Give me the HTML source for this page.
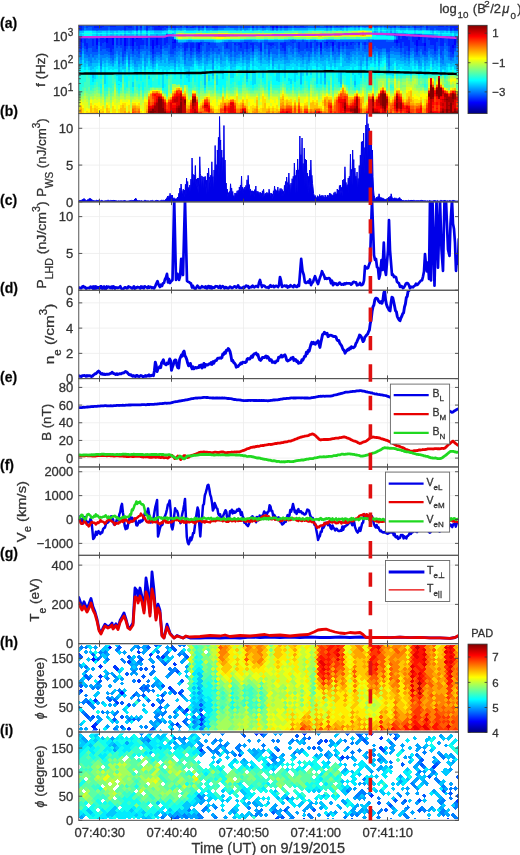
<!DOCTYPE html>
<html><head><meta charset="utf-8"><style>
html,body{margin:0;padding:0;background:#fff;overflow:hidden}
svg{display:block;will-change:transform}
</style></head><body>
<svg width="520" height="855" viewBox="0 0 520 855">
<rect width="520" height="855" fill="#fff"/><g stroke="#ececec" stroke-width="0.8"><line x1="99.5" y1="113.55" x2="99.5" y2="201.89999999999998"/><line x1="171.5" y1="113.55" x2="171.5" y2="201.89999999999998"/><line x1="243.5" y1="113.55" x2="243.5" y2="201.89999999999998"/><line x1="315.5" y1="113.55" x2="315.5" y2="201.89999999999998"/><line x1="387.5" y1="113.55" x2="387.5" y2="201.89999999999998"/><line x1="78.75" y1="201.90" x2="458.5" y2="201.90"/><line x1="78.75" y1="165.09" x2="458.5" y2="165.09"/><line x1="78.75" y1="128.28" x2="458.5" y2="128.28"/></g><g stroke="#ececec" stroke-width="0.8"><line x1="99.5" y1="201.89999999999998" x2="99.5" y2="290.25"/><line x1="171.5" y1="201.89999999999998" x2="171.5" y2="290.25"/><line x1="243.5" y1="201.89999999999998" x2="243.5" y2="290.25"/><line x1="315.5" y1="201.89999999999998" x2="315.5" y2="290.25"/><line x1="387.5" y1="201.89999999999998" x2="387.5" y2="290.25"/><line x1="78.75" y1="290.25" x2="458.5" y2="290.25"/><line x1="78.75" y1="253.44" x2="458.5" y2="253.44"/><line x1="78.75" y1="216.62" x2="458.5" y2="216.62"/></g><g stroke="#ececec" stroke-width="0.8"><line x1="99.5" y1="290.24999999999994" x2="99.5" y2="378.5999999999999"/><line x1="171.5" y1="290.24999999999994" x2="171.5" y2="378.5999999999999"/><line x1="243.5" y1="290.24999999999994" x2="243.5" y2="378.5999999999999"/><line x1="315.5" y1="290.24999999999994" x2="315.5" y2="378.5999999999999"/><line x1="387.5" y1="290.24999999999994" x2="387.5" y2="378.5999999999999"/><line x1="78.75" y1="378.60" x2="458.5" y2="378.60"/><line x1="78.75" y1="353.36" x2="458.5" y2="353.36"/><line x1="78.75" y1="328.12" x2="458.5" y2="328.12"/><line x1="78.75" y1="302.87" x2="458.5" y2="302.87"/></g><g stroke="#ececec" stroke-width="0.8"><line x1="99.5" y1="378.59999999999997" x2="99.5" y2="466.94999999999993"/><line x1="171.5" y1="378.59999999999997" x2="171.5" y2="466.94999999999993"/><line x1="243.5" y1="378.59999999999997" x2="243.5" y2="466.94999999999993"/><line x1="315.5" y1="378.59999999999997" x2="315.5" y2="466.94999999999993"/><line x1="387.5" y1="378.59999999999997" x2="387.5" y2="466.94999999999993"/><line x1="78.75" y1="458.10" x2="458.5" y2="458.10"/><line x1="78.75" y1="440.43" x2="458.5" y2="440.43"/><line x1="78.75" y1="422.76" x2="458.5" y2="422.76"/><line x1="78.75" y1="405.09" x2="458.5" y2="405.09"/><line x1="78.75" y1="387.42" x2="458.5" y2="387.42"/></g><g stroke="#ececec" stroke-width="0.8"><line x1="99.5" y1="466.95" x2="99.5" y2="555.3"/><line x1="171.5" y1="466.95" x2="171.5" y2="555.3"/><line x1="243.5" y1="466.95" x2="243.5" y2="555.3"/><line x1="315.5" y1="466.95" x2="315.5" y2="555.3"/><line x1="387.5" y1="466.95" x2="387.5" y2="555.3"/><line x1="78.75" y1="543.38" x2="458.5" y2="543.38"/><line x1="78.75" y1="519.50" x2="458.5" y2="519.50"/><line x1="78.75" y1="495.62" x2="458.5" y2="495.62"/><line x1="78.75" y1="471.74" x2="458.5" y2="471.74"/></g><g stroke="#ececec" stroke-width="0.8"><line x1="99.5" y1="555.3" x2="99.5" y2="643.65"/><line x1="171.5" y1="555.3" x2="171.5" y2="643.65"/><line x1="243.5" y1="555.3" x2="243.5" y2="643.65"/><line x1="315.5" y1="555.3" x2="315.5" y2="643.65"/><line x1="387.5" y1="555.3" x2="387.5" y2="643.65"/><line x1="78.75" y1="643.65" x2="458.5" y2="643.65"/><line x1="78.75" y1="604.39" x2="458.5" y2="604.39"/><line x1="78.75" y1="565.13" x2="458.5" y2="565.13"/></g><defs><clipPath id="cpa"><rect x="78.75" y="25.2" width="379.75" height="88.35"/></clipPath><clipPath id="cpb"><rect x="78.75" y="113.55" width="379.75" height="88.35"/></clipPath><clipPath id="cpc"><rect x="78.75" y="201.89999999999998" width="379.75" height="88.35"/></clipPath><clipPath id="cpd"><rect x="78.75" y="290.24999999999994" width="379.75" height="88.35"/></clipPath><clipPath id="cpe"><rect x="78.75" y="378.59999999999997" width="379.75" height="88.35"/></clipPath><clipPath id="cpf"><rect x="78.75" y="466.95" width="379.75" height="88.35"/></clipPath><clipPath id="cpg"><rect x="78.75" y="555.3" width="379.75" height="88.35"/></clipPath><clipPath id="cph"><rect x="78.75" y="643.65" width="379.75" height="88.35"/></clipPath><clipPath id="cpi"><rect x="78.75" y="732.0" width="379.75" height="88.35"/></clipPath><clipPath id="cqh"><rect x="78.75" y="645.10" width="379.75" height="85.45"/></clipPath><clipPath id="cqi"><rect x="78.75" y="733.45" width="379.75" height="85.45"/></clipPath></defs><g clip-path="url(#cpa)" shape-rendering="crispEdges"><g fill="none" stroke-width="2"><path stroke="#0000ff" d="M79 25v1.5M81 38.5v3M97 37v7.5M107 37v6M113 37v7.5M125 37v9M133 37v9M137 37v1.5M153 40v9M157 37v7.5M159 25v1.5M173 41.5v1.5M175 40v3M199 43v6M273 25v3M277 25v3M321 43v4.5M327 41.5v1.5M333 41.5v4.5M397 40v3M417 40v6M419 37v3M425 43v3M453 44.5v3M455 37v7.5"/><path stroke="#0020ff" d="M79 26.5v3M79 37v10.5M81 25v4.5M81 37v1.5M81 41.5v7.5M85 38.5v7.5M87 43v6M93 38.5v7.5M95 25v3M97 25v3M97 35.5v1.5M97 44.5v4.5M99 25v3M101 25v3M101 37v9M103 25v1.5M103 37v6M105 38.5v3M107 35.5v1.5M107 43v4.5M109 37v10.5M111 25v1.5M111 35.5v16.5M113 25v1.5M113 35.5v1.5M113 44.5v4.5M115 25v1.5M117 35.5v9M121 35.5v9M125 25v4.5M125 35.5v1.5M125 46v4.5M127 25v1.5M127 37v9M129 25v3M131 25v3M131 35.5v10.5M133 35.5v1.5M133 46v4.5M135 38.5v3M137 25v4.5M137 35.5v1.5M137 38.5v7.5M139 37v12M141 25v3M141 35.5v9M143 40v4.5M147 25v4.5M147 35.5v10.5M151 37v9M153 25v1.5M153 37v3M153 49v4.5M155 25v4.5M155 35.5v10.5M157 25v4.5M157 35.5v1.5M157 44.5v3M159 26.5v3M159 37v7.5M161 25v4.5M161 35.5v13.5M163 25v3M165 25v1.5M165 37v7.5M167 25v3M167 35.5v7.5M171 25v1.5M173 25v3M173 38.5v3M173 43v6M175 25v3M175 43v4.5M181 25v1.5M185 43v7.5M187 25v3M187 43v4.5M191 26.5v1.5M191 43v7.5M193 25v3M193 43v4.5M195 25v1.5M197 43v7.5M199 25v3M199 49v3M201 41.5v3M203 25v3M207 25v3M209 43v1.5M213 25v3M215 25v3M217 25v3M227 43v4.5M235 43v1.5M239 43v1.5M241 43v4.5M245 41.5v1.5M247 41.5v7.5M251 43v1.5M253 25v3M253 43v7.5M261 43v7.5M263 25v3M269 43v1.5M271 25v1.5M271 43v3M273 43v1.5M275 25v1.5M281 25v3M281 43v1.5M283 43v4.5M285 25v3M285 41.5v9M287 25v3M293 41.5v1.5M295 25v1.5M299 41.5v7.5M301 25v1.5M303 25v1.5M307 41.5v6M311 41.5v6M315 25v1.5M317 41.5v4.5M321 41.5v1.5M321 47.5v3M325 41.5v1.5M327 25v1.5M327 43v3M331 25v1.5M331 41.5v1.5M333 46v4.5M337 25v1.5M339 41.5v7.5M341 25v1.5M343 25v1.5M343 41.5v4.5M347 25v1.5M347 41.5v4.5M351 41.5v3M353 41.5v1.5M359 25v1.5M359 41.5v3M365 41.5v3M371 41.5v1.5M395 25v1.5M395 40v3M397 34v1.5M397 43v3M399 35.5v7.5M401 25v1.5M401 38.5v9M403 34v7.5M405 35.5v10.5M407 37v9M409 40v10.5M413 35.5v6M415 25v3M415 35.5v9M417 35.5v4.5M417 46v6M419 35.5v1.5M419 40v6M421 25v1.5M421 35.5v10.5M423 43v3M425 37v6M425 46v4.5M427 25v3M429 37v3M431 37v7.5M433 35.5v9M435 38.5v12M437 37v4.5M439 25v1.5M441 25v1.5M441 37v9M443 25v1.5M443 37v9M447 25v1.5M449 37v9M451 25v4.5M451 37v15M453 25v3M453 38.5v6M453 47.5v6M455 25v4.5M455 44.5v3M457 25v4.5M459 25v1.5"/><path stroke="#0060ff" d="M79 29.5v1.5M79 50.5v3M81 29.5v1.5M81 53.5v3M83 35.5v1.5M83 43v4.5M85 25v3M85 35.5v1.5M85 49v4.5M87 28v1.5M87 52v3M89 26.5v3M89 37v1.5M89 47.5v9M91 26.5v3M91 35.5v1.5M91 47.5v6M93 35.5v1.5M93 52v4.5M95 35.5v1.5M95 52v3M97 29.5v1.5M97 52v3M99 41.5v4.5M101 50.5v4.5M103 49v6M105 49v4.5M107 50.5v3M109 26.5v3M109 52v3M111 55v3M113 55v4.5M115 35.5v18M117 47.5v3M119 35.5v1.5M119 46v9M121 47.5v4.5M123 35.5v1.5M123 56.5v4.5M125 29.5v1.5M125 53.5v3M127 49v3M129 46v13.5M131 49v4.5M133 53.5v3M135 25v4.5M135 49v6M137 29.5v1.5M137 50.5v6M139 25v4.5M139 53.5v4.5M141 49v3M143 35.5v1.5M143 49v1.5M145 25v4.5M145 35.5v1.5M145 44.5v6M147 29.5v1.5M147 49v6M149 28v1.5M149 35.5v15M151 26.5v3M151 52v3M153 58v3M155 53.5v3M157 52v3M159 52v3M161 53.5v3M163 46v3M165 47.5v3M167 28v1.5M167 47.5v3M169 25v3M169 34v3M169 44.5v9M171 34v3M171 53.5v3M173 53.5v3M175 28v1.5M175 50.5v4.5M177 40v1.5M177 46v6M179 47.5v3M181 43v1.5M181 46v3M183 25v3M183 47.5v4.5M185 26.5v1.5M185 41.5v1.5M185 55v4.5M187 50.5v3M189 47.5v6M191 55v3M193 52v3M195 41.5v1.5M195 47.5v4.5M197 26.5v1.5M197 53.5v3M199 28v1.5M199 53.5v4.5M201 52v4.5M203 46v4.5M205 25v1.5M205 43v10.5M207 52v4.5M209 50.5v4.5M211 41.5v1.5M211 47.5v4.5M213 41.5v1.5M213 50.5v3M215 28v1.5M215 47.5v4.5M217 28v1.5M217 43v3M217 47.5v6M219 43v6M219 50.5v3M221 43v9M223 41.5v4.5M225 49v4.5M227 25v3M227 49v3M229 26.5v1.5M229 49v4.5M231 52v4.5M233 43v7.5M235 52v4.5M237 46v9M239 25v3M239 50.5v3M241 50.5v1.5M243 25v3M243 53.5v3M245 40v1.5M245 49v3M247 40v1.5M247 52v3M249 40v1.5M249 49v4.5M251 25v3M251 40v1.5M251 47.5v4.5M253 52v3M255 25v3M255 44.5v4.5M257 46v3M259 25v3M259 41.5v1.5M259 47.5v3M261 52v3M263 41.5v1.5M265 40v1.5M265 49v4.5M267 26.5v1.5M267 40v1.5M267 44.5v4.5M269 25v3M269 53.5v3M271 49v3M273 47.5v6M275 46v7.5M277 28v1.5M277 49v6M279 41.5v7.5M281 50.5v3M283 50.5v3M285 40v1.5M285 53.5v3M287 40v1.5M287 46v7.5M289 40v1.5M289 44.5v3M291 46v6M293 25v3M293 49v4.5M295 43v4.5M297 40v1.5M297 47.5v4.5M299 40v1.5M299 52v1.5M301 40v1.5M301 50.5v4.5M303 50.5v6M305 40v1.5M305 49v4.5M307 26.5v1.5M307 40v1.5M307 50.5v1.5M309 25v3M309 50.5v6M311 25v3M311 40v1.5M311 52v1.5M313 25v3M313 40v1.5M313 43v4.5M315 50.5v3M317 26.5v1.5M317 40v1.5M317 49v3M319 26.5v1.5M319 44.5v3M321 25v3M321 53.5v1.5M323 25v3M323 40v9M325 26.5v1.5M325 40v1.5M325 47.5v3M327 49v3M329 26.5v1.5M329 47.5v4.5M331 46v1.5M333 25v1.5M333 52v3M335 26.5v1.5M335 44.5v9M337 26.5v1.5M337 40v1.5M337 47.5v4.5M339 26.5v1.5M339 40v1.5M339 52v3M341 26.5v1.5M341 40v1.5M341 46v3M343 26.5v1.5M343 40v1.5M343 49v3M345 40v1.5M345 44.5v4.5M347 26.5v1.5M347 40v1.5M347 49v6M349 40v1.5M349 49v6M351 40v1.5M351 49v3M353 25v1.5M353 40v1.5M353 49v1.5M355 40v1.5M355 44.5v6M357 25v1.5M357 40v1.5M357 43v4.5M359 40v1.5M359 47.5v3M361 25v1.5M361 40v3M363 40v1.5M363 44.5v6M365 40v1.5M365 49v3M367 40v1.5M367 44.5v7.5M369 47.5v4.5M371 40v1.5M371 46v4.5M373 25v1.5M373 32.5v1.5M373 49v3M375 26.5v1.5M375 32.5v1.5M375 46v4.5M377 32.5v1.5M377 47.5v3M379 25v1.5M379 32.5v1.5M379 49v6M381 32.5v1.5M381 49v3M383 25v1.5M383 32.5v1.5M383 47.5v1.5M385 32.5v1.5M385 47.5v1.5M387 26.5v1.5M387 32.5v1.5M387 40v1.5M387 52v1.5M389 26.5v1.5M389 32.5v1.5M389 40v1.5M389 52v6M391 32.5v1.5M391 40v1.5M391 47.5v3M393 26.5v1.5M393 32.5v1.5M393 40v1.5M393 46v4.5M395 47.5v4.5M397 25v1.5M397 35.5v3M397 49v3M399 25v3M399 47.5v4.5M401 52v3M403 47.5v6M405 53.5v3M407 25v3M407 50.5v4.5M409 34v1.5M409 55v3M411 25v3M411 47.5v4.5M413 26.5v1.5M413 47.5v3M415 28v1.5M415 52v4.5M417 55v1.5M419 50.5v6M421 28v1.5M421 34v1.5M421 49v3M423 26.5v1.5M423 35.5v1.5M423 53.5v1.5M425 25v3M425 55v1.5M427 35.5v1.5M427 52v4.5M429 28v1.5M429 47.5v3M431 49v4.5M433 49v6M435 28v1.5M435 53.5v3M437 50.5v4.5M439 35.5v1.5M439 46v3M441 55v3M443 50.5v9M445 35.5v1.5M445 43v6M447 29.5v1.5M447 35.5v1.5M447 46v4.5M449 28v1.5M449 52v4.5M451 35.5v1.5M451 56.5v3M453 29.5v1.5M453 56.5v1.5M455 50.5v1.5M457 43v4.5M459 29.5v1.5M459 52v4.5M461 28v3M461 38.5v6M461 56.5v3"/><path stroke="#00bfff" d="M79 31v1.5M79 58v3M81 31v1.5M81 34v1.5M81 62.5v3M83 31v1.5M83 53.5v6M85 62.5v4.5M87 61v3M89 65.5v1.5M91 65.5v4.5M93 62.5v6M93 73v4.5M95 62.5v4.5M97 31v1.5M97 34v1.5M97 62.5v3M99 31v1.5M99 59.5v3M101 31v1.5M101 34v1.5M101 68.5v3M103 61v3M105 62.5v4.5M107 31v1.5M107 34v1.5M107 59.5v3M109 62.5v3M111 31v1.5M111 34v1.5M111 64v1.5M113 31v1.5M113 34v1.5M113 65.5v1.5M115 61v3M117 31v1.5M117 34v1.5M117 56.5v4.5M119 67v4.5M121 34v1.5M121 62.5v4.5M123 65.5v3M125 31v1.5M125 64v4.5M127 34v1.5M127 56.5v3M129 31v1.5M129 34v1.5M129 67v3M131 31v1.5M131 34v1.5M131 59.5v4.5M133 34v1.5M133 62.5v3M135 67v3M137 31v1.5M137 67v3M139 29.5v1.5M139 64v3M141 31v1.5M141 34v1.5M141 64v4.5M143 29.5v1.5M143 58v3M145 29.5v1.5M145 67v3M147 31v1.5M147 62.5v3M149 58v3M151 34v1.5M151 62.5v3M153 34v1.5M153 67v1.5M155 31v1.5M155 34v1.5M155 64v3M157 31v1.5M157 59.5v3M159 31v1.5M159 34v1.5M159 61v4.5M161 31v1.5M161 34v1.5M161 62.5v3M163 34v1.5M163 59.5v6M165 34v1.5M165 62.5v4.5M167 32.5v1.5M167 58v7.5M169 64v3M171 62.5v3M173 29.5v1.5M173 32.5v3M173 62.5v3M175 29.5v1.5M175 67v3M177 61v3M179 40v1.5M179 62.5v4.5M181 29.5v1.5M181 40v1.5M181 56.5v7.5M183 40v1.5M183 59.5v4.5M185 40v1.5M185 65.5v3M187 29.5v1.5M187 65.5v3M189 29.5v1.5M189 65.5v6M189 73v3M191 29.5v1.5M191 65.5v1.5M193 29.5v1.5M193 64v3M195 58v3M197 61v3M199 64v1.5M201 62.5v3M203 29.5v1.5M203 58v4.5M205 28v1.5M205 64v21M207 29.5v1.5M207 64v1.5M209 29.5v1.5M209 61v3M211 59.5v4.5M213 29.5v1.5M213 68.5v7.5M215 29.5v1.5M215 40v1.5M215 58v3M217 29.5v1.5M217 61v3M219 58v4.5M221 64v3M223 40v1.5M223 61v6M225 61v4.5M227 56.5v3M229 61v1.5M231 64v4.5M233 61v6M235 64v3M237 29.5v1.5M237 61v3M239 61v1.5M241 29.5v1.5M241 58v4.5M243 62.5v3M245 29.5v1.5M245 59.5v3M247 64v15M249 62.5v4.5M251 28v1.5M251 58v3M253 29.5v1.5M253 61v4.5M255 55v3M257 56.5v4.5M259 59.5v3M261 62.5v3M263 29.5v1.5M263 58v6M265 59.5v4.5M267 61v3M269 62.5v3M271 29.5v1.5M271 56.5v3M273 65.5v3M275 61v3M277 61v3M279 59.5v9M279 71.5v1.5M281 29.5v1.5M281 61v3M283 59.5v4.5M285 29.5v1.5M285 64v6M285 71.5v1.5M287 29.5v1.5M287 62.5v3M289 38.5v1.5M289 62.5v3M291 38.5v1.5M291 59.5v4.5M293 28v1.5M293 59.5v3M295 38.5v1.5M295 58v6M297 61v4.5M299 59.5v3M301 61v6M301 71.5v12M303 38.5v1.5M303 64v3M305 59.5v4.5M307 64v6M307 71.5v3M309 28v1.5M309 62.5v3M311 28v1.5M311 59.5v3M313 28v1.5M313 56.5v4.5M315 59.5v3M317 28v1.5M317 61v6M319 28v1.5M319 56.5v6M321 28v1.5M321 61v3M323 28v1.5M323 61v4.5M325 28v1.5M325 59.5v12M325 77.5v6M327 29.5v1.5M327 38.5v1.5M327 58v3M329 28v1.5M329 38.5v1.5M329 61v3M331 38.5v1.5M331 55v12M333 38.5v1.5M333 59.5v3M335 28v1.5M335 62.5v4.5M337 28v1.5M337 59.5v3M339 28v1.5M339 59.5v3M341 38.5v1.5M341 53.5v3M341 71.5v12M343 28v1.5M343 38.5v1.5M343 58v9M345 38.5v1.5M345 61v4.5M347 28v1.5M347 38.5v1.5M347 62.5v3M349 38.5v1.5M349 62.5v3M351 38.5v1.5M351 61v3M353 38.5v1.5M353 56.5v6M355 28v1.5M355 38.5v1.5M355 59.5v4.5M355 80.5v4.5M357 38.5v1.5M357 56.5v4.5M359 28v1.5M359 38.5v1.5M359 59.5v6M361 26.5v1.5M361 38.5v1.5M361 65.5v4.5M361 71.5v1.5M363 38.5v1.5M363 61v3M365 38.5v1.5M365 56.5v4.5M367 65.5v3M369 58v3M371 28v1.5M371 59.5v3M373 26.5v1.5M373 55v3M375 28v1.5M375 38.5v1.5M375 61v3M377 28v1.5M377 31v1.5M377 38.5v1.5M377 53.5v3M379 38.5v1.5M379 62.5v3M381 28v1.5M381 31v1.5M381 38.5v1.5M381 58v3M383 38.5v1.5M383 55v3M385 28v1.5M385 38.5v1.5M385 55v1.5M387 28v1.5M387 31v1.5M387 34v1.5M387 38.5v1.5M387 62.5v4.5M389 28v1.5M389 34v1.5M389 68.5v4.5M391 29.5v1.5M391 34v1.5M391 58v7.5M393 28v1.5M393 58v6M393 71.5v1.5M395 29.5v3M395 37v1.5M395 58v3M397 28v1.5M397 59.5v6M399 28v1.5M399 59.5v4.5M401 61v3M403 61v3M405 62.5v3M407 28v1.5M407 32.5v1.5M407 61v4.5M409 64v3M411 58v4.5M413 58v3M415 29.5v1.5M415 32.5v1.5M415 62.5v3M417 61v3M419 29.5v1.5M419 65.5v3M421 29.5v1.5M421 65.5v3M423 59.5v3M425 65.5v4.5M427 29.5v1.5M427 62.5v3M429 29.5v1.5M429 61v4.5M431 58v3M433 31v1.5M433 64v3M435 34v1.5M435 61v3M437 34v1.5M437 62.5v3M439 56.5v6M441 31v1.5M441 34v1.5M441 67v4.5M441 73v1.5M443 31v1.5M443 65.5v3M445 65.5v4.5M447 31v1.5M447 62.5v4.5M449 62.5v1.5M451 64v3M453 31v1.5M453 62.5v3M455 32.5v3M455 62.5v6M457 32.5v1.5M457 67v3M459 31v1.5M459 35.5v1.5M459 62.5v3M461 65.5v1.5"/><path stroke="#00dfff" d="M79 32.5v3M79 61v6M81 32.5v1.5M81 65.5v3M83 34v1.5M83 59.5v7.5M85 67v3M87 64v3M89 67v3M91 70v4.5M93 31v1.5M93 34v1.5M93 68.5v4.5M93 77.5v4.5M95 31v1.5M95 34v1.5M95 67v12M97 32.5v1.5M97 65.5v3M99 34v1.5M99 62.5v3M101 71.5v3M103 31v1.5M103 34v1.5M103 64v3M105 31v1.5M105 34v1.5M105 67v16.5M107 32.5v1.5M107 62.5v4.5M109 31v1.5M109 34v1.5M109 65.5v4.5M111 65.5v3M113 32.5v1.5M113 67v3M115 31v1.5M115 34v1.5M115 64v4.5M117 61v7.5M117 74.5v1.5M119 31v1.5M119 34v1.5M119 71.5v9M119 83.5v1.5M121 31v1.5M121 67v15M123 31v1.5M123 34v1.5M123 68.5v1.5M125 32.5v1.5M125 68.5v6M127 31v1.5M127 59.5v3M129 70v1.5M131 32.5v1.5M131 64v3M133 31v1.5M133 65.5v3M133 82v4.5M135 34v1.5M135 70v1.5M137 32.5v1.5M137 70v4.5M139 34v1.5M139 67v3M141 32.5v1.5M141 68.5v3M143 34v1.5M143 61v4.5M145 34v1.5M145 70v4.5M147 32.5v1.5M147 65.5v1.5M149 61v7.5M149 76v3M151 31v1.5M151 65.5v3M153 31v1.5M153 68.5v3M155 32.5v1.5M155 67v3M157 32.5v1.5M157 62.5v1.5M159 32.5v1.5M159 65.5v4.5M161 32.5v1.5M161 65.5v3M163 31v1.5M163 65.5v6M163 74.5v13.5M165 31v1.5M165 67v3M167 31v1.5M167 65.5v10.5M169 67v3M171 29.5v1.5M171 65.5v3M173 65.5v3M175 31v3M175 37v1.5M175 70v4.5M177 29.5v1.5M177 38.5v1.5M177 64v3M179 29.5v1.5M179 67v3M181 64v15M183 29.5v1.5M183 64v3M185 68.5v3M185 73v1.5M187 68.5v9M189 71.5v1.5M189 76v6M191 67v3M193 67v3M195 29.5v1.5M195 61v3M197 29.5v1.5M197 64v1.5M199 65.5v3M201 29.5v1.5M201 65.5v3M203 62.5v3M205 85v3M207 65.5v3M209 64v4.5M209 74.5v6M211 29.5v1.5M211 64v4.5M213 76v3M215 61v4.5M217 40v1.5M217 64v4.5M217 74.5v10.5M219 29.5v1.5M219 40v1.5M219 62.5v3M221 29.5v1.5M221 40v1.5M221 67v6M223 29.5v1.5M223 67v12M225 29.5v1.5M225 65.5v3M227 29.5v1.5M227 59.5v7.5M229 29.5v1.5M229 62.5v3M231 29.5v1.5M231 68.5v9M233 29.5v1.5M233 67v10.5M235 29.5v1.5M235 67v3M237 64v1.5M239 29.5v1.5M239 62.5v3M241 62.5v4.5M243 65.5v4.5M243 71.5v1.5M245 38.5v1.5M245 62.5v3M247 29.5v1.5M247 38.5v1.5M247 79v3M249 29.5v1.5M249 38.5v1.5M249 67v3M251 38.5v1.5M251 61v3M253 38.5v1.5M253 65.5v19.5M255 29.5v1.5M255 38.5v1.5M255 58v7.5M255 71.5v12M257 29.5v1.5M257 61v6M259 62.5v6M261 29.5v1.5M261 65.5v4.5M263 64v13.5M265 29.5v1.5M265 38.5v1.5M265 64v6M267 38.5v1.5M267 64v3M269 29.5v1.5M269 65.5v3M271 59.5v4.5M273 68.5v3M275 29.5v1.5M275 38.5v1.5M275 64v3M277 38.5v1.5M277 64v4.5M277 73v7.5M279 29.5v1.5M279 68.5v3M279 73v9M281 64v4.5M283 29.5v1.5M283 64v6M285 38.5v1.5M285 70v1.5M285 73v4.5M287 38.5v1.5M287 65.5v3M289 29.5v1.5M289 65.5v3M289 77.5v3M291 29.5v1.5M291 64v4.5M291 79v4.5M293 62.5v4.5M295 29.5v1.5M295 64v18M297 29.5v1.5M297 38.5v1.5M297 65.5v9M299 29.5v1.5M299 38.5v1.5M299 62.5v4.5M301 29.5v1.5M301 38.5v1.5M301 67v4.5M301 83.5v1.5M303 29.5v1.5M303 67v9M305 29.5v1.5M305 38.5v1.5M305 64v4.5M307 29.5v1.5M307 70v1.5M307 74.5v1.5M309 65.5v3M311 38.5v1.5M311 62.5v7.5M311 71.5v3M313 38.5v1.5M313 61v4.5M315 29.5v1.5M315 38.5v1.5M315 62.5v3M317 67v16.5M319 62.5v4.5M321 64v4.5M321 71.5v12M323 65.5v4.5M325 29.5v1.5M325 38.5v1.5M325 83.5v1.5M327 61v4.5M329 29.5v1.5M329 64v3M331 29.5v1.5M331 67v3M333 28v1.5M333 62.5v3M335 38.5v1.5M335 67v1.5M337 29.5v1.5M337 38.5v1.5M337 62.5v4.5M339 38.5v1.5M339 62.5v19.5M341 56.5v6M341 65.5v6M341 83.5v3M343 29.5v1.5M343 67v6M345 28v1.5M345 65.5v4.5M347 29.5v1.5M347 65.5v3M349 28v1.5M349 65.5v3M351 28v1.5M351 64v3M353 28v1.5M353 62.5v7.5M353 71.5v3M355 64v3M355 74.5v6M355 85v1.5M357 28v1.5M357 61v4.5M359 65.5v9M361 70v1.5M361 73v4.5M363 28v1.5M363 64v3M365 28v1.5M365 61v4.5M367 28v1.5M367 68.5v4.5M369 28v1.5M369 61v4.5M371 62.5v1.5M373 31v1.5M373 58v4.5M375 29.5v1.5M375 64v3M377 29.5v1.5M377 34v1.5M377 56.5v4.5M379 34v1.5M379 65.5v4.5M381 29.5v1.5M381 34v1.5M381 61v3M383 28v1.5M383 31v1.5M383 34v1.5M383 58v3M385 31v1.5M385 34v1.5M385 56.5v3M387 29.5v1.5M387 67v7.5M389 29.5v3M389 38.5v1.5M389 73v1.5M391 38.5v1.5M391 65.5v9M393 29.5v3M393 38.5v1.5M393 64v7.5M393 73v3M395 61v1.5M397 31v1.5M397 65.5v4.5M397 71.5v1.5M399 64v4.5M401 29.5v1.5M401 64v3M403 29.5v3M403 64v4.5M405 29.5v1.5M405 65.5v4.5M407 65.5v4.5M409 29.5v1.5M409 32.5v1.5M409 67v3M411 29.5v1.5M411 32.5v1.5M411 62.5v12M413 29.5v1.5M413 32.5v1.5M413 61v4.5M415 31v1.5M415 65.5v3M417 29.5v1.5M417 32.5v1.5M417 64v1.5M419 32.5v1.5M419 68.5v6M421 32.5v1.5M421 68.5v3M423 29.5v1.5M423 62.5v4.5M425 29.5v1.5M425 70v4.5M427 65.5v3M429 65.5v3M431 31v1.5M431 61v3M433 32.5v1.5M433 67v3M435 64v4.5M437 31v1.5M437 65.5v4.5M439 31v1.5M439 34v1.5M439 62.5v4.5M441 32.5v1.5M441 71.5v1.5M441 74.5v1.5M443 34v1.5M443 68.5v1.5M445 31v1.5M445 34v1.5M445 70v4.5M447 34v1.5M447 67v4.5M449 31v1.5M449 34v1.5M449 64v3M451 32.5v3M451 67v3M453 65.5v1.5M455 68.5v1.5M457 34v1.5M457 70v1.5M459 65.5v4.5M461 31v1.5M461 67v3"/><path stroke="#0040ff" d="M79 35.5v1.5M79 47.5v3M81 35.5v1.5M81 49v4.5M83 25v4.5M83 37v6M85 37v1.5M85 46v3M87 25v3M87 37v6M87 49v3M89 25v1.5M89 38.5v9M91 25v1.5M91 37v10.5M93 25v4.5M93 37v1.5M93 46v6M95 28v1.5M95 37v15M97 28v1.5M97 49v3M99 28v1.5M99 35.5v6M101 28v1.5M101 35.5v1.5M101 46v4.5M103 26.5v3M103 35.5v1.5M103 43v6M105 25v4.5M105 35.5v3M105 41.5v7.5M107 25v4.5M107 47.5v3M109 25v1.5M109 35.5v1.5M109 47.5v4.5M111 26.5v3M111 52v3M113 26.5v3M113 49v6M115 26.5v3M117 25v4.5M117 44.5v3M119 25v4.5M119 37v9M121 25v4.5M121 44.5v3M123 25v4.5M123 37v19.5M125 50.5v3M127 26.5v3M127 35.5v1.5M127 46v3M129 28v1.5M129 35.5v10.5M131 28v1.5M131 46v3M133 25v4.5M133 50.5v3M135 35.5v3M135 41.5v7.5M137 46v4.5M139 35.5v1.5M139 49v4.5M141 28v1.5M141 44.5v4.5M143 37v3M143 44.5v4.5M145 37v7.5M147 46v3M149 25v3M151 25v1.5M151 35.5v1.5M151 46v6M153 26.5v3M153 35.5v1.5M153 53.5v4.5M155 46v7.5M157 47.5v4.5M159 35.5v1.5M159 44.5v7.5M161 49v4.5M163 28v1.5M163 35.5v10.5M165 26.5v3M165 35.5v1.5M165 44.5v3M167 34v1.5M167 43v4.5M169 37v7.5M171 26.5v1.5M171 37v16.5M173 37v1.5M173 49v4.5M175 38.5v1.5M175 47.5v3M177 25v3M177 41.5v4.5M179 25v3M179 43v4.5M181 26.5v1.5M181 44.5v1.5M183 43v4.5M185 25v1.5M185 50.5v4.5M187 41.5v1.5M187 47.5v3M189 25v3M189 41.5v6M191 25v1.5M191 41.5v1.5M191 50.5v4.5M193 41.5v1.5M193 47.5v4.5M195 26.5v1.5M195 43v4.5M197 25v1.5M197 41.5v1.5M197 50.5v3M199 41.5v1.5M199 52v1.5M201 25v3M201 44.5v7.5M203 41.5v4.5M205 41.5v1.5M207 41.5v10.5M209 25v3M209 41.5v1.5M209 44.5v6M211 25v3M211 43v4.5M213 43v7.5M215 43v4.5M217 46v1.5M219 25v3M219 49v1.5M221 25v3M223 25v3M225 25v3M225 41.5v7.5M227 41.5v1.5M227 47.5v1.5M229 25v1.5M229 41.5v7.5M231 25v3M231 41.5v10.5M233 25v3M233 41.5v1.5M235 25v3M235 41.5v1.5M235 44.5v7.5M237 25v3M237 41.5v4.5M239 41.5v1.5M239 44.5v6M241 25v3M241 41.5v1.5M241 47.5v3M243 41.5v12M245 25v3M245 43v6M247 25v3M247 49v3M249 25v3M249 41.5v7.5M251 41.5v1.5M251 44.5v3M253 41.5v1.5M253 50.5v1.5M255 41.5v3M257 25v3M257 41.5v4.5M259 43v4.5M261 25v3M261 41.5v1.5M261 50.5v1.5M265 25v3M265 41.5v7.5M267 25v1.5M267 41.5v3M269 41.5v1.5M269 44.5v9M271 26.5v1.5M271 41.5v1.5M271 46v3M273 28v1.5M273 41.5v1.5M273 44.5v3M275 26.5v1.5M275 41.5v4.5M277 41.5v7.5M279 25v3M281 41.5v1.5M281 44.5v6M283 25v3M283 41.5v1.5M283 47.5v3M285 50.5v3M287 41.5v4.5M289 25v3M289 41.5v3M291 25v3M291 40v6M293 40v1.5M293 43v6M295 26.5v1.5M295 40v3M297 25v3M297 41.5v6M299 25v3M299 49v3M301 26.5v1.5M301 41.5v9M303 26.5v1.5M303 40v10.5M305 25v3M305 41.5v7.5M307 25v1.5M307 47.5v3M309 41.5v9M311 47.5v4.5M313 41.5v1.5M315 26.5v1.5M315 40v10.5M317 25v1.5M317 46v3M319 25v1.5M319 41.5v3M321 50.5v3M325 25v1.5M325 43v4.5M327 26.5v1.5M327 40v1.5M327 46v3M329 25v1.5M329 40v7.5M331 26.5v1.5M331 40v1.5M331 43v3M333 40v1.5M333 50.5v1.5M335 25v1.5M335 40v4.5M337 41.5v6M339 25v1.5M339 49v3M341 41.5v4.5M343 46v3M345 25v1.5M345 41.5v3M347 46v3M349 25v1.5M349 41.5v7.5M351 25v1.5M351 44.5v4.5M353 43v6M355 25v1.5M355 41.5v3M357 41.5v1.5M359 44.5v3M363 25v1.5M363 41.5v3M365 25v1.5M365 44.5v4.5M367 25v1.5M367 41.5v3M369 25v1.5M369 40v7.5M371 25v1.5M371 43v3M373 40v9M375 25v1.5M375 40v6M377 25v1.5M377 40v7.5M379 40v9M381 25v1.5M381 40v9M383 40v7.5M385 25v1.5M385 40v7.5M387 25v1.5M387 41.5v10.5M389 25v1.5M389 41.5v10.5M391 25v3M391 41.5v6M393 25v1.5M393 41.5v4.5M395 26.5v1.5M395 32.5v3M395 43v4.5M397 38.5v1.5M397 46v3M399 34v1.5M399 43v4.5M401 26.5v1.5M401 34v4.5M401 47.5v4.5M403 25v3M403 41.5v6M405 25v3M405 34v1.5M405 46v7.5M407 34v3M407 46v4.5M409 25v3M409 35.5v4.5M409 50.5v4.5M411 34v13.5M413 25v1.5M413 34v1.5M413 41.5v6M415 34v1.5M415 44.5v7.5M417 25v3M417 34v1.5M417 52v3M419 25v3M419 34v1.5M419 46v4.5M421 26.5v1.5M421 46v3M423 25v1.5M423 37v6M423 46v7.5M425 35.5v1.5M425 50.5v4.5M427 28v1.5M427 37v15M429 25v3M429 35.5v1.5M429 40v7.5M431 25v4.5M431 35.5v1.5M431 44.5v4.5M433 25v4.5M433 44.5v4.5M435 25v3M435 35.5v3M435 50.5v3M437 25v4.5M437 35.5v1.5M437 41.5v9M439 26.5v3M439 37v9M441 26.5v3M441 35.5v1.5M441 46v9M443 26.5v3M443 35.5v1.5M443 46v4.5M445 25v4.5M445 37v6M447 26.5v3M447 37v9M449 25v3M449 46v6M451 29.5v1.5M451 52v4.5M453 28v1.5M453 37v1.5M453 53.5v3M455 29.5v1.5M455 47.5v3M457 29.5v1.5M457 37v6M459 26.5v3M459 37v15M461 25v3M461 44.5v12"/><path stroke="#0080ff" d="M79 53.5v1.5M81 56.5v3M83 29.5v1.5M83 47.5v3M85 28v1.5M85 53.5v4.5M87 35.5v1.5M87 55v3M89 35.5v1.5M89 56.5v4.5M91 53.5v9M93 29.5v1.5M93 56.5v1.5M95 29.5v1.5M95 55v4.5M97 55v3M99 29.5v1.5M99 46v7.5M101 29.5v1.5M101 55v10.5M103 29.5v1.5M103 55v3M105 29.5v1.5M105 53.5v4.5M107 29.5v1.5M107 53.5v3M109 55v3M111 29.5v1.5M111 58v3M113 29.5v1.5M113 59.5v3M115 29.5v1.5M115 53.5v4.5M117 29.5v1.5M117 50.5v3M119 55v9M121 29.5v1.5M121 52v4.5M123 61v3M125 56.5v3M127 29.5v1.5M127 52v3M129 29.5v1.5M129 59.5v4.5M131 29.5v1.5M131 53.5v3M133 56.5v3M135 55v9M137 56.5v4.5M139 58v3M141 29.5v1.5M141 52v6M143 25v4.5M143 50.5v3M145 50.5v10.5M147 55v3M149 50.5v4.5M151 55v4.5M153 61v3M155 29.5v1.5M155 56.5v4.5M157 29.5v1.5M157 55v1.5M159 29.5v1.5M159 55v3M161 29.5v1.5M161 56.5v3M163 29.5v1.5M163 49v4.5M165 50.5v4.5M167 50.5v4.5M169 53.5v7.5M171 28v1.5M171 56.5v3M173 28v1.5M173 56.5v3M175 55v7.5M177 52v4.5M179 28v1.5M179 41.5v1.5M179 50.5v4.5M181 28v1.5M181 41.5v1.5M181 49v3M183 41.5v1.5M183 52v4.5M185 59.5v4.5M187 28v1.5M187 53.5v4.5M189 28v1.5M189 40v1.5M189 53.5v7.5M191 28v1.5M191 40v1.5M191 58v3M193 28v1.5M193 55v3M195 28v1.5M195 52v3M197 56.5v3M199 58v3M201 28v1.5M201 40v1.5M201 56.5v3M203 28v1.5M203 40v1.5M203 50.5v4.5M205 26.5v1.5M205 53.5v4.5M207 28v1.5M207 56.5v4.5M209 28v1.5M209 55v3M211 28v1.5M211 52v3M213 28v1.5M213 53.5v9M215 41.5v1.5M215 52v1.5M217 53.5v4.5M219 28v1.5M219 53.5v1.5M221 28v1.5M221 41.5v1.5M221 52v7.5M223 28v1.5M223 46v6M225 53.5v3M227 52v3M229 40v1.5M229 53.5v4.5M231 40v1.5M231 56.5v4.5M233 50.5v6M235 28v1.5M235 56.5v4.5M237 28v1.5M237 55v3M239 53.5v4.5M241 28v1.5M241 40v1.5M241 52v3M243 40v1.5M243 56.5v3M245 28v1.5M245 52v4.5M247 28v1.5M247 55v4.5M249 53.5v6M251 52v3M253 28v1.5M253 40v1.5M253 55v3M255 40v1.5M255 49v3M257 28v1.5M257 40v1.5M257 49v3M259 50.5v4.5M261 40v1.5M261 55v4.5M263 28v1.5M263 40v1.5M263 43v9M265 28v1.5M265 53.5v3M267 49v6M269 40v1.5M269 56.5v3M271 28v1.5M271 40v1.5M271 52v1.5M273 40v1.5M273 53.5v7.5M275 28v1.5M275 40v1.5M275 53.5v4.5M277 40v1.5M277 55v3M279 40v1.5M279 49v4.5M281 28v1.5M281 40v1.5M281 53.5v4.5M283 40v1.5M283 53.5v3M285 28v1.5M285 56.5v3M287 28v1.5M287 53.5v6M289 47.5v7.5M291 52v3M293 53.5v3M295 47.5v4.5M297 52v4.5M299 53.5v3M301 55v3M303 56.5v3M305 53.5v3M307 52v4.5M309 40v1.5M309 56.5v4.5M311 53.5v3M313 47.5v4.5M315 53.5v3M317 52v3M319 40v1.5M319 47.5v4.5M321 40v1.5M321 55v3M323 49v7.5M325 50.5v4.5M327 52v3M329 52v4.5M331 47.5v4.5M333 26.5v1.5M333 55v1.5M335 53.5v6M337 52v4.5M339 55v1.5M341 49v3M343 52v3M345 26.5v1.5M345 49v4.5M347 55v3M349 26.5v1.5M349 55v4.5M351 52v4.5M353 50.5v3M355 26.5v1.5M355 50.5v4.5M357 47.5v4.5M359 26.5v1.5M359 50.5v4.5M361 43v12M363 50.5v6M365 26.5v1.5M365 52v1.5M367 52v9M369 52v3M371 26.5v1.5M371 50.5v4.5M373 52v1.5M375 50.5v6M377 26.5v1.5M377 50.5v1.5M379 55v3M381 26.5v1.5M381 52v3M383 49v3M385 26.5v1.5M385 49v3M387 53.5v4.5M389 58v7.5M391 50.5v3M393 50.5v3M395 38.5v1.5M395 52v3M397 26.5v1.5M397 32.5v1.5M397 52v3M399 52v3M401 55v3M403 53.5v3M405 56.5v3M407 55v3M409 58v3M411 52v3M413 50.5v3M415 56.5v3M417 28v1.5M417 56.5v3M419 28v1.5M419 56.5v6M421 52v6M423 28v1.5M423 55v1.5M425 28v1.5M425 56.5v4.5M427 56.5v3M429 50.5v4.5M431 53.5v3M433 29.5v1.5M433 55v3M435 56.5v3M437 55v4.5M439 29.5v1.5M439 49v4.5M441 29.5v1.5M441 58v4.5M443 29.5v1.5M443 59.5v4.5M445 29.5v1.5M445 49v6M447 50.5v6M449 29.5v1.5M449 35.5v1.5M449 56.5v3M451 59.5v1.5M453 35.5v1.5M453 58v3M455 35.5v1.5M455 52v4.5M457 47.5v12M459 56.5v3M461 37v1.5M461 59.5v3"/><path stroke="#009fff" d="M79 55v3M81 59.5v3M83 50.5v3M85 29.5v1.5M85 58v4.5M87 29.5v1.5M87 58v3M89 29.5v1.5M89 61v4.5M91 29.5v1.5M91 62.5v3M93 58v4.5M95 59.5v3M97 58v4.5M99 53.5v6M101 65.5v3M103 58v3M105 58v4.5M107 56.5v3M109 29.5v1.5M109 58v4.5M111 61v3M113 62.5v3M115 58v3M117 53.5v3M119 29.5v1.5M119 64v3M121 56.5v6M123 29.5v1.5M123 64v1.5M125 34v1.5M125 59.5v4.5M127 55v1.5M129 64v3M131 56.5v3M133 29.5v1.5M133 59.5v3M135 29.5v1.5M135 64v3M137 34v1.5M137 61v6M139 61v3M141 58v6M143 53.5v4.5M145 61v6M147 34v1.5M147 58v4.5M149 29.5v1.5M149 55v3M151 29.5v1.5M151 59.5v3M153 29.5v1.5M153 64v3M155 61v3M157 34v1.5M157 56.5v3M159 58v3M161 59.5v3M163 53.5v6M165 29.5v1.5M165 55v7.5M167 29.5v1.5M167 55v3M169 28v1.5M169 61v3M171 59.5v3M173 35.5v1.5M173 59.5v3M175 62.5v4.5M177 28v1.5M177 56.5v4.5M179 55v7.5M181 52v4.5M183 28v1.5M183 56.5v3M185 28v1.5M185 64v1.5M187 40v1.5M187 58v7.5M189 61v4.5M191 61v4.5M193 40v1.5M193 58v6M195 40v1.5M195 55v3M197 28v1.5M197 40v1.5M197 59.5v1.5M199 29.5v1.5M199 40v1.5M199 61v3M201 59.5v3M203 55v3M205 40v1.5M205 58v6M207 40v1.5M207 61v3M209 40v1.5M209 58v3M211 40v1.5M211 55v4.5M213 40v1.5M213 62.5v6M215 53.5v4.5M217 41.5v1.5M217 58v3M219 41.5v1.5M219 55v3M221 59.5v4.5M223 52v9M225 28v1.5M225 40v1.5M225 56.5v4.5M227 28v1.5M227 40v1.5M227 55v1.5M229 28v1.5M229 58v3M231 28v1.5M231 61v3M233 28v1.5M233 40v1.5M233 56.5v4.5M235 40v1.5M235 61v3M237 40v1.5M237 58v3M239 28v1.5M239 40v1.5M239 58v3M241 55v3M243 28v1.5M243 59.5v3M245 56.5v3M247 59.5v4.5M249 28v1.5M249 59.5v3M251 55v3M253 58v3M255 28v1.5M255 52v3M257 52v4.5M259 28v1.5M259 40v1.5M259 55v4.5M261 28v1.5M261 59.5v3M263 52v6M265 56.5v3M267 28v1.5M267 55v6M269 28v1.5M269 59.5v3M271 53.5v3M273 29.5v1.5M273 61v4.5M275 58v3M277 29.5v1.5M277 58v3M279 28v1.5M279 53.5v6M281 58v3M283 28v1.5M283 56.5v3M285 59.5v4.5M287 59.5v3M289 28v1.5M289 55v7.5M291 28v1.5M291 55v4.5M293 38.5v1.5M293 56.5v3M295 28v1.5M295 52v6M297 28v1.5M297 56.5v4.5M299 28v1.5M299 56.5v3M301 28v1.5M301 58v3M303 28v1.5M303 59.5v4.5M305 28v1.5M305 56.5v3M307 28v1.5M307 56.5v7.5M309 61v1.5M311 56.5v3M313 52v4.5M315 28v1.5M315 56.5v3M317 55v6M319 52v4.5M321 58v3M323 56.5v4.5M325 55v4.5M325 71.5v6M327 28v1.5M327 55v3M329 56.5v4.5M331 28v1.5M331 52v3M333 56.5v3M335 59.5v3M337 56.5v3M339 56.5v3M341 28v1.5M341 52v1.5M343 55v3M345 53.5v7.5M347 58v4.5M349 59.5v3M351 26.5v1.5M351 56.5v4.5M353 26.5v1.5M353 53.5v3M355 55v4.5M357 26.5v1.5M357 52v4.5M359 55v4.5M361 55v10.5M363 26.5v1.5M363 56.5v4.5M365 53.5v3M367 26.5v1.5M367 38.5v1.5M367 61v4.5M369 26.5v1.5M369 38.5v1.5M369 55v3M371 38.5v1.5M371 55v4.5M373 38.5v1.5M373 53.5v1.5M375 31v1.5M375 56.5v4.5M377 52v1.5M379 26.5v1.5M379 58v4.5M381 55v3M383 26.5v1.5M383 52v3M385 52v3M387 58v4.5M389 65.5v3M391 28v1.5M391 31v1.5M391 53.5v4.5M393 34v1.5M393 53.5v4.5M395 28v1.5M395 35.5v1.5M395 55v3M397 55v4.5M399 32.5v1.5M399 55v4.5M401 28v1.5M401 32.5v1.5M401 58v3M403 28v1.5M403 32.5v1.5M403 56.5v4.5M405 28v1.5M405 32.5v1.5M405 59.5v3M407 58v3M409 28v1.5M409 61v3M411 28v1.5M411 55v3M413 28v1.5M413 53.5v4.5M415 59.5v3M417 59.5v1.5M419 62.5v3M421 58v7.5M423 34v1.5M423 56.5v3M425 34v1.5M425 61v4.5M427 34v1.5M427 59.5v3M429 34v1.5M429 55v6M431 29.5v1.5M431 34v1.5M431 56.5v1.5M433 34v1.5M433 58v6M435 29.5v1.5M435 59.5v1.5M437 29.5v1.5M437 59.5v3M439 53.5v3M441 62.5v4.5M443 64v1.5M445 55v10.5M447 56.5v6M449 59.5v3M451 31v1.5M451 61v3M453 61v1.5M455 31v1.5M455 56.5v6M457 31v1.5M457 35.5v1.5M457 59.5v7.5M459 59.5v3M461 62.5v3"/><path stroke="#00ffff" d="M79 67v9M81 68.5v3M83 32.5v1.5M83 67v4.5M85 31v1.5M85 34v1.5M85 70v3M87 31v1.5M87 34v1.5M87 67v3M89 31v1.5M89 34v1.5M89 70v3M91 31v1.5M91 34v1.5M91 74.5v10.5M93 32.5v1.5M93 82v3M95 32.5v1.5M95 79v3M97 68.5v10.5M99 32.5v1.5M99 65.5v4.5M101 32.5v1.5M101 74.5v4.5M101 83.5v4.5M103 32.5v1.5M103 67v4.5M105 32.5v1.5M105 83.5v4.5M107 67v19.5M109 32.5v1.5M109 70v3M111 32.5v1.5M111 68.5v6M113 70v1.5M115 68.5v6M117 32.5v1.5M117 68.5v6M117 76v9M119 32.5v1.5M119 80.5v3M119 85v4.5M121 32.5v1.5M121 82v4.5M123 70v3M125 74.5v7.5M127 32.5v1.5M127 62.5v4.5M127 76v10.5M129 32.5v1.5M129 71.5v4.5M131 67v4.5M133 32.5v1.5M133 68.5v4.5M133 74.5v7.5M133 86.5v4.5M135 31v1.5M135 71.5v4.5M137 74.5v6M139 31v1.5M139 70v3M139 83.5v4.5M141 71.5v9M143 31v1.5M143 65.5v4.5M143 82v7.5M145 31v1.5M145 74.5v4.5M147 67v3M149 31v1.5M149 34v1.5M149 68.5v7.5M149 79v6M151 32.5v1.5M151 68.5v4.5M151 77.5v9M153 32.5v1.5M153 71.5v3M155 70v4.5M157 64v4.5M159 70v15M161 68.5v4.5M163 32.5v1.5M163 71.5v3M163 88v1.5M165 32.5v1.5M165 70v4.5M165 83.5v3M167 76v3M169 29.5v1.5M169 32.5v1.5M169 70v3M171 32.5v1.5M171 68.5v1.5M173 31v1.5M173 68.5v6M175 74.5v4.5M177 67v6M179 70v4.5M181 79v6M183 67v6M185 29.5v1.5M185 71.5v1.5M185 74.5v10.5M187 31v1.5M187 77.5v7.5M189 31v1.5M189 38.5v1.5M189 82v4.5M191 31v1.5M191 38.5v1.5M191 70v12M193 31v1.5M193 70v4.5M195 31v1.5M195 64v18M197 65.5v3M199 68.5v4.5M199 74.5v12M201 68.5v4.5M203 65.5v10.5M205 29.5v1.5M205 88v1.5M207 31v1.5M207 68.5v1.5M209 68.5v6M209 80.5v4.5M211 68.5v7.5M211 82v3M213 79v6M215 65.5v3M217 68.5v6M217 85v4.5M219 65.5v6M219 79v7.5M221 73v16.5M223 79v6M225 68.5v19.5M227 67v9M229 65.5v3M231 77.5v6M233 77.5v4.5M235 70v6M237 65.5v3M239 65.5v3M239 80.5v4.5M241 38.5v1.5M241 67v4.5M241 74.5v10.5M243 29.5v1.5M243 38.5v1.5M243 70v1.5M243 73v4.5M245 65.5v4.5M247 82v3M249 70v9M251 29.5v1.5M251 64v4.5M251 80.5v4.5M253 85v3M255 65.5v6M255 83.5v1.5M257 38.5v1.5M257 67v3M259 29.5v1.5M259 38.5v1.5M259 68.5v9M261 38.5v1.5M261 70v3M263 38.5v1.5M263 77.5v4.5M265 70v13.5M267 29.5v1.5M267 67v3M269 38.5v1.5M269 68.5v4.5M269 80.5v9M271 38.5v1.5M271 64v12M273 38.5v1.5M273 71.5v13.5M275 67v4.5M275 76v9M277 68.5v4.5M277 80.5v4.5M279 38.5v1.5M279 82v3M281 38.5v1.5M281 68.5v13.5M283 38.5v1.5M283 70v6M285 77.5v3M287 68.5v3M287 83.5v1.5M289 68.5v9M289 80.5v4.5M291 68.5v10.5M291 83.5v4.5M293 29.5v1.5M293 67v13.5M295 82v4.5M297 74.5v6M299 67v4.5M299 76v3M301 85v3M303 76v7.5M305 68.5v4.5M307 38.5v1.5M307 76v4.5M309 29.5v1.5M309 38.5v1.5M309 68.5v3M309 76v12M311 29.5v1.5M311 70v1.5M311 74.5v3M313 29.5v1.5M313 65.5v3M315 65.5v3M317 29.5v1.5M317 38.5v1.5M317 83.5v3M319 29.5v1.5M319 67v4.5M319 77.5v6M321 29.5v1.5M321 38.5v1.5M321 68.5v3M321 83.5v1.5M323 29.5v1.5M323 38.5v1.5M323 70v10.5M325 85v1.5M327 65.5v3M329 67v3M329 80.5v4.5M331 70v3M333 65.5v21M335 29.5v1.5M335 68.5v4.5M337 67v10.5M339 29.5v1.5M339 82v1.5M341 29.5v1.5M341 62.5v3M343 73v1.5M345 70v6M347 68.5v16.5M349 68.5v16.5M351 67v4.5M353 70v1.5M353 74.5v6M355 67v7.5M355 86.5v1.5M357 65.5v19.5M359 74.5v9M361 28v1.5M361 77.5v3M363 67v3M365 65.5v12M367 73v3M369 65.5v10.5M369 77.5v6M371 64v3M373 28v1.5M373 34v1.5M373 37v1.5M373 62.5v4.5M375 34v1.5M375 37v1.5M375 67v7.5M377 35.5v3M377 61v6M379 28v1.5M379 31v1.5M379 35.5v3M379 70v4.5M381 35.5v3M381 64v3M383 35.5v3M383 61v6M385 29.5v1.5M385 35.5v3M385 59.5v3M387 35.5v3M387 74.5v1.5M389 35.5v3M391 35.5v3M391 74.5v1.5M393 35.5v3M393 76v1.5M395 62.5v3M397 29.5v1.5M397 70v1.5M397 73v3M399 29.5v3M399 68.5v4.5M401 31v1.5M401 67v7.5M403 68.5v6M405 31v1.5M405 70v4.5M407 29.5v3M407 70v4.5M409 31v1.5M409 70v4.5M411 31v1.5M411 74.5v1.5M413 31v1.5M413 65.5v4.5M415 68.5v3M417 31v1.5M417 65.5v4.5M419 31v1.5M419 74.5v1.5M421 31v1.5M421 71.5v3M423 32.5v1.5M423 67v7.5M425 31v3M425 74.5v1.5M427 31v3M427 68.5v6M429 31v3M429 68.5v3M431 32.5v1.5M431 64v3M433 70v4.5M435 31v1.5M435 68.5v4.5M437 32.5v1.5M437 70v4.5M439 67v4.5M443 32.5v1.5M443 70v3M445 32.5v1.5M445 74.5v1.5M447 32.5v1.5M447 71.5v3M449 32.5v1.5M449 67v4.5M451 70v1.5M453 32.5v3M453 67v3M455 70v3M457 71.5v1.5M459 32.5v3M459 70v1.5M461 35.5v1.5M461 70v1.5"/><path stroke="#20ffdf" d="M79 76v13.5M81 71.5v18M83 71.5v15M85 32.5v1.5M85 73v9M87 32.5v1.5M87 70v3M89 32.5v1.5M89 73v4.5M91 32.5v1.5M91 85v4.5M93 85v3M95 82v3M97 79v3M99 70v3M99 76v10.5M101 79v4.5M101 88v4.5M103 71.5v3M105 88v3M107 86.5v4.5M109 73v13.5M111 74.5v13.5M113 71.5v3M113 83.5v1.5M115 32.5v1.5M115 74.5v4.5M117 85v3M119 89.5v3M121 86.5v1.5M123 32.5v1.5M123 73v1.5M125 82v7.5M127 67v9M127 86.5v1.5M129 76v4.5M131 71.5v18M133 73v1.5M133 91v1.5M135 32.5v1.5M135 76v3M137 80.5v6M139 32.5v1.5M139 73v10.5M139 88v3M141 80.5v6M143 32.5v1.5M143 70v3M143 74.5v7.5M143 89.5v3M145 32.5v1.5M145 79v7.5M147 70v3M149 32.5v1.5M149 85v3M151 73v4.5M153 74.5v3M153 80.5v6M155 74.5v12M157 68.5v4.5M157 79v7.5M159 85v1.5M161 73v13.5M163 89.5v1.5M165 74.5v9M165 86.5v4.5M167 79v15M169 31v1.5M169 73v3M171 31v1.5M171 70v4.5M173 74.5v9M175 79v4.5M177 31v1.5M177 73v10.5M179 74.5v9M183 73v12M185 31v1.5M185 38.5v1.5M187 38.5v1.5M189 86.5v1.5M191 82v6M193 38.5v1.5M193 74.5v3M195 38.5v1.5M195 82v3M197 31v1.5M197 38.5v1.5M197 68.5v4.5M197 74.5v12M199 31v1.5M199 38.5v1.5M199 73v1.5M199 86.5v3M201 38.5v1.5M201 73v7.5M203 31v1.5M203 38.5v1.5M203 76v9M205 31v1.5M205 38.5v1.5M205 89.5v1.5M207 38.5v1.5M207 70v3M209 31v1.5M209 38.5v1.5M209 85v1.5M211 38.5v1.5M211 76v6M211 85v1.5M213 38.5v1.5M213 85v3M215 68.5v3M217 89.5v1.5M219 71.5v7.5M219 86.5v3M221 89.5v3M223 85v1.5M225 88v3M227 38.5v1.5M227 76v4.5M229 38.5v1.5M229 68.5v3M231 31v1.5M231 38.5v1.5M231 83.5v4.5M233 31v1.5M233 38.5v1.5M233 82v4.5M235 31v1.5M235 38.5v1.5M235 76v6M237 31v1.5M237 38.5v1.5M237 68.5v3M237 76v9M239 31v1.5M239 38.5v1.5M239 68.5v12M239 85v3M241 71.5v3M241 85v3M243 31v1.5M243 77.5v4.5M245 31v1.5M245 70v6M247 31v1.5M247 85v1.5M249 31v1.5M249 79v7.5M251 31v1.5M251 68.5v12M251 85v3M253 31v1.5M253 88v1.5M255 85v3M257 70v16.5M259 77.5v6M261 31v1.5M261 73v6M263 82v3M265 31v1.5M265 83.5v4.5M267 31v1.5M267 70v3M269 31v1.5M269 73v7.5M269 89.5v1.5M271 31v1.5M271 76v4.5M273 31v1.5M273 85v3M275 31v1.5M275 71.5v4.5M275 85v3M277 31v1.5M277 85v3M279 31v1.5M279 85v3M281 31v1.5M281 82v3M283 31v1.5M283 76v6M285 80.5v3M287 71.5v12M287 85v4.5M289 85v3M291 88v1.5M293 80.5v3M295 86.5v3M297 80.5v7.5M299 71.5v4.5M299 79v7.5M301 88v1.5M303 31v1.5M303 83.5v4.5M305 73v7.5M307 80.5v4.5M309 71.5v4.5M309 88v1.5M311 77.5v3M313 68.5v9M315 68.5v9M315 80.5v4.5M317 86.5v1.5M319 38.5v1.5M319 71.5v6M319 83.5v4.5M321 85v3M323 80.5v4.5M325 86.5v1.5M327 68.5v13.5M329 70v10.5M329 85v4.5M331 73v3M333 29.5v1.5M333 86.5v3M335 73v10.5M337 77.5v7.5M339 83.5v3M343 74.5v4.5M345 29.5v1.5M345 76v7.5M349 29.5v1.5M349 85v3M351 29.5v1.5M351 71.5v6M353 29.5v1.5M353 80.5v4.5M355 29.5v1.5M355 88v1.5M357 29.5v1.5M357 85v3M359 83.5v6M361 80.5v3M363 70v6M365 77.5v4.5M367 76v3M369 37v1.5M369 76v1.5M369 83.5v4.5M371 29.5v1.5M371 67v7.5M371 77.5v6M373 29.5v1.5M373 35.5v1.5M373 67v7.5M375 35.5v1.5M375 74.5v4.5M377 67v7.5M379 29.5v1.5M379 74.5v1.5M381 67v7.5M383 29.5v1.5M383 67v7.5M385 62.5v3M387 76v1.5M389 74.5v1.5M391 76v1.5M391 85v3M393 86.5v1.5M395 65.5v3M397 76v1.5M399 73v3M401 74.5v3M403 74.5v1.5M405 74.5v1.5M411 76v1.5M413 70v4.5M415 71.5v3M417 70v4.5M419 76v1.5M421 74.5v1.5M423 31v1.5M423 74.5v3M425 76v1.5M425 83.5v3M427 74.5v3M429 71.5v3M431 67v9M433 74.5v1.5M435 32.5v1.5M435 73v3M437 74.5v1.5M439 32.5v1.5M439 71.5v3M443 73v1.5M445 76v1.5M447 74.5v1.5M449 71.5v1.5M451 71.5v1.5M453 70v1.5M457 73v1.5M459 71.5v1.5M461 32.5v1.5M461 71.5v1.5"/><path stroke="#40ffbf" d="M79 89.5v6M81 89.5v3M83 86.5v4.5M85 82v6M87 73v18M89 77.5v9M91 89.5v1.5M93 88v3M95 85v3M97 82v4.5M99 73v3M99 86.5v3M101 92.5v1.5M103 74.5v4.5M105 91v4.5M107 91v3M109 86.5v1.5M111 88v4.5M113 74.5v9M113 85v6M115 79v3M117 88v3M119 92.5v1.5M121 88v3M123 74.5v3M125 89.5v3M127 88v3M129 80.5v7.5M131 89.5v3M133 92.5v1.5M135 79v7.5M137 86.5v3M139 91v3M141 86.5v3M143 73v1.5M143 92.5v3M145 86.5v4.5M147 73v16.5M149 88v1.5M151 86.5v1.5M153 77.5v3M155 86.5v1.5M157 73v6M157 86.5v1.5M159 86.5v1.5M161 86.5v1.5M165 91v1.5M167 94v1.5M169 76v3M171 74.5v15M175 34v3M177 83.5v1.5M179 31v1.5M179 38.5v1.5M181 31v1.5M181 38.5v1.5M181 85v1.5M183 31v1.5M183 38.5v1.5M183 85v3M189 88v3M191 88v3M193 77.5v10.5M195 85v1.5M197 73v1.5M197 86.5v3M199 89.5v3M201 31v1.5M201 80.5v7.5M203 85v3M205 91v1.5M207 73v1.5M207 82v4.5M209 86.5v3M211 31v1.5M211 86.5v3M213 31v1.5M213 88v1.5M215 31v1.5M215 38.5v1.5M217 31v1.5M217 91v1.5M219 89.5v3M221 92.5v1.5M223 38.5v1.5M223 86.5v1.5M225 38.5v1.5M225 91v1.5M227 80.5v6M229 31v1.5M229 71.5v18M231 88v3M233 86.5v3M235 82v4.5M237 71.5v4.5M237 85v1.5M239 88v3M241 31v1.5M241 88v3M243 82v3M245 76v7.5M247 86.5v1.5M249 86.5v3M251 88v3M253 89.5v1.5M255 31v1.5M255 88v1.5M257 31v1.5M257 86.5v3M259 31v1.5M259 83.5v4.5M261 79v6M263 31v1.5M263 85v1.5M265 88v1.5M267 73v13.5M269 91v3M271 80.5v3M273 88v1.5M275 88v1.5M277 88v1.5M279 88v3M281 85v1.5M283 82v1.5M285 31v1.5M285 83.5v3M287 31v1.5M287 89.5v1.5M289 31v1.5M289 88v3M291 31v1.5M291 89.5v1.5M293 31v1.5M293 83.5v3M295 89.5v1.5M297 88v3M299 31v1.5M299 86.5v3M301 31v1.5M301 89.5v1.5M303 88v1.5M305 31v1.5M305 80.5v7.5M307 31v1.5M307 85v3M309 89.5v1.5M311 80.5v3M313 77.5v7.5M315 77.5v3M315 85v3M317 88v1.5M319 88v3M321 88v1.5M323 85v1.5M325 88v1.5M327 82v3M329 89.5v1.5M331 76v1.5M333 89.5v1.5M335 83.5v3M337 85v3M339 86.5v1.5M341 86.5v1.5M343 79v3M345 37v1.5M345 83.5v1.5M347 85v1.5M349 88v1.5M351 77.5v9M353 85v4.5M355 89.5v1.5M357 37v1.5M357 88v1.5M359 29.5v1.5M359 37v1.5M359 89.5v1.5M361 83.5v3M363 76v7.5M365 82v3M367 29.5v1.5M367 37v1.5M367 79v10.5M369 29.5v1.5M369 88v1.5M371 37v1.5M371 74.5v3M371 83.5v6M373 74.5v4.5M375 79v9M377 74.5v3M379 76v1.5M381 74.5v1.5M383 74.5v1.5M385 65.5v9M387 77.5v10.5M389 76v1.5M391 77.5v1.5M391 83.5v1.5M391 88v1.5M393 77.5v1.5M393 83.5v3M393 88v1.5M395 68.5v3M397 77.5v1.5M399 76v1.5M401 77.5v1.5M403 76v1.5M405 76v1.5M407 74.5v1.5M409 74.5v1.5M411 77.5v1.5M417 74.5v1.5M419 77.5v1.5M421 76v1.5M423 77.5v1.5M423 83.5v1.5M425 77.5v6M425 86.5v1.5M427 77.5v1.5M427 83.5v4.5M429 74.5v1.5M431 76v1.5M435 76v3M439 74.5v1.5M443 74.5v1.5M445 77.5v1.5M449 73v1.5M451 73v1.5M453 71.5v1.5M455 73v1.5M457 74.5v1.5M459 73v1.5M461 34v1.5M461 73v1.5"/><path stroke="#60ff9f" d="M79 95.5v1.5M81 92.5v3M83 91v3M85 88v3M87 91v1.5M89 86.5v7.5M91 91v3M93 91v1.5M95 88v3M97 86.5v3M99 89.5v3M101 94v1.5M103 79v6M105 95.5v3M107 94v1.5M109 88v3M111 92.5v3M113 91v1.5M115 82v1.5M117 91v1.5M119 94v1.5M121 91v1.5M123 77.5v6M125 92.5v1.5M127 91v1.5M129 88v3M131 92.5v3M133 94v1.5M135 86.5v6M137 89.5v3M139 94v1.5M141 89.5v1.5M143 95.5v1.5M145 91v1.5M147 89.5v3M149 89.5v1.5M153 86.5v1.5M163 91v1.5M165 92.5v1.5M167 95.5v1.5M169 79v6M171 89.5v3M179 83.5v1.5M183 88v3M187 85v1.5M189 91v1.5M191 91v3M193 88v1.5M195 86.5v3M197 89.5v1.5M199 92.5v1.5M201 88v3M203 88v3M207 74.5v7.5M207 86.5v3M211 89.5v1.5M213 89.5v3M215 71.5v9M215 83.5v1.5M217 38.5v1.5M217 92.5v1.5M219 31v1.5M219 38.5v1.5M219 92.5v1.5M221 31v1.5M221 38.5v1.5M221 94v1.5M223 31v1.5M223 88v3M225 31v1.5M225 92.5v1.5M227 31v1.5M227 86.5v3M229 89.5v1.5M231 91v1.5M233 89.5v3M235 86.5v3M237 86.5v1.5M239 91v1.5M241 91v1.5M243 85v3M245 83.5v4.5M247 88v1.5M249 89.5v1.5M251 91v1.5M253 91v1.5M255 89.5v1.5M257 89.5v1.5M259 88v3M261 85v3M263 86.5v1.5M265 89.5v1.5M267 86.5v3M269 94v1.5M271 83.5v3M273 89.5v3M275 89.5v1.5M277 89.5v1.5M279 91v1.5M281 86.5v3M283 83.5v3M285 86.5v1.5M287 91v1.5M289 37v1.5M289 91v1.5M291 37v1.5M291 91v1.5M293 37v1.5M293 86.5v3M295 31v1.5M295 91v1.5M297 31v1.5M297 91v3M299 89.5v1.5M301 91v1.5M303 89.5v3M305 88v1.5M307 88v3M309 31v1.5M309 91v1.5M311 31v1.5M311 83.5v1.5M313 85v3M315 88v3M317 89.5v1.5M319 91v1.5M321 89.5v1.5M323 31v1.5M323 86.5v3M325 89.5v1.5M327 31v1.5M327 85v3M329 37v1.5M329 91v1.5M331 31v1.5M331 37v1.5M331 77.5v7.5M333 37v1.5M333 91v3M335 86.5v3M337 88v1.5M339 88v1.5M341 37v1.5M343 37v1.5M343 82v1.5M347 37v1.5M347 86.5v1.5M349 37v1.5M349 89.5v1.5M351 37v1.5M351 86.5v3M353 37v1.5M353 89.5v1.5M355 37v1.5M361 29.5v1.5M361 37v1.5M361 86.5v3M363 37v1.5M363 83.5v3M365 29.5v1.5M365 37v1.5M365 85v3M367 89.5v3M369 89.5v1.5M371 89.5v1.5M373 79v4.5M375 88v3M377 77.5v12M379 77.5v1.5M381 76v1.5M383 76v1.5M385 74.5v3M387 88v1.5M391 79v1.5M391 82v1.5M391 89.5v1.5M393 79v1.5M393 82v1.5M393 89.5v1.5M395 71.5v4.5M397 79v1.5M399 77.5v1.5M401 79v3M403 77.5v1.5M405 77.5v1.5M407 76v1.5M409 76v1.5M411 79v1.5M413 74.5v1.5M415 74.5v1.5M417 76v1.5M419 79v6M421 77.5v3M421 83.5v3M423 79v4.5M423 85v1.5M425 88v1.5M427 79v4.5M427 88v1.5M429 76v1.5M433 76v1.5M435 79v1.5M441 76v1.5M445 79v3M445 83.5v3M447 76v3M447 80.5v7.5M449 74.5v1.5M449 85v1.5M451 74.5v1.5M453 73v1.5M455 74.5v1.5M457 85v3M459 74.5v1.5"/><path stroke="#80ff80" d="M79 97v3M81 95.5v1.5M83 94v1.5M85 91v1.5M87 92.5v3M89 94v6M91 94v1.5M93 92.5v3M95 91v3M97 89.5v3M99 92.5v1.5M101 95.5v1.5M103 85v9M105 98.5v3M107 95.5v1.5M109 91v3M111 95.5v4.5M113 92.5v3M115 83.5v3M117 92.5v3M119 95.5v1.5M121 92.5v1.5M123 83.5v9M125 94v3M127 92.5v1.5M129 91v3M131 95.5v1.5M133 95.5v1.5M135 92.5v3M137 92.5v1.5M139 95.5v1.5M141 91v3M143 97v1.5M145 92.5v1.5M147 92.5v3M151 88v1.5M155 88v1.5M159 88v1.5M161 88v1.5M169 85v4.5M177 32.5v1.5M177 37v1.5M187 86.5v3M189 92.5v3M191 94v1.5M195 89.5v1.5M197 91v1.5M199 94v3M201 91v1.5M203 91v3M205 92.5v1.5M207 89.5v3M209 89.5v1.5M211 91v3M213 92.5v1.5M215 80.5v3M215 85v6M217 94v1.5M219 94v1.5M221 95.5v1.5M223 91v1.5M225 94v1.5M227 89.5v1.5M229 91v1.5M231 92.5v1.5M233 92.5v1.5M235 89.5v1.5M237 88v1.5M239 92.5v1.5M241 92.5v1.5M243 88v3M245 88v3M247 37v1.5M247 89.5v1.5M249 37v1.5M249 91v1.5M251 37v1.5M251 92.5v1.5M253 37v1.5M253 92.5v1.5M255 37v1.5M255 91v3M257 91v1.5M259 91v4.5M261 88v3M263 88v1.5M265 37v1.5M265 91v1.5M267 37v1.5M267 89.5v3M269 95.5v1.5M271 86.5v3M273 92.5v1.5M275 37v1.5M275 91v3M277 37v1.5M277 91v3M279 92.5v1.5M281 89.5v1.5M283 86.5v1.5M285 37v1.5M285 88v3M287 37v1.5M287 92.5v1.5M289 92.5v1.5M291 92.5v1.5M293 89.5v1.5M295 37v1.5M295 92.5v1.5M297 37v1.5M297 94v1.5M299 37v1.5M299 91v1.5M301 37v1.5M301 92.5v1.5M303 37v1.5M303 92.5v1.5M305 37v1.5M305 89.5v3M307 91v1.5M309 92.5v3M311 85v3M313 31v1.5M313 37v1.5M313 88v3M315 31v1.5M315 37v1.5M315 91v3M317 31v1.5M317 91v1.5M319 31v1.5M319 92.5v3M321 31v1.5M321 91v1.5M323 89.5v1.5M325 31v1.5M325 37v1.5M325 91v1.5M327 37v1.5M327 88v1.5M329 31v1.5M329 92.5v1.5M331 85v4.5M333 31v1.5M333 94v1.5M335 31v1.5M335 37v1.5M335 89.5v1.5M337 37v1.5M337 89.5v1.5M339 37v1.5M339 89.5v1.5M343 31v1.5M345 31v1.5M345 85v1.5M347 31v1.5M347 88v1.5M349 91v1.5M351 89.5v3M353 91v3M355 91v1.5M359 91v1.5M361 89.5v1.5M363 29.5v1.5M363 86.5v1.5M365 88v3M367 92.5v3M373 83.5v3M375 91v1.5M377 89.5v1.5M379 79v1.5M381 77.5v1.5M383 77.5v1.5M385 77.5v1.5M387 89.5v1.5M389 77.5v1.5M391 80.5v1.5M391 91v1.5M393 80.5v1.5M393 91v1.5M395 76v1.5M397 80.5v3M399 79v1.5M401 82v6M403 79v3M403 85v1.5M405 79v3M405 85v1.5M409 77.5v3M411 80.5v1.5M413 76v1.5M415 76v1.5M417 77.5v1.5M417 85v3M419 85v3M421 80.5v3M421 86.5v3M423 86.5v1.5M425 89.5v1.5M427 89.5v1.5M435 80.5v4.5M437 76v1.5M441 77.5v1.5M443 76v1.5M445 82v1.5M447 79v1.5M449 76v1.5M449 82v3M449 86.5v3M453 74.5v1.5M457 76v1.5M457 83.5v1.5M457 88v1.5M459 85v3M461 74.5v1.5"/><path stroke="#9fff60" d="M79 100v1.5M81 97v1.5M83 95.5v3M85 92.5v3M87 95.5v3M89 100v4.5M91 95.5v1.5M93 95.5v3M95 94v1.5M97 92.5v4.5M99 94v3M101 97v1.5M103 94v3M105 101.5v3M107 97v1.5M109 94v3M111 100v3M113 95.5v1.5M115 86.5v3M117 95.5v3M119 97v3M121 94v1.5M123 92.5v3M125 97v1.5M127 94v1.5M129 94v1.5M131 97v4.5M133 97v1.5M135 95.5v1.5M137 94v3M139 97v1.5M141 94v3M143 98.5v1.5M145 94v1.5M147 95.5v1.5M149 91v1.5M153 88v1.5M157 88v1.5M163 92.5v1.5M165 94v1.5M167 97v1.5M169 89.5v3M171 92.5v1.5M173 83.5v3M175 83.5v3M177 85v1.5M179 85v1.5M181 86.5v1.5M183 91v1.5M185 32.5v1.5M185 85v1.5M187 32.5v1.5M187 89.5v3M189 32.5v1.5M189 37v1.5M189 95.5v3M191 32.5v1.5M191 37v1.5M191 95.5v1.5M193 32.5v1.5M195 32.5v1.5M197 92.5v3M199 97v4.5M201 92.5v3M203 94v1.5M205 94v1.5M207 92.5v1.5M209 91v1.5M211 94v1.5M213 94v1.5M215 91v1.5M217 95.5v3M219 95.5v1.5M225 95.5v1.5M227 91v1.5M229 92.5v1.5M231 94v1.5M233 94v1.5M235 91v3M237 89.5v1.5M239 94v1.5M241 37v1.5M241 94v1.5M243 37v1.5M243 91v1.5M245 37v1.5M245 91v3M247 91v1.5M249 92.5v1.5M251 94v1.5M253 94v1.5M255 94v1.5M257 37v1.5M257 92.5v1.5M259 37v1.5M259 95.5v4.5M261 37v1.5M261 91v3M263 37v1.5M263 89.5v1.5M265 92.5v1.5M267 92.5v1.5M269 37v1.5M269 97v1.5M271 37v1.5M271 89.5v3M273 37v1.5M273 94v1.5M275 32.5v1.5M275 94v1.5M277 32.5v1.5M277 94v1.5M279 32.5v1.5M279 37v1.5M279 94v6M281 37v1.5M281 91v1.5M283 37v1.5M283 88v1.5M285 91v1.5M289 94v1.5M291 94v1.5M293 91v3M295 94v1.5M297 95.5v1.5M299 92.5v1.5M301 94v1.5M303 94v1.5M305 92.5v3M307 37v1.5M307 92.5v1.5M309 37v1.5M309 95.5v1.5M311 37v1.5M311 88v3M313 91v4.5M315 94v1.5M317 37v1.5M317 92.5v1.5M319 95.5v3M321 92.5v3M323 37v1.5M323 91v1.5M325 92.5v1.5M327 89.5v3M331 89.5v3M333 95.5v1.5M335 91v1.5M337 31v1.5M337 91v3M339 31v1.5M341 31v1.5M341 88v1.5M343 83.5v1.5M347 89.5v1.5M349 31v1.5M349 92.5v1.5M351 31v1.5M351 92.5v1.5M357 89.5v1.5M361 91v1.5M363 88v1.5M365 91v3M367 95.5v3M369 91v1.5M371 91v1.5M373 86.5v1.5M375 92.5v3M377 91v1.5M379 80.5v7.5M381 79v1.5M381 82v4.5M383 79v1.5M385 79v7.5M389 79v1.5M389 82v7.5M391 92.5v1.5M393 92.5v1.5M395 77.5v1.5M397 83.5v4.5M401 88v1.5M403 82v3M403 86.5v4.5M405 82v3M405 86.5v3M407 77.5v3M409 80.5v3M411 82v3M413 77.5v3M415 77.5v1.5M415 83.5v4.5M417 79v6M417 88v1.5M419 88v3M421 89.5v1.5M423 88v1.5M437 77.5v1.5M443 77.5v7.5M445 86.5v1.5M449 77.5v1.5M449 80.5v1.5M451 85v1.5M453 83.5v3M455 76v1.5M457 82v1.5M459 76v1.5M459 83.5v1.5M459 88v3"/><path stroke="#bfff40" d="M79 101.5v3M81 98.5v1.5M83 98.5v3M85 95.5v4.5M87 98.5v3M89 104.5v3M91 97v1.5M93 98.5v1.5M95 95.5v3M97 97v3M99 97v1.5M101 98.5v4.5M103 97v3M105 104.5v3M107 98.5v3M109 97v4.5M111 103v4.5M113 97v3M115 89.5v9M117 98.5v4.5M119 100v1.5M121 95.5v3M123 95.5v3M125 98.5v1.5M127 95.5v3M129 95.5v3M131 101.5v6M133 98.5v1.5M135 97v3M137 97v1.5M139 98.5v1.5M141 97v7.5M143 100v3M145 95.5v1.5M147 97v1.5M151 89.5v1.5M161 89.5v1.5M169 92.5v3M173 86.5v3M175 86.5v1.5M177 34v1.5M179 32.5v1.5M183 32.5v1.5M183 37v1.5M185 37v1.5M185 86.5v1.5M187 37v1.5M187 92.5v1.5M189 98.5v1.5M193 37v1.5M193 89.5v1.5M195 37v1.5M197 32.5v1.5M197 37v1.5M199 37v1.5M199 101.5v1.5M201 37v1.5M201 95.5v3M203 32.5v1.5M203 37v1.5M203 95.5v3M205 32.5v1.5M205 37v1.5M207 32.5v1.5M207 37v1.5M207 94v1.5M209 32.5v1.5M209 37v1.5M209 92.5v1.5M211 37v1.5M211 95.5v1.5M213 95.5v1.5M215 92.5v3M217 98.5v3M219 97v1.5M221 97v1.5M223 92.5v1.5M225 97v1.5M227 92.5v1.5M229 94v3M231 32.5v1.5M231 37v1.5M233 32.5v1.5M233 37v1.5M235 32.5v1.5M235 37v1.5M235 94v1.5M237 32.5v1.5M237 37v1.5M237 91v1.5M239 32.5v1.5M239 37v1.5M239 95.5v3M241 32.5v1.5M241 95.5v3M243 32.5v1.5M243 92.5v3M245 32.5v1.5M245 94v3M247 32.5v1.5M247 92.5v1.5M249 32.5v1.5M249 94v1.5M251 32.5v1.5M251 95.5v1.5M253 32.5v1.5M253 95.5v1.5M255 32.5v1.5M255 95.5v1.5M257 32.5v1.5M257 94v1.5M259 100v4.5M261 32.5v1.5M261 94v1.5M263 32.5v1.5M263 91v1.5M265 32.5v1.5M265 94v1.5M267 32.5v1.5M267 94v3M269 32.5v1.5M269 98.5v1.5M271 32.5v1.5M271 92.5v3M273 32.5v1.5M273 95.5v1.5M275 95.5v1.5M277 95.5v1.5M279 100v6M281 32.5v1.5M281 92.5v1.5M283 32.5v1.5M283 89.5v1.5M285 32.5v1.5M285 92.5v1.5M287 32.5v1.5M287 94v1.5M289 32.5v1.5M289 95.5v1.5M291 32.5v1.5M291 35.5v1.5M291 95.5v1.5M293 94v3M295 95.5v1.5M297 97v4.5M299 94v1.5M301 32.5v1.5M301 95.5v1.5M303 32.5v1.5M303 95.5v1.5M305 32.5v1.5M305 95.5v1.5M307 94v1.5M309 97v7.5M311 91v3M313 95.5v1.5M315 95.5v1.5M317 94v1.5M319 37v1.5M319 98.5v3M321 37v1.5M321 95.5v3M323 92.5v1.5M325 94v1.5M329 94v1.5M331 92.5v3M333 97v1.5M335 92.5v1.5M343 35.5v1.5M345 35.5v1.5M345 86.5v1.5M347 35.5v1.5M349 35.5v1.5M349 94v1.5M351 94v1.5M353 31v1.5M353 94v1.5M355 31v1.5M357 31v1.5M357 35.5v1.5M359 92.5v1.5M361 92.5v1.5M363 89.5v1.5M365 94v7.5M367 35.5v1.5M367 98.5v1.5M369 31v1.5M369 35.5v1.5M371 31v1.5M371 35.5v1.5M373 88v1.5M377 92.5v1.5M379 88v1.5M381 80.5v1.5M383 80.5v4.5M385 86.5v1.5M387 91v1.5M389 80.5v1.5M389 89.5v1.5M391 94v1.5M393 94v1.5M395 88v1.5M399 80.5v7.5M401 89.5v1.5M403 91v3M405 89.5v3M407 80.5v6M409 83.5v3M411 85v1.5M413 80.5v9M415 79v4.5M415 88v3M417 89.5v1.5M419 91v1.5M423 89.5v1.5M425 91v1.5M427 91v1.5M429 77.5v1.5M433 77.5v1.5M435 85v1.5M437 79v1.5M441 79v3M447 88v1.5M449 79v1.5M449 89.5v1.5M451 76v1.5M451 83.5v1.5M451 86.5v1.5M453 76v1.5M453 82v1.5M453 86.5v1.5M455 83.5v3M457 77.5v4.5M457 89.5v1.5M459 77.5v1.5M459 80.5v3M459 91v1.5M461 76v1.5M461 83.5v6"/><path stroke="#dfff20" d="M79 104.5v3M81 100v1.5M83 101.5v3M85 100v10.5M87 101.5v6M89 107.5v1.5M91 98.5v1.5M93 100v4.5M95 98.5v4.5M97 100v3M99 98.5v3M101 103v3M103 100v4.5M105 107.5v1.5M107 101.5v1.5M109 101.5v3M111 107.5v4.5M113 100v1.5M115 98.5v6M117 103v7.5M119 101.5v3M121 98.5v1.5M123 98.5v3M125 100v1.5M127 98.5v3M127 106v4.5M129 98.5v1.5M131 107.5v4.5M133 100v1.5M135 100v1.5M137 98.5v3M139 100v1.5M141 104.5v4.5M143 103v7.5M145 97v1.5M147 98.5v1.5M149 92.5v1.5M159 89.5v1.5M163 94v1.5M165 95.5v1.5M167 98.5v1.5M169 95.5v1.5M171 94v1.5M175 88v1.5M177 35.5v1.5M177 86.5v1.5M179 37v1.5M181 32.5v1.5M181 37v1.5M185 88v1.5M187 94v3M191 97v1.5M197 95.5v1.5M199 32.5v1.5M199 103v1.5M201 32.5v1.5M201 98.5v3M205 95.5v1.5M209 94v1.5M211 32.5v1.5M211 97v6M213 32.5v1.5M213 37v1.5M213 97v3M215 32.5v1.5M215 37v1.5M215 95.5v3M217 32.5v1.5M217 101.5v4.5M219 98.5v1.5M221 98.5v1.5M223 94v1.5M225 37v1.5M227 37v1.5M227 94v1.5M229 32.5v1.5M229 37v1.5M229 97v1.5M231 95.5v1.5M233 95.5v1.5M235 95.5v3M237 92.5v1.5M239 98.5v3M241 98.5v1.5M243 95.5v1.5M245 97v3M247 94v1.5M249 35.5v1.5M249 95.5v3M249 101.5v4.5M251 35.5v1.5M251 97v1.5M253 35.5v1.5M253 97v1.5M255 35.5v1.5M255 97v6M259 32.5v1.5M259 104.5v3M261 95.5v3M261 101.5v3M263 92.5v1.5M265 35.5v1.5M265 95.5v1.5M267 97v6M269 100v3M271 95.5v3M271 103v3M273 97v3M275 35.5v1.5M275 97v6M277 35.5v1.5M277 97v1.5M279 35.5v1.5M279 106v1.5M281 94v1.5M283 91v1.5M285 94v3M287 35.5v1.5M287 95.5v1.5M289 35.5v1.5M289 97v1.5M291 97v1.5M293 32.5v1.5M293 35.5v1.5M293 97v4.5M295 32.5v1.5M295 35.5v1.5M295 97v1.5M297 101.5v1.5M299 32.5v1.5M301 35.5v1.5M301 97v6M303 35.5v1.5M303 97v6M305 35.5v1.5M305 97v1.5M307 32.5v1.5M307 95.5v1.5M309 32.5v1.5M309 104.5v3M311 32.5v1.5M311 94v3M313 97v1.5M315 32.5v1.5M315 97v3M317 95.5v1.5M319 101.5v3M321 98.5v3M323 32.5v1.5M323 94v1.5M325 32.5v1.5M325 35.5v1.5M327 32.5v1.5M327 35.5v1.5M327 92.5v1.5M329 32.5v1.5M329 35.5v1.5M331 32.5v1.5M331 35.5v1.5M333 32.5v1.5M333 35.5v1.5M333 98.5v3M335 35.5v1.5M335 94v1.5M337 94v1.5M339 35.5v1.5M339 91v1.5M341 35.5v1.5M343 32.5v1.5M343 85v1.5M345 32.5v1.5M345 88v1.5M347 32.5v1.5M347 91v1.5M351 35.5v1.5M353 35.5v1.5M355 35.5v1.5M355 92.5v1.5M357 91v1.5M359 31v1.5M359 35.5v1.5M361 35.5v1.5M361 94v1.5M363 91v1.5M365 35.5v1.5M365 101.5v3M367 31v1.5M367 100v1.5M371 92.5v1.5M373 89.5v1.5M375 95.5v1.5M377 94v1.5M379 89.5v1.5M381 86.5v1.5M383 85v1.5M389 91v1.5M391 95.5v3M395 79v9M395 89.5v1.5M397 88v1.5M403 94v3M405 92.5v6M407 86.5v3M409 86.5v3M411 86.5v1.5M413 89.5v6M415 91v3M417 91v4.5M419 92.5v4.5M421 91v3M423 91v1.5M423 98.5v4.5M425 92.5v1.5M427 92.5v1.5M429 79v1.5M429 82v4.5M437 80.5v1.5M441 82v1.5M443 85v1.5M451 77.5v1.5M451 82v1.5M453 77.5v1.5M453 80.5v1.5M455 77.5v1.5M455 80.5v3M455 86.5v1.5M459 79v1.5M459 92.5v1.5M461 82v1.5M461 89.5v1.5"/><path stroke="#ffff00" d="M79 107.5v1.5M81 101.5v3M83 104.5v3M85 110.5v4.5M87 107.5v3M89 109v3M91 100v3M93 104.5v3M95 103v1.5M97 103v3M99 101.5v6M99 109v6M101 106v3M103 104.5v1.5M105 109v6M107 103v1.5M109 104.5v3M111 112v3M113 101.5v4.5M115 104.5v4.5M117 110.5v4.5M119 104.5v4.5M121 100v4.5M123 101.5v1.5M125 101.5v1.5M127 101.5v4.5M127 110.5v1.5M129 100v4.5M131 112v3M133 101.5v1.5M135 101.5v1.5M137 101.5v3M139 101.5v1.5M141 109v1.5M143 110.5v4.5M145 98.5v3M147 100v1.5M151 91v1.5M153 89.5v1.5M155 89.5v1.5M157 89.5v1.5M161 91v1.5M171 95.5v1.5M173 89.5v1.5M179 86.5v1.5M183 92.5v1.5M185 89.5v1.5M187 34v3M187 97v1.5M189 34v3M189 100v1.5M191 34v3M193 34v3M193 91v1.5M195 91v1.5M199 104.5v1.5M201 101.5v1.5M203 98.5v1.5M207 95.5v1.5M209 95.5v1.5M211 103v1.5M213 100v6M215 98.5v10.5M217 37v1.5M217 106v3M219 32.5v1.5M219 37v1.5M219 100v4.5M221 32.5v1.5M221 37v1.5M221 100v1.5M223 32.5v1.5M223 37v1.5M225 32.5v1.5M225 98.5v1.5M227 32.5v1.5M227 95.5v3M229 98.5v1.5M231 97v1.5M233 97v1.5M235 98.5v1.5M237 94v1.5M239 35.5v1.5M239 101.5v1.5M241 35.5v1.5M241 100v1.5M243 35.5v1.5M243 97v1.5M245 35.5v1.5M245 100v3M247 34v3M247 95.5v3M249 34v1.5M249 98.5v3M249 106v3M251 34v1.5M251 98.5v7.5M253 34v1.5M253 98.5v6M255 34v1.5M255 103v3M257 35.5v1.5M257 95.5v1.5M259 35.5v1.5M259 107.5v1.5M261 35.5v1.5M261 98.5v3M261 104.5v3M263 35.5v1.5M263 94v1.5M265 34v1.5M265 97v1.5M267 35.5v1.5M267 103v4.5M269 35.5v1.5M269 103v3M271 35.5v1.5M271 98.5v4.5M271 106v1.5M273 35.5v1.5M273 100v6M275 34v1.5M275 103v4.5M277 34v1.5M277 98.5v6M279 34v1.5M279 107.5v1.5M281 35.5v1.5M281 95.5v1.5M283 35.5v1.5M283 92.5v1.5M285 35.5v1.5M285 97v3M287 97v1.5M289 34v1.5M289 98.5v1.5M291 34v1.5M293 101.5v3M295 98.5v1.5M297 32.5v1.5M297 35.5v1.5M297 103v1.5M299 35.5v1.5M299 95.5v1.5M301 103v3M303 103v3M305 98.5v4.5M307 35.5v1.5M307 97v4.5M309 35.5v1.5M309 107.5v1.5M311 35.5v1.5M311 97v4.5M313 32.5v1.5M313 35.5v1.5M313 98.5v1.5M315 35.5v1.5M315 100v1.5M317 32.5v1.5M317 35.5v1.5M317 97v3M319 32.5v1.5M319 104.5v1.5M321 32.5v1.5M321 101.5v4.5M323 35.5v1.5M323 95.5v4.5M323 106v3M325 95.5v1.5M327 94v1.5M329 95.5v1.5M331 95.5v1.5M333 101.5v1.5M335 32.5v1.5M335 95.5v1.5M337 32.5v1.5M337 35.5v1.5M339 32.5v1.5M341 32.5v1.5M341 89.5v1.5M343 34v1.5M345 34v1.5M347 34v1.5M349 32.5v3M349 95.5v1.5M351 32.5v1.5M351 95.5v1.5M353 95.5v1.5M359 94v1.5M361 31v1.5M361 95.5v1.5M363 35.5v1.5M363 92.5v3M365 31v1.5M365 104.5v1.5M367 34v1.5M367 101.5v1.5M369 32.5v3M369 92.5v1.5M371 34v1.5M373 91v1.5M379 91v1.5M385 88v1.5M389 92.5v3M391 98.5v1.5M393 95.5v1.5M395 91v1.5M399 88v1.5M401 91v1.5M407 89.5v3M409 89.5v1.5M411 88v1.5M413 95.5v1.5M415 94v4.5M417 95.5v3M419 97v3M421 94v3M423 92.5v6M423 103v1.5M425 94v4.5M427 94v1.5M429 80.5v1.5M429 86.5v1.5M433 79v1.5M437 82v1.5M445 88v1.5M451 79v3M451 88v1.5M453 79v1.5M455 79v1.5M457 91v1.5M461 77.5v4.5M461 91v3"/><path stroke="#ffdf00" d="M79 109v1.5M81 104.5v1.5M83 107.5v7.5M87 110.5v4.5M89 112v1.5M91 103v3M93 107.5v4.5M95 104.5v3M97 106v3M99 107.5v1.5M101 109v3M103 106v4.5M107 104.5v3M109 107.5v3M113 106v9M115 109v6M119 109v6M121 104.5v3M123 103v1.5M125 103v4.5M127 112v1.5M129 104.5v6M133 103v1.5M135 103v1.5M137 104.5v1.5M139 103v3M141 110.5v3M145 101.5v13.5M147 101.5v3M149 94v1.5M165 97v1.5M167 100v1.5M169 97v1.5M173 91v1.5M175 89.5v1.5M179 34v3M181 34v3M181 88v1.5M183 34v3M185 34v3M185 91v1.5M187 98.5v6M189 101.5v3M191 98.5v1.5M195 34v3M197 34v3M199 35.5v1.5M199 106v1.5M201 35.5v1.5M201 103v1.5M203 34v3M203 100v1.5M205 34v3M205 97v1.5M207 34v3M209 34v3M209 97v1.5M211 35.5v1.5M211 104.5v1.5M213 35.5v1.5M213 106v1.5M215 109v4.5M217 109v3M219 104.5v4.5M221 101.5v1.5M223 95.5v1.5M225 100v1.5M227 98.5v3M231 35.5v1.5M233 35.5v1.5M235 34v3M237 34v3M237 95.5v7.5M239 34v1.5M239 103v1.5M241 34v1.5M241 101.5v1.5M243 34v1.5M243 98.5v1.5M245 34v1.5M245 103v1.5M247 98.5v7.5M249 109v3M251 106v7.5M253 104.5v3M255 106v1.5M257 34v1.5M257 97v3M259 34v1.5M259 109v1.5M261 34v1.5M261 107.5v4.5M263 34v1.5M263 95.5v12M265 98.5v4.5M267 34v1.5M267 107.5v1.5M269 34v1.5M269 106v1.5M271 34v1.5M271 107.5v3M273 34v1.5M273 106v1.5M275 107.5v3M277 104.5v4.5M279 109v1.5M281 34v1.5M281 97v1.5M283 34v1.5M283 94v1.5M285 34v1.5M285 100v4.5M287 34v1.5M287 98.5v1.5M289 100v1.5M291 98.5v3M293 34v1.5M293 104.5v1.5M295 34v1.5M295 100v1.5M297 104.5v1.5M299 97v1.5M301 34v1.5M303 34v1.5M303 106v3M305 34v1.5M305 103v1.5M307 101.5v3M311 101.5v1.5M313 100v1.5M315 101.5v3M317 100v3M319 35.5v1.5M319 106v1.5M321 35.5v1.5M321 106v1.5M323 100v1.5M323 103v3M323 109v1.5M327 34v1.5M327 95.5v1.5M329 34v1.5M329 97v1.5M331 34v1.5M331 97v1.5M333 34v1.5M333 103v1.5M335 97v1.5M337 95.5v1.5M339 92.5v1.5M341 34v1.5M343 86.5v1.5M345 89.5v1.5M347 92.5v1.5M351 34v1.5M353 32.5v3M355 32.5v3M355 94v1.5M357 32.5v3M359 34v1.5M363 31v1.5M363 95.5v1.5M363 103v4.5M365 106v1.5M367 32.5v1.5M367 103v1.5M371 32.5v1.5M371 94v1.5M375 97v1.5M381 88v1.5M387 92.5v1.5M389 95.5v1.5M391 100v1.5M393 97v1.5M395 92.5v1.5M403 97v1.5M405 98.5v3M407 92.5v6M409 91v4.5M411 89.5v1.5M413 97v3M415 98.5v4.5M417 98.5v4.5M419 100v3M421 97v3M423 104.5v1.5M425 98.5v6M427 95.5v3M433 80.5v1.5M435 86.5v1.5M441 83.5v1.5M447 89.5v1.5M449 91v1.5M453 88v1.5M459 94v1.5M461 94v1.5"/><path stroke="#ffbf00" d="M79 110.5v4.5M81 106v3M89 113.5v1.5M91 106v9M93 112v3M95 107.5v6M97 109v3M101 112v3M103 110.5v4.5M107 107.5v6M109 110.5v3M121 107.5v7.5M123 104.5v10.5M125 107.5v3M127 113.5v1.5M129 110.5v1.5M133 104.5v1.5M135 104.5v1.5M137 106v1.5M139 106v1.5M141 113.5v1.5M147 104.5v4.5M151 92.5v1.5M159 91v1.5M177 88v1.5M185 92.5v1.5M187 104.5v3M189 104.5v1.5M197 97v1.5M199 34v1.5M199 107.5v1.5M201 34v1.5M201 104.5v1.5M203 101.5v1.5M209 98.5v1.5M211 34v1.5M211 106v1.5M213 34v1.5M213 107.5v1.5M215 34v3M215 113.5v1.5M217 34v3M217 112v3M219 109v4.5M221 103v1.5M223 97v6M225 101.5v1.5M227 35.5v1.5M227 101.5v1.5M229 34v3M229 100v1.5M231 34v1.5M231 98.5v1.5M233 34v1.5M235 100v1.5M237 103v4.5M239 104.5v3M241 103v1.5M243 100v3M245 104.5v1.5M247 106v3M249 112v3M251 113.5v1.5M253 107.5v3M255 107.5v1.5M257 100v6M259 110.5v4.5M261 112v3M263 107.5v6M265 103v12M267 109v1.5M269 107.5v1.5M271 110.5v3M273 107.5v3M275 110.5v3M277 109v3M281 98.5v4.5M283 95.5v3M283 100v1.5M285 104.5v1.5M287 100v3M289 101.5v3M291 101.5v3M293 106v1.5M295 101.5v1.5M297 34v1.5M297 106v3M299 34v1.5M299 98.5v3M301 106v1.5M303 109v1.5M305 104.5v1.5M307 34v1.5M307 104.5v1.5M309 34v1.5M309 109v1.5M311 34v1.5M311 103v6M313 34v1.5M313 101.5v7.5M315 34v1.5M315 104.5v3M317 103v4.5M321 107.5v1.5M323 34v1.5M323 101.5v1.5M325 34v1.5M325 97v1.5M327 97v4.5M327 107.5v1.5M329 98.5v1.5M331 98.5v1.5M333 104.5v1.5M335 34v1.5M335 98.5v1.5M337 34v1.5M339 34v1.5M341 91v1.5M345 91v1.5M349 97v3M351 97v1.5M353 97v1.5M357 92.5v1.5M359 32.5v1.5M359 95.5v1.5M361 34v1.5M361 97v1.5M363 97v6M363 107.5v1.5M365 34v1.5M365 107.5v1.5M367 104.5v1.5M369 94v1.5M373 92.5v1.5M377 95.5v1.5M383 86.5v1.5M389 97v1.5M391 101.5v1.5M393 98.5v1.5M395 94v1.5M397 89.5v1.5M399 89.5v1.5M401 92.5v1.5M403 98.5v1.5M407 98.5v1.5M409 95.5v1.5M411 91v7.5M411 101.5v1.5M413 100v3M415 103v1.5M421 100v1.5M423 106v1.5M425 104.5v3M427 98.5v1.5M429 88v1.5M433 82v1.5M437 83.5v1.5M443 86.5v1.5M455 88v1.5M457 92.5v1.5M459 95.5v1.5M461 95.5v1.5"/><path stroke="#ff9f00" d="M81 109v6M95 113.5v1.5M97 112v3M107 113.5v1.5M109 113.5v1.5M125 110.5v3M129 112v1.5M133 106v1.5M135 106v1.5M137 107.5v3M137 113.5v1.5M139 107.5v1.5M147 109v1.5M149 95.5v1.5M153 91v1.5M155 91v1.5M161 92.5v1.5M163 95.5v1.5M167 101.5v1.5M169 98.5v1.5M171 97v1.5M173 92.5v1.5M175 91v1.5M179 88v1.5M183 94v1.5M185 94v1.5M187 107.5v1.5M189 106v3M193 92.5v1.5M195 92.5v1.5M199 109v1.5M201 106v1.5M203 103v1.5M207 97v1.5M209 100v1.5M211 107.5v1.5M213 109v1.5M219 34v3M219 113.5v1.5M221 34v3M221 104.5v3M223 34v3M223 103v3M225 34v3M227 34v1.5M227 103v1.5M229 101.5v1.5M233 98.5v1.5M235 101.5v1.5M237 107.5v1.5M239 107.5v1.5M241 104.5v3M247 109v1.5M253 110.5v4.5M255 109v3M257 106v3M263 113.5v1.5M267 110.5v1.5M269 109v1.5M271 113.5v1.5M273 110.5v1.5M275 113.5v1.5M277 112v3M279 110.5v1.5M281 103v3M283 98.5v1.5M283 101.5v3M285 106v1.5M287 103v1.5M291 104.5v1.5M293 107.5v3M295 103v1.5M297 109v4.5M299 101.5v1.5M301 107.5v1.5M303 110.5v4.5M305 106v1.5M307 106v1.5M309 110.5v1.5M313 109v1.5M315 107.5v1.5M317 34v1.5M317 107.5v1.5M319 34v1.5M319 107.5v1.5M321 34v1.5M321 109v1.5M323 110.5v1.5M325 98.5v1.5M325 106v4.5M327 101.5v6M327 109v3M331 100v1.5M333 106v3M335 100v1.5M337 97v1.5M339 94v1.5M343 88v1.5M349 100v3M351 98.5v1.5M361 32.5v1.5M361 98.5v4.5M363 34v1.5M363 109v6M365 32.5v1.5M365 109v1.5M367 106v1.5M371 95.5v1.5M375 98.5v1.5M379 92.5v1.5M385 89.5v1.5M389 98.5v3M389 106v1.5M393 100v1.5M399 91v1.5M403 100v1.5M405 101.5v1.5M407 100v1.5M409 97v1.5M411 98.5v3M411 103v1.5M413 103v1.5M415 104.5v1.5M417 103v3M419 103v1.5M421 101.5v1.5M423 107.5v4.5M425 107.5v1.5M427 100v3M433 83.5v1.5M451 89.5v1.5M459 97v1.5"/><path stroke="#ff8000" d="M125 113.5v1.5M129 113.5v1.5M133 107.5v1.5M135 107.5v3M137 110.5v3M139 109v1.5M147 110.5v4.5M149 97v1.5M151 94v7.5M157 91v1.5M165 98.5v1.5M173 94v1.5M181 89.5v1.5M187 109v1.5M191 100v1.5M197 98.5v1.5M199 110.5v1.5M201 107.5v3M203 109v1.5M205 98.5v1.5M207 113.5v1.5M213 110.5v1.5M223 106v1.5M227 104.5v1.5M237 109v3M239 109v3M241 107.5v1.5M243 103v1.5M245 106v1.5M247 110.5v1.5M255 112v1.5M257 109v6M267 112v1.5M269 110.5v3M273 112v3M279 112v1.5M281 106v1.5M283 104.5v3M285 107.5v1.5M287 104.5v1.5M289 104.5v1.5M293 110.5v4.5M295 104.5v1.5M297 113.5v1.5M299 103v1.5M301 109v1.5M305 107.5v1.5M307 107.5v1.5M309 112v3M311 109v1.5M313 110.5v1.5M315 109v1.5M323 112v1.5M325 100v6M325 110.5v1.5M327 112v1.5M329 100v1.5M331 101.5v1.5M333 109v1.5M335 101.5v3M337 98.5v1.5M343 89.5v3M345 92.5v1.5M347 94v1.5M349 103v1.5M351 100v3M353 98.5v1.5M355 95.5v1.5M357 94v1.5M361 103v4.5M363 32.5v1.5M365 110.5v1.5M367 107.5v1.5M369 95.5v1.5M373 94v1.5M377 97v1.5M381 89.5v1.5M383 88v1.5M387 94v1.5M389 101.5v4.5M389 107.5v4.5M391 103v1.5M393 101.5v1.5M393 110.5v3M395 95.5v1.5M397 91v1.5M399 92.5v1.5M401 94v1.5M405 103v1.5M407 101.5v1.5M409 98.5v3M411 104.5v1.5M413 104.5v1.5M415 106v3M419 104.5v1.5M421 103v1.5M423 112v3M425 109v6M435 88v1.5M441 85v1.5M445 89.5v1.5M453 89.5v1.5M455 89.5v1.5M457 94v1.5M459 98.5v1.5M459 103v3M461 97v1.5"/><path stroke="#ff6000" d="M133 109v3M135 110.5v4.5M139 110.5v4.5M149 98.5v1.5M151 101.5v3M153 98.5v3M159 92.5v1.5M167 103v1.5M169 100v1.5M171 98.5v1.5M175 92.5v1.5M177 89.5v1.5M185 95.5v1.5M187 110.5v4.5M189 109v3M191 101.5v1.5M201 110.5v1.5M203 104.5v1.5M203 107.5v1.5M203 110.5v3M205 112v1.5M207 98.5v1.5M207 112v1.5M209 101.5v1.5M211 109v6M213 112v1.5M221 107.5v1.5M223 107.5v1.5M223 110.5v1.5M225 103v1.5M229 103v1.5M231 100v1.5M233 100v1.5M235 103v1.5M237 112v1.5M239 112v1.5M243 104.5v3M247 112v3M255 113.5v1.5M267 113.5v1.5M269 113.5v1.5M281 107.5v1.5M283 107.5v1.5M287 106v1.5M289 106v1.5M291 106v1.5M295 106v1.5M299 104.5v1.5M301 110.5v4.5M311 110.5v1.5M313 112v3M315 110.5v1.5M317 109v1.5M319 109v1.5M325 112v1.5M329 101.5v1.5M333 110.5v3M335 104.5v6M339 95.5v1.5M341 92.5v1.5M343 92.5v3M345 94v1.5M353 100v1.5M359 97v1.5M361 107.5v1.5M365 112v3M367 109v1.5M371 97v1.5M375 100v1.5M389 112v1.5M391 104.5v4.5M393 103v1.5M393 106v1.5M393 109v1.5M393 113.5v1.5M395 97v1.5M399 112v3M401 95.5v1.5M403 101.5v1.5M407 103v1.5M409 101.5v3M411 106v3M413 106v3M415 109v6M417 106v1.5M419 106v1.5M427 103v1.5M429 89.5v1.5M437 85v1.5M447 91v1.5M449 92.5v1.5M451 91v1.5M459 100v3M459 106v1.5M461 98.5v7.5"/><path stroke="#ff4000" d="M133 112v3M149 100v1.5M151 104.5v1.5M153 92.5v1.5M153 95.5v3M153 101.5v3M155 92.5v1.5M161 94v1.5M163 97v1.5M165 100v1.5M167 104.5v4.5M173 95.5v1.5M179 89.5v3M183 95.5v1.5M189 112v1.5M191 103v1.5M193 94v1.5M195 94v1.5M197 100v1.5M199 112v3M203 106v1.5M203 113.5v1.5M205 100v1.5M205 110.5v1.5M205 113.5v1.5M207 100v1.5M209 103v1.5M209 113.5v1.5M213 113.5v1.5M221 109v4.5M223 109v1.5M223 112v3M225 104.5v1.5M227 106v1.5M227 110.5v4.5M229 104.5v1.5M235 104.5v1.5M237 113.5v1.5M241 109v3M279 113.5v1.5M281 109v1.5M285 109v1.5M287 107.5v1.5M289 107.5v1.5M291 107.5v1.5M295 107.5v6M299 106v3M299 113.5v1.5M305 109v1.5M305 113.5v1.5M307 109v1.5M311 112v3M321 110.5v1.5M323 113.5v1.5M327 113.5v1.5M329 103v1.5M329 107.5v6M331 103v1.5M335 110.5v1.5M337 100v15M341 94v3M343 95.5v3M347 95.5v7.5M349 104.5v1.5M349 113.5v1.5M351 103v1.5M353 101.5v1.5M355 97v1.5M361 109v4.5M369 97v1.5M369 101.5v1.5M371 100v1.5M379 94v1.5M385 91v1.5M387 110.5v1.5M389 113.5v1.5M391 109v3M393 104.5v1.5M393 107.5v1.5M395 98.5v1.5M395 110.5v4.5M399 94v1.5M399 110.5v1.5M403 110.5v4.5M405 104.5v1.5M405 113.5v1.5M409 104.5v1.5M411 109v3M413 109v4.5M417 107.5v1.5M419 107.5v1.5M421 104.5v1.5M427 104.5v3M433 85v1.5M435 97v4.5M435 104.5v6M439 104.5v6M443 88v1.5M457 95.5v1.5M457 101.5v6M459 107.5v1.5M461 106v1.5"/><path stroke="#ff2000" d="M149 101.5v4.5M153 94v1.5M155 95.5v6M157 92.5v3M159 94v1.5M167 109v1.5M169 101.5v9M171 100v1.5M173 103v1.5M175 94v1.5M175 103v1.5M177 91v1.5M179 92.5v1.5M181 91v1.5M185 97v1.5M189 113.5v1.5M191 104.5v4.5M201 112v1.5M205 101.5v1.5M205 107.5v3M207 101.5v1.5M207 110.5v1.5M209 104.5v1.5M209 112v1.5M221 113.5v1.5M227 107.5v3M229 106v1.5M235 106v3M239 113.5v1.5M243 107.5v1.5M245 107.5v1.5M281 110.5v1.5M283 109v1.5M285 110.5v1.5M287 109v1.5M289 109v1.5M291 109v3M291 113.5v1.5M295 113.5v1.5M299 109v4.5M305 110.5v3M307 110.5v1.5M315 112v3M317 110.5v1.5M321 112v1.5M325 113.5v1.5M329 104.5v3M329 113.5v1.5M331 104.5v1.5M331 107.5v3M333 113.5v1.5M335 112v3M339 97v1.5M339 103v12M341 97v1.5M343 110.5v1.5M345 95.5v3M347 103v1.5M347 112v3M349 106v1.5M349 112v1.5M351 104.5v1.5M351 113.5v1.5M353 103v1.5M355 98.5v1.5M357 95.5v1.5M359 98.5v9M361 113.5v1.5M367 110.5v1.5M369 98.5v3M369 103v4.5M371 98.5v1.5M371 101.5v1.5M373 95.5v1.5M375 101.5v6M377 98.5v1.5M381 91v1.5M381 109v3M383 89.5v1.5M387 95.5v1.5M387 107.5v3M387 112v1.5M391 112v1.5M395 100v1.5M395 109v1.5M397 92.5v1.5M397 112v3M399 95.5v1.5M399 109v1.5M401 97v1.5M403 103v1.5M403 109v1.5M405 106v1.5M405 109v4.5M407 104.5v1.5M411 112v3M413 113.5v1.5M417 109v6M419 109v3M419 113.5v1.5M421 106v1.5M427 107.5v7.5M433 104.5v1.5M433 107.5v3M435 89.5v1.5M435 95.5v1.5M435 101.5v3M437 98.5v3M437 104.5v3M437 109v1.5M439 98.5v6M439 110.5v1.5M445 91v1.5M449 94v1.5M455 91v1.5M457 100v1.5"/><path stroke="#df0000" d="M149 106v3M151 107.5v1.5M153 106v1.5M155 103v1.5M157 98.5v3M159 95.5v1.5M163 98.5v1.5M165 103v6M167 112v1.5M169 112v3M171 103v7.5M173 98.5v4.5M173 107.5v3M175 97v1.5M175 101.5v1.5M175 107.5v6M177 95.5v1.5M177 101.5v4.5M179 95.5v9M181 92.5v1.5M183 97v1.5M191 113.5v1.5M193 95.5v1.5M193 109v6M195 95.5v1.5M195 106v3M197 110.5v1.5M205 106v1.5M207 106v1.5M209 107.5v4.5M225 107.5v3M231 103v1.5M231 106v7.5M233 103v12M235 112v3M241 113.5v1.5M243 109v1.5M283 113.5v1.5M287 110.5v1.5M317 113.5v1.5M321 113.5v1.5M331 113.5v1.5M341 101.5v1.5M343 101.5v6M345 98.5v3M347 107.5v3M349 107.5v3M351 106v1.5M353 106v1.5M353 113.5v1.5M355 103v3M359 109v6M367 113.5v1.5M369 109v1.5M371 106v1.5M375 109v1.5M377 100v6M377 109v1.5M379 103v3M379 110.5v1.5M381 106v1.5M381 113.5v1.5M383 109v3M387 97v1.5M387 104.5v1.5M395 104.5v1.5M397 94v1.5M399 98.5v3M399 107.5v1.5M401 100v1.5M401 109v1.5M407 106v3M407 110.5v1.5M409 107.5v3M429 91v1.5M429 97v3M429 103v9M431 79v4.5M433 98.5v3M435 92.5v1.5M435 112v1.5M437 86.5v1.5M437 95.5v1.5M437 112v1.5M439 76v1.5M439 113.5v1.5M441 95.5v1.5M441 98.5v1.5M441 101.5v4.5M441 107.5v3M443 94v1.5M443 100v3M443 106v1.5M445 101.5v7.5M449 95.5v1.5M451 92.5v1.5M453 104.5v6M455 92.5v1.5M455 100v7.5M457 109v1.5M459 110.5v1.5M461 109v1.5"/><path stroke="#bf0000" d="M149 109v1.5M149 113.5v1.5M151 109v1.5M153 107.5v1.5M155 104.5v1.5M157 101.5v1.5M161 97v1.5M163 100v1.5M165 109v1.5M167 113.5v1.5M173 110.5v1.5M175 98.5v3M177 97v4.5M177 106v1.5M177 113.5v1.5M179 104.5v1.5M181 94v3M183 98.5v16.5M185 98.5v1.5M185 104.5v10.5M193 97v1.5M193 106v3M195 103v3M195 109v3M197 112v1.5M205 104.5v1.5M207 104.5v1.5M243 110.5v1.5M245 110.5v1.5M285 113.5v1.5M287 112v1.5M319 112v1.5M345 101.5v1.5M345 110.5v4.5M351 107.5v1.5M351 110.5v1.5M353 107.5v1.5M353 110.5v3M355 106v1.5M357 97v1.5M369 110.5v1.5M373 97v1.5M373 106v1.5M375 110.5v1.5M377 110.5v1.5M379 97v6M381 92.5v1.5M381 104.5v1.5M383 91v1.5M383 107.5v1.5M383 112v3M385 92.5v1.5M385 110.5v4.5M387 103v1.5M397 109v1.5M399 101.5v6M401 101.5v1.5M409 110.5v1.5M429 112v3M431 83.5v1.5M431 98.5v12M433 86.5v1.5M433 112v1.5M441 110.5v1.5M443 91v3M443 98.5v1.5M443 103v3M443 107.5v1.5M445 92.5v1.5M445 97v1.5M445 100v1.5M445 109v4.5M449 101.5v3M449 106v3M449 110.5v1.5M451 94v3M453 101.5v3M453 110.5v1.5M455 98.5v1.5M455 107.5v1.5M459 112v3"/><path stroke="#9f0000" d="M149 110.5v3M155 106v4.5M155 112v3M157 103v12M159 97v1.5M163 101.5v6M165 110.5v1.5M171 110.5v4.5M173 112v3M177 107.5v6M179 106v1.5M181 97v1.5M181 100v1.5M185 103v1.5M193 103v3M195 97v1.5M195 101.5v1.5M195 112v3M197 113.5v1.5M243 112v1.5M287 113.5v1.5M319 113.5v1.5M345 103v3M345 109v1.5M351 109v1.5M353 109v1.5M355 107.5v1.5M357 98.5v7.5M369 112v1.5M371 107.5v1.5M373 101.5v4.5M373 107.5v1.5M379 112v1.5M381 94v10.5M383 92.5v1.5M383 106v1.5M385 109v1.5M387 98.5v4.5M397 95.5v3M397 100v3M397 107.5v1.5M401 103v6M409 112v3M429 92.5v1.5M429 95.5v1.5M431 110.5v3M433 97v1.5M433 113.5v1.5M435 113.5v1.5M437 88v1.5M437 94v1.5M437 113.5v1.5M439 77.5v1.5M439 97v1.5M441 112v3M443 109v1.5M445 94v3M445 98.5v1.5M445 113.5v1.5M447 94v4.5M447 100v9M449 97v4.5M449 104.5v1.5M449 109v1.5M449 112v3M451 97v6M453 92.5v1.5M453 98.5v3M455 94v4.5M455 109v1.5M457 110.5v1.5M461 110.5v4.5"/><path stroke="#ff0000" d="M151 106v1.5M153 104.5v1.5M155 94v1.5M155 101.5v1.5M157 95.5v3M161 95.5v1.5M165 101.5v1.5M167 110.5v1.5M169 110.5v1.5M171 101.5v1.5M173 97v1.5M173 104.5v3M175 95.5v1.5M175 104.5v3M175 113.5v1.5M177 92.5v3M179 94v1.5M191 109v4.5M197 101.5v9M201 113.5v1.5M205 103v1.5M207 103v1.5M207 107.5v3M209 106v1.5M225 106v1.5M225 110.5v4.5M229 107.5v7.5M231 101.5v1.5M231 104.5v1.5M231 113.5v1.5M233 101.5v1.5M235 109v3M241 112v1.5M245 109v1.5M281 112v3M283 110.5v3M285 112v1.5M289 110.5v4.5M291 112v1.5M307 112v3M317 112v1.5M319 110.5v1.5M331 106v1.5M331 110.5v3M339 98.5v4.5M341 98.5v3M341 103v12M343 98.5v3M343 107.5v3M343 112v3M347 104.5v3M347 110.5v1.5M349 110.5v1.5M351 112v1.5M353 104.5v1.5M355 100v3M359 107.5v1.5M367 112v1.5M369 107.5v1.5M371 103v3M375 107.5v1.5M377 106v3M379 95.5v1.5M379 106v4.5M381 107.5v1.5M381 112v1.5M387 106v1.5M387 113.5v1.5M391 113.5v1.5M395 101.5v3M395 106v3M397 110.5v1.5M399 97v1.5M401 98.5v1.5M401 110.5v4.5M403 104.5v4.5M405 107.5v1.5M407 109v1.5M407 112v3M409 106v1.5M419 112v1.5M421 107.5v7.5M429 100v3M431 77.5v1.5M433 101.5v3M433 106v1.5M433 110.5v1.5M435 91v1.5M435 94v1.5M435 110.5v1.5M437 97v1.5M437 101.5v3M437 107.5v1.5M437 110.5v1.5M439 112v1.5M441 86.5v1.5M441 97v1.5M441 100v1.5M441 106v1.5M443 89.5v1.5M443 95.5v3M447 92.5v1.5M453 91v1.5M457 97v3M457 107.5v1.5M459 109v1.5M461 107.5v1.5"/><path stroke="#800000" d="M151 110.5v4.5M153 109v6M155 110.5v1.5M159 98.5v16.5M161 98.5v16.5M163 107.5v7.5M165 112v3M179 107.5v7.5M181 98.5v1.5M181 101.5v13.5M185 100v3M193 98.5v4.5M195 98.5v3M243 113.5v1.5M245 112v3M345 106v3M355 109v6M357 106v9M369 113.5v1.5M371 109v6M373 98.5v3M373 109v6M375 112v3M377 112v3M379 113.5v1.5M383 94v12M385 94v15M397 98.5v1.5M397 103v4.5M429 94v1.5M431 85v13.5M431 113.5v1.5M433 88v9M437 89.5v4.5M439 79v18M441 88v7.5M443 110.5v4.5M447 98.5v1.5M447 109v6M451 103v12M453 94v4.5M453 112v3M455 110.5v4.5M457 112v3"/></g></g><g clip-path="url(#cpa)"><path d="M78.8 37.19L80.8 37.18L82.8 37.16L84.8 37.15L86.8 37.13L88.8 37.12L90.8 37.10L92.8 37.09L94.8 37.07L96.8 37.06L98.8 37.04L100.8 37.02L102.8 37.01L104.8 36.99L106.8 36.98L108.8 36.96L110.8 36.95L112.8 36.93L114.8 36.92L116.8 36.90L118.8 36.89L120.8 36.87L122.8 36.86L124.8 36.84L126.8 36.82L128.8 36.81L130.8 36.80L132.8 36.80L134.8 36.79L136.8 36.79L138.8 36.79L140.8 36.78L142.8 36.78L144.8 36.78L146.8 36.78L148.8 36.77L150.8 36.77L152.8 36.77L154.8 36.76L156.8 36.76L158.8 36.76L160.8 36.76L162.8 36.75L164.8 36.75L166.8 35.84L168.8 35.45L170.8 35.45L172.8 35.45L174.8 35.44L176.8 35.44L178.8 35.44L180.8 35.44L182.8 35.44L184.8 35.43L186.8 35.43L188.8 35.43L190.8 35.43L192.8 35.43L194.8 35.42L196.8 35.42L198.8 35.42L200.8 35.42L202.8 35.42L204.8 35.41L206.8 35.41L208.8 35.41L210.8 35.41L212.8 35.41L214.8 35.41L216.8 35.40L218.8 35.40L220.8 35.40L222.8 35.39L224.8 35.38L226.8 35.38L228.8 35.37L230.8 35.36L232.8 35.36L234.8 35.35L236.8 35.34L238.8 35.34L240.8 35.33L242.8 35.32L244.8 35.31L246.8 35.31L248.8 35.30L250.8 35.29L252.8 35.29L254.8 35.28L256.8 35.27L258.8 35.27L260.8 35.26L262.8 35.25L264.8 35.25L266.8 35.24L268.8 35.23L270.8 35.23L272.8 35.22L274.8 35.21L276.8 35.20L278.8 35.19L280.8 35.17L282.8 35.15L284.8 35.12L286.8 35.10L288.8 35.08L290.8 35.05L292.8 35.03L294.8 35.01L296.8 34.98L298.8 34.96L300.8 34.94L302.8 34.91L304.8 34.89L306.8 34.87L308.8 34.85L310.8 34.82L312.8 34.80L314.8 34.78L316.8 34.75L318.8 34.73L320.8 34.71L322.8 34.68L324.8 34.66L326.8 34.64L328.8 34.61L330.8 34.58L332.8 34.52L334.8 34.46L336.8 34.41L338.8 34.35L340.8 34.29L342.8 34.24L344.8 34.18L346.8 34.12L348.8 34.06L350.8 34.01L352.8 33.95L354.8 33.89L356.8 33.84L358.8 33.78L360.8 33.72L362.8 33.66L364.8 33.61L366.8 33.63L368.8 33.68L370.8 33.72L372.8 33.76L374.8 33.80L376.8 33.84L378.8 33.88L380.8 33.91L382.8 33.95L384.8 33.99L386.8 34.09L388.8 34.19L390.8 34.30L392.8 34.40L394.8 34.50L396.8 34.60L398.8 34.71L400.8 34.81L402.8 34.91L404.8 35.02L406.8 35.12L408.8 35.22L410.8 35.32L412.8 35.43L414.8 35.53L416.8 35.63L418.8 35.74L420.8 35.84L422.8 35.96L424.8 36.07L426.8 36.19L428.8 36.30L430.8 36.41L432.8 36.53L434.8 36.64L436.8 36.76L438.8 36.87L440.8 36.99L442.8 37.10L444.8 37.21L446.8 37.33L448.8 37.44L450.8 37.56L452.8 37.67L454.8 37.79L456.8 37.90" fill="none" stroke="#d030e0" stroke-width="2.2"/><path d="M78.8 73.60L80.8 73.59L82.8 73.58L84.8 73.57L86.8 73.56L88.8 73.55L90.8 73.54L92.8 73.53L94.8 73.52L96.8 73.51L98.8 73.50L100.8 73.49L102.8 73.48L104.8 73.47L106.8 73.46L108.8 73.45L110.8 73.44L112.8 73.43L114.8 73.42L116.8 73.41L118.8 73.40L120.8 73.39L122.8 73.38L124.8 73.37L126.8 73.36L128.8 73.35L130.8 73.34L132.8 73.33L134.8 73.32L136.8 73.31L138.8 73.30L140.8 73.29L142.8 73.28L144.8 73.27L146.8 73.26L148.8 73.25L150.8 73.24L152.8 73.23L154.8 73.22L156.8 73.21L158.8 73.20L160.8 73.19L162.8 73.18L164.8 73.17L166.8 73.16L168.8 73.15L170.8 73.14L172.8 73.13L174.8 73.12L176.8 73.11L178.8 73.10L180.8 73.09L182.8 73.08L184.8 73.08L186.8 73.07L188.8 73.06L190.8 73.05L192.8 73.04L194.8 73.03L196.8 73.02L198.8 73.01L200.8 72.95L202.8 72.82L204.8 72.68L206.8 72.55L208.8 72.42L210.8 72.28L212.8 72.15L214.8 72.02L216.8 71.99L218.8 71.97L220.8 71.95L222.8 71.94L224.8 71.92L226.8 71.91L228.8 71.89L230.8 71.88L232.8 71.86L234.8 71.84L236.8 71.83L238.8 71.81L240.8 71.80L242.8 71.78L244.8 71.76L246.8 71.75L248.8 71.73L250.8 71.72L252.8 71.70L254.8 71.68L256.8 71.67L258.8 71.65L260.8 71.64L262.8 71.62L264.8 71.61L266.8 71.59L268.8 71.57L270.8 71.56L272.8 71.54L274.8 71.53L276.8 71.51L278.8 71.50L280.8 71.49L282.8 71.48L284.8 71.47L286.8 71.47L288.8 71.46L290.8 71.45L292.8 71.44L294.8 71.44L296.8 71.43L298.8 71.42L300.8 71.41L302.8 71.40L304.8 71.40L306.8 71.39L308.8 71.38L310.8 71.37L312.8 71.37L314.8 71.36L316.8 71.35L318.8 71.34L320.8 71.34L322.8 71.33L324.8 71.32L326.8 71.31L328.8 71.30L330.8 71.31L332.8 71.32L334.8 71.34L336.8 71.35L338.8 71.37L340.8 71.38L342.8 71.40L344.8 71.41L346.8 71.43L348.8 71.44L350.8 71.46L352.8 71.47L354.8 71.49L356.8 71.50L358.8 71.52L360.8 71.53L362.8 71.55L364.8 71.56L366.8 71.58L368.8 71.59L370.8 71.62L372.8 71.67L374.8 71.71L376.8 71.76L378.8 71.81L380.8 71.86L382.8 71.91L384.8 71.95L386.8 72.00L388.8 72.05L390.8 72.10L392.8 72.15L394.8 72.19L396.8 72.24L398.8 72.29L400.8 72.34L402.8 72.39L404.8 72.43L406.8 72.48L408.8 72.53L410.8 72.58L412.8 72.63L414.8 72.67L416.8 72.72L418.8 72.77L420.8 72.82L422.8 72.89L424.8 72.95L426.8 73.01L428.8 73.07L430.8 73.14L432.8 73.20L434.8 73.26L436.8 73.32L438.8 73.38L440.8 73.45L442.8 73.51L444.8 73.57L446.8 73.63L448.8 73.70L450.8 73.76L452.8 73.82L454.8 73.88L456.8 73.95" fill="none" stroke="#000" stroke-width="2.4"/></g><g clip-path="url(#cqh)" shape-rendering="crispEdges"><g fill="none" stroke-width="1"><path stroke="#00c8ff" d="M78.5 648v4M78.5 657v5M78.5 701v4M79.5 648v4M79.5 658v3M79.5 701v3M79.5 724v1M80.5 649v2M80.5 659v1M80.5 702v1M80.5 723v3M81.5 678v1M81.5 683v1M81.5 722v4M82.5 673v2M82.5 677v3M82.5 682v3M82.5 723v2M83.5 672v14M84.5 672v3M84.5 677v3M84.5 682v3M85.5 673v1M85.5 678v1M85.5 683v1M86.5 645v1M86.5 659v1M86.5 669v1M87.5 645v2M87.5 658v3M87.5 668v3M88.5 645v2M88.5 657v5M88.5 667v4M89.5 645v1M89.5 651v2M89.5 658v3M89.5 668v2M90.5 650v4M90.5 659v1M91.5 651v3M92.5 652v1M93.5 695v1M94.5 694v3M95.5 693v5M96.5 692v5M97.5 691v5M98.5 691v4M99.5 692v2M101.5 649v2M101.5 654v2M101.5 702v2M102.5 648v4M102.5 653v4M102.5 701v4M103.5 647v5M103.5 653v5M103.5 661v2M103.5 671v1M103.5 676v1M103.5 701v3M104.5 646v5M104.5 654v5M104.5 660v4M104.5 670v3M104.5 675v3M104.5 702v1M105.5 645v5M105.5 655v4M105.5 660v4M105.5 669v9M106.5 646v5M106.5 656v2M106.5 661v2M106.5 670v3M106.5 675v2M106.5 716v2M107.5 647v5M107.5 671v1M107.5 715v4M108.5 648v3M108.5 716v3M109.5 649v1M109.5 717v1M110.5 712v1M110.5 721v1M111.5 711v3M111.5 720v3M112.5 710v5M112.5 720v4M113.5 690v2M113.5 711v3M113.5 721v2M114.5 689v4M114.5 712v1M115.5 645v1M115.5 689v3M115.5 721v2M116.5 645v2M116.5 690v1M116.5 720v4M117.5 645v2M117.5 652v1M117.5 671v1M117.5 695v1M117.5 720v4M118.5 645v1M118.5 651v3M118.5 670v3M118.5 694v3M118.5 721v2M119.5 650v5M119.5 669v5M119.5 693v5M120.5 651v3M120.5 670v3M120.5 694v3M121.5 652v1M121.5 671v1M121.5 695v1M121.5 730v1M122.5 690v1M122.5 695v1M122.5 709v1M122.5 730v1M123.5 689v3M123.5 694v3M123.5 708v3M124.5 688v10M124.5 708v4M125.5 689v3M125.5 694v3M125.5 709v2M125.5 721v2M126.5 690v1M126.5 695v1M126.5 720v4M127.5 720v4M128.5 721v2M130.5 716v2M131.5 715v4M132.5 656v2M132.5 661v2M132.5 666v2M132.5 716v3M133.5 655v4M133.5 660v4M133.5 665v4M133.5 717v1M134.5 655v4M134.5 660v4M134.5 665v4M134.5 717v1M135.5 656v2M135.5 661v2M135.5 666v2M135.5 716v3M136.5 715v4M137.5 716v2M139.5 716v2M140.5 715v4M141.5 715v4M142.5 704v2M142.5 709v2M142.5 716v2M143.5 703v4M143.5 708v4M144.5 704v3M144.5 708v3M145.5 705v1M145.5 709v1M154.5 649v2M155.5 648v4M156.5 648v3M156.5 709v2M156.5 723v2M157.5 649v1M157.5 708v4M157.5 722v4M158.5 683v1M158.5 688v1M158.5 708v4M158.5 722v4M159.5 682v3M159.5 687v3M159.5 709v2M159.5 723v2M159.5 730v1M160.5 681v10M160.5 719v1M160.5 729v2M161.5 682v3M161.5 687v3M161.5 718v3M161.5 730v1M162.5 683v1M162.5 688v1M162.5 717v5M163.5 707v1M163.5 718v3M164.5 706v3M164.5 719v1M165.5 705v5M166.5 656v2M166.5 706v3M167.5 655v4M167.5 707v1M168.5 656v4M168.5 692v2M168.5 721v2M169.5 657v4M169.5 691v4M169.5 720v4M170.5 657v4M170.5 691v4M170.5 720v4M171.5 656v4M171.5 692v2M171.5 721v2M172.5 655v4M173.5 656v2M175.5 700v1M175.5 709v2M175.5 714v1M176.5 699v3M176.5 708v4M176.5 713v3M177.5 683v1M177.5 698v4M177.5 708v4M177.5 713v4M178.5 682v3M178.5 699v2M178.5 709v2M178.5 714v2M178.5 730v1M179.5 681v5M179.5 729v2M180.5 682v3M180.5 730v1M181.5 683v1M184.5 671v1M185.5 670v3M185.5 675v2M185.5 699v2M186.5 669v9M186.5 698v4M187.5 670v3M187.5 675v3M187.5 699v3M187.5 726v1M188.5 671v1M188.5 676v1M188.5 700v1M188.5 725v3M189.5 725v4M190.5 726v2M192.5 687v2M192.5 692v2M192.5 697v2M192.5 702v2M192.5 707v1M193.5 686v4M193.5 691v4M193.5 696v4M193.5 701v4M193.5 706v3M194.5 686v4M194.5 691v4M194.5 696v4M194.5 701v8M195.5 687v2M195.5 692v2M195.5 697v2M195.5 702v6M196.5 683v1M196.5 703v5M197.5 673v2M197.5 678v2M197.5 682v3M197.5 697v2M197.5 702v7M197.5 711v2M197.5 721v2M198.5 672v4M198.5 677v9M198.5 696v4M198.5 701v13M198.5 720v4M199.5 672v15M199.5 690v1M199.5 695v5M199.5 701v3M199.5 706v3M199.5 711v3M199.5 720v4M200.5 673v15M200.5 689v3M200.5 694v5M200.5 702v1M200.5 707v1M200.5 712v1M200.5 721v2M201.5 674v4M201.5 679v4M201.5 684v4M201.5 689v9M201.5 702v1M201.5 707v1M202.5 675v2M202.5 680v2M202.5 685v2M202.5 690v2M202.5 694v3M202.5 701v3M202.5 706v3M202.5 730v1M203.5 695v1M203.5 700v10M203.5 729v2M204.5 701v3M204.5 706v3M204.5 730v1M205.5 702v1M205.5 707v1"/><path stroke="#0037ff" d="M78.5 653v4M79.5 653v3M79.5 690v1M80.5 654v1M80.5 689v3M81.5 689v4M82.5 690v2M93.5 700v1M93.5 724v1M94.5 699v3M94.5 723v3M94.5 728v2M95.5 698v5M95.5 722v9M96.5 699v3M96.5 723v3M96.5 728v3M97.5 700v1M97.5 724v1M97.5 729v1M98.5 666v1M98.5 676v1M99.5 665v3M99.5 675v3M100.5 664v5M100.5 674v5M101.5 665v3M101.5 675v3M102.5 666v1M102.5 676v1M113.5 666v2M114.5 665v4M115.5 665v5M115.5 702v1M116.5 666v5M116.5 701v3M117.5 667v4M117.5 701v4M118.5 668v2M118.5 702v2M127.5 661v2M127.5 728v2M128.5 660v4M128.5 727v4M129.5 660v4M129.5 727v4M130.5 661v2M130.5 728v2M137.5 651v2M137.5 680v2M138.5 650v4M138.5 679v4M139.5 651v3M139.5 679v4M140.5 652v1M140.5 680v2M149.5 654v2M149.5 730v1M150.5 653v4M150.5 729v2M151.5 653v3M151.5 704v2M151.5 730v1M152.5 654v1M152.5 703v4M153.5 703v4M154.5 704v2M161.5 656v2M162.5 655v4M163.5 655v4M164.5 656v2M168.5 687v2M169.5 686v4M170.5 686v4M171.5 687v2M173.5 663v2M174.5 662v4M175.5 663v3M175.5 724v1M176.5 664v1M176.5 723v3M177.5 722v4M178.5 692v2M178.5 723v2M179.5 691v4M180.5 692v3M181.5 693v1M185.5 709v2M186.5 708v4M187.5 708v4M188.5 709v2M199.5 714v1M199.5 719v1M199.5 724v1M200.5 713v3M200.5 718v3M200.5 723v3M201.5 713v13M202.5 714v2M202.5 718v3M202.5 723v2M203.5 719v1"/><path stroke="#0080ff" d="M78.5 662v4M78.5 691v4M78.5 705v5M79.5 647v1M79.5 663v3M79.5 691v4M79.5 706v3M80.5 646v3M80.5 664v1M80.5 692v2M80.5 707v1M81.5 645v5M81.5 702v1M81.5 712v1M82.5 646v3M82.5 701v3M82.5 711v3M83.5 647v1M83.5 700v5M83.5 710v5M84.5 647v1M84.5 666v2M84.5 671v1M84.5 695v1M84.5 699v5M84.5 711v3M85.5 646v3M85.5 665v4M85.5 670v3M85.5 694v3M85.5 698v5M85.5 712v1M86.5 646v3M86.5 665v4M86.5 670v3M86.5 694v3M86.5 698v4M87.5 647v1M87.5 666v2M87.5 671v1M87.5 695v1M87.5 699v2M88.5 719v1M89.5 704v2M89.5 718v3M90.5 703v4M90.5 717v5M91.5 688v1M91.5 703v5M91.5 718v3M92.5 687v3M92.5 704v5M92.5 719v1M93.5 686v4M93.5 705v5M94.5 687v2M94.5 706v3M95.5 707v1M96.5 683v1M96.5 687v2M97.5 682v3M97.5 686v4M98.5 652v1M98.5 657v1M98.5 682v3M98.5 686v4M99.5 651v3M99.5 656v3M99.5 683v1M99.5 687v2M100.5 650v9M101.5 651v3M101.5 656v2M101.5 711v2M102.5 652v1M102.5 710v4M103.5 652v1M103.5 711v3M104.5 651v3M104.5 712v1M105.5 650v4M105.5 659v1M105.5 678v1M106.5 651v2M106.5 658v3M106.5 677v3M106.5 697v2M107.5 657v5M107.5 676v5M107.5 696v4M108.5 658v3M108.5 677v3M108.5 696v3M109.5 659v1M109.5 678v1M109.5 697v1M113.5 675v2M113.5 714v2M113.5 728v2M114.5 674v4M114.5 713v4M114.5 727v4M115.5 649v2M115.5 675v3M115.5 712v4M115.5 727v4M116.5 648v4M116.5 676v1M116.5 711v4M116.5 728v2M117.5 648v4M117.5 690v1M117.5 710v4M118.5 649v2M118.5 689v3M118.5 711v2M119.5 688v5M120.5 659v1M120.5 689v3M121.5 658v3M121.5 690v1M122.5 658v4M123.5 659v4M124.5 660v4M125.5 661v2M127.5 719v1M128.5 718v3M129.5 717v5M130.5 718v3M131.5 719v1M132.5 671v1M132.5 680v2M133.5 670v3M133.5 679v4M134.5 670v3M134.5 679v4M134.5 693v1M135.5 671v1M135.5 680v2M135.5 692v3M136.5 647v1M136.5 691v4M136.5 719v1M137.5 646v3M137.5 656v2M137.5 661v2M137.5 692v2M137.5 699v2M137.5 718v3M138.5 645v5M138.5 655v4M138.5 660v4M138.5 698v4M138.5 717v5M139.5 646v3M139.5 655v4M139.5 660v4M139.5 699v3M139.5 718v3M140.5 647v1M140.5 656v2M140.5 661v2M140.5 700v1M140.5 719v1M141.5 690v1M142.5 685v2M142.5 689v3M143.5 684v9M144.5 684v3M144.5 689v3M144.5 726v2M145.5 685v1M145.5 690v1M145.5 725v4M146.5 681v1M146.5 685v1M146.5 690v1M146.5 700v1M146.5 725v4M147.5 680v3M147.5 684v3M147.5 689v3M147.5 699v3M147.5 726v2M148.5 679v4M148.5 684v9M148.5 698v5M149.5 673v2M149.5 680v2M149.5 685v2M149.5 689v3M149.5 699v3M150.5 672v4M150.5 690v1M150.5 700v1M151.5 671v5M151.5 685v2M151.5 690v1M152.5 670v5M152.5 684v4M152.5 689v3M153.5 669v5M153.5 684v4M153.5 689v4M154.5 670v3M154.5 685v2M154.5 690v2M154.5 716v2M155.5 671v1M155.5 715v4M156.5 651v2M156.5 714v6M157.5 650v4M157.5 713v8M158.5 650v4M158.5 702v1M158.5 713v4M158.5 718v4M159.5 651v2M159.5 701v3M159.5 714v2M159.5 719v4M160.5 700v5M160.5 720v4M161.5 661v2M161.5 701v3M161.5 714v2M161.5 721v2M162.5 660v4M162.5 702v1M162.5 713v4M163.5 654v1M163.5 660v4M163.5 712v4M164.5 653v3M164.5 661v2M164.5 711v4M165.5 652v5M165.5 710v4M166.5 651v5M166.5 711v2M167.5 650v5M168.5 651v3M168.5 668v2M168.5 673v2M169.5 652v1M169.5 667v4M169.5 672v4M170.5 667v9M170.5 724v1M171.5 668v7M171.5 723v3M172.5 669v5M172.5 722v5M173.5 668v5M173.5 711v2M173.5 723v3M174.5 667v5M174.5 710v4M174.5 724v1M175.5 667v4M175.5 711v3M176.5 668v2M176.5 712v1M177.5 654v1M177.5 726v1M178.5 645v1M178.5 653v3M178.5 725v3M179.5 645v2M179.5 652v5M179.5 724v5M180.5 645v2M180.5 653v3M180.5 695v1M180.5 725v3M181.5 645v1M181.5 654v1M181.5 694v3M181.5 726v1M182.5 645v1M182.5 654v1M182.5 694v3M183.5 645v2M183.5 653v3M183.5 695v1M184.5 645v2M184.5 652v5M184.5 719v1M185.5 645v1M185.5 653v3M185.5 718v3M185.5 723v2M186.5 654v1M186.5 717v9M187.5 718v3M187.5 723v3M188.5 719v1M188.5 724v1M192.5 716v2M192.5 721v2M193.5 715v4M193.5 720v4M194.5 715v4M194.5 720v4M195.5 716v2M195.5 721v2M199.5 728v2M200.5 727v4M201.5 727v4M202.5 716v2M202.5 728v2M203.5 715v4M204.5 716v3M205.5 717v1"/><path stroke="#005bff" d="M78.5 671v1M79.5 656v2M79.5 685v2M80.5 655v4M80.5 684v4M81.5 655v4M81.5 684v4M82.5 656v2M82.5 685v2M84.5 675v2M84.5 714v2M85.5 674v4M85.5 713v4M86.5 674v5M86.5 702v1M86.5 713v5M87.5 675v5M87.5 701v3M87.5 714v5M88.5 676v5M88.5 700v5M88.5 715v4M89.5 677v3M89.5 701v3M89.5 716v2M90.5 678v1M90.5 702v1M91.5 654v1M91.5 716v2M92.5 653v3M92.5 715v4M92.5 730v1M93.5 653v4M93.5 715v4M93.5 729v2M94.5 654v2M94.5 716v2M94.5 730v1M96.5 659v1M97.5 658v3M98.5 658v3M98.5 681v1M99.5 659v1M99.5 680v3M100.5 679v4M101.5 680v2M108.5 699v2M109.5 698v4M110.5 698v4M111.5 699v2M112.5 719v1M113.5 699v2M113.5 718v3M114.5 698v4M114.5 717v5M115.5 699v3M115.5 718v3M116.5 700v1M116.5 719v1M117.5 647v1M118.5 646v3M119.5 645v5M120.5 646v3M120.5 702v2M120.5 716v2M120.5 726v2M121.5 647v1M121.5 701v4M121.5 715v4M121.5 725v4M122.5 701v4M122.5 715v4M122.5 725v4M123.5 702v2M123.5 716v2M123.5 726v2M125.5 673v2M126.5 672v4M127.5 656v2M127.5 672v4M127.5 704v2M128.5 655v4M128.5 673v2M128.5 703v4M129.5 655v4M129.5 703v4M130.5 656v2M130.5 704v2M132.5 695v1M132.5 719v1M133.5 694v3M133.5 718v3M134.5 694v3M134.5 718v3M135.5 695v1M135.5 719v1M139.5 659v1M139.5 668v2M139.5 688v1M140.5 658v3M140.5 667v4M140.5 687v3M141.5 657v5M141.5 667v4M141.5 676v1M141.5 686v4M141.5 695v1M142.5 658v3M142.5 668v2M142.5 675v3M142.5 687v2M142.5 694v3M143.5 659v1M143.5 674v5M143.5 693v5M144.5 668v2M144.5 675v3M144.5 687v2M144.5 694v3M145.5 667v4M145.5 676v1M145.5 686v4M145.5 695v1M146.5 647v1M146.5 667v4M146.5 686v4M147.5 646v3M147.5 668v2M147.5 687v2M148.5 645v5M149.5 646v3M150.5 647v1M151.5 666v1M151.5 728v2M152.5 665v3M152.5 727v4M153.5 665v4M153.5 727v4M154.5 645v1M154.5 666v2M154.5 728v2M155.5 645v2M156.5 645v2M156.5 656v2M157.5 645v1M157.5 655v4M158.5 655v4M158.5 707v1M159.5 656v2M159.5 706v3M160.5 695v1M160.5 705v5M161.5 685v2M161.5 694v3M161.5 699v2M161.5 706v3M162.5 684v4M162.5 693v9M162.5 707v1M163.5 664v1M163.5 684v4M163.5 694v3M163.5 699v3M164.5 663v3M164.5 685v2M164.5 695v1M164.5 700v1M165.5 662v4M166.5 663v2M170.5 647v1M170.5 690v1M171.5 646v3M171.5 689v3M172.5 645v5M172.5 688v5M173.5 646v5M173.5 689v5M174.5 647v5M174.5 690v5M175.5 648v4M175.5 671v1M175.5 691v4M176.5 649v2M176.5 670v3M176.5 692v2M177.5 669v5M177.5 707v1M178.5 670v3M178.5 706v3M179.5 671v1M179.5 705v5M180.5 680v2M180.5 690v2M180.5 706v3M181.5 679v4M181.5 689v4M181.5 707v1M182.5 679v4M182.5 689v4M182.5 712v1M182.5 721v1M183.5 680v2M183.5 690v2M183.5 711v3M183.5 720v3M184.5 710v5M184.5 720v4M185.5 656v2M185.5 711v3M185.5 721v2M186.5 655v4M186.5 712v1M187.5 655v4M188.5 656v2M199.5 704v2M199.5 709v2M200.5 703v4M200.5 708v4M201.5 703v4M201.5 708v4M202.5 704v2M202.5 709v2"/><path stroke="#00a4ff" d="M78.5 676v1M78.5 681v5M78.5 714v1M79.5 666v1M79.5 680v5M79.5 728v2M80.5 665v3M80.5 679v5M80.5 727v4M81.5 665v4M81.5 679v4M81.5 727v4M82.5 666v2M82.5 680v2M82.5 728v2M84.5 651v2M84.5 685v2M84.5 728v2M85.5 650v4M85.5 684v4M85.5 727v4M86.5 650v4M86.5 684v4M86.5 727v4M87.5 651v2M87.5 685v2M87.5 728v2M89.5 675v2M89.5 685v2M90.5 674v4M90.5 684v4M91.5 668v2M91.5 675v3M91.5 684v4M92.5 667v4M92.5 676v1M92.5 685v2M93.5 647v1M93.5 667v4M94.5 646v3M94.5 668v2M94.5 685v2M95.5 645v5M95.5 684v4M96.5 646v3M96.5 684v3M96.5 702v2M96.5 716v2M96.5 721v2M97.5 647v1M97.5 685v1M97.5 701v4M97.5 715v4M97.5 720v4M98.5 685v1M98.5 701v4M98.5 715v9M99.5 684v3M99.5 702v2M99.5 716v7M100.5 684v4M100.5 717v5M101.5 685v2M101.5 718v3M102.5 719v1M105.5 654v1M105.5 712v1M105.5 726v1M106.5 653v3M106.5 673v2M106.5 692v2M106.5 711v3M106.5 725v3M107.5 652v5M107.5 672v4M107.5 691v4M107.5 710v5M107.5 724v5M108.5 653v3M108.5 672v3M108.5 685v2M108.5 692v3M108.5 704v2M108.5 711v3M108.5 725v3M109.5 654v1M109.5 673v1M109.5 684v4M109.5 693v1M109.5 703v4M109.5 712v1M109.5 726v1M110.5 673v1M110.5 684v4M110.5 693v1M110.5 697v1M110.5 703v4M111.5 672v3M111.5 685v2M111.5 692v3M111.5 696v3M111.5 704v2M112.5 672v4M112.5 691v4M112.5 696v4M113.5 673v2M113.5 680v2M113.5 692v2M113.5 697v2M113.5 704v2M114.5 679v4M114.5 703v4M115.5 678v5M115.5 697v2M115.5 703v4M115.5 726v1M116.5 677v5M116.5 696v4M116.5 704v2M116.5 725v3M116.5 730v1M117.5 677v4M117.5 696v4M117.5 725v6M118.5 678v2M118.5 697v2M118.5 726v2M118.5 730v1M120.5 678v2M120.5 683v1M121.5 677v4M121.5 682v3M122.5 652v1M122.5 677v4M122.5 682v3M122.5 729v1M123.5 651v3M123.5 678v2M123.5 683v1M123.5 728v3M124.5 650v5M124.5 727v4M125.5 651v3M125.5 716v2M125.5 728v2M126.5 652v1M126.5 715v4M127.5 715v4M128.5 716v2M129.5 659v1M129.5 664v1M130.5 649v2M130.5 658v3M130.5 663v3M130.5 668v2M130.5 673v2M130.5 697v2M131.5 648v4M131.5 657v14M131.5 672v4M131.5 696v4M132.5 647v4M132.5 658v3M132.5 663v3M132.5 668v3M132.5 672v3M132.5 696v3M132.5 704v2M133.5 646v4M133.5 659v1M133.5 664v1M133.5 669v1M133.5 673v1M133.5 697v1M133.5 703v4M134.5 645v4M134.5 664v1M134.5 669v1M134.5 673v1M134.5 703v4M135.5 645v3M135.5 663v3M135.5 668v3M135.5 672v3M135.5 704v2M136.5 645v2M136.5 662v9M136.5 672v4M136.5 695v1M137.5 645v1M137.5 663v3M137.5 668v2M137.5 673v2M137.5 694v3M138.5 664v1M138.5 693v5M139.5 664v1M139.5 694v3M139.5 726v1M140.5 663v3M140.5 695v1M140.5 725v3M141.5 647v1M141.5 652v1M141.5 662v4M141.5 725v4M142.5 646v3M142.5 651v3M142.5 663v2M142.5 726v2M143.5 645v10M144.5 645v9M145.5 645v8M146.5 645v2M146.5 648v4M147.5 645v1M147.5 649v2M148.5 659v1M149.5 658v3M149.5 721v2M150.5 657v5M150.5 720v4M151.5 658v5M151.5 720v5M152.5 659v5M152.5 721v5M153.5 660v4M153.5 683v1M153.5 712v1M153.5 722v5M154.5 661v2M154.5 682v3M154.5 711v3M154.5 721v7M155.5 681v5M155.5 710v5M155.5 720v9M156.5 680v7M156.5 699v2M156.5 711v3M156.5 720v3M156.5 725v3M157.5 679v9M157.5 698v4M157.5 712v1M157.5 721v1M157.5 726v1M158.5 645v1M158.5 659v1M158.5 679v4M158.5 684v4M158.5 698v4M158.5 712v1M159.5 645v2M159.5 658v3M159.5 680v2M159.5 685v2M159.5 699v2M159.5 711v3M160.5 645v2M160.5 657v5M160.5 710v5M161.5 645v1M161.5 658v3M161.5 711v3M162.5 659v1M162.5 712v1M163.5 692v2M163.5 721v2M164.5 691v4M164.5 720v4M165.5 647v1M165.5 676v1M165.5 691v4M165.5 720v4M166.5 646v3M166.5 661v2M166.5 675v3M166.5 692v2M166.5 704v2M166.5 721v2M167.5 645v5M167.5 660v4M167.5 674v5M167.5 703v4M168.5 646v3M168.5 660v3M168.5 675v3M168.5 704v3M168.5 716v2M169.5 647v1M169.5 661v1M169.5 676v1M169.5 705v1M169.5 715v4M170.5 715v4M170.5 729v1M171.5 716v2M171.5 728v3M172.5 727v4M173.5 716v2M173.5 728v2M174.5 715v4M175.5 715v4M176.5 716v2M180.5 651v2M180.5 661v2M180.5 709v2M181.5 650v4M181.5 660v4M181.5 708v4M182.5 650v4M182.5 659v5M182.5 697v1M182.5 708v4M183.5 651v2M183.5 658v5M183.5 696v3M183.5 709v2M184.5 657v5M184.5 696v4M185.5 658v3M185.5 666v2M185.5 697v2M186.5 659v1M186.5 665v4M187.5 665v3M188.5 666v1M192.5 711v2M192.5 726v2M193.5 710v4M193.5 725v4M193.5 730v1M194.5 709v5M194.5 719v1M194.5 724v5M194.5 730v1M195.5 708v5M195.5 718v3M195.5 723v5M196.5 708v4M196.5 717v10M197.5 687v2M197.5 692v2M197.5 709v2M197.5 718v3M197.5 723v3M198.5 686v4M198.5 691v4M198.5 719v1M198.5 724v1M199.5 687v3M199.5 691v4M199.5 700v1M200.5 688v1M200.5 692v2M200.5 699v3M201.5 698v4M201.5 726v1M202.5 699v2M202.5 721v2M202.5 725v3M203.5 720v9M204.5 720v3M204.5 725v3M205.5 721v1M205.5 726v1"/><path stroke="#00edff" d="M79.5 709v2M80.5 708v4M81.5 664v1M81.5 708v4M82.5 663v3M82.5 709v2M82.5 721v2M83.5 662v5M83.5 720v4M84.5 663v3M84.5 720v3M85.5 664v1M85.5 721v1M88.5 647v1M89.5 646v3M89.5 699v2M90.5 645v5M90.5 698v4M91.5 646v3M91.5 699v4M92.5 647v1M92.5 700v4M93.5 701v4M94.5 656v2M94.5 661v2M94.5 680v2M94.5 702v2M95.5 655v4M95.5 660v4M95.5 679v4M96.5 656v3M96.5 660v3M96.5 680v3M97.5 657v1M97.5 661v1M97.5 681v1M103.5 704v2M103.5 728v2M104.5 703v4M104.5 727v4M105.5 703v4M105.5 727v4M106.5 645v1M106.5 704v2M106.5 728v2M107.5 645v2M108.5 645v2M109.5 645v1M120.5 668v2M121.5 667v4M122.5 667v4M123.5 668v2M124.5 707v1M125.5 706v3M125.5 711v2M126.5 705v9M127.5 706v3M127.5 711v3M128.5 707v1M128.5 712v1M130.5 721v2M131.5 720v4M132.5 720v3M133.5 721v1M144.5 697v2M144.5 711v2M145.5 696v4M145.5 710v4M146.5 696v4M146.5 710v4M147.5 697v2M147.5 711v2M151.5 652v1M152.5 651v3M153.5 650v4M153.5 678v1M154.5 651v2M154.5 677v3M154.5 730v1M155.5 676v5M155.5 729v2M156.5 677v3M156.5 695v1M156.5 730v1M157.5 678v1M157.5 694v3M158.5 694v3M159.5 695v1M168.5 649v2M168.5 726v2M169.5 648v4M169.5 725v4M170.5 648v4M170.5 725v4M171.5 649v2M171.5 726v2M178.5 673v2M179.5 672v4M180.5 672v3M181.5 673v1M182.5 649v1M183.5 648v3M184.5 648v4M185.5 649v2M185.5 714v2M186.5 713v4M187.5 713v3M188.5 714v1M189.5 700v1M189.5 719v1M190.5 699v3M190.5 704v2M190.5 709v2M190.5 718v3M191.5 698v9M191.5 708v4M191.5 717v5M192.5 673v2M192.5 683v1M192.5 699v3M192.5 704v3M192.5 708v3M192.5 718v3M193.5 672v4M193.5 682v3M193.5 700v1M193.5 705v1M193.5 709v1M193.5 719v1M194.5 671v5M194.5 682v3M194.5 695v1M194.5 700v1M194.5 729v1M195.5 670v5M195.5 683v1M195.5 694v3M195.5 699v3M195.5 728v3M196.5 669v5M196.5 693v10M196.5 727v4M197.5 668v5M197.5 694v3M197.5 699v3M197.5 716v2M197.5 726v4M198.5 667v5M198.5 695v1M198.5 700v1M198.5 715v4M198.5 725v4M199.5 667v5M199.5 715v4M199.5 725v3M200.5 668v5M200.5 716v2M200.5 726v1M201.5 669v5M202.5 670v3M202.5 697v2M203.5 671v1M203.5 696v4M204.5 696v3M204.5 704v2M204.5 709v2M204.5 719v1M205.5 697v1M205.5 703v4M205.5 708v4M205.5 718v3M206.5 697v1M206.5 702v11M206.5 717v5M206.5 726v1M207.5 696v3M207.5 701v13M207.5 716v7M207.5 725v3M208.5 696v23M208.5 720v9M209.5 697v17M209.5 716v2M209.5 721v2M209.5 725v3M210.5 698v15M210.5 726v1M211.5 699v3M211.5 703v4M211.5 708v4M212.5 700v1M212.5 704v2M212.5 709v2"/><path stroke="#0012ff" d="M91.5 659v1M91.5 726v1M92.5 658v3M92.5 725v3M93.5 657v5M93.5 725v4M94.5 658v3M94.5 726v2M95.5 659v1M108.5 647v1M109.5 646v3M110.5 646v3M111.5 647v1M120.5 692v2M121.5 691v4M122.5 691v4M123.5 692v2"/><path stroke="#12ffed" d="M93.5 652v1M94.5 651v3M95.5 650v5M96.5 651v3M96.5 711v2M97.5 652v1M97.5 710v4M98.5 710v4M99.5 711v2M108.5 719v1M109.5 718v3M110.5 718v3M111.5 719v1M117.5 676v1M118.5 675v3M119.5 674v5M120.5 675v3M121.5 676v1M156.5 647v1M157.5 646v3M158.5 646v3M159.5 647v1M163.5 659v1M164.5 658v3M165.5 657v5M166.5 658v3M167.5 659v1M188.5 730v1M189.5 690v1M189.5 695v1M189.5 714v1M189.5 724v1M189.5 729v2M190.5 689v3M190.5 694v3M190.5 713v3M190.5 723v3M190.5 728v3M191.5 688v10M191.5 712v5M191.5 722v9M192.5 678v2M192.5 689v3M192.5 694v3M192.5 713v3M192.5 723v3M192.5 728v3M193.5 677v4M193.5 690v1M193.5 695v1M193.5 714v1M193.5 724v1M193.5 729v1M194.5 657v1M194.5 661v1M194.5 666v1M194.5 676v6M194.5 685v1M194.5 690v1M195.5 656v3M195.5 660v3M195.5 665v3M195.5 675v8M195.5 684v3M195.5 689v3M196.5 655v4M196.5 660v9M196.5 674v9M196.5 684v9M197.5 656v2M197.5 661v7M197.5 675v3M197.5 680v2M197.5 685v2M197.5 689v3M198.5 662v5M198.5 676v1M198.5 690v1M199.5 661v6M200.5 660v8M201.5 660v4M201.5 665v4M201.5 688v1M202.5 661v2M202.5 666v2M202.5 687v3M202.5 692v2M203.5 686v9M204.5 687v9M204.5 699v2M204.5 714v2M204.5 723v2M205.5 688v9M205.5 698v4M205.5 713v4M205.5 722v4M206.5 683v1M206.5 688v9M206.5 698v4M206.5 713v4M206.5 722v4M207.5 682v3M207.5 687v9M207.5 699v2M207.5 714v2M207.5 723v2M207.5 730v1M208.5 681v15M208.5 729v2M209.5 682v15M209.5 714v2M209.5 730v1M210.5 683v15M210.5 713v4M211.5 684v4M211.5 689v3M211.5 694v3M211.5 713v3M212.5 685v2M212.5 690v1M212.5 695v1M212.5 714v1M213.5 690v1M214.5 680v2M214.5 689v3M214.5 704v2M214.5 709v2M215.5 679v4M215.5 688v5M215.5 703v4M215.5 708v4M216.5 680v3M216.5 689v3M216.5 704v3M216.5 708v3M217.5 681v1M217.5 690v1M217.5 705v1M217.5 709v1M230.5 693v1M230.5 697v1M230.5 702v1M230.5 707v1M231.5 692v3M231.5 696v3M231.5 701v3M231.5 706v3M232.5 691v4M232.5 696v14M233.5 692v2M233.5 697v2M233.5 701v3M233.5 706v3M234.5 702v1M234.5 707v1"/><path stroke="#37ffc8" d="M134.5 702v1M135.5 701v3M136.5 700v5M137.5 701v3M138.5 702v1M187.5 664v1M187.5 678v1M187.5 688v1M187.5 707v1M188.5 663v3M188.5 677v3M188.5 687v3M188.5 706v3M189.5 662v4M189.5 677v4M189.5 686v4M189.5 705v5M190.5 663v2M190.5 678v2M190.5 685v4M190.5 706v3M191.5 684v4M191.5 707v1M192.5 668v2M192.5 684v3M193.5 667v4M193.5 685v1M194.5 647v1M194.5 652v1M194.5 667v4M195.5 646v3M195.5 651v3M195.5 668v2M196.5 645v10M196.5 659v1M197.5 646v3M197.5 651v5M197.5 658v3M197.5 730v1M198.5 647v1M198.5 652v10M198.5 729v2M199.5 653v8M199.5 730v1M200.5 654v6M201.5 655v4M201.5 683v1M202.5 656v2M202.5 682v3M203.5 681v5M204.5 680v7M205.5 679v9M206.5 678v5M206.5 684v4M207.5 677v5M207.5 685v2M208.5 676v5M208.5 719v1M209.5 675v7M209.5 718v3M210.5 674v9M210.5 717v5M211.5 675v3M211.5 679v4M211.5 692v2M211.5 697v2M211.5 712v1M211.5 716v5M212.5 676v1M212.5 680v2M212.5 691v4M212.5 696v4M212.5 711v3M212.5 715v5M213.5 691v10M213.5 710v10M214.5 685v2M214.5 692v10M214.5 711v10M215.5 684v4M215.5 693v10M215.5 712v10M216.5 684v3M216.5 694v3M216.5 699v3M216.5 713v3M216.5 718v3M217.5 685v1M217.5 695v1M217.5 700v1M217.5 714v1M217.5 719v1M220.5 707v1M221.5 692v2M221.5 697v2M221.5 706v3M222.5 691v4M222.5 696v4M222.5 705v5M223.5 691v4M223.5 696v4M223.5 706v3M224.5 692v2M224.5 697v2M224.5 707v1M230.5 688v1M231.5 687v3M232.5 686v5M233.5 687v3M234.5 688v1M235.5 697v2M235.5 707v1M236.5 696v4M236.5 706v3M237.5 696v4M237.5 705v5M238.5 697v2M238.5 706v3M239.5 707v1M242.5 690v1M242.5 695v1M242.5 700v1M242.5 705v1M243.5 689v3M243.5 694v3M243.5 699v3M243.5 704v3M244.5 688v19M245.5 689v3M245.5 694v3M245.5 699v3M245.5 704v2M246.5 690v1M246.5 695v1M246.5 700v1M247.5 690v1M247.5 695v1M247.5 700v1M247.5 704v2M248.5 689v3M248.5 694v3M248.5 699v3M248.5 703v4M249.5 688v20M250.5 687v22M251.5 686v24M252.5 687v3M252.5 692v3M252.5 696v3M252.5 701v3M252.5 706v3M253.5 688v1M253.5 693v1M253.5 697v1M253.5 702v1M253.5 707v1M254.5 702v1M254.5 707v1M255.5 701v3M255.5 706v3M256.5 700v10M257.5 701v3M257.5 706v3M258.5 702v1M258.5 707v1M259.5 688v1M259.5 692v2M259.5 697v2M259.5 707v1M260.5 687v3M260.5 691v4M260.5 696v4M260.5 706v3M261.5 686v4M261.5 691v4M261.5 696v4M261.5 705v5M262.5 687v2M262.5 692v2M262.5 697v2M262.5 706v3M263.5 707v1"/><path stroke="#a4ff5b" d="M187.5 645v1M188.5 645v2M189.5 645v2M189.5 676v1M190.5 645v1M190.5 675v3M191.5 674v5M192.5 675v3M193.5 676v1M201.5 654v1M202.5 649v2M202.5 653v3M203.5 648v9M204.5 647v4M204.5 653v3M205.5 646v4M205.5 654v1M206.5 646v3M207.5 647v1M208.5 647v1M209.5 646v3M209.5 651v2M209.5 656v2M210.5 645v9M210.5 655v4M211.5 646v3M211.5 651v3M211.5 655v4M211.5 664v1M211.5 673v2M212.5 647v1M212.5 652v1M212.5 656v2M212.5 663v3M212.5 672v4M213.5 647v1M213.5 662v4M213.5 672v4M214.5 646v3M214.5 656v2M214.5 663v2M214.5 673v2M215.5 645v5M215.5 655v4M216.5 646v3M216.5 656v3M216.5 687v2M216.5 692v2M216.5 697v2M216.5 707v1M216.5 711v2M216.5 716v2M216.5 721v2M216.5 726v2M217.5 647v1M217.5 657v1M217.5 686v4M217.5 691v4M217.5 696v4M217.5 706v3M217.5 710v4M217.5 715v4M217.5 720v4M217.5 725v4M218.5 676v1M218.5 686v4M218.5 691v4M218.5 696v4M218.5 706v3M218.5 710v4M218.5 715v4M218.5 720v10M219.5 675v3M219.5 687v2M219.5 692v2M219.5 697v2M219.5 707v1M219.5 711v2M219.5 716v2M219.5 721v10M220.5 674v5M220.5 722v9M221.5 675v3M221.5 721v9M222.5 676v1M222.5 720v9M223.5 685v2M223.5 719v11M224.5 684v4M224.5 718v13M225.5 683v6M225.5 707v1M225.5 712v1M225.5 717v14M226.5 682v8M226.5 706v3M226.5 711v3M226.5 716v15M227.5 681v10M227.5 705v26M228.5 682v3M228.5 687v5M228.5 699v2M228.5 706v3M228.5 711v3M228.5 716v3M228.5 720v8M228.5 730v1M229.5 683v1M229.5 688v5M229.5 698v4M229.5 707v1M229.5 712v1M229.5 717v1M229.5 721v6M230.5 673v1M230.5 689v4M230.5 698v4M230.5 722v4M231.5 672v3M231.5 690v2M231.5 699v2M231.5 723v2M232.5 672v4M232.5 719v1M233.5 673v2M233.5 709v2M233.5 714v2M233.5 718v3M233.5 723v2M233.5 728v2M234.5 708v4M234.5 713v13M234.5 727v4M235.5 708v4M235.5 713v3M235.5 718v13M236.5 709v2M236.5 714v1M236.5 719v11M237.5 714v1M237.5 719v5M237.5 725v4M238.5 685v2M238.5 713v3M238.5 718v5M238.5 726v2M239.5 684v4M239.5 712v10M240.5 684v5M240.5 692v2M240.5 697v2M240.5 713v3M240.5 718v5M240.5 726v2M241.5 685v5M241.5 691v4M241.5 696v4M241.5 714v1M241.5 719v5M241.5 725v4M241.5 730v1M242.5 681v1M242.5 686v4M242.5 691v4M242.5 696v4M242.5 714v1M242.5 720v4M242.5 725v4M242.5 730v1M243.5 680v3M243.5 687v2M243.5 692v2M243.5 697v2M243.5 713v3M243.5 721v2M243.5 726v2M244.5 679v5M244.5 712v5M245.5 678v7M245.5 702v2M245.5 713v3M245.5 730v1M246.5 677v9M246.5 701v4M246.5 714v1M246.5 729v2M247.5 676v4M247.5 682v3M247.5 701v3M247.5 719v1M247.5 724v1M247.5 728v3M248.5 675v4M248.5 683v1M248.5 702v1M248.5 718v3M248.5 723v3M248.5 727v4M249.5 674v4M249.5 717v9M249.5 727v4M250.5 675v2M250.5 718v3M250.5 723v2M250.5 728v3M251.5 719v1M251.5 729v2M252.5 680v2M252.5 714v2M252.5 719v1M252.5 723v2M252.5 730v1M253.5 679v4M253.5 713v4M253.5 718v3M253.5 722v4M254.5 679v5M254.5 713v4M254.5 718v3M254.5 722v5M255.5 680v5M255.5 714v2M255.5 719v1M255.5 723v5M255.5 730v1M256.5 681v5M256.5 695v1M256.5 724v7M257.5 682v3M257.5 690v2M257.5 694v3M257.5 704v2M257.5 725v3M257.5 730v1M258.5 683v1M258.5 689v9M258.5 703v4M258.5 726v1M259.5 678v1M259.5 689v3M259.5 694v3M259.5 703v4M259.5 716v2M259.5 721v2M260.5 677v3M260.5 690v1M260.5 695v1M260.5 704v2M260.5 715v4M260.5 720v4M261.5 677v4M261.5 715v4M261.5 720v5M262.5 678v2M262.5 685v2M262.5 716v2M262.5 721v5M262.5 728v2M263.5 684v4M263.5 722v9M264.5 678v2M264.5 683v6M264.5 702v2M264.5 723v3M264.5 728v3M265.5 677v4M265.5 682v8M265.5 701v4M265.5 724v1M265.5 729v2M266.5 677v4M266.5 682v3M266.5 686v4M266.5 701v4M266.5 730v1M267.5 678v2M267.5 683v1M267.5 687v2M267.5 702v2M269.5 654v2M270.5 653v4M271.5 653v3M271.5 680v2M271.5 685v2M271.5 690v1M271.5 695v1M271.5 700v1M271.5 704v2M272.5 654v1M272.5 679v4M272.5 684v4M272.5 689v3M272.5 694v3M272.5 699v3M272.5 703v4M273.5 679v4M273.5 684v4M273.5 689v13M273.5 703v4M273.5 712v1M274.5 680v2M274.5 685v2M274.5 690v7M274.5 699v2M274.5 704v2M274.5 711v3M275.5 691v5M275.5 710v5M276.5 692v3M276.5 711v3M277.5 693v1M277.5 712v1M278.5 688v1M278.5 693v1M278.5 697v1M279.5 687v3M279.5 692v3M279.5 696v3M279.5 730v1M280.5 686v14M280.5 729v2M281.5 685v5M281.5 692v7M281.5 730v1M282.5 684v5M282.5 693v5M283.5 684v4M283.5 692v7M283.5 712v1M284.5 685v2M284.5 691v9M284.5 711v3M285.5 691v4M285.5 696v4M285.5 710v4M286.5 661v2M286.5 692v2M286.5 697v2M286.5 711v2M287.5 660v4M288.5 660v3M288.5 692v2M288.5 702v2M289.5 661v1M289.5 691v4M289.5 701v4M290.5 676v1M290.5 681v1M290.5 691v4M290.5 701v4M291.5 675v3M291.5 680v3M291.5 692v2M291.5 702v2M292.5 674v10M292.5 707v1M293.5 675v3M293.5 680v5M293.5 687v2M293.5 697v2M293.5 702v2M293.5 706v3M294.5 676v1M294.5 681v9M294.5 696v4M294.5 701v9M295.5 682v3M295.5 687v3M295.5 696v4M295.5 701v3M295.5 706v3M296.5 683v1M296.5 688v1M296.5 697v2M296.5 702v1M296.5 707v1M300.5 685v2M301.5 684v4M302.5 659v1M302.5 664v1M302.5 669v1M302.5 684v4M303.5 658v3M303.5 663v3M303.5 668v3M303.5 685v2M304.5 657v14M305.5 658v3M305.5 663v3M305.5 668v2M306.5 659v1M306.5 664v1M307.5 668v2M308.5 667v4M309.5 652v1M309.5 666v6M310.5 651v3M310.5 656v2M310.5 661v2M310.5 665v8M310.5 709v2M311.5 650v9M311.5 660v14M311.5 708v4M312.5 651v3M312.5 656v12M312.5 670v3M312.5 697v2M312.5 702v2M312.5 707v4M313.5 652v1M313.5 657v10M313.5 671v1M313.5 696v4M313.5 701v4M313.5 706v4M314.5 658v3M314.5 662v4M314.5 696v4M314.5 701v4M314.5 706v3M315.5 659v1M315.5 663v2M315.5 697v2M315.5 702v2M315.5 707v1M324.5 699v2M324.5 704v2M325.5 698v4M325.5 703v4M326.5 698v4M326.5 703v4M327.5 699v2M327.5 704v2M364.5 707v1M365.5 702v2M365.5 706v3M366.5 701v9M367.5 701v3M367.5 706v3M368.5 702v1M368.5 707v1M372.5 704v2M373.5 703v4M374.5 703v4M375.5 704v2"/><path stroke="#5bffa4" d="M187.5 649v2M187.5 668v2M187.5 683v1M188.5 648v4M188.5 667v4M188.5 682v3M189.5 648v4M189.5 667v4M189.5 681v5M190.5 649v2M190.5 668v2M190.5 682v3M191.5 683v1M192.5 645v1M192.5 659v1M192.5 663v2M193.5 645v2M193.5 658v3M193.5 662v4M194.5 645v2M194.5 658v3M194.5 662v4M195.5 645v1M195.5 659v1M195.5 663v2M197.5 645v1M197.5 649v2M198.5 645v2M198.5 648v4M199.5 645v8M200.5 645v9M201.5 645v9M201.5 678v1M202.5 646v3M202.5 651v2M202.5 673v2M202.5 677v3M203.5 647v1M203.5 672v9M204.5 672v8M204.5 728v2M205.5 673v6M205.5 727v4M206.5 645v1M206.5 649v1M206.5 654v1M206.5 664v1M206.5 669v1M206.5 673v5M206.5 727v4M207.5 645v2M207.5 648v3M207.5 653v3M207.5 663v3M207.5 668v3M207.5 672v5M207.5 728v2M208.5 645v2M208.5 648v9M208.5 662v14M209.5 645v1M209.5 649v2M209.5 653v3M209.5 663v12M209.5 723v2M210.5 654v1M210.5 664v10M210.5 722v4M211.5 665v3M211.5 670v3M211.5 688v1M211.5 702v1M211.5 707v1M211.5 721v5M212.5 666v1M212.5 671v1M212.5 687v3M212.5 701v3M212.5 706v3M212.5 720v5M213.5 671v1M213.5 676v1M213.5 686v4M213.5 701v9M213.5 720v5M214.5 670v3M214.5 675v3M214.5 687v2M214.5 702v2M214.5 706v3M214.5 721v5M214.5 728v2M215.5 669v10M215.5 707v1M215.5 722v9M216.5 670v3M216.5 675v3M216.5 723v3M216.5 728v3M217.5 671v1M217.5 676v1M217.5 724v1M217.5 729v1M218.5 690v1M218.5 695v1M218.5 700v1M218.5 705v1M218.5 709v1M219.5 689v3M219.5 694v3M219.5 699v3M219.5 704v3M219.5 708v3M220.5 688v19M220.5 708v4M221.5 687v5M221.5 694v3M221.5 699v7M221.5 709v4M222.5 686v5M222.5 695v1M222.5 700v5M222.5 710v4M223.5 687v3M223.5 695v1M223.5 700v6M223.5 711v3M224.5 688v1M224.5 694v3M224.5 699v8M224.5 712v1M225.5 693v9M225.5 703v4M226.5 694v3M226.5 699v2M226.5 704v2M227.5 695v1M228.5 704v2M228.5 709v2M229.5 703v4M229.5 708v4M230.5 683v1M230.5 703v4M230.5 708v5M230.5 717v1M231.5 682v3M231.5 704v2M231.5 709v5M231.5 716v3M232.5 681v5M232.5 695v1M232.5 710v9M233.5 682v5M233.5 690v2M233.5 694v3M233.5 711v3M233.5 716v2M234.5 683v5M234.5 689v9M234.5 712v1M235.5 684v13M235.5 702v1M235.5 712v1M236.5 685v11M236.5 701v3M236.5 711v3M237.5 686v4M237.5 691v4M237.5 701v4M237.5 710v4M238.5 687v2M238.5 692v2M238.5 702v2M238.5 711v2M240.5 702v2M241.5 701v4M242.5 685v1M242.5 701v4M243.5 684v3M243.5 702v2M244.5 684v4M245.5 685v4M245.5 692v2M246.5 686v4M246.5 691v4M247.5 685v5M247.5 691v4M247.5 709v2M248.5 684v5M248.5 692v2M248.5 708v4M249.5 684v4M249.5 708v5M250.5 685v2M250.5 709v5M251.5 710v5M252.5 690v2M252.5 695v1M252.5 704v2M252.5 711v3M253.5 689v4M253.5 694v3M253.5 703v4M253.5 712v1M254.5 689v9M254.5 703v4M254.5 712v1M254.5 717v1M255.5 690v9M255.5 704v2M255.5 711v3M255.5 716v3M256.5 691v4M256.5 696v4M256.5 710v9M257.5 692v2M257.5 697v2M257.5 711v3M257.5 716v2M258.5 712v1M259.5 683v1M259.5 702v1M259.5 712v1M260.5 682v3M260.5 701v3M260.5 711v3M261.5 681v5M261.5 695v1M261.5 700v5M261.5 710v4M262.5 682v3M262.5 694v3M262.5 699v7M262.5 711v2M263.5 683v1M263.5 693v14M264.5 694v3M264.5 699v3M264.5 704v3M265.5 695v1M265.5 700v1M265.5 705v1M312.5 683v1M312.5 687v2M312.5 692v2M313.5 682v3M313.5 686v4M313.5 691v4M314.5 682v3M314.5 686v4M314.5 691v4M315.5 683v1M315.5 687v2M315.5 692v2"/><path stroke="#edff12" d="M187.5 659v1M188.5 658v3M189.5 657v5M190.5 658v3M191.5 659v1M216.5 673v2M216.5 678v2M217.5 672v4M217.5 677v4M218.5 666v1M218.5 671v5M218.5 677v4M219.5 665v3M219.5 670v5M219.5 678v2M220.5 664v10M221.5 665v3M221.5 670v3M222.5 666v1M222.5 671v1M223.5 676v1M224.5 675v3M225.5 674v5M226.5 675v5M227.5 676v5M228.5 677v3M228.5 685v2M229.5 678v1M229.5 684v4M230.5 664v1M230.5 669v1M230.5 684v4M231.5 663v3M231.5 668v3M231.5 685v2M232.5 662v9M233.5 651v2M233.5 661v5M233.5 668v2M234.5 650v4M234.5 660v5M235.5 651v3M235.5 660v4M235.5 673v2M236.5 652v1M236.5 661v2M236.5 672v4M237.5 672v5M238.5 656v2M238.5 661v2M238.5 673v5M239.5 655v4M239.5 660v4M239.5 674v5M240.5 649v2M240.5 654v11M240.5 675v5M240.5 683v1M241.5 648v4M241.5 653v13M241.5 676v5M241.5 682v3M242.5 648v4M242.5 653v4M242.5 658v3M242.5 662v5M242.5 677v4M242.5 682v3M243.5 649v2M243.5 654v2M243.5 659v1M243.5 663v5M243.5 678v2M243.5 683v1M244.5 664v5M245.5 665v3M245.5 673v2M246.5 666v1M246.5 672v4M247.5 666v1M247.5 672v4M248.5 665v3M248.5 673v2M249.5 665v4M250.5 666v2M252.5 675v2M253.5 674v4M254.5 673v6M255.5 672v8M256.5 672v9M257.5 673v7M257.5 714v2M258.5 674v5M258.5 713v4M259.5 675v3M259.5 713v3M260.5 676v1M260.5 714v1M262.5 680v2M263.5 679v4M264.5 663v2M264.5 668v2M264.5 680v3M265.5 662v4M265.5 667v4M265.5 681v1M266.5 647v1M266.5 652v1M266.5 657v1M266.5 661v5M266.5 667v5M266.5 695v1M266.5 709v1M266.5 714v1M266.5 719v1M266.5 724v1M267.5 646v3M267.5 651v3M267.5 656v3M267.5 660v5M267.5 668v5M267.5 694v3M267.5 708v3M267.5 713v3M267.5 718v3M267.5 723v3M268.5 645v14M268.5 660v4M268.5 669v5M268.5 693v5M268.5 708v19M269.5 646v3M269.5 651v3M269.5 656v2M269.5 661v2M269.5 668v7M269.5 692v5M269.5 709v2M269.5 713v3M269.5 718v3M269.5 723v3M270.5 647v1M270.5 652v1M270.5 667v9M270.5 691v5M270.5 714v1M270.5 719v1M270.5 724v1M271.5 667v4M271.5 672v4M271.5 691v4M271.5 714v1M271.5 719v1M271.5 724v1M272.5 668v2M272.5 673v2M272.5 692v2M272.5 713v3M272.5 718v3M272.5 723v3M273.5 683v1M273.5 713v14M274.5 668v2M274.5 673v2M274.5 682v3M274.5 714v2M274.5 718v3M274.5 723v5M274.5 730v1M275.5 667v4M275.5 672v4M275.5 681v5M275.5 719v1M275.5 724v7M276.5 668v3M276.5 672v3M276.5 682v5M276.5 709v2M276.5 714v2M276.5 725v3M276.5 730v1M277.5 669v1M277.5 673v1M277.5 683v5M277.5 708v4M277.5 713v4M277.5 726v1M278.5 669v1M278.5 684v4M278.5 708v10M278.5 726v1M279.5 668v3M279.5 685v2M279.5 709v10M279.5 725v3M280.5 667v4M280.5 710v10M280.5 724v5M281.5 661v2M281.5 668v2M281.5 699v2M281.5 709v5M281.5 716v5M281.5 725v5M282.5 660v4M282.5 698v4M282.5 708v5M282.5 717v5M282.5 726v5M283.5 660v5M283.5 668v2M283.5 673v2M283.5 699v3M283.5 708v4M283.5 718v3M283.5 726v5M284.5 661v5M284.5 667v4M284.5 672v4M284.5 700v1M284.5 709v2M284.5 719v1M284.5 725v5M285.5 662v4M285.5 667v10M285.5 690v1M285.5 700v1M285.5 724v5M286.5 663v2M286.5 668v10M286.5 685v2M286.5 689v3M286.5 699v3M286.5 704v2M286.5 723v5M287.5 669v10M287.5 684v9M287.5 698v9M287.5 722v5M288.5 668v5M288.5 675v5M288.5 684v3M288.5 689v3M288.5 699v3M288.5 704v3M288.5 721v7M289.5 667v5M289.5 676v5M289.5 685v1M289.5 690v1M289.5 700v1M289.5 705v1M289.5 720v9M290.5 657v1M290.5 661v1M290.5 667v4M290.5 677v4M290.5 695v1M290.5 700v1M290.5 705v1M290.5 720v4M290.5 725v4M291.5 656v3M291.5 660v3M291.5 668v2M291.5 678v2M291.5 694v3M291.5 699v3M291.5 704v3M291.5 721v2M291.5 726v2M292.5 655v4M292.5 660v4M292.5 693v14M293.5 656v2M293.5 661v2M293.5 673v2M293.5 694v3M293.5 699v3M293.5 704v2M294.5 672v4M294.5 695v1M294.5 700v1M295.5 672v5M295.5 680v2M295.5 685v2M295.5 695v1M295.5 700v1M295.5 704v2M295.5 709v2M296.5 673v5M296.5 679v4M296.5 684v4M296.5 694v3M296.5 699v3M296.5 703v4M296.5 708v4M297.5 654v1M297.5 674v14M297.5 693v9M297.5 703v4M297.5 708v5M298.5 649v2M298.5 653v3M298.5 673v14M298.5 694v3M298.5 699v2M298.5 704v2M298.5 709v5M298.5 716v2M299.5 648v9M299.5 672v14M299.5 695v1M299.5 710v9M300.5 648v3M300.5 653v3M300.5 672v3M300.5 677v3M300.5 682v3M300.5 711v8M301.5 649v1M301.5 654v1M301.5 673v1M301.5 678v1M301.5 683v1M301.5 712v6M302.5 645v1M302.5 678v1M302.5 683v1M302.5 688v1M302.5 697v1M302.5 702v1M302.5 707v1M302.5 713v4M303.5 645v2M303.5 677v3M303.5 682v3M303.5 687v3M303.5 696v3M303.5 701v3M303.5 706v3M303.5 714v2M304.5 645v2M304.5 676v15M304.5 695v15M305.5 645v1M305.5 651v2M305.5 656v2M305.5 666v2M305.5 677v3M305.5 682v10M305.5 694v10M305.5 706v5M306.5 650v4M306.5 655v4M306.5 665v4M306.5 678v1M306.5 683v20M306.5 707v5M307.5 649v10M307.5 665v3M307.5 684v4M307.5 689v8M307.5 699v3M307.5 708v4M308.5 648v10M308.5 666v1M308.5 685v2M308.5 690v6M308.5 700v1M308.5 709v2M309.5 648v4M309.5 653v4M309.5 691v4M310.5 649v2M310.5 654v2M310.5 692v2M313.5 730v1M314.5 685v1M314.5 690v1M314.5 695v1M314.5 730v1M315.5 684v3M315.5 689v3M315.5 694v3M316.5 684v14M317.5 685v2M317.5 689v8M317.5 711v2M317.5 716v2M318.5 690v6M318.5 710v4M318.5 715v4M319.5 691v5M319.5 700v1M319.5 704v2M319.5 711v3M319.5 715v4M320.5 692v5M320.5 699v3M320.5 703v4M320.5 712v1M320.5 716v2M321.5 693v9M321.5 703v4M321.5 712v1M322.5 694v3M322.5 699v2M322.5 704v2M322.5 711v3M322.5 721v2M323.5 695v1M323.5 710v5M323.5 720v4M324.5 690v2M324.5 711v3M324.5 719v4M325.5 689v4M325.5 712v1M325.5 718v4M326.5 689v4M326.5 702v1M326.5 707v1M326.5 718v3M327.5 690v2M327.5 701v3M327.5 706v3M327.5 719v1M328.5 700v10M329.5 701v3M329.5 706v3M330.5 702v1M330.5 707v1M331.5 683v1M331.5 712v1M331.5 716v2M332.5 682v3M332.5 711v3M332.5 715v4M333.5 681v5M333.5 710v4M333.5 715v4M334.5 682v3M334.5 711v2M334.5 716v2M335.5 683v1M338.5 714v1M339.5 713v3M340.5 712v5M341.5 713v3M342.5 714v1M343.5 647v1M343.5 652v1M344.5 646v3M344.5 651v3M345.5 645v9M345.5 707v1M346.5 645v8M346.5 706v3M347.5 645v7M347.5 705v5M348.5 645v6M348.5 656v2M348.5 661v2M348.5 666v2M348.5 671v1M348.5 675v2M348.5 685v2M348.5 695v1M348.5 699v2M348.5 704v7M348.5 714v2M349.5 645v5M349.5 655v4M349.5 660v4M349.5 665v4M349.5 670v3M349.5 674v4M349.5 684v4M349.5 694v3M349.5 698v4M349.5 703v9M349.5 713v4M350.5 646v3M350.5 655v4M350.5 660v4M350.5 665v4M350.5 670v3M350.5 674v4M350.5 684v4M350.5 694v3M350.5 698v4M350.5 703v4M350.5 708v4M350.5 713v4M351.5 647v1M351.5 656v2M351.5 661v2M351.5 666v2M351.5 671v1M351.5 675v2M351.5 685v2M351.5 695v1M351.5 699v2M351.5 704v2M351.5 709v2M351.5 714v2M358.5 680v2M358.5 685v2M358.5 704v2M359.5 679v4M359.5 684v4M359.5 703v4M360.5 680v3M360.5 684v3M360.5 702v6M361.5 681v1M361.5 685v1M361.5 701v8M362.5 647v1M362.5 681v1M362.5 685v1M362.5 700v9M363.5 646v3M363.5 680v3M363.5 684v3M363.5 699v9M364.5 645v5M364.5 679v4M364.5 684v4M364.5 698v9M365.5 645v6M365.5 680v2M365.5 685v4M365.5 692v2M365.5 699v3M365.5 704v2M365.5 721v2M365.5 726v2M366.5 645v7M366.5 686v4M366.5 691v4M366.5 700v1M366.5 720v4M366.5 725v4M367.5 645v2M367.5 648v4M367.5 687v3M367.5 691v4M367.5 709v2M367.5 720v4M367.5 725v3M368.5 645v1M368.5 649v2M368.5 688v1M368.5 692v2M368.5 708v4M368.5 721v2M368.5 726v1M369.5 702v1M369.5 708v5M370.5 701v3M370.5 709v5M370.5 716v2M371.5 700v5M371.5 710v9M372.5 695v1M372.5 701v3M372.5 711v3M372.5 716v4M373.5 694v3M373.5 702v1M373.5 712v1M373.5 717v4M374.5 694v3M374.5 712v1M374.5 718v3M375.5 695v1M375.5 711v3M375.5 719v1M376.5 710v5M377.5 699v2M377.5 709v7M378.5 698v4M378.5 708v9M379.5 699v4M379.5 708v4M379.5 713v3M380.5 700v4M380.5 709v2M380.5 714v1M381.5 701v4M382.5 702v2M386.5 666v1M386.5 690v1M386.5 705v1M387.5 665v3M387.5 689v3M387.5 704v3M388.5 664v5M388.5 688v5M388.5 703v4M389.5 665v3M389.5 689v3M389.5 704v2M389.5 711v2M390.5 666v1M390.5 690v1M390.5 710v4M391.5 711v3M392.5 712v1M405.5 647v1M406.5 646v3M406.5 656v2M407.5 645v5M407.5 655v4M408.5 646v3M408.5 656v3M409.5 647v1M409.5 657v1M434.5 647v1M434.5 657v1M435.5 646v3M435.5 656v3M436.5 645v5M436.5 655v4M437.5 645v4M437.5 656v2M438.5 645v3M439.5 645v2M440.5 645v1"/><path stroke="#c8ff37" d="M189.5 647v1M189.5 652v1M189.5 666v1M189.5 671v1M190.5 646v3M190.5 651v3M190.5 656v2M190.5 661v2M190.5 665v3M190.5 670v3M191.5 645v14M191.5 660v14M192.5 646v3M192.5 651v3M192.5 656v3M192.5 660v3M192.5 665v3M192.5 670v3M193.5 647v1M193.5 652v1M193.5 657v1M193.5 661v1M193.5 666v1M193.5 671v1M204.5 661v2M205.5 660v4M206.5 660v4M207.5 661v2M211.5 645v1M211.5 649v2M211.5 654v1M211.5 659v1M211.5 668v2M212.5 645v2M212.5 648v4M212.5 653v3M212.5 658v3M212.5 667v4M213.5 645v2M213.5 648v14M213.5 667v4M214.5 645v1M214.5 649v7M214.5 658v3M214.5 668v2M215.5 650v5M215.5 659v1M216.5 651v3M216.5 683v1M217.5 652v1M217.5 682v3M217.5 730v1M218.5 682v3M218.5 730v1M219.5 683v1M221.5 678v2M221.5 730v1M222.5 677v4M222.5 729v2M223.5 677v5M223.5 730v1M224.5 678v5M225.5 679v4M226.5 680v2M228.5 695v1M229.5 694v3M230.5 694v3M231.5 695v1M232.5 647v1M232.5 671v1M233.5 646v3M233.5 656v2M233.5 666v2M233.5 670v3M233.5 675v2M234.5 645v5M234.5 655v4M234.5 665v13M235.5 646v3M235.5 655v4M235.5 665v3M235.5 670v3M235.5 675v4M236.5 647v1M236.5 656v2M236.5 666v1M236.5 671v1M236.5 676v4M236.5 730v1M237.5 647v1M237.5 652v1M237.5 677v4M237.5 724v1M237.5 729v2M238.5 646v3M238.5 651v3M238.5 678v4M238.5 723v3M238.5 728v3M239.5 645v10M239.5 679v4M239.5 722v9M240.5 645v4M240.5 651v3M240.5 680v3M240.5 723v3M240.5 728v3M241.5 645v3M241.5 652v1M241.5 681v1M241.5 724v1M241.5 729v1M242.5 645v2M242.5 671v1M242.5 676v1M242.5 719v1M242.5 724v1M242.5 729v1M243.5 645v1M243.5 670v3M243.5 675v3M243.5 718v3M243.5 723v3M243.5 728v3M244.5 669v10M244.5 707v1M244.5 717v14M245.5 670v3M245.5 675v3M245.5 706v3M245.5 711v2M245.5 716v14M246.5 671v1M246.5 676v1M246.5 705v9M246.5 715v14M247.5 671v1M247.5 706v3M247.5 711v3M247.5 715v4M247.5 720v4M247.5 725v3M248.5 670v3M248.5 707v1M248.5 712v1M248.5 716v2M248.5 721v2M248.5 726v1M249.5 669v5M249.5 678v1M250.5 670v5M250.5 677v3M251.5 671v10M252.5 672v3M252.5 677v3M252.5 728v2M253.5 673v1M253.5 678v1M253.5 727v4M254.5 727v4M255.5 728v2M257.5 680v2M257.5 685v2M257.5 699v2M257.5 709v2M258.5 679v4M258.5 684v4M258.5 698v4M258.5 708v4M259.5 673v2M259.5 679v4M259.5 684v4M259.5 699v3M259.5 708v4M259.5 726v1M260.5 672v4M260.5 680v2M260.5 685v2M260.5 700v1M260.5 709v2M260.5 725v3M260.5 730v1M261.5 672v4M261.5 725v6M262.5 673v2M262.5 726v2M262.5 730v1M264.5 673v2M265.5 672v4M266.5 666v1M266.5 672v5M266.5 681v1M266.5 685v1M266.5 690v1M266.5 700v1M267.5 665v3M267.5 673v5M267.5 680v3M267.5 684v3M267.5 689v3M267.5 699v3M268.5 659v1M268.5 664v5M268.5 674v19M268.5 698v5M268.5 707v1M269.5 658v3M269.5 663v5M269.5 675v17M269.5 697v7M269.5 706v3M269.5 711v2M269.5 716v2M269.5 721v2M269.5 726v2M269.5 730v1M270.5 657v10M270.5 676v15M270.5 696v18M270.5 715v4M270.5 720v4M270.5 725v6M271.5 647v1M271.5 652v1M271.5 656v11M271.5 671v1M271.5 676v4M271.5 682v3M271.5 687v3M271.5 696v4M271.5 701v3M271.5 706v8M271.5 715v4M271.5 720v4M271.5 725v3M271.5 730v1M272.5 646v3M272.5 651v3M272.5 655v13M272.5 670v3M272.5 675v4M272.5 683v1M272.5 688v1M272.5 697v2M272.5 702v1M272.5 707v6M272.5 716v2M272.5 721v2M272.5 726v1M273.5 645v9M273.5 655v4M273.5 660v4M273.5 665v14M273.5 688v1M273.5 702v1M273.5 707v5M274.5 646v3M274.5 651v2M274.5 656v2M274.5 661v2M274.5 666v2M274.5 670v3M274.5 675v5M274.5 687v3M274.5 697v2M274.5 701v3M274.5 706v5M274.5 716v2M274.5 721v2M275.5 647v1M275.5 671v1M275.5 676v5M275.5 686v5M275.5 696v14M275.5 715v4M275.5 720v4M276.5 677v3M276.5 687v5M276.5 695v14M276.5 716v9M276.5 728v2M277.5 678v1M277.5 688v5M277.5 694v14M277.5 717v9M277.5 727v4M278.5 673v1M278.5 678v1M278.5 683v1M278.5 689v4M278.5 694v3M278.5 698v10M278.5 718v8M278.5 727v4M279.5 672v3M279.5 677v3M279.5 682v3M279.5 690v2M279.5 695v1M279.5 699v10M279.5 719v6M279.5 728v2M280.5 671v15M280.5 700v10M280.5 720v4M281.5 666v2M281.5 670v15M281.5 690v2M281.5 701v8M281.5 714v2M281.5 721v4M282.5 665v19M282.5 689v4M282.5 702v6M282.5 713v4M282.5 722v4M283.5 665v3M283.5 670v3M283.5 675v9M283.5 689v3M283.5 703v4M283.5 713v5M283.5 721v5M284.5 666v1M284.5 671v1M284.5 676v9M284.5 690v1M284.5 704v2M284.5 714v5M284.5 720v5M285.5 647v1M285.5 652v1M285.5 666v1M285.5 677v9M285.5 715v4M285.5 720v4M286.5 646v3M286.5 651v3M286.5 656v2M286.5 665v3M286.5 678v2M286.5 682v3M286.5 716v2M286.5 721v2M287.5 645v14M287.5 664v5M287.5 683v1M288.5 646v3M288.5 651v3M288.5 656v3M288.5 665v3M288.5 683v1M288.5 687v2M288.5 697v2M288.5 707v1M288.5 711v2M288.5 716v2M289.5 647v1M289.5 652v1M289.5 657v1M289.5 666v1M289.5 682v3M289.5 686v4M289.5 696v4M289.5 706v3M289.5 710v4M289.5 715v4M290.5 666v1M290.5 671v1M290.5 682v9M290.5 696v4M290.5 706v3M290.5 710v4M290.5 715v4M291.5 665v3M291.5 670v3M291.5 683v9M291.5 697v2M291.5 707v1M291.5 711v2M291.5 716v2M292.5 664v10M292.5 684v9M293.5 665v3M293.5 670v3M293.5 678v2M293.5 685v2M293.5 689v3M293.5 711v2M293.5 716v2M294.5 666v1M294.5 671v1M294.5 677v4M294.5 690v1M294.5 710v4M294.5 715v4M295.5 677v3M295.5 690v1M295.5 711v3M295.5 715v4M296.5 678v1M296.5 689v3M296.5 712v1M296.5 716v2M297.5 659v1M297.5 664v1M297.5 688v5M297.5 702v1M297.5 707v1M298.5 658v3M298.5 663v3M298.5 668v2M298.5 687v7M298.5 697v2M298.5 701v3M298.5 706v3M299.5 657v14M299.5 686v9M299.5 696v14M300.5 647v1M300.5 651v2M300.5 656v16M300.5 675v2M300.5 680v2M300.5 687v3M300.5 692v3M300.5 696v3M300.5 701v3M300.5 706v5M301.5 646v3M301.5 650v4M301.5 655v18M301.5 674v4M301.5 679v4M301.5 688v1M301.5 693v1M301.5 697v1M301.5 702v1M301.5 707v5M302.5 646v13M302.5 660v4M302.5 665v4M302.5 670v8M302.5 679v4M302.5 693v1M302.5 708v4M303.5 647v11M303.5 661v2M303.5 666v2M303.5 671v6M303.5 680v2M303.5 692v3M303.5 709v2M304.5 648v9M304.5 672v4M304.5 691v4M305.5 649v2M305.5 653v3M305.5 673v2M305.5 692v2M305.5 704v2M306.5 654v1M306.5 703v4M307.5 659v1M307.5 664v1M307.5 673v2M307.5 678v1M307.5 683v1M307.5 688v1M307.5 703v4M308.5 658v3M308.5 663v3M308.5 672v4M308.5 677v3M308.5 682v3M308.5 687v3M308.5 704v2M309.5 647v1M309.5 657v9M309.5 672v4M309.5 677v13M309.5 714v1M310.5 646v3M310.5 658v3M310.5 663v2M310.5 673v2M310.5 678v2M310.5 682v3M310.5 687v2M310.5 713v3M311.5 645v5M311.5 659v1M311.5 683v1M311.5 712v5M312.5 645v6M312.5 654v2M312.5 711v7M312.5 721v2M312.5 726v2M313.5 645v7M313.5 653v4M313.5 710v9M313.5 720v4M313.5 725v4M314.5 645v2M314.5 648v4M314.5 653v4M314.5 710v4M314.5 715v4M314.5 720v4M314.5 725v4M315.5 645v1M315.5 649v2M315.5 654v2M315.5 711v2M315.5 716v2M315.5 721v2M315.5 726v2M316.5 707v1M317.5 697v2M317.5 702v2M317.5 706v3M318.5 696v4M318.5 701v9M319.5 696v4M319.5 701v3M319.5 706v3M320.5 697v2M320.5 702v1M320.5 707v1M321.5 707v1M322.5 706v3M322.5 716v2M323.5 705v5M323.5 715v4M324.5 695v1M324.5 706v5M324.5 714v5M325.5 694v3M325.5 707v5M325.5 713v5M326.5 694v3M326.5 708v4M326.5 713v4M327.5 695v1M327.5 709v2M327.5 714v2M331.5 688v1M331.5 692v2M331.5 697v2M331.5 702v1M331.5 707v1M332.5 687v3M332.5 691v4M332.5 696v4M332.5 701v3M332.5 706v3M333.5 686v4M333.5 691v4M333.5 696v4M333.5 701v9M334.5 687v2M334.5 692v2M334.5 697v2M334.5 702v2M334.5 706v3M335.5 707v1M348.5 651v2M348.5 680v2M348.5 690v2M349.5 650v4M349.5 679v4M349.5 689v4M350.5 650v4M350.5 679v4M350.5 689v4M351.5 651v2M351.5 680v2M351.5 690v2M357.5 690v1M357.5 695v1M357.5 700v1M358.5 689v3M358.5 694v3M358.5 699v3M359.5 688v15M360.5 689v3M360.5 694v3M360.5 699v3M361.5 690v1M361.5 695v1M361.5 700v1M362.5 690v1M362.5 695v1M363.5 689v3M363.5 694v3M364.5 688v10M365.5 689v3M365.5 694v5M365.5 711v2M365.5 716v2M366.5 690v1M366.5 695v5M366.5 710v4M366.5 715v4M367.5 696v4M367.5 711v3M367.5 715v4M368.5 697v2M368.5 712v1M368.5 716v2M369.5 707v1M370.5 706v3M371.5 705v5M372.5 699v2M372.5 706v5M372.5 714v2M373.5 698v4M373.5 707v5M373.5 713v4M374.5 698v5M374.5 707v5M374.5 713v4M375.5 699v5M375.5 706v5M375.5 714v2M376.5 700v10M377.5 701v8M378.5 702v6M379.5 688v1M379.5 692v2M379.5 697v2M379.5 703v4M380.5 687v3M380.5 691v4M380.5 696v4M380.5 704v2M381.5 686v4M381.5 691v4M381.5 696v4M382.5 687v2M382.5 692v2M382.5 697v2"/><path stroke="#80ff80" d="M190.5 680v2M191.5 679v4M192.5 649v2M192.5 654v2M192.5 680v3M193.5 648v4M193.5 653v4M193.5 681v1M194.5 648v4M194.5 653v4M195.5 649v2M195.5 654v2M201.5 659v1M201.5 664v1M202.5 645v1M202.5 658v3M202.5 663v3M202.5 668v2M203.5 645v2M203.5 657v14M204.5 645v2M204.5 656v5M204.5 663v9M205.5 645v1M205.5 655v5M205.5 664v9M206.5 655v5M206.5 665v4M206.5 670v3M207.5 656v5M207.5 666v2M207.5 671v1M208.5 657v5M209.5 658v5M209.5 728v2M210.5 659v5M210.5 727v4M211.5 660v4M211.5 678v1M211.5 683v1M211.5 726v5M212.5 661v2M212.5 677v3M212.5 682v3M212.5 725v6M213.5 666v1M213.5 677v9M213.5 725v6M214.5 661v2M214.5 665v3M214.5 678v2M214.5 682v3M214.5 726v2M214.5 730v1M215.5 660v9M215.5 683v1M216.5 660v3M216.5 665v3M216.5 702v2M217.5 661v1M217.5 666v1M217.5 701v4M218.5 681v1M218.5 685v1M218.5 701v4M218.5 714v1M218.5 719v1M219.5 680v3M219.5 684v3M219.5 702v2M219.5 713v3M219.5 718v3M220.5 679v9M220.5 712v10M221.5 680v7M221.5 713v8M222.5 681v5M222.5 714v6M223.5 682v3M223.5 690v1M223.5 709v2M223.5 714v5M224.5 683v1M224.5 689v3M224.5 708v4M224.5 713v5M225.5 689v4M225.5 702v1M225.5 708v4M225.5 713v4M226.5 690v4M226.5 697v2M226.5 701v3M226.5 709v2M226.5 714v2M227.5 691v4M227.5 696v9M228.5 692v3M228.5 696v3M228.5 701v3M228.5 714v2M228.5 719v1M228.5 728v2M229.5 693v1M229.5 697v1M229.5 702v1M229.5 713v4M229.5 718v3M229.5 727v4M230.5 678v1M230.5 713v4M230.5 718v4M230.5 726v5M231.5 677v3M231.5 714v2M231.5 719v4M231.5 725v6M232.5 676v5M232.5 720v11M233.5 677v5M233.5 699v2M233.5 704v2M233.5 721v2M233.5 725v3M233.5 730v1M234.5 678v5M234.5 698v4M234.5 703v4M234.5 726v1M235.5 679v5M235.5 699v3M235.5 703v4M235.5 716v2M236.5 680v5M236.5 700v1M236.5 704v2M236.5 715v4M237.5 681v5M237.5 690v1M237.5 695v1M237.5 700v1M237.5 715v4M238.5 682v3M238.5 689v3M238.5 694v3M238.5 699v3M238.5 704v2M238.5 709v2M238.5 716v2M239.5 683v1M239.5 688v19M239.5 708v4M240.5 689v3M240.5 694v3M240.5 699v3M240.5 704v9M240.5 716v2M241.5 690v1M241.5 695v1M241.5 700v1M241.5 705v9M241.5 715v4M242.5 706v8M242.5 715v4M243.5 707v6M243.5 716v2M244.5 708v4M245.5 697v2M245.5 709v2M246.5 696v4M247.5 680v2M247.5 696v4M247.5 714v1M248.5 679v4M248.5 697v2M248.5 713v3M249.5 679v5M249.5 713v4M249.5 726v1M250.5 680v5M250.5 714v4M250.5 721v2M250.5 725v3M251.5 681v5M251.5 715v4M251.5 720v9M252.5 682v5M252.5 699v2M252.5 709v2M252.5 716v3M252.5 720v3M252.5 725v3M253.5 683v5M253.5 698v4M253.5 708v4M253.5 717v1M253.5 721v1M253.5 726v1M254.5 684v5M254.5 698v4M254.5 708v4M254.5 721v1M255.5 685v5M255.5 699v2M255.5 709v2M255.5 720v3M256.5 686v5M256.5 720v4M257.5 687v3M257.5 721v2M258.5 688v1M261.5 690v1M261.5 714v1M261.5 719v1M262.5 689v3M262.5 709v2M262.5 713v3M262.5 718v3M263.5 688v5M263.5 708v14M264.5 689v5M264.5 697v2M264.5 707v16M264.5 726v2M265.5 690v5M265.5 696v4M265.5 706v18M265.5 725v4M266.5 691v4M266.5 696v4M266.5 706v3M266.5 710v4M266.5 715v4M266.5 720v4M266.5 725v4M267.5 692v2M267.5 697v2M267.5 707v1M267.5 711v2M267.5 716v2M267.5 721v2M267.5 726v2M269.5 645v1M269.5 649v2M270.5 645v2M270.5 648v4M271.5 645v2M271.5 648v4M272.5 645v1M272.5 649v2M283.5 688v1M283.5 702v1M283.5 707v1M284.5 687v3M284.5 701v3M284.5 706v3M285.5 686v4M285.5 701v9M286.5 687v2M286.5 702v2M286.5 706v3M287.5 707v1M293.5 692v2M294.5 691v4M295.5 691v4M296.5 692v2M300.5 690v2M300.5 695v1M300.5 699v2M300.5 704v2M301.5 689v4M301.5 694v3M301.5 698v4M301.5 703v4M302.5 689v4M302.5 694v3M302.5 698v4M302.5 703v4M303.5 690v2M303.5 695v1M303.5 699v2M303.5 704v2M309.5 676v1M309.5 690v1M309.5 695v1M309.5 700v1M310.5 675v3M310.5 680v2M310.5 685v2M310.5 689v3M310.5 694v3M310.5 699v3M310.5 704v2M311.5 674v9M311.5 684v23M312.5 668v2M312.5 673v10M312.5 684v3M312.5 689v3M312.5 694v3M312.5 699v3M312.5 704v3M313.5 667v4M313.5 672v10M313.5 685v1M313.5 690v1M313.5 695v1M313.5 700v1M313.5 705v1M314.5 667v4M314.5 672v4M314.5 677v4M315.5 668v2M315.5 673v2M315.5 678v2"/><path stroke="#ffed00" d="M216.5 645v1M216.5 649v2M216.5 654v2M216.5 659v1M216.5 663v2M216.5 668v2M217.5 645v2M217.5 648v4M217.5 653v4M217.5 658v3M217.5 662v4M217.5 667v4M218.5 645v2M218.5 648v4M218.5 653v4M218.5 658v3M218.5 662v4M218.5 667v4M219.5 645v1M219.5 649v2M219.5 654v2M219.5 659v1M219.5 663v2M219.5 668v2M221.5 673v2M222.5 672v4M223.5 672v4M224.5 673v2M226.5 673v2M227.5 672v4M228.5 651v2M228.5 656v2M228.5 661v2M228.5 671v6M228.5 680v2M229.5 650v4M229.5 655v4M229.5 660v4M229.5 670v8M229.5 679v4M230.5 645v1M230.5 649v15M230.5 670v3M230.5 674v4M230.5 679v4M231.5 645v2M231.5 648v15M231.5 671v1M231.5 675v2M231.5 680v2M232.5 645v2M232.5 648v14M233.5 645v1M233.5 649v2M233.5 653v3M233.5 658v3M234.5 654v1M234.5 659v1M235.5 645v1M235.5 654v1M236.5 645v2M236.5 653v3M237.5 645v2M237.5 653v4M237.5 666v1M237.5 671v1M238.5 645v1M238.5 654v2M238.5 665v3M238.5 670v3M239.5 664v10M240.5 665v10M241.5 666v10M242.5 652v1M242.5 657v1M242.5 661v1M242.5 667v4M242.5 672v4M243.5 651v3M243.5 656v3M243.5 660v3M243.5 668v2M243.5 673v2M244.5 650v9M244.5 660v4M245.5 651v3M245.5 656v2M245.5 661v2M246.5 652v1M247.5 661v2M248.5 660v4M249.5 660v5M250.5 661v5M250.5 668v2M251.5 662v9M252.5 663v3M252.5 668v4M253.5 664v1M253.5 669v4M254.5 669v4M255.5 668v4M256.5 667v5M256.5 719v1M257.5 668v5M257.5 718v3M257.5 723v2M257.5 728v2M258.5 669v5M258.5 717v9M258.5 727v4M259.5 668v5M259.5 718v3M259.5 723v3M259.5 727v4M260.5 667v5M260.5 719v1M260.5 724v1M260.5 728v2M261.5 666v6M261.5 676v1M262.5 665v8M262.5 675v3M263.5 664v15M264.5 659v1M264.5 665v3M264.5 670v3M264.5 675v3M265.5 658v3M265.5 666v1M265.5 671v1M265.5 676v1M266.5 658v3M266.5 705v1M266.5 729v1M267.5 659v1M267.5 704v3M267.5 728v3M268.5 703v4M268.5 727v4M269.5 704v2M269.5 728v2M271.5 728v2M272.5 727v4M273.5 659v1M273.5 664v1M273.5 727v4M274.5 645v1M274.5 658v3M274.5 663v3M274.5 728v2M275.5 645v2M275.5 657v10M276.5 645v2M276.5 658v3M276.5 663v3M276.5 671v1M276.5 675v2M276.5 680v2M277.5 645v1M277.5 659v1M277.5 664v1M277.5 670v3M277.5 674v4M277.5 679v4M278.5 659v1M278.5 664v1M278.5 670v3M278.5 674v4M278.5 679v4M279.5 658v3M279.5 663v3M279.5 671v1M279.5 675v2M279.5 680v2M280.5 647v1M280.5 657v10M281.5 646v3M281.5 651v2M281.5 656v5M281.5 663v3M282.5 645v9M282.5 655v5M282.5 664v1M283.5 646v3M283.5 651v9M284.5 647v1M284.5 652v9M284.5 730v1M285.5 653v9M285.5 695v1M285.5 714v1M285.5 719v1M285.5 729v2M286.5 654v2M286.5 658v3M286.5 680v2M286.5 694v3M286.5 709v2M286.5 713v3M286.5 718v3M286.5 728v3M287.5 659v1M287.5 679v4M287.5 693v5M287.5 708v14M287.5 727v4M288.5 649v2M288.5 654v2M288.5 659v1M288.5 663v2M288.5 673v2M288.5 680v3M288.5 694v3M288.5 708v3M288.5 713v3M288.5 718v3M288.5 728v3M289.5 648v4M289.5 653v4M289.5 658v3M289.5 662v4M289.5 672v4M289.5 681v1M289.5 695v1M289.5 709v1M289.5 714v1M289.5 719v1M289.5 729v1M290.5 648v9M290.5 658v3M290.5 662v4M290.5 672v4M290.5 709v1M291.5 649v7M291.5 659v1M291.5 663v2M291.5 673v2M291.5 708v3M292.5 650v5M292.5 708v4M293.5 651v3M293.5 663v2M293.5 668v2M293.5 709v2M293.5 721v2M293.5 726v2M294.5 652v1M294.5 662v4M294.5 667v4M294.5 720v4M294.5 725v4M295.5 647v1M295.5 652v1M295.5 656v2M295.5 661v11M295.5 714v1M295.5 719v5M295.5 725v3M296.5 646v3M296.5 651v3M296.5 655v4M296.5 660v13M296.5 713v3M296.5 718v5M296.5 726v1M297.5 645v9M297.5 655v4M297.5 660v4M297.5 665v9M297.5 713v9M298.5 645v4M298.5 651v2M298.5 656v2M298.5 661v2M298.5 666v2M298.5 670v3M298.5 714v2M298.5 718v5M299.5 645v3M299.5 671v1M299.5 719v5M300.5 645v2M300.5 720v3M301.5 645v1M301.5 721v1M302.5 712v1M303.5 711v3M304.5 647v1M304.5 671v1M304.5 710v5M305.5 646v3M305.5 661v2M305.5 670v3M305.5 675v2M305.5 680v2M305.5 711v3M306.5 645v5M306.5 660v4M306.5 669v9M306.5 679v4M306.5 712v1M307.5 645v4M307.5 660v4M307.5 670v3M307.5 675v3M307.5 679v4M307.5 697v2M307.5 702v1M307.5 707v1M308.5 645v3M308.5 661v2M308.5 671v1M308.5 676v1M308.5 680v2M308.5 696v4M308.5 701v3M308.5 706v3M309.5 645v2M309.5 696v4M309.5 701v9M309.5 719v1M310.5 645v1M310.5 697v2M310.5 702v2M310.5 706v3M310.5 718v3M311.5 707v1M311.5 717v5M312.5 718v3M313.5 719v1M314.5 666v1M314.5 676v1M314.5 681v1M314.5 700v1M315.5 665v3M315.5 675v3M315.5 680v3M315.5 699v3M316.5 664v5M316.5 674v9M316.5 698v5M317.5 665v3M317.5 675v3M317.5 680v2M317.5 699v3M318.5 666v1M318.5 676v1M318.5 700v1M319.5 690v1M319.5 709v2M320.5 689v3M320.5 708v4M321.5 689v4M321.5 702v1M321.5 708v4M321.5 726v1M322.5 690v2M322.5 701v3M322.5 709v2M322.5 725v3M323.5 700v5M323.5 724v5M324.5 701v3M324.5 723v5M325.5 702v1M325.5 722v5M326.5 697v1M326.5 722v4M327.5 696v3M327.5 723v2M328.5 696v4M328.5 719v1M329.5 697v4M329.5 704v2M329.5 709v2M329.5 714v2M329.5 718v3M329.5 723v2M330.5 698v4M330.5 703v4M330.5 708v4M330.5 713v13M331.5 678v1M331.5 699v3M331.5 703v4M331.5 708v4M331.5 713v3M331.5 718v8M332.5 677v3M332.5 700v1M332.5 704v2M332.5 709v2M332.5 714v1M332.5 719v6M333.5 677v4M333.5 714v1M333.5 719v5M334.5 678v2M334.5 704v2M334.5 709v2M334.5 713v3M334.5 718v5M335.5 703v4M335.5 708v14M336.5 687v2M336.5 692v2M336.5 702v19M337.5 686v4M337.5 691v4M337.5 701v19M338.5 686v4M338.5 691v5M338.5 700v14M338.5 715v5M339.5 687v2M339.5 692v5M339.5 699v14M339.5 716v5M340.5 693v19M340.5 717v5M341.5 692v21M341.5 718v3M342.5 691v23M342.5 719v1M343.5 691v4M343.5 696v4M343.5 701v3M343.5 706v9M343.5 719v1M343.5 724v1M343.5 728v2M344.5 692v2M344.5 697v2M344.5 702v1M344.5 707v9M344.5 718v3M344.5 723v3M344.5 727v4M345.5 654v1M345.5 659v1M345.5 664v1M345.5 678v1M345.5 683v1M345.5 688v1M345.5 702v1M345.5 708v18M345.5 727v4M346.5 653v3M346.5 658v3M346.5 663v3M346.5 677v3M346.5 682v3M346.5 687v3M346.5 692v2M346.5 697v2M346.5 701v3M346.5 709v16M346.5 728v2M347.5 652v15M347.5 676v19M347.5 696v9M347.5 710v14M348.5 653v3M348.5 658v3M348.5 663v3M348.5 677v3M348.5 682v3M348.5 687v3M348.5 692v3M348.5 696v3M348.5 701v3M348.5 711v3M348.5 716v9M349.5 654v1M349.5 659v1M349.5 664v1M349.5 678v1M349.5 683v1M349.5 688v1M349.5 693v1M349.5 697v1M349.5 702v1M349.5 712v1M349.5 717v9M350.5 659v1M350.5 664v1M350.5 683v1M350.5 688v1M350.5 693v1M350.5 697v1M350.5 702v1M350.5 718v3M350.5 722v4M351.5 658v3M351.5 663v3M351.5 682v3M351.5 687v3M351.5 692v3M351.5 696v3M351.5 701v3M351.5 719v1M351.5 723v2M352.5 657v10M352.5 681v14M352.5 696v9M352.5 719v1M353.5 658v3M353.5 663v3M353.5 682v3M353.5 687v3M353.5 692v2M353.5 697v2M353.5 701v3M353.5 709v2M353.5 714v2M353.5 718v3M354.5 659v1M354.5 664v1M354.5 683v1M354.5 688v1M354.5 702v1M354.5 708v4M354.5 713v9M355.5 678v1M355.5 688v1M355.5 707v5M355.5 713v3M355.5 718v3M356.5 677v3M356.5 687v3M356.5 706v5M356.5 714v1M356.5 719v1M357.5 676v5M357.5 686v4M357.5 705v5M357.5 714v1M358.5 675v5M358.5 687v2M358.5 706v5M358.5 713v3M359.5 674v5M359.5 707v10M360.5 675v3M360.5 683v1M360.5 687v2M360.5 692v2M360.5 697v2M360.5 708v10M360.5 721v2M360.5 726v2M361.5 676v1M361.5 682v3M361.5 686v4M361.5 691v4M361.5 696v4M361.5 709v10M361.5 720v4M361.5 725v4M362.5 682v3M362.5 686v4M362.5 691v4M362.5 696v4M362.5 709v10M362.5 720v4M362.5 725v4M363.5 683v1M363.5 687v2M363.5 692v2M363.5 697v2M363.5 708v10M363.5 721v2M363.5 726v2M364.5 683v1M364.5 708v9M365.5 654v2M365.5 682v3M365.5 709v2M365.5 713v3M366.5 653v4M366.5 681v5M366.5 714v1M367.5 653v3M367.5 682v3M367.5 695v1M367.5 700v1M367.5 704v2M367.5 714v1M368.5 654v1M368.5 683v1M368.5 694v3M368.5 699v3M368.5 703v4M368.5 713v3M369.5 693v9M369.5 703v4M369.5 713v4M370.5 694v7M370.5 704v2M370.5 714v2M370.5 721v2M371.5 695v5M371.5 720v4M372.5 696v3M372.5 720v3M373.5 697v1M373.5 721v1M374.5 697v1M374.5 717v1M375.5 696v3M375.5 716v3M376.5 696v4M376.5 715v5M377.5 697v2M377.5 716v5M378.5 717v5M379.5 683v1M379.5 707v1M379.5 718v3M380.5 682v3M380.5 706v3M380.5 719v1M381.5 681v5M381.5 700v1M381.5 705v5M382.5 682v3M382.5 699v3M382.5 704v5M383.5 683v1M383.5 698v10M384.5 683v1M384.5 687v2M384.5 699v3M384.5 704v3M385.5 682v3M385.5 686v4M385.5 700v1M385.5 705v1M386.5 671v1M386.5 676v1M386.5 681v9M386.5 695v1M386.5 700v1M386.5 709v1M386.5 714v1M387.5 670v3M387.5 675v3M387.5 680v9M387.5 694v3M387.5 699v3M387.5 708v3M387.5 713v3M388.5 669v14M388.5 684v4M388.5 693v10M388.5 707v10M389.5 670v3M389.5 675v3M389.5 680v2M389.5 685v2M389.5 694v3M389.5 699v5M389.5 706v5M389.5 713v5M390.5 671v1M390.5 676v1M390.5 695v1M390.5 700v10M390.5 714v5M391.5 700v9M391.5 715v4M392.5 699v9M392.5 716v2M393.5 698v4M393.5 703v4M394.5 699v2M394.5 704v2M398.5 678v1M398.5 683v1M398.5 688v1M398.5 693v1M399.5 677v3M399.5 682v3M399.5 687v3M399.5 692v3M400.5 676v20M401.5 677v3M401.5 682v15M401.5 699v2M402.5 678v1M402.5 683v19M403.5 684v4M403.5 689v3M403.5 694v3M403.5 699v4M403.5 707v1M404.5 685v2M404.5 690v1M404.5 695v1M404.5 700v4M404.5 706v3M405.5 652v1M405.5 701v9M406.5 651v3M406.5 661v2M406.5 702v2M406.5 706v3M407.5 650v5M407.5 660v4M407.5 707v1M408.5 651v3M408.5 660v3M409.5 652v1M409.5 661v1M434.5 652v1M434.5 661v1M435.5 651v3M435.5 660v3M436.5 650v5M436.5 660v4M437.5 651v3M437.5 661v2M438.5 652v1"/><path stroke="#ff5b00" d="M218.5 647v1M219.5 646v3M220.5 645v5M221.5 646v3M222.5 647v1M244.5 659v1M245.5 645v1M245.5 658v3M246.5 645v2M246.5 657v5M247.5 645v2M247.5 658v3M248.5 645v1M248.5 659v1M302.5 726v1M303.5 725v3M304.5 724v5M305.5 725v3M306.5 726v1M317.5 645v1M317.5 649v2M317.5 654v2M318.5 645v2M318.5 648v4M318.5 653v4M319.5 645v2M319.5 648v4M319.5 653v3M319.5 728v2M320.5 645v1M320.5 649v2M320.5 654v1M320.5 727v4M321.5 727v4M322.5 645v1M322.5 728v2M323.5 645v2M324.5 645v3M324.5 651v2M324.5 671v1M324.5 675v2M325.5 645v4M325.5 650v4M325.5 670v3M325.5 674v4M326.5 646v3M326.5 650v4M326.5 670v3M326.5 674v4M326.5 683v1M326.5 726v1M327.5 647v1M327.5 651v2M327.5 671v1M327.5 675v2M327.5 682v3M327.5 725v3M328.5 671v1M328.5 681v5M328.5 724v5M329.5 666v2M329.5 670v3M329.5 675v2M329.5 682v3M329.5 725v3M330.5 665v13M330.5 683v1M330.5 726v1M331.5 659v1M331.5 665v3M331.5 670v3M331.5 675v3M332.5 658v3M332.5 666v1M332.5 671v1M332.5 676v1M333.5 657v5M333.5 676v1M334.5 658v3M334.5 675v3M334.5 680v2M335.5 659v1M335.5 674v9M336.5 668v2M336.5 675v3M336.5 680v3M337.5 667v4M337.5 676v1M337.5 681v1M338.5 652v1M338.5 657v1M338.5 661v1M338.5 666v5M339.5 651v3M339.5 656v3M339.5 660v3M339.5 665v5M340.5 650v9M340.5 660v9M341.5 649v5M341.5 656v2M341.5 661v2M341.5 665v5M341.5 673v2M341.5 730v1M342.5 648v5M342.5 666v5M342.5 672v4M342.5 729v2M343.5 648v4M343.5 667v4M343.5 672v4M343.5 730v1M344.5 649v2M344.5 668v2M344.5 673v2M351.5 730v1M352.5 671v1M352.5 729v2M353.5 670v3M353.5 675v2M353.5 730v1M354.5 669v9M355.5 670v3M355.5 675v3M356.5 671v1M356.5 676v1M369.5 678v1M370.5 677v3M371.5 676v5M372.5 675v5M373.5 674v5M374.5 674v5M374.5 683v1M375.5 675v5M375.5 682v3M375.5 730v1M376.5 676v10M376.5 729v2M377.5 656v2M377.5 677v3M377.5 682v3M377.5 730v1M378.5 655v4M378.5 678v1M378.5 683v1M379.5 649v2M379.5 654v6M379.5 664v1M379.5 716v2M380.5 648v4M380.5 653v8M380.5 663v3M380.5 715v4M381.5 648v4M381.5 653v14M381.5 671v1M381.5 676v1M381.5 715v4M382.5 649v2M382.5 654v14M382.5 670v3M382.5 675v3M382.5 716v2M382.5 728v2M383.5 655v24M383.5 727v4M384.5 656v3M384.5 660v3M384.5 665v3M384.5 670v3M384.5 675v3M384.5 728v3M385.5 657v1M385.5 661v1M385.5 666v1M385.5 671v1M385.5 676v1M385.5 729v1M386.5 729v1M387.5 728v3M388.5 727v4M389.5 663v2M389.5 668v2M389.5 673v2M389.5 678v2M389.5 728v2M390.5 662v4M390.5 667v4M390.5 672v4M390.5 677v4M391.5 663v3M391.5 667v4M391.5 672v4M391.5 677v3M392.5 664v1M392.5 668v2M392.5 673v2M392.5 678v1M393.5 712v1M394.5 649v2M394.5 711v3M394.5 716v2M394.5 721v2M395.5 648v4M395.5 710v9M395.5 720v4M396.5 648v5M396.5 680v2M396.5 711v3M396.5 716v3M396.5 720v5M397.5 649v5M397.5 679v4M397.5 712v1M397.5 717v1M397.5 721v5M398.5 650v4M398.5 679v4M398.5 722v4M399.5 651v2M399.5 680v2M399.5 723v2M401.5 723v2M401.5 728v2M402.5 722v4M402.5 727v4M403.5 721v5M403.5 727v4M404.5 720v5M404.5 728v2M405.5 719v5M406.5 718v5M407.5 717v5M408.5 673v2M408.5 718v3M409.5 672v4M409.5 719v1M409.5 730v1M410.5 672v4M410.5 705v1M410.5 709v1M410.5 714v1M410.5 730v1M411.5 673v2M411.5 704v3M411.5 708v3M411.5 713v3M412.5 683v1M412.5 703v14M413.5 678v2M413.5 682v3M413.5 687v2M413.5 697v2M413.5 704v7M413.5 713v3M414.5 677v13M414.5 696v4M414.5 705v5M414.5 714v1M415.5 677v3M415.5 682v8M415.5 696v5M415.5 704v5M416.5 678v1M416.5 683v6M416.5 697v5M416.5 703v5M417.5 684v4M417.5 698v4M417.5 703v4M418.5 685v2M418.5 699v2M418.5 704v2M418.5 721v2M419.5 720v4M420.5 709v2M420.5 720v5M421.5 708v4M421.5 721v5M422.5 708v4M422.5 717v1M422.5 722v4M423.5 709v2M423.5 716v3M423.5 723v2M424.5 715v4M425.5 656v2M425.5 661v2M425.5 675v2M425.5 709v2M425.5 716v2M426.5 655v4M426.5 660v4M426.5 674v4M426.5 708v4M427.5 655v4M427.5 660v4M427.5 675v4M427.5 683v1M427.5 708v5M427.5 716v2M428.5 656v2M428.5 661v2M428.5 676v4M428.5 682v3M428.5 709v5M428.5 715v4M429.5 677v9M429.5 695v1M429.5 710v4M429.5 715v4M430.5 678v2M430.5 682v5M430.5 694v3M430.5 711v2M430.5 716v2M430.5 728v2M431.5 683v5M431.5 693v5M431.5 727v4M432.5 645v1M432.5 649v2M432.5 684v3M432.5 694v3M432.5 721v2M432.5 728v3M433.5 645v2M433.5 648v4M433.5 685v1M433.5 695v1M433.5 720v4M433.5 729v1M434.5 645v2M434.5 648v4M434.5 705v1M434.5 720v4M435.5 645v1M435.5 649v2M435.5 704v3M435.5 721v2M436.5 703v4M437.5 704v2M437.5 711v2M438.5 710v4M439.5 711v4M439.5 719v1M439.5 724v1M440.5 712v4M440.5 718v3M440.5 723v3M441.5 707v1M441.5 712v15M442.5 706v3M442.5 711v5M442.5 718v3M442.5 723v5M443.5 705v10M443.5 719v1M443.5 724v5M444.5 671v1M444.5 675v2M444.5 706v3M444.5 711v3M444.5 719v1M444.5 723v5M445.5 670v3M445.5 674v4M445.5 707v1M445.5 712v1M445.5 718v3M445.5 722v5M446.5 670v3M446.5 674v4M446.5 702v1M446.5 712v1M446.5 718v3M446.5 722v4M447.5 671v1M447.5 675v2M447.5 701v3M447.5 711v3M447.5 719v1M447.5 723v2M448.5 695v1M448.5 700v5M448.5 710v5M449.5 694v3M449.5 701v3M449.5 711v3M449.5 728v2M450.5 693v5M450.5 702v1M450.5 712v1M450.5 727v4M451.5 668v2M451.5 694v3M451.5 707v1M451.5 712v1M451.5 716v2M451.5 726v5M452.5 667v4M452.5 695v1M452.5 706v3M452.5 711v3M452.5 715v4M452.5 725v5M453.5 667v4M453.5 705v9M453.5 715v5M453.5 724v5M454.5 661v2M454.5 668v2M454.5 706v3M454.5 711v2M454.5 716v5M454.5 723v5M455.5 660v4M455.5 707v1M455.5 717v10M456.5 660v3M456.5 668v2M456.5 673v2M456.5 678v2M456.5 683v1M456.5 687v2M456.5 692v2M456.5 697v2M456.5 702v2M456.5 707v1M456.5 716v12M457.5 661v1M457.5 667v4M457.5 672v4M457.5 677v4M457.5 682v3M457.5 686v4M457.5 691v4M457.5 696v4M457.5 701v4M457.5 706v3M457.5 715v14M457.5 730v1M458.5 647v1M458.5 652v1M458.5 657v1M458.5 661v1M458.5 667v38M458.5 706v3M458.5 715v4M458.5 720v11"/><path stroke="#ff8000" d="M218.5 652v1M218.5 657v1M219.5 651v3M219.5 656v3M220.5 650v10M221.5 649v12M222.5 648v14M223.5 647v9M223.5 658v3M224.5 646v9M224.5 659v1M225.5 645v9M226.5 646v3M226.5 651v2M227.5 647v1M245.5 649v2M245.5 654v2M246.5 648v4M246.5 653v4M247.5 647v5M247.5 653v3M248.5 646v5M248.5 654v1M249.5 645v5M250.5 646v3M251.5 647v1M256.5 647v1M257.5 646v3M257.5 651v2M257.5 661v2M258.5 645v9M258.5 660v4M259.5 645v10M259.5 659v5M260.5 645v11M260.5 658v5M261.5 645v2M261.5 648v4M261.5 653v9M262.5 645v1M262.5 649v2M262.5 654v2M262.5 658v3M263.5 659v1M290.5 729v1M291.5 728v3M292.5 727v4M293.5 728v2M300.5 723v2M301.5 722v4M302.5 722v4M303.5 723v2M305.5 728v2M306.5 727v4M307.5 726v5M308.5 725v5M309.5 725v4M310.5 726v2M317.5 678v2M317.5 730v1M318.5 677v4M318.5 729v2M319.5 677v5M319.5 724v1M319.5 730v1M320.5 678v5M320.5 723v3M321.5 679v4M321.5 688v1M321.5 722v4M322.5 680v2M322.5 687v3M322.5 723v2M323.5 686v5M324.5 687v3M325.5 688v1M326.5 721v1M327.5 720v3M328.5 720v4M329.5 680v2M329.5 721v2M330.5 679v4M331.5 664v1M331.5 679v4M332.5 663v3M332.5 680v2M333.5 662v4M334.5 663v2M334.5 685v2M334.5 728v2M335.5 684v4M335.5 727v4M336.5 673v2M336.5 684v3M336.5 728v3M337.5 672v4M337.5 685v1M337.5 729v1M338.5 671v5M339.5 670v5M340.5 669v5M340.5 683v1M341.5 670v3M341.5 678v2M341.5 682v3M341.5 726v2M342.5 671v1M342.5 677v9M342.5 725v4M343.5 677v3M343.5 682v3M343.5 725v3M344.5 678v1M344.5 683v1M344.5 726v1M350.5 721v1M351.5 720v3M352.5 720v4M353.5 666v2M353.5 680v2M353.5 685v2M353.5 690v2M353.5 721v2M354.5 665v4M354.5 679v4M354.5 684v4M354.5 689v4M355.5 645v1M355.5 665v3M355.5 679v4M355.5 684v4M355.5 689v3M356.5 645v2M356.5 666v1M356.5 680v2M356.5 685v2M356.5 690v1M357.5 645v3M358.5 645v4M359.5 645v5M360.5 646v5M361.5 647v5M362.5 648v4M362.5 729v1M363.5 649v2M363.5 728v3M364.5 727v4M365.5 728v2M367.5 652v1M367.5 661v2M367.5 666v1M367.5 671v1M367.5 680v2M368.5 651v3M368.5 660v4M368.5 665v3M368.5 670v3M368.5 679v4M369.5 650v4M369.5 660v4M369.5 665v9M369.5 679v5M369.5 688v1M370.5 651v2M370.5 661v2M370.5 666v2M370.5 670v3M370.5 680v5M370.5 687v3M371.5 671v1M371.5 681v10M372.5 680v5M372.5 687v3M373.5 679v5M373.5 688v1M374.5 679v4M374.5 688v1M375.5 680v2M375.5 687v3M376.5 671v1M376.5 686v5M377.5 661v2M377.5 666v2M377.5 670v3M377.5 687v3M378.5 660v4M378.5 665v9M378.5 688v1M379.5 660v4M379.5 665v8M380.5 661v2M380.5 666v6M381.5 647v1M381.5 652v1M381.5 667v4M382.5 646v3M382.5 651v3M382.5 668v2M382.5 680v2M383.5 645v10M383.5 679v4M384.5 646v3M384.5 651v3M384.5 680v3M385.5 647v1M385.5 652v1M385.5 681v1M385.5 730v1M386.5 647v1M386.5 724v1M386.5 730v1M387.5 646v3M387.5 723v3M388.5 645v5M388.5 659v1M388.5 722v5M389.5 646v3M389.5 658v3M389.5 723v3M389.5 730v1M390.5 647v1M390.5 657v5M390.5 724v1M390.5 729v2M391.5 647v1M391.5 656v7M391.5 666v1M391.5 671v1M391.5 676v1M391.5 685v2M391.5 730v1M392.5 646v3M392.5 655v9M392.5 665v3M392.5 670v3M392.5 675v3M392.5 684v4M393.5 645v5M393.5 654v5M393.5 660v19M393.5 683v5M393.5 702v1M393.5 707v1M394.5 645v4M394.5 653v5M394.5 661v12M394.5 675v5M394.5 682v5M394.5 701v3M394.5 706v3M395.5 645v3M395.5 652v5M395.5 662v10M395.5 676v10M395.5 700v10M396.5 645v3M396.5 653v5M396.5 661v11M396.5 675v5M396.5 682v5M396.5 690v2M396.5 701v3M396.5 706v3M396.5 714v2M396.5 719v1M397.5 645v4M397.5 654v5M397.5 660v13M397.5 674v5M397.5 683v5M397.5 689v4M397.5 702v1M397.5 707v1M397.5 713v4M397.5 718v3M398.5 645v4M398.5 654v5M398.5 660v4M398.5 665v4M398.5 670v3M398.5 674v4M398.5 684v4M398.5 689v4M398.5 713v4M398.5 718v4M398.5 726v1M399.5 645v3M399.5 653v5M399.5 661v2M399.5 666v2M399.5 671v1M399.5 675v2M399.5 685v2M399.5 690v2M399.5 714v2M399.5 719v4M399.5 725v3M400.5 645v2M400.5 652v5M400.5 720v9M401.5 645v1M401.5 651v5M401.5 721v2M401.5 725v3M402.5 650v5M402.5 726v1M403.5 645v1M403.5 649v5M403.5 668v2M403.5 673v2M403.5 678v1M403.5 683v1M403.5 688v1M404.5 645v2M404.5 648v5M404.5 667v4M404.5 672v4M404.5 677v3M404.5 682v3M404.5 687v3M405.5 645v2M405.5 648v4M405.5 667v4M405.5 672v4M405.5 677v13M405.5 714v1M406.5 645v1M406.5 649v2M406.5 668v2M406.5 673v2M406.5 678v7M406.5 687v2M406.5 713v3M407.5 679v5M407.5 712v5M408.5 659v1M408.5 663v2M408.5 668v2M408.5 678v6M408.5 687v2M408.5 692v2M408.5 713v3M408.5 726v2M409.5 658v3M409.5 662v4M409.5 667v4M409.5 677v8M409.5 686v4M409.5 691v4M409.5 714v1M409.5 725v4M410.5 658v3M410.5 662v4M410.5 667v4M410.5 677v4M410.5 682v3M410.5 686v4M410.5 691v4M410.5 725v4M411.5 659v1M411.5 663v2M411.5 668v2M411.5 678v2M411.5 683v1M411.5 687v2M411.5 692v2M411.5 726v2M413.5 692v2M413.5 702v2M414.5 691v4M414.5 701v4M415.5 691v4M415.5 701v3M416.5 692v2M416.5 702v1M420.5 699v2M420.5 704v2M420.5 714v2M420.5 719v1M421.5 698v4M421.5 703v4M421.5 713v4M421.5 718v3M422.5 688v1M422.5 697v5M422.5 703v4M422.5 712v5M422.5 718v3M423.5 687v3M423.5 696v5M423.5 704v2M423.5 711v5M423.5 719v1M424.5 647v1M424.5 671v1M424.5 686v5M424.5 696v4M424.5 710v5M425.5 646v3M425.5 651v2M425.5 666v2M425.5 670v3M425.5 680v2M425.5 687v3M425.5 697v2M425.5 704v2M425.5 711v3M426.5 645v9M426.5 665v9M426.5 679v4M426.5 688v1M426.5 703v4M426.5 712v1M427.5 645v10M427.5 659v1M427.5 664v11M427.5 679v4M427.5 688v1M427.5 692v2M427.5 697v2M427.5 702v6M428.5 645v11M428.5 658v3M428.5 663v13M428.5 680v2M428.5 687v3M428.5 691v4M428.5 696v4M428.5 701v8M429.5 645v2M429.5 648v4M429.5 653v13M429.5 667v10M429.5 686v9M429.5 696v14M429.5 714v1M429.5 719v1M429.5 724v1M430.5 645v1M430.5 649v2M430.5 654v2M430.5 658v3M430.5 663v2M430.5 668v10M430.5 680v2M430.5 687v7M430.5 697v7M430.5 706v5M430.5 713v3M430.5 718v3M430.5 723v3M431.5 659v1M431.5 669v14M431.5 688v5M431.5 698v5M431.5 707v20M432.5 654v2M432.5 659v1M432.5 663v2M432.5 670v3M432.5 675v3M432.5 680v3M432.5 689v3M432.5 699v3M432.5 708v13M432.5 723v3M433.5 653v4M433.5 658v3M433.5 662v4M433.5 671v1M433.5 676v1M433.5 681v1M433.5 690v1M433.5 700v1M433.5 709v11M433.5 724v1M434.5 653v4M434.5 658v3M434.5 662v4M434.5 695v1M434.5 700v1M434.5 710v4M434.5 715v4M435.5 654v2M435.5 659v1M435.5 663v2M435.5 694v3M435.5 699v3M435.5 711v2M435.5 716v2M436.5 683v1M436.5 693v10M436.5 707v1M437.5 668v2M437.5 673v2M437.5 678v2M437.5 682v3M437.5 687v2M437.5 694v8M437.5 706v3M438.5 667v4M438.5 672v4M438.5 677v13M438.5 695v6M438.5 705v5M439.5 667v4M439.5 672v4M439.5 677v3M439.5 682v8M439.5 695v6M439.5 704v7M440.5 668v2M440.5 673v2M440.5 678v1M440.5 683v6M440.5 694v8M440.5 703v9M441.5 684v4M441.5 693v14M441.5 708v4M442.5 685v2M442.5 694v12M442.5 709v2M443.5 695v10M444.5 680v2M444.5 696v3M444.5 701v3M444.5 709v2M444.5 714v2M445.5 679v4M445.5 697v1M445.5 702v1M445.5 708v4M445.5 713v4M446.5 679v4M446.5 707v5M446.5 713v4M447.5 680v2M447.5 706v5M447.5 714v2M448.5 705v5M448.5 719v1M449.5 706v5M449.5 718v3M449.5 723v2M450.5 707v5M450.5 717v9M451.5 673v2M451.5 683v1M451.5 697v2M451.5 702v1M451.5 708v4M451.5 718v3M451.5 723v3M452.5 672v4M452.5 682v3M452.5 696v4M452.5 701v3M452.5 709v2M452.5 719v1M452.5 724v1M453.5 652v1M453.5 666v1M453.5 671v6M453.5 681v5M453.5 696v4M453.5 701v4M453.5 714v1M454.5 651v3M454.5 656v2M454.5 665v3M454.5 670v8M454.5 682v3M454.5 697v2M454.5 702v2M454.5 713v3M455.5 650v9M455.5 664v15M455.5 683v1M455.5 712v5M456.5 651v3M456.5 656v4M456.5 663v5M456.5 670v3M456.5 675v3M456.5 711v5M457.5 652v1M457.5 657v4M457.5 662v5M457.5 671v1M457.5 676v1M457.5 710v5M458.5 658v3M458.5 662v4M458.5 705v1M458.5 709v5M458.5 719v1"/><path stroke="#ffc800" d="M218.5 661v1M219.5 660v3M220.5 660v4M221.5 661v2M221.5 668v2M222.5 667v4M223.5 666v6M224.5 665v8M225.5 659v1M225.5 664v10M226.5 658v3M226.5 663v10M227.5 657v15M228.5 647v1M228.5 658v3M228.5 663v8M229.5 646v3M229.5 659v1M229.5 664v6M230.5 646v3M230.5 665v4M231.5 647v1M231.5 666v2M235.5 649v2M235.5 659v1M235.5 664v1M235.5 668v2M236.5 648v4M236.5 658v3M236.5 663v3M236.5 667v4M237.5 648v4M237.5 657v9M237.5 667v4M238.5 649v2M238.5 658v3M238.5 663v2M238.5 668v2M239.5 659v1M242.5 647v1M243.5 646v3M244.5 645v5M245.5 646v3M245.5 668v2M246.5 647v1M246.5 667v4M247.5 656v2M247.5 667v4M248.5 655v4M248.5 668v2M249.5 654v6M250.5 653v8M251.5 652v10M252.5 647v1M252.5 653v3M252.5 658v3M252.5 666v2M253.5 646v3M253.5 654v1M253.5 659v1M253.5 665v4M254.5 646v3M254.5 664v5M255.5 647v1M255.5 663v5M256.5 662v5M257.5 663v5M258.5 664v5M259.5 665v3M260.5 666v1M261.5 652v1M262.5 651v3M262.5 656v2M262.5 661v2M263.5 650v9M263.5 660v4M264.5 645v1M264.5 649v10M264.5 660v3M265.5 645v2M265.5 648v10M265.5 661v1M266.5 645v2M266.5 648v4M266.5 653v4M267.5 645v1M267.5 649v2M267.5 654v2M273.5 654v1M274.5 649v2M274.5 653v3M275.5 648v9M276.5 647v11M276.5 661v2M276.5 666v2M277.5 646v13M277.5 660v4M277.5 665v4M278.5 646v13M278.5 660v4M278.5 665v4M279.5 647v11M279.5 661v2M279.5 666v2M280.5 648v9M281.5 649v2M281.5 653v3M282.5 654v1M283.5 645v1M283.5 649v2M284.5 645v2M284.5 648v4M285.5 645v2M285.5 648v4M286.5 645v1M286.5 649v2M288.5 645v1M289.5 645v2M289.5 730v1M290.5 645v3M290.5 714v1M290.5 719v1M290.5 730v1M291.5 645v4M291.5 713v3M291.5 718v3M292.5 645v5M292.5 659v1M292.5 712v10M293.5 646v3M293.5 658v3M293.5 713v3M293.5 718v3M293.5 730v1M294.5 647v1M294.5 657v5M294.5 714v1M294.5 719v1M294.5 729v2M295.5 658v3M295.5 724v1M295.5 728v3M296.5 659v1M296.5 723v3M296.5 727v4M297.5 722v9M298.5 723v7M299.5 724v5M300.5 719v1M300.5 725v3M301.5 718v3M301.5 726v1M302.5 718v3M303.5 719v1M304.5 719v1M305.5 714v2M305.5 718v3M306.5 713v9M307.5 712v4M307.5 718v3M308.5 711v4M308.5 719v1M309.5 710v4M309.5 724v1M310.5 711v2M310.5 723v3M311.5 722v5M312.5 723v3M313.5 724v1M314.5 647v1M314.5 652v1M314.5 657v1M314.5 661v1M314.5 671v1M314.5 705v1M314.5 709v1M314.5 714v1M315.5 646v3M315.5 651v3M315.5 656v3M315.5 660v3M315.5 670v3M315.5 704v3M315.5 708v3M315.5 713v3M316.5 645v14M316.5 660v4M316.5 669v5M316.5 683v1M316.5 703v4M316.5 708v9M317.5 646v3M317.5 651v3M317.5 656v2M317.5 661v2M317.5 670v3M317.5 682v3M317.5 687v2M317.5 704v2M317.5 709v2M317.5 713v3M317.5 721v2M317.5 726v2M318.5 647v1M318.5 652v1M318.5 671v1M318.5 681v9M318.5 714v1M318.5 720v4M318.5 725v4M319.5 682v3M319.5 687v3M319.5 714v1M319.5 719v5M319.5 725v3M320.5 683v1M320.5 688v1M320.5 713v3M320.5 718v5M320.5 726v1M321.5 713v9M322.5 714v2M322.5 718v3M323.5 719v1M324.5 685v2M325.5 684v4M326.5 684v4M326.5 693v1M326.5 712v1M327.5 685v2M327.5 692v3M327.5 711v3M328.5 691v5M328.5 710v5M329.5 690v7M329.5 711v3M330.5 689v9M330.5 712v1M331.5 689v3M331.5 694v3M331.5 726v1M332.5 690v1M332.5 695v1M332.5 725v3M333.5 695v1M333.5 700v1M333.5 725v4M334.5 694v3M334.5 699v3M334.5 726v2M335.5 693v10M336.5 683v1M336.5 694v8M336.5 721v2M337.5 682v3M337.5 695v6M337.5 720v4M338.5 681v5M338.5 690v1M338.5 696v4M338.5 720v5M339.5 680v7M339.5 689v3M339.5 697v2M339.5 721v5M340.5 679v4M340.5 684v9M340.5 722v5M341.5 680v2M341.5 685v2M341.5 689v3M341.5 716v2M341.5 721v5M342.5 690v1M342.5 715v4M342.5 720v5M343.5 656v2M343.5 661v2M343.5 666v1M343.5 671v1M343.5 676v1M343.5 690v1M343.5 704v2M343.5 715v4M343.5 720v4M344.5 655v4M344.5 660v4M344.5 665v3M344.5 670v3M344.5 675v3M344.5 689v3M344.5 703v4M344.5 716v2M344.5 721v2M345.5 655v4M345.5 660v4M345.5 665v13M345.5 689v4M345.5 703v4M346.5 656v2M346.5 661v2M346.5 666v11M346.5 690v2M346.5 704v2M347.5 667v9M348.5 668v3M348.5 672v3M348.5 728v2M349.5 669v1M349.5 673v1M349.5 727v4M350.5 645v1M350.5 649v1M350.5 654v1M350.5 669v1M350.5 673v1M350.5 678v1M350.5 707v1M350.5 727v4M351.5 645v2M351.5 648v3M351.5 653v3M351.5 668v3M351.5 672v3M351.5 677v3M351.5 706v3M351.5 728v2M352.5 645v12M352.5 667v4M352.5 672v9M352.5 695v1M352.5 705v5M353.5 645v6M353.5 653v3M353.5 668v2M353.5 673v2M353.5 677v3M353.5 694v3M353.5 699v2M353.5 704v5M353.5 723v2M353.5 728v2M354.5 645v5M354.5 654v1M354.5 678v1M354.5 693v9M354.5 703v5M354.5 722v4M354.5 727v4M355.5 646v3M355.5 659v1M355.5 664v1M355.5 668v2M355.5 673v2M355.5 683v1M355.5 692v15M355.5 712v1M355.5 716v2M355.5 721v10M356.5 647v1M356.5 658v3M356.5 663v3M356.5 667v4M356.5 672v4M356.5 682v3M356.5 691v15M356.5 711v3M356.5 715v4M356.5 720v10M357.5 657v19M357.5 681v5M357.5 691v4M357.5 696v4M357.5 701v4M357.5 710v4M357.5 715v4M357.5 720v4M357.5 725v4M358.5 658v17M358.5 682v3M358.5 692v2M358.5 697v2M358.5 702v2M358.5 711v2M358.5 716v2M358.5 721v2M358.5 726v2M359.5 659v15M359.5 683v1M360.5 659v16M360.5 678v2M361.5 658v18M361.5 677v4M361.5 730v1M362.5 652v1M362.5 658v3M362.5 662v4M362.5 667v14M362.5 719v1M362.5 730v1M363.5 651v3M363.5 659v1M363.5 663v2M363.5 668v12M363.5 718v3M364.5 650v5M364.5 659v1M364.5 669v10M364.5 717v5M365.5 651v3M365.5 658v3M365.5 663v2M365.5 668v5M365.5 675v5M365.5 718v3M365.5 730v1M366.5 652v1M366.5 657v9M366.5 667v5M366.5 676v5M366.5 719v1M366.5 729v2M367.5 658v3M367.5 663v3M367.5 667v4M367.5 677v3M367.5 690v1M367.5 719v1M367.5 724v1M367.5 730v1M368.5 659v1M368.5 664v1M368.5 668v2M368.5 678v1M368.5 689v3M368.5 718v3M368.5 723v3M369.5 689v4M369.5 717v10M370.5 690v4M370.5 718v3M370.5 723v5M371.5 691v4M371.5 719v1M371.5 724v5M372.5 690v5M372.5 723v5M373.5 689v5M373.5 722v5M374.5 689v4M374.5 721v5M375.5 690v2M375.5 720v5M376.5 695v1M376.5 720v4M377.5 694v3M377.5 721v4M377.5 728v2M378.5 693v5M378.5 722v4M378.5 727v4M379.5 678v1M379.5 694v3M379.5 723v3M379.5 727v4M380.5 677v3M380.5 695v1M380.5 724v1M380.5 728v2M381.5 677v4M381.5 690v1M381.5 695v1M381.5 714v1M381.5 719v1M382.5 678v2M382.5 689v3M382.5 694v3M382.5 709v2M382.5 713v3M382.5 718v3M383.5 688v10M383.5 708v14M384.5 645v1M384.5 659v1M384.5 663v2M384.5 668v2M384.5 673v2M384.5 678v2M384.5 689v10M384.5 702v2M384.5 707v4M384.5 713v8M385.5 645v2M385.5 658v3M385.5 662v4M385.5 667v4M385.5 672v4M385.5 677v4M385.5 690v10M385.5 701v4M385.5 706v4M385.5 714v6M386.5 645v2M386.5 657v9M386.5 667v4M386.5 672v4M386.5 677v4M386.5 691v4M386.5 696v4M386.5 701v4M386.5 706v3M386.5 715v4M387.5 645v1M387.5 656v9M387.5 668v2M387.5 673v2M387.5 678v2M387.5 692v2M387.5 697v2M387.5 702v2M387.5 707v1M387.5 716v2M388.5 655v4M388.5 660v4M389.5 645v1M389.5 649v2M389.5 656v2M389.5 661v2M389.5 687v2M389.5 692v2M389.5 697v2M389.5 721v2M390.5 645v2M390.5 648v4M390.5 686v4M390.5 691v4M390.5 696v4M390.5 720v4M391.5 645v2M391.5 648v4M391.5 687v3M391.5 691v9M391.5 709v2M391.5 714v1M391.5 720v4M392.5 645v1M392.5 649v2M392.5 688v1M392.5 692v7M392.5 708v4M392.5 713v3M392.5 721v2M393.5 693v5M393.5 708v4M393.5 713v4M394.5 694v3M394.5 709v2M394.5 714v2M395.5 695v1M396.5 704v2M397.5 703v4M398.5 664v1M398.5 669v1M398.5 673v1M398.5 697v1M398.5 702v6M399.5 663v3M399.5 668v3M399.5 672v3M399.5 696v3M399.5 701v8M400.5 662v9M400.5 672v4M400.5 696v14M401.5 661v9M401.5 673v4M401.5 680v2M401.5 697v2M401.5 701v10M402.5 660v9M402.5 674v4M402.5 679v4M402.5 702v10M403.5 660v4M403.5 665v3M403.5 675v3M403.5 679v4M403.5 697v2M403.5 703v4M403.5 708v5M404.5 661v2M404.5 666v1M404.5 676v1M404.5 680v2M404.5 696v4M404.5 704v2M404.5 709v5M405.5 666v1M405.5 690v1M405.5 695v6M405.5 710v4M406.5 665v3M406.5 689v3M406.5 694v8M406.5 704v2M406.5 711v2M407.5 664v5M407.5 688v19M408.5 665v3M408.5 689v3M408.5 694v3M408.5 699v3M408.5 704v3M408.5 711v2M409.5 666v1M409.5 690v1M409.5 695v1M409.5 700v1M409.5 705v1M409.5 710v4M410.5 710v4M411.5 711v2M432.5 678v2M432.5 692v2M432.5 697v2M432.5 702v2M432.5 707v1M433.5 677v4M433.5 691v4M433.5 696v4M433.5 701v4M433.5 706v3M434.5 666v1M434.5 671v1M434.5 677v5M434.5 691v4M434.5 696v4M434.5 701v4M434.5 706v3M435.5 665v3M435.5 670v3M435.5 678v5M435.5 692v2M435.5 697v2M435.5 702v2M435.5 707v1M436.5 664v10M436.5 679v4M437.5 649v2M437.5 654v2M437.5 665v3M437.5 670v3M437.5 680v2M438.5 648v4M438.5 653v4M438.5 666v1M438.5 671v1M439.5 647v11M439.5 676v1M440.5 646v13M440.5 675v3M441.5 645v9M441.5 655v4M441.5 674v4M441.5 683v1M442.5 645v4M442.5 651v2M442.5 656v2M442.5 675v2M442.5 682v3M443.5 645v3M443.5 681v5M444.5 645v2M444.5 682v3M444.5 695v1M445.5 645v1M445.5 683v1M445.5 694v3M446.5 694v3M447.5 695v1M453.5 690v1M453.5 695v1M454.5 689v3M454.5 694v3M454.5 704v2M455.5 688v10M455.5 703v4M456.5 645v1M456.5 649v2M456.5 689v3M456.5 694v3M456.5 704v3M457.5 645v2M457.5 648v4M457.5 690v1M457.5 695v1M457.5 705v1M458.5 645v2M458.5 648v4"/><path stroke="#ffa400" d="M221.5 645v1M221.5 663v2M222.5 645v2M222.5 662v4M223.5 645v2M223.5 656v2M223.5 661v5M224.5 645v1M224.5 655v4M224.5 660v5M225.5 654v5M225.5 660v4M226.5 645v1M226.5 649v2M226.5 653v5M226.5 661v2M227.5 645v2M227.5 648v9M228.5 645v2M228.5 648v3M228.5 653v3M229.5 645v1M229.5 649v1M229.5 654v1M245.5 663v2M246.5 662v4M247.5 652v1M247.5 663v3M248.5 651v3M248.5 664v1M249.5 650v4M250.5 645v1M250.5 649v4M251.5 645v2M251.5 648v4M252.5 645v2M252.5 648v5M252.5 656v2M252.5 661v2M253.5 645v1M253.5 649v5M253.5 655v4M253.5 660v4M254.5 645v1M254.5 649v15M255.5 645v2M255.5 648v15M256.5 645v2M256.5 648v14M257.5 645v1M257.5 649v2M257.5 653v8M258.5 654v6M259.5 655v4M259.5 664v1M260.5 656v2M260.5 663v3M261.5 647v1M261.5 662v4M262.5 646v3M262.5 663v2M263.5 645v5M264.5 646v3M265.5 647v1M278.5 645v1M279.5 645v2M280.5 645v2M281.5 645v1M290.5 724v1M291.5 723v3M292.5 722v5M293.5 645v1M293.5 649v2M293.5 654v2M293.5 723v3M294.5 645v2M294.5 648v4M294.5 653v4M294.5 724v1M295.5 645v2M295.5 648v4M295.5 653v3M296.5 645v1M296.5 649v2M296.5 654v1M298.5 730v1M299.5 729v2M300.5 730v1M302.5 717v1M302.5 721v1M303.5 716v3M303.5 720v3M304.5 715v4M304.5 720v4M305.5 716v2M305.5 721v4M306.5 722v4M307.5 716v2M307.5 721v5M308.5 715v4M308.5 720v5M309.5 715v4M309.5 720v4M310.5 716v2M310.5 721v2M310.5 728v2M311.5 727v4M312.5 728v3M313.5 729v1M314.5 719v1M314.5 724v1M314.5 729v1M315.5 718v3M315.5 723v3M315.5 728v3M316.5 717v14M317.5 718v3M317.5 723v3M317.5 728v2M318.5 719v1M318.5 724v1M319.5 685v2M320.5 684v4M321.5 684v4M322.5 685v2M322.5 692v2M322.5 697v2M322.5 730v1M323.5 691v4M323.5 696v4M323.5 729v2M324.5 680v2M324.5 692v3M324.5 696v3M324.5 728v3M325.5 679v4M325.5 693v1M325.5 697v1M325.5 727v4M326.5 679v4M326.5 688v1M326.5 717v1M326.5 727v4M327.5 680v2M327.5 687v3M327.5 716v3M327.5 728v2M328.5 686v5M328.5 715v4M329.5 685v5M329.5 716v2M329.5 728v2M330.5 684v5M330.5 727v4M331.5 668v2M331.5 673v2M331.5 684v4M331.5 727v4M332.5 667v4M332.5 672v4M332.5 685v2M332.5 728v3M333.5 667v4M333.5 672v4M333.5 690v1M333.5 724v1M333.5 729v2M334.5 668v2M334.5 673v2M334.5 689v3M334.5 723v3M334.5 730v1M335.5 688v5M335.5 722v5M336.5 678v2M336.5 689v3M336.5 723v5M337.5 677v4M337.5 690v1M337.5 724v5M337.5 730v1M338.5 676v5M338.5 725v6M339.5 675v5M339.5 726v5M340.5 674v5M340.5 727v4M341.5 675v3M341.5 687v2M341.5 728v2M342.5 676v1M342.5 686v4M343.5 680v2M343.5 685v5M343.5 695v1M343.5 700v1M344.5 679v4M344.5 684v5M344.5 694v3M344.5 699v3M345.5 679v4M345.5 684v4M345.5 693v9M345.5 726v1M346.5 680v2M346.5 685v2M346.5 694v3M346.5 699v2M346.5 725v3M346.5 730v1M347.5 695v1M347.5 724v7M348.5 725v3M348.5 730v1M349.5 726v1M350.5 712v1M350.5 717v1M350.5 726v1M351.5 711v3M351.5 716v3M351.5 725v3M352.5 710v9M352.5 724v5M353.5 651v2M353.5 656v2M353.5 661v2M353.5 711v3M353.5 716v2M353.5 725v3M354.5 650v4M354.5 655v4M354.5 660v4M354.5 712v1M354.5 726v1M355.5 649v10M355.5 660v4M356.5 648v10M356.5 661v2M356.5 730v1M357.5 648v9M357.5 719v1M357.5 724v1M357.5 729v2M358.5 649v9M358.5 718v3M358.5 723v3M358.5 728v3M359.5 650v9M359.5 717v14M360.5 645v1M360.5 651v8M360.5 718v3M360.5 723v3M360.5 728v3M361.5 645v2M361.5 652v6M361.5 719v1M361.5 724v1M361.5 729v1M362.5 645v2M362.5 653v5M362.5 661v1M362.5 666v1M362.5 724v1M363.5 645v1M363.5 654v5M363.5 660v3M363.5 665v3M363.5 723v3M364.5 655v4M364.5 660v9M364.5 722v5M365.5 656v2M365.5 661v2M365.5 665v3M365.5 673v2M365.5 723v3M366.5 666v1M366.5 672v4M366.5 724v1M367.5 647v1M367.5 656v2M367.5 672v5M367.5 685v2M367.5 728v2M368.5 646v3M368.5 655v4M368.5 673v5M368.5 684v4M368.5 727v4M369.5 645v5M369.5 655v4M369.5 674v4M369.5 684v4M369.5 727v4M370.5 646v3M370.5 656v2M370.5 675v2M370.5 685v2M370.5 728v3M371.5 647v1M371.5 729v2M372.5 685v2M372.5 728v3M373.5 684v4M373.5 727v4M374.5 684v4M374.5 693v1M374.5 726v5M375.5 685v2M375.5 692v3M375.5 725v5M376.5 691v4M376.5 724v5M377.5 675v2M377.5 680v2M377.5 685v2M377.5 690v4M377.5 725v3M378.5 674v4M378.5 679v4M378.5 684v4M378.5 689v4M378.5 726v1M379.5 673v5M379.5 679v4M379.5 684v4M379.5 689v3M379.5 712v1M380.5 672v5M380.5 680v2M380.5 685v2M380.5 690v1M380.5 711v3M381.5 672v4M381.5 710v4M381.5 724v1M382.5 673v2M382.5 685v2M382.5 711v2M382.5 723v3M383.5 684v4M383.5 722v5M384.5 649v2M384.5 654v2M384.5 684v3M384.5 711v2M384.5 721v7M385.5 648v4M385.5 653v4M385.5 685v1M385.5 710v4M385.5 720v9M386.5 648v9M386.5 710v4M386.5 719v5M386.5 725v4M387.5 649v7M387.5 711v2M387.5 718v5M387.5 726v2M388.5 650v5M388.5 683v1M388.5 717v5M389.5 651v5M389.5 682v3M389.5 718v3M389.5 726v2M390.5 652v5M390.5 681v5M390.5 719v1M390.5 725v4M391.5 652v4M391.5 680v5M391.5 690v1M391.5 719v1M391.5 725v3M392.5 651v4M392.5 679v5M392.5 689v3M392.5 718v3M392.5 726v1M393.5 650v4M393.5 659v1M393.5 679v4M393.5 688v5M393.5 717v5M394.5 651v2M394.5 658v3M394.5 673v2M394.5 680v2M394.5 687v7M394.5 697v2M394.5 718v3M395.5 657v5M395.5 672v4M395.5 686v9M395.5 696v4M395.5 719v1M396.5 658v3M396.5 672v3M396.5 687v3M396.5 692v9M396.5 709v2M397.5 659v1M397.5 673v1M397.5 688v1M397.5 693v9M397.5 708v4M398.5 649v1M398.5 659v1M398.5 694v3M398.5 698v4M398.5 708v5M398.5 717v1M399.5 648v3M399.5 658v3M399.5 695v1M399.5 699v2M399.5 709v5M399.5 716v3M400.5 647v5M400.5 657v5M400.5 671v1M400.5 710v10M401.5 646v5M401.5 656v5M401.5 670v3M401.5 711v10M402.5 645v5M402.5 655v5M402.5 669v5M402.5 712v10M403.5 646v3M403.5 654v6M403.5 664v1M403.5 670v3M403.5 692v2M403.5 713v8M404.5 647v1M404.5 653v8M404.5 663v3M404.5 671v1M404.5 691v4M404.5 714v6M405.5 653v13M405.5 671v1M405.5 676v1M405.5 691v4M405.5 715v4M406.5 654v2M406.5 658v3M406.5 663v2M406.5 670v3M406.5 675v3M406.5 685v2M406.5 692v2M406.5 709v2M406.5 716v2M407.5 659v1M407.5 669v10M407.5 684v4M407.5 708v4M408.5 645v1M408.5 649v2M408.5 654v2M408.5 670v3M408.5 675v3M408.5 684v3M408.5 697v2M408.5 702v2M408.5 707v4M408.5 716v2M408.5 721v2M409.5 645v2M409.5 648v4M409.5 653v4M409.5 671v1M409.5 676v1M409.5 685v1M409.5 696v4M409.5 701v4M409.5 706v4M409.5 715v4M409.5 720v4M410.5 645v2M410.5 648v4M410.5 653v4M410.5 696v4M410.5 701v4M410.5 706v3M410.5 715v4M410.5 720v4M411.5 645v1M411.5 649v2M411.5 654v2M411.5 697v2M411.5 702v2M411.5 707v1M411.5 716v2M411.5 721v2M422.5 693v1M422.5 702v1M422.5 707v1M423.5 692v3M423.5 701v3M423.5 706v3M424.5 691v5M424.5 700v10M425.5 685v2M425.5 690v7M425.5 699v5M425.5 706v3M426.5 684v4M426.5 689v14M426.5 707v1M427.5 684v4M427.5 689v3M427.5 694v3M427.5 699v3M428.5 685v2M428.5 690v1M428.5 695v1M428.5 700v1M429.5 647v1M429.5 652v1M429.5 666v1M430.5 646v3M430.5 651v3M430.5 656v2M430.5 661v2M430.5 665v3M430.5 704v2M431.5 645v14M431.5 660v9M431.5 703v4M432.5 646v3M432.5 651v3M432.5 656v3M432.5 660v3M432.5 665v5M432.5 673v2M432.5 683v1M432.5 687v2M432.5 704v3M433.5 647v1M433.5 652v1M433.5 657v1M433.5 661v1M433.5 666v5M433.5 672v4M433.5 682v3M433.5 686v4M433.5 705v1M434.5 667v4M434.5 672v5M434.5 682v9M435.5 668v2M435.5 673v5M435.5 683v9M436.5 659v1M436.5 674v5M436.5 684v9M437.5 658v3M437.5 663v2M437.5 675v3M437.5 685v2M437.5 689v5M437.5 702v2M438.5 657v9M438.5 676v1M438.5 690v5M438.5 701v4M439.5 658v9M439.5 671v1M439.5 680v2M439.5 690v5M439.5 701v3M440.5 659v9M440.5 670v3M440.5 679v4M440.5 689v5M440.5 702v1M441.5 654v1M441.5 659v15M441.5 678v5M441.5 688v5M442.5 649v2M442.5 653v3M442.5 658v17M442.5 677v5M442.5 687v7M443.5 648v33M443.5 686v9M444.5 648v3M444.5 653v3M444.5 658v3M444.5 663v3M444.5 668v3M444.5 672v3M444.5 677v3M444.5 685v10M444.5 699v2M444.5 704v2M445.5 649v1M445.5 654v1M445.5 659v1M445.5 664v1M445.5 669v1M445.5 673v1M445.5 678v1M445.5 684v10M445.5 698v4M445.5 703v4M446.5 684v4M446.5 689v4M446.5 698v4M446.5 703v4M447.5 685v2M447.5 690v2M447.5 699v2M447.5 704v2M449.5 699v2M449.5 704v2M449.5 714v2M450.5 698v4M450.5 703v4M450.5 713v4M451.5 678v1M451.5 688v1M451.5 692v2M451.5 699v3M451.5 703v4M451.5 713v3M452.5 677v3M452.5 687v3M452.5 691v4M452.5 700v1M452.5 704v2M452.5 714v1M453.5 647v1M453.5 677v4M453.5 686v4M453.5 691v4M453.5 700v1M454.5 646v3M454.5 678v4M454.5 685v4M454.5 692v2M454.5 699v3M454.5 709v2M455.5 645v5M455.5 679v4M455.5 684v4M455.5 698v5M455.5 708v4M456.5 646v3M456.5 654v2M456.5 680v3M456.5 684v3M456.5 699v3M456.5 708v3M457.5 647v1M457.5 653v4M457.5 681v1M457.5 685v1M457.5 700v1M457.5 709v1M458.5 653v4M458.5 714v1"/><path stroke="#ff3700" d="M300.5 728v2M301.5 727v4M302.5 727v4M303.5 728v3M304.5 729v2M305.5 730v1M308.5 730v1M309.5 729v2M310.5 730v1M316.5 659v1M317.5 658v3M317.5 663v2M317.5 668v2M317.5 673v2M318.5 657v9M318.5 667v4M318.5 672v4M319.5 647v1M319.5 652v1M319.5 658v3M319.5 663v3M319.5 667v4M319.5 672v5M320.5 646v3M320.5 651v3M320.5 659v1M320.5 664v1M320.5 668v2M320.5 673v5M321.5 645v10M321.5 674v4M321.5 683v1M322.5 646v10M322.5 675v2M322.5 682v3M323.5 647v10M323.5 681v5M324.5 648v3M324.5 653v5M324.5 661v2M324.5 666v2M324.5 682v3M325.5 649v1M325.5 654v5M325.5 660v4M325.5 665v4M325.5 683v1M326.5 645v1M326.5 655v4M326.5 660v4M326.5 665v4M326.5 678v1M327.5 645v2M327.5 656v2M327.5 661v2M327.5 666v2M327.5 677v3M327.5 730v1M328.5 645v2M328.5 676v5M328.5 729v2M329.5 645v1M329.5 651v2M329.5 656v2M329.5 661v2M329.5 677v3M329.5 730v1M330.5 650v4M330.5 655v4M330.5 660v4M330.5 678v1M331.5 649v10M331.5 660v4M332.5 648v10M332.5 661v2M333.5 647v5M333.5 653v4M333.5 666v1M333.5 671v1M334.5 646v5M334.5 654v4M334.5 661v2M334.5 665v3M334.5 670v3M335.5 645v5M335.5 655v4M335.5 660v14M336.5 646v3M336.5 656v3M336.5 660v8M336.5 670v3M337.5 647v1M337.5 657v1M337.5 661v6M337.5 671v1M338.5 647v1M338.5 662v4M339.5 646v3M339.5 663v2M340.5 645v5M340.5 659v1M341.5 645v4M341.5 654v2M341.5 658v3M341.5 663v2M342.5 645v3M342.5 653v13M343.5 645v2M343.5 653v3M343.5 658v3M343.5 663v3M344.5 645v1M344.5 654v1M344.5 659v1M344.5 664v1M369.5 654v1M370.5 653v3M370.5 668v2M370.5 673v2M371.5 652v5M371.5 667v4M371.5 672v4M372.5 651v5M372.5 661v2M372.5 666v9M373.5 650v5M373.5 660v4M373.5 665v9M374.5 649v6M374.5 659v5M374.5 665v4M374.5 670v4M375.5 648v8M375.5 658v5M375.5 666v2M375.5 671v4M376.5 648v14M376.5 672v4M377.5 649v2M377.5 653v3M377.5 658v3M377.5 673v2M378.5 654v1M378.5 659v1M379.5 645v1M379.5 721v2M380.5 645v2M380.5 720v4M381.5 645v2M381.5 720v4M382.5 645v1M382.5 721v2M391.5 724v1M392.5 723v3M393.5 722v5M394.5 723v5M395.5 724v5M396.5 725v5M397.5 726v5M398.5 727v4M399.5 728v3M400.5 729v2M401.5 730v1M405.5 724v1M406.5 723v3M407.5 722v5M408.5 723v3M409.5 724v1M410.5 647v1M410.5 652v1M410.5 657v1M410.5 661v1M410.5 700v1M410.5 719v1M410.5 724v1M411.5 646v3M411.5 651v3M411.5 656v3M411.5 660v3M411.5 699v3M411.5 718v3M411.5 723v3M412.5 645v14M412.5 660v4M412.5 698v5M412.5 717v10M413.5 646v3M413.5 651v3M413.5 656v2M413.5 661v2M413.5 668v2M413.5 699v3M413.5 711v2M413.5 718v3M413.5 723v3M414.5 647v1M414.5 652v1M414.5 667v4M414.5 700v1M414.5 710v4M414.5 719v1M414.5 724v1M415.5 667v5M415.5 676v1M415.5 680v2M415.5 690v1M415.5 695v1M415.5 709v6M415.5 719v1M416.5 668v5M416.5 675v3M416.5 679v4M416.5 689v3M416.5 694v3M416.5 708v8M416.5 718v3M417.5 664v1M417.5 669v9M417.5 679v4M417.5 689v9M417.5 702v1M417.5 707v15M418.5 663v3M418.5 670v3M418.5 675v2M418.5 680v2M418.5 690v2M418.5 694v3M418.5 701v3M418.5 706v15M419.5 662v5M419.5 671v1M419.5 695v1M419.5 700v20M420.5 663v5M420.5 685v2M420.5 690v2M420.5 695v1M420.5 701v3M420.5 706v3M420.5 711v3M420.5 716v3M420.5 728v2M421.5 664v5M421.5 684v4M421.5 689v4M421.5 694v3M421.5 702v1M421.5 707v1M421.5 712v1M421.5 717v1M421.5 727v4M422.5 665v4M422.5 673v1M422.5 678v1M422.5 683v5M422.5 689v4M422.5 694v3M422.5 721v1M422.5 727v4M423.5 666v2M423.5 672v3M423.5 677v3M423.5 682v5M423.5 690v2M423.5 695v1M423.5 720v3M423.5 728v2M424.5 672v14M424.5 720v4M425.5 673v2M425.5 677v3M425.5 682v3M425.5 721v2M426.5 678v1M426.5 683v1M427.5 721v2M427.5 726v1M428.5 720v4M428.5 725v3M429.5 720v4M429.5 725v4M430.5 721v2M430.5 726v2M434.5 709v1M434.5 714v1M434.5 719v1M435.5 708v3M435.5 713v3M435.5 718v3M436.5 708v14M437.5 709v2M437.5 713v10M437.5 726v2M438.5 714v10M438.5 725v4M439.5 715v4M439.5 720v4M439.5 725v5M440.5 716v2M440.5 721v2M440.5 726v5M441.5 727v4M442.5 716v2M442.5 721v2M442.5 728v3M443.5 715v4M443.5 720v4M443.5 729v2M444.5 666v2M444.5 716v3M444.5 720v3M444.5 728v3M445.5 665v4M445.5 717v1M445.5 721v1M445.5 727v4M446.5 645v1M446.5 665v4M446.5 688v1M446.5 693v1M446.5 697v1M446.5 717v1M446.5 721v1M446.5 727v4M447.5 645v2M447.5 666v2M447.5 687v3M447.5 692v3M447.5 696v3M447.5 716v3M447.5 720v3M447.5 728v2M448.5 645v2M448.5 686v9M448.5 696v4M448.5 715v4M448.5 720v4M449.5 645v1M449.5 685v9M449.5 697v2M449.5 716v2M449.5 721v2M450.5 684v9M451.5 664v1M451.5 684v4M451.5 689v3M451.5 721v2M452.5 663v3M452.5 685v2M452.5 690v1M452.5 720v4M452.5 730v1M453.5 662v4M453.5 720v4M453.5 729v2M454.5 663v2M454.5 721v2M454.5 728v3M455.5 727v4M456.5 728v3M457.5 729v1M458.5 666v1"/><path stroke="#ff1200" d="M319.5 656v2M319.5 666v1M319.5 671v1M320.5 655v4M320.5 665v3M320.5 670v3M321.5 655v5M321.5 665v9M321.5 678v1M322.5 656v5M322.5 666v2M322.5 670v5M322.5 677v3M323.5 657v5M323.5 671v10M324.5 658v3M324.5 672v3M324.5 677v3M325.5 659v1M325.5 673v1M325.5 678v1M326.5 649v1M326.5 654v1M326.5 659v1M326.5 664v1M326.5 669v1M326.5 673v1M327.5 648v3M327.5 653v3M327.5 658v3M327.5 663v3M327.5 668v3M327.5 672v3M328.5 647v24M328.5 672v4M329.5 646v5M329.5 653v3M329.5 658v3M329.5 663v3M329.5 668v2M329.5 673v2M330.5 645v5M330.5 654v1M330.5 659v1M330.5 664v1M331.5 645v4M332.5 645v3M333.5 645v2M333.5 652v1M334.5 645v1M334.5 651v3M335.5 650v5M336.5 645v1M336.5 651v3M337.5 645v2M337.5 652v1M338.5 645v2M339.5 645v1M369.5 659v1M369.5 664v1M370.5 645v1M370.5 649v2M370.5 658v3M370.5 663v3M371.5 645v2M371.5 648v4M371.5 657v10M372.5 645v6M372.5 656v5M372.5 663v3M373.5 645v5M373.5 655v5M373.5 664v1M374.5 645v4M374.5 655v4M374.5 664v1M374.5 669v1M375.5 645v3M375.5 656v2M375.5 663v3M375.5 668v3M376.5 645v2M376.5 662v9M377.5 645v1M377.5 651v2M377.5 663v3M377.5 668v2M378.5 650v4M378.5 664v1M379.5 651v3M379.5 726v1M380.5 652v1M380.5 725v3M381.5 725v4M382.5 726v2M391.5 728v2M392.5 727v4M393.5 727v4M394.5 728v3M395.5 729v2M396.5 730v1M403.5 726v1M404.5 725v3M404.5 730v1M405.5 725v6M406.5 726v5M407.5 727v4M408.5 728v3M409.5 729v1M410.5 695v1M410.5 729v1M411.5 694v3M411.5 728v3M412.5 659v1M412.5 693v5M412.5 727v4M413.5 645v1M413.5 649v2M413.5 658v3M413.5 663v2M413.5 673v2M413.5 694v3M413.5 716v2M413.5 721v2M413.5 728v2M414.5 645v2M414.5 648v4M414.5 657v9M414.5 672v4M414.5 695v1M414.5 715v4M414.5 720v4M415.5 645v2M415.5 648v4M415.5 658v9M415.5 672v4M415.5 715v4M415.5 720v5M416.5 645v1M416.5 649v2M416.5 659v9M416.5 673v2M416.5 716v2M416.5 721v5M417.5 654v1M417.5 659v5M417.5 665v4M417.5 722v5M418.5 645v1M418.5 649v2M418.5 653v3M418.5 658v5M418.5 666v4M418.5 697v2M418.5 723v5M418.5 730v1M419.5 645v2M419.5 648v14M419.5 667v4M419.5 696v4M419.5 724v7M420.5 645v18M420.5 668v4M420.5 675v2M420.5 680v2M420.5 696v3M420.5 725v3M420.5 730v1M421.5 645v19M421.5 669v4M421.5 674v4M421.5 679v4M421.5 697v1M421.5 726v1M422.5 645v4M422.5 650v4M422.5 655v4M422.5 660v4M422.5 669v4M422.5 674v4M422.5 679v4M423.5 645v3M423.5 651v2M423.5 656v2M423.5 661v2M423.5 668v4M423.5 675v2M423.5 680v2M423.5 730v1M424.5 645v2M424.5 667v4M424.5 729v2M425.5 645v1M425.5 668v2M425.5 714v2M425.5 723v2M425.5 730v1M426.5 713v4M426.5 722v4M427.5 713v3M427.5 723v3M428.5 714v1M428.5 724v1M428.5 730v1M429.5 729v2M430.5 730v1M432.5 726v2M433.5 725v4M433.5 730v1M434.5 724v7M435.5 723v8M436.5 722v9M437.5 723v3M437.5 728v3M438.5 724v1M438.5 729v2M439.5 730v1M444.5 656v2M445.5 655v4M446.5 649v1M446.5 654v6M446.5 664v1M446.5 669v1M446.5 673v1M446.5 678v1M446.5 683v1M447.5 648v3M447.5 653v8M447.5 663v3M447.5 668v3M447.5 672v3M447.5 677v3M447.5 682v3M448.5 648v23M448.5 672v14M449.5 649v2M449.5 653v3M449.5 658v3M449.5 663v3M449.5 668v2M449.5 673v2M449.5 677v8M450.5 654v1M450.5 659v1M450.5 664v1M450.5 678v6M451.5 645v1M451.5 649v2M451.5 654v1M451.5 659v1M451.5 679v4M452.5 645v2M452.5 648v4M452.5 653v3M452.5 658v3M452.5 680v2M453.5 645v2M453.5 648v4M453.5 653v9M454.5 645v1M454.5 649v2M454.5 654v2M454.5 658v3M455.5 659v1"/><path stroke="#ed0000" d="M319.5 661v2M320.5 660v4M321.5 660v5M322.5 661v5M322.5 668v2M323.5 662v9M324.5 663v3M324.5 668v3M325.5 664v1M325.5 669v1M336.5 649v2M336.5 654v2M336.5 659v1M337.5 648v4M337.5 653v4M337.5 658v3M338.5 648v4M338.5 653v4M338.5 658v3M339.5 649v2M339.5 654v2M339.5 659v1M376.5 647v1M377.5 646v3M378.5 645v5M379.5 646v3M380.5 647v1M380.5 730v1M381.5 729v2M382.5 730v1M410.5 666v1M410.5 671v1M410.5 676v1M410.5 681v1M410.5 685v1M410.5 690v1M411.5 665v3M411.5 670v3M411.5 675v3M411.5 680v3M411.5 684v3M411.5 689v3M412.5 664v19M412.5 684v9M413.5 654v2M413.5 665v3M413.5 670v3M413.5 675v3M413.5 680v2M413.5 685v2M413.5 689v3M413.5 726v2M413.5 730v1M414.5 653v4M414.5 666v1M414.5 671v1M414.5 676v1M414.5 690v1M414.5 725v6M415.5 652v6M415.5 725v6M416.5 651v8M416.5 726v5M417.5 650v4M417.5 655v4M417.5 678v1M417.5 727v4M418.5 651v2M418.5 656v2M418.5 673v2M418.5 677v3M418.5 728v2M419.5 672v9M420.5 672v3M420.5 677v3M421.5 673v1M421.5 678v1M422.5 649v1M422.5 654v1M422.5 659v1M422.5 664v1M422.5 726v1M423.5 648v3M423.5 653v3M423.5 658v3M423.5 663v3M423.5 725v3M424.5 648v19M424.5 719v1M424.5 724v5M425.5 649v2M425.5 653v3M425.5 658v3M425.5 663v3M425.5 718v3M425.5 725v5M426.5 654v1M426.5 659v1M426.5 664v1M426.5 717v5M426.5 726v5M427.5 718v3M427.5 727v4M428.5 719v1M428.5 728v2M444.5 647v1M444.5 651v2M444.5 661v2M445.5 646v3M445.5 650v4M445.5 660v4M446.5 646v3M446.5 650v4M446.5 660v4M446.5 726v1M447.5 647v1M447.5 651v2M447.5 661v2M447.5 725v3M447.5 730v1M448.5 647v1M448.5 671v1M448.5 724v7M449.5 646v3M449.5 651v2M449.5 656v2M449.5 661v2M449.5 666v2M449.5 670v3M449.5 675v2M449.5 725v3M449.5 730v1M450.5 645v9M450.5 655v4M450.5 660v4M450.5 665v13M450.5 726v1M451.5 646v3M451.5 651v3M451.5 655v4M451.5 660v4M451.5 665v3M451.5 670v3M451.5 675v3M452.5 647v1M452.5 652v1M452.5 656v2M452.5 661v2M452.5 666v1M452.5 671v1M452.5 676v1"/><path stroke="#c80000" d="M415.5 647v1M416.5 646v3M417.5 645v5M417.5 683v1M417.5 688v1M418.5 646v3M418.5 682v3M418.5 687v3M418.5 692v2M419.5 647v1M419.5 681v14M420.5 682v3M420.5 687v3M420.5 692v3M421.5 683v1M421.5 688v1M421.5 693v1"/></g></g><g clip-path="url(#cqi)" shape-rendering="crispEdges"><g fill="none" stroke-width="1"><path stroke="#00a4ff" d="M78.5 733v3M79.5 733v2M79.5 817v1M80.5 733v1M80.5 816v3M81.5 738v1M81.5 815v4M82.5 737v3M82.5 816v3M83.5 736v5M83.5 817v1M84.5 737v5M85.5 738v5M86.5 739v4M87.5 740v2M110.5 738v1M111.5 737v3M112.5 736v5M112.5 745v1M113.5 737v3M113.5 744v3M113.5 749v2M114.5 738v1M114.5 743v9M115.5 744v3M115.5 749v3M116.5 745v1M116.5 750v1M125.5 742v2M126.5 741v4M127.5 741v4M128.5 742v2M141.5 740v1M142.5 739v3M143.5 738v5M144.5 737v5M145.5 736v5M145.5 818v1M146.5 736v4M146.5 818v1M147.5 737v2M148.5 733v1M149.5 733v2M150.5 733v3M151.5 733v2M152.5 733v1M163.5 814v2M164.5 813v4M165.5 813v4M166.5 814v2M168.5 814v2M169.5 813v4M170.5 813v4M171.5 814v2M173.5 742v2M173.5 814v2M174.5 741v4M174.5 813v4M175.5 741v4M175.5 812v5M176.5 742v2M176.5 811v5M177.5 738v1M177.5 811v4M178.5 737v3M178.5 812v4M179.5 736v5M179.5 813v4M180.5 737v5M180.5 814v4M181.5 738v5M181.5 815v4M182.5 739v5M182.5 816v3M183.5 740v5M183.5 817v1M184.5 741v4M185.5 742v2M187.5 814v2M188.5 813v4M189.5 813v5M190.5 814v5M191.5 815v4M192.5 814v5M193.5 813v5M194.5 813v5M195.5 814v5M196.5 815v4M197.5 742v2M197.5 747v2M197.5 816v3M198.5 741v4M198.5 746v4M198.5 817v1M199.5 741v4M199.5 746v4M199.5 754v2M199.5 802v2M200.5 742v2M200.5 747v2M200.5 753v4M200.5 801v4M201.5 733v1M201.5 753v4M201.5 800v5M202.5 733v2M202.5 754v2M202.5 795v2M202.5 799v5M203.5 733v3M203.5 794v9M204.5 733v2M204.5 740v2M204.5 794v3M204.5 799v3M205.5 733v1M205.5 739v4M205.5 795v1M205.5 800v1M206.5 733v1M206.5 739v4M207.5 733v2M207.5 740v2M208.5 733v3M209.5 733v2M210.5 733v1M211.5 742v2M211.5 752v1M211.5 805v1M211.5 814v2M212.5 741v4M212.5 751v3M212.5 804v3M212.5 813v4M213.5 741v4M213.5 751v4M213.5 803v5M213.5 813v4M214.5 742v2M214.5 752v2M214.5 804v3M214.5 814v2M215.5 805v1M216.5 747v2M216.5 761v2M217.5 746v4M217.5 760v4M218.5 740v1M218.5 746v4M218.5 760v4M219.5 739v3M219.5 747v2M219.5 761v2M220.5 738v5M221.5 739v3M222.5 740v1M223.5 750v1M223.5 817v1M224.5 749v3M224.5 816v3M225.5 748v5M225.5 815v4M226.5 742v2M226.5 749v5M226.5 816v3M227.5 741v4M227.5 750v5M227.5 817v1M228.5 742v3M228.5 751v3M229.5 743v1M229.5 752v1M230.5 752v1M230.5 810v1M231.5 751v3M231.5 809v3M232.5 750v5M232.5 808v5M233.5 751v3M233.5 809v5M234.5 752v1M234.5 810v5M235.5 811v3M236.5 812v1M242.5 745v1M242.5 759v1M243.5 744v3M243.5 758v3M244.5 743v5M244.5 758v4M245.5 744v3M245.5 759v2M246.5 745v1M247.5 740v1M247.5 802v2M248.5 739v3M248.5 801v4M249.5 739v4M249.5 801v4M250.5 740v2M250.5 802v2M250.5 814v2M251.5 813v4M252.5 749v2M252.5 754v2M252.5 802v2M252.5 814v2M253.5 748v4M253.5 753v4M253.5 801v4M253.5 815v1M254.5 748v9M254.5 801v5M254.5 810v1M255.5 749v7M255.5 802v5M255.5 809v3M256.5 750v5M256.5 803v10M257.5 740v2M257.5 751v3M257.5 804v3M257.5 809v3M258.5 739v4M258.5 752v1M258.5 805v1M259.5 739v3M259.5 814v2M260.5 740v1M260.5 813v4M261.5 750v1M261.5 813v4M262.5 749v3M262.5 814v2M263.5 748v5M264.5 749v3M264.5 814v2M265.5 750v1M265.5 813v4M266.5 764v1M266.5 813v4M267.5 763v3M267.5 814v2M268.5 762v5M269.5 763v3M270.5 764v1M271.5 807v2M272.5 806v4M273.5 733v1M273.5 762v1M273.5 805v5M274.5 733v2M274.5 747v2M274.5 761v3M274.5 804v5M275.5 733v3M275.5 746v4M275.5 760v5M275.5 803v5M276.5 733v2M276.5 746v3M276.5 761v3M276.5 804v3M276.5 812v2M277.5 733v1M277.5 747v1M277.5 762v1M277.5 805v1M277.5 811v4M278.5 733v1M278.5 810v6M279.5 733v2M279.5 809v8M280.5 733v3M280.5 808v9M281.5 733v2M281.5 754v2M281.5 809v3M281.5 814v2M282.5 733v1M282.5 753v4M282.5 810v1M283.5 753v4M284.5 754v2M285.5 812v1M286.5 811v3M287.5 810v5M288.5 742v2M288.5 811v5M289.5 741v4M289.5 812v5M289.5 818v1M290.5 741v4M290.5 813v4M290.5 818v1M291.5 742v2M291.5 814v2M295.5 740v1M295.5 812v1M296.5 739v3M296.5 811v3M297.5 739v4M297.5 752v1M297.5 811v4M298.5 740v2M298.5 751v3M298.5 812v2M299.5 750v5M300.5 749v5M301.5 748v5M302.5 743v1M302.5 748v4M302.5 810v1M303.5 742v3M303.5 749v2M303.5 809v3M304.5 741v4M304.5 808v5M305.5 742v2M305.5 807v5M306.5 806v4M307.5 747v2M307.5 805v5M308.5 746v4M308.5 804v5M309.5 746v4M309.5 803v5M310.5 747v2M310.5 802v7M311.5 801v9M312.5 802v2M312.5 806v3M313.5 803v1M313.5 807v1M314.5 755v1M315.5 754v3M316.5 733v1M316.5 753v4M317.5 733v2M317.5 754v2M317.5 814v2M318.5 733v3M318.5 813v4M319.5 733v2M319.5 750v1M319.5 807v2M319.5 813v4M320.5 733v1M320.5 749v3M320.5 806v4M320.5 814v2M321.5 748v4M321.5 806v4M322.5 749v2M322.5 807v2M326.5 752v1M326.5 757v1M327.5 751v3M327.5 756v3M327.5 818v1M328.5 745v1M328.5 750v10M328.5 818v1M329.5 740v2M329.5 744v3M329.5 751v3M329.5 756v3M329.5 802v2M330.5 739v9M330.5 752v1M330.5 757v1M330.5 801v4M331.5 739v8M331.5 801v4M332.5 740v6M332.5 802v2M332.5 818v1M333.5 741v4M333.5 812v1M333.5 818v1M334.5 742v2M334.5 754v2M334.5 811v3M335.5 753v4M335.5 810v5M336.5 742v2M336.5 754v3M336.5 811v3M337.5 741v4M337.5 755v1M337.5 812v1M338.5 741v4M338.5 759v1M338.5 807v1M339.5 742v2M339.5 758v3M339.5 806v3M340.5 758v4M340.5 806v4M341.5 759v2M341.5 800v2M341.5 807v2M342.5 799v4M343.5 769v1M343.5 799v5M344.5 768v3M344.5 800v5M345.5 767v5M345.5 801v4M346.5 768v3M346.5 802v2M347.5 769v1M348.5 788v2M349.5 787v4M350.5 757v1M350.5 787v4M350.5 810v1M351.5 756v3M351.5 788v2M351.5 809v3M352.5 755v5M352.5 808v5M353.5 756v3M353.5 788v2M353.5 797v2M353.5 807v7M354.5 757v1M354.5 787v4M354.5 796v4M354.5 806v9M355.5 742v2M355.5 787v3M355.5 797v3M355.5 805v5M355.5 811v3M356.5 741v4M356.5 788v1M356.5 798v1M356.5 804v4M356.5 812v1M357.5 740v5M357.5 798v1M357.5 803v4M357.5 812v1M358.5 739v5M358.5 783v2M358.5 797v3M358.5 804v3M358.5 811v3M359.5 738v5M359.5 782v4M359.5 796v5M359.5 810v5M360.5 733v1M360.5 739v3M360.5 782v3M360.5 797v3M360.5 809v5M361.5 733v2M361.5 740v1M361.5 783v1M361.5 798v1M361.5 808v5M362.5 733v2M362.5 783v1M362.5 798v1M362.5 808v4M362.5 817v1M363.5 733v1M363.5 782v3M363.5 797v3M363.5 809v2M363.5 816v3M364.5 757v1M364.5 782v4M364.5 796v5M364.5 815v4M365.5 752v2M365.5 756v3M365.5 783v2M365.5 797v2M365.5 809v2M365.5 816v3M366.5 751v9M366.5 808v4M366.5 817v1M367.5 751v3M367.5 756v3M367.5 788v1M367.5 793v1M367.5 802v2M367.5 809v3M368.5 752v1M368.5 757v1M368.5 787v3M368.5 792v3M368.5 801v4M368.5 810v1M369.5 787v8M369.5 801v4M369.5 810v1M370.5 771v2M370.5 788v2M370.5 792v3M370.5 802v2M370.5 809v3M371.5 770v4M371.5 808v5M372.5 745v1M372.5 749v2M372.5 770v3M372.5 809v3M373.5 744v3M373.5 748v4M373.5 771v1M373.5 810v1M374.5 744v3M374.5 748v4M375.5 745v1M375.5 749v2M376.5 769v1M377.5 768v3M378.5 767v5M379.5 757v1M379.5 766v5M380.5 756v3M380.5 765v5M381.5 755v5M381.5 765v4M382.5 756v5M382.5 766v2M383.5 757v5M384.5 758v3M385.5 759v1M386.5 803v1M387.5 802v3M388.5 801v4M389.5 747v2M389.5 752v2M389.5 766v2M389.5 802v2M390.5 746v4M390.5 751v4M390.5 765v4M391.5 745v9M391.5 765v4M391.5 807v2M391.5 812v1M392.5 744v9M392.5 766v2M392.5 806v4M392.5 811v3M393.5 743v9M393.5 806v4M393.5 811v4M394.5 744v3M394.5 749v2M394.5 807v2M394.5 812v2M395.5 745v1M396.5 735v2M396.5 793v1M397.5 734v4M397.5 792v3M398.5 734v4M398.5 776v1M398.5 781v1M398.5 792v3M399.5 735v2M399.5 775v3M399.5 780v3M399.5 793v1M400.5 745v1M400.5 774v10M401.5 744v3M401.5 775v3M401.5 780v3M402.5 743v5M402.5 776v1M402.5 781v1M403.5 744v3M403.5 757v1M403.5 810v1M404.5 745v1M404.5 756v3M404.5 808v4M405.5 755v4M405.5 788v1M405.5 793v1M405.5 808v4M406.5 756v3M406.5 787v3M406.5 792v3M406.5 809v2M407.5 786v10M408.5 756v2M408.5 787v3M408.5 792v3M409.5 756v3M409.5 788v1M409.5 793v1M410.5 756v3M410.5 812v1M411.5 757v1M411.5 811v3M412.5 781v1M412.5 810v5M413.5 766v2M413.5 780v3M413.5 811v3M414.5 765v4M414.5 779v5M414.5 812v1M415.5 745v1M415.5 750v1M415.5 764v5M415.5 774v1M415.5 778v5M415.5 788v1M415.5 793v1M415.5 802v2M416.5 744v3M416.5 748v4M416.5 763v5M416.5 773v3M416.5 777v5M416.5 787v3M416.5 792v3M416.5 801v4M417.5 743v9M417.5 757v1M417.5 763v4M417.5 772v4M417.5 777v4M417.5 787v8M417.5 801v4M418.5 744v7M418.5 756v3M418.5 764v2M418.5 773v2M418.5 778v2M418.5 788v2M418.5 792v3M418.5 802v2M419.5 745v5M419.5 755v5M420.5 746v3M420.5 756v3M421.5 747v1M421.5 757v1M422.5 747v1M422.5 771v1M422.5 781v1M423.5 746v3M423.5 770v3M423.5 780v3M424.5 746v4M424.5 770v4M424.5 779v5M425.5 747v2M425.5 771v2M425.5 780v5M426.5 781v5M427.5 782v4M427.5 810v1M428.5 783v1M428.5 809v3M429.5 769v1M429.5 774v1M429.5 808v4M430.5 768v3M430.5 773v3M430.5 807v4M431.5 767v10M431.5 806v4M432.5 757v1M432.5 761v2M432.5 768v3M432.5 773v3M432.5 790v2M432.5 806v3M433.5 756v3M433.5 760v4M433.5 769v1M433.5 774v1M433.5 789v4M433.5 807v1M434.5 756v3M434.5 760v4M434.5 789v4M435.5 757v1M435.5 761v2M435.5 790v2M437.5 742v2M437.5 752v2M437.5 800v2M438.5 741v4M438.5 751v4M438.5 799v4M439.5 735v2M439.5 741v4M439.5 751v3M439.5 798v4M439.5 807v2M440.5 734v4M440.5 742v2M440.5 752v1M440.5 797v4M440.5 806v4M441.5 734v4M441.5 796v4M441.5 806v4M442.5 735v2M442.5 797v2M442.5 807v2M444.5 745v1M444.5 788v2M444.5 812v2M445.5 744v3M445.5 787v4M445.5 811v4M446.5 744v3M446.5 787v4M446.5 811v5M447.5 745v1M447.5 788v2M447.5 812v5M448.5 769v1M448.5 813v4M449.5 754v2M449.5 768v3M449.5 783v2M449.5 814v2M450.5 753v4M450.5 767v5M450.5 782v4M451.5 753v5M451.5 762v1M451.5 768v3M451.5 782v4M452.5 754v5M452.5 760v4M452.5 769v1M452.5 783v2M453.5 755v4M453.5 760v4M454.5 756v3M454.5 761v2M458.5 769v1M458.5 788v1"/><path stroke="#00edff" d="M78.5 736v4M78.5 741v4M78.5 746v9M78.5 813v5M79.5 737v3M79.5 741v4M79.5 746v8M79.5 812v5M80.5 738v1M80.5 742v2M80.5 747v6M80.5 811v5M81.5 748v4M81.5 811v4M82.5 747v4M82.5 812v2M83.5 746v4M84.5 745v4M85.5 744v4M86.5 743v4M87.5 742v4M88.5 741v4M89.5 735v2M89.5 740v4M89.5 749v2M90.5 734v4M90.5 739v4M90.5 748v4M91.5 733v5M91.5 739v5M91.5 747v6M91.5 814v2M92.5 733v4M92.5 740v5M92.5 746v8M92.5 813v4M93.5 733v3M93.5 741v4M93.5 746v4M93.5 751v4M93.5 813v4M94.5 733v2M94.5 742v2M94.5 747v2M94.5 752v2M94.5 814v2M95.5 733v1M96.5 737v2M97.5 736v4M98.5 736v4M98.5 755v1M98.5 817v1M99.5 737v2M99.5 754v3M99.5 816v3M100.5 753v5M100.5 815v4M101.5 754v5M101.5 809v2M101.5 814v5M102.5 755v5M102.5 808v4M102.5 813v5M103.5 750v1M103.5 754v5M103.5 809v9M104.5 749v3M104.5 753v5M104.5 810v9M105.5 748v4M105.5 753v4M105.5 811v8M106.5 742v2M106.5 747v4M106.5 754v2M106.5 812v2M106.5 816v3M107.5 741v4M107.5 746v4M107.5 817v1M108.5 740v5M108.5 746v5M108.5 817v1M109.5 739v5M109.5 747v5M109.5 816v3M110.5 739v4M110.5 748v4M110.5 816v3M111.5 740v2M111.5 749v2M111.5 817v2M112.5 818v1M115.5 738v1M115.5 742v2M115.5 814v2M116.5 737v3M116.5 741v4M116.5 813v4M117.5 736v4M117.5 741v5M117.5 812v6M118.5 737v2M118.5 742v5M118.5 811v8M119.5 743v5M119.5 810v9M120.5 733v1M120.5 737v2M120.5 744v3M120.5 811v8M121.5 733v2M121.5 736v4M121.5 745v1M121.5 812v7M122.5 733v2M122.5 736v4M122.5 745v1M122.5 750v1M122.5 812v7M123.5 733v1M123.5 737v2M123.5 744v3M123.5 749v3M123.5 811v8M124.5 743v10M124.5 810v9M125.5 737v2M125.5 744v8M125.5 811v8M126.5 736v4M126.5 745v6M126.5 812v6M127.5 737v3M127.5 745v6M127.5 812v6M128.5 738v1M128.5 744v8M128.5 811v8M129.5 738v1M129.5 743v9M129.5 811v8M130.5 737v3M130.5 742v5M130.5 749v2M130.5 812v7M131.5 736v10M131.5 813v5M132.5 737v3M132.5 742v3M132.5 807v2M132.5 812v5M133.5 738v1M133.5 743v1M133.5 806v4M133.5 811v5M134.5 806v4M134.5 811v4M135.5 807v2M135.5 812v2M136.5 817v1M137.5 812v2M137.5 816v3M138.5 811v8M139.5 810v9M140.5 809v9M141.5 745v1M141.5 808v4M141.5 813v4M142.5 744v3M142.5 809v2M142.5 814v2M143.5 743v5M144.5 744v3M144.5 752v2M145.5 745v1M145.5 751v4M146.5 735v1M146.5 751v4M147.5 734v3M147.5 752v2M148.5 734v4M149.5 735v2M149.5 742v2M149.5 814v2M150.5 741v4M150.5 813v4M151.5 740v6M151.5 813v4M152.5 739v8M152.5 814v2M153.5 738v10M154.5 737v12M155.5 736v14M156.5 737v3M156.5 742v3M156.5 746v3M156.5 817v1M157.5 738v1M157.5 743v1M157.5 747v1M157.5 816v3M158.5 743v1M158.5 810v1M158.5 816v3M159.5 742v3M159.5 809v3M159.5 817v1M160.5 741v5M160.5 808v5M161.5 740v7M161.5 807v5M162.5 739v9M162.5 806v5M163.5 738v4M163.5 744v5M163.5 806v4M164.5 737v4M164.5 745v5M164.5 807v2M165.5 736v4M165.5 745v5M165.5 812v1M166.5 737v2M166.5 744v5M166.5 811v3M167.5 743v5M167.5 810v5M168.5 744v5M168.5 811v3M169.5 745v5M169.5 812v1M170.5 735v1M170.5 740v1M170.5 746v4M170.5 812v1M171.5 734v3M171.5 739v3M171.5 747v2M171.5 811v3M172.5 734v9M172.5 810v5M173.5 735v2M173.5 739v3M173.5 811v3M174.5 740v1M174.5 812v1M178.5 747v2M179.5 746v4M180.5 746v3M181.5 747v1M187.5 738v1M188.5 737v3M189.5 736v5M189.5 812v1M190.5 737v5M190.5 802v2M190.5 811v3M191.5 738v5M191.5 801v4M191.5 810v5M192.5 739v5M192.5 752v2M192.5 800v5M192.5 811v3M193.5 740v5M193.5 751v4M193.5 799v5M193.5 812v1M194.5 735v1M194.5 741v4M194.5 750v5M194.5 793v1M194.5 799v4M195.5 734v3M195.5 742v2M195.5 749v5M195.5 792v3M195.5 800v2M196.5 734v4M196.5 748v5M196.5 791v5M197.5 735v2M197.5 749v5M197.5 792v3M198.5 750v5M198.5 793v1M199.5 751v3M199.5 793v1M200.5 752v1M200.5 792v3M201.5 791v5M202.5 792v3M203.5 793v1M204.5 773v2M205.5 772v4M206.5 772v4M206.5 791v1M206.5 795v1M207.5 773v2M207.5 790v3M207.5 794v3M208.5 789v9M209.5 790v7M210.5 791v5M211.5 762v1M211.5 792v5M212.5 761v3M212.5 793v5M213.5 760v4M213.5 794v5M214.5 761v2M214.5 795v5M215.5 796v5M216.5 797v3M217.5 798v1M218.5 759v1M218.5 769v1M219.5 758v3M219.5 768v3M220.5 758v4M220.5 767v5M220.5 805v1M221.5 759v2M221.5 768v3M221.5 804v3M222.5 769v1M222.5 803v5M223.5 804v3M224.5 805v1M228.5 764v2M228.5 793v1M228.5 797v2M229.5 763v4M229.5 792v3M229.5 796v4M230.5 762v6M230.5 791v4M230.5 796v4M231.5 761v8M231.5 790v4M231.5 797v2M232.5 760v9M232.5 789v4M233.5 761v3M233.5 766v2M233.5 790v2M234.5 762v1M235.5 805v1M236.5 804v3M237.5 783v1M237.5 803v5M237.5 817v1M238.5 783v2M238.5 804v3M238.5 816v3M239.5 782v4M239.5 805v1M239.5 815v4M240.5 782v3M240.5 816v3M241.5 783v1M241.5 817v1M242.5 788v1M243.5 787v3M244.5 786v5M245.5 766v2M245.5 787v5M245.5 795v2M246.5 765v4M246.5 788v5M246.5 794v4M247.5 765v4M247.5 789v9M248.5 766v2M248.5 790v7M249.5 762v1M249.5 791v5M250.5 761v3M250.5 792v5M251.5 760v5M251.5 793v5M252.5 761v5M252.5 794v3M253.5 762v5M253.5 795v1M254.5 763v4M255.5 764v2M257.5 797v2M258.5 796v4M259.5 797v3M260.5 798v1M261.5 788v1M261.5 798v1M262.5 759v2M262.5 787v3M262.5 797v3M263.5 758v4M263.5 786v5M263.5 796v5M264.5 758v5M264.5 766v2M264.5 787v3M264.5 797v3M265.5 759v5M265.5 765v4M265.5 788v1M265.5 798v1M266.5 760v4M266.5 765v4M266.5 783v1M266.5 798v1M267.5 761v2M267.5 766v2M267.5 782v3M267.5 797v3M268.5 782v4M268.5 796v5M269.5 766v2M269.5 783v2M269.5 797v3M270.5 765v4M271.5 765v4M271.5 793v1M272.5 766v2M272.5 792v3M273.5 791v5M274.5 766v2M274.5 792v5M275.5 765v4M275.5 793v5M276.5 766v3M276.5 794v3M277.5 767v1M277.5 795v1M285.5 769v1M286.5 768v3M287.5 767v5M288.5 768v3M288.5 800v2M289.5 769v1M289.5 799v4M290.5 799v5M291.5 800v5M292.5 801v5M293.5 802v5M294.5 803v5M295.5 769v1M295.5 804v3M296.5 768v3M296.5 805v1M297.5 762v1M297.5 767v5M298.5 761v3M298.5 768v3M298.5 795v2M299.5 760v5M299.5 769v1M299.5 794v4M300.5 761v3M300.5 794v5M301.5 762v1M301.5 795v5M302.5 752v1M302.5 767v1M302.5 796v4M303.5 751v3M303.5 766v3M303.5 797v2M304.5 750v5M304.5 765v4M305.5 751v3M305.5 766v2M306.5 752v1M307.5 790v2M307.5 800v1M308.5 789v4M308.5 799v3M309.5 764v1M309.5 789v4M309.5 799v4M310.5 763v3M310.5 790v2M310.5 800v2M311.5 762v5M312.5 763v3M313.5 764v1M314.5 788v1M314.5 798v1M315.5 787v3M315.5 797v3M316.5 786v5M316.5 796v5M317.5 787v3M317.5 797v3M318.5 788v1M319.5 774v1M319.5 778v2M319.5 798v1M320.5 773v3M320.5 777v4M320.5 797v3M321.5 762v1M321.5 772v4M321.5 777v4M321.5 796v4M322.5 761v3M322.5 766v2M322.5 773v2M322.5 778v2M322.5 797v2M323.5 760v9M324.5 761v8M324.5 783v2M324.5 807v2M324.5 812v2M325.5 762v6M325.5 782v4M325.5 806v4M325.5 811v4M326.5 763v4M326.5 782v4M326.5 795v1M326.5 806v4M326.5 811v4M327.5 764v2M327.5 783v2M327.5 794v3M327.5 807v2M327.5 812v2M328.5 794v4M329.5 795v2M331.5 795v2M331.5 814v2M332.5 794v4M332.5 813v4M333.5 745v1M333.5 794v4M333.5 813v4M334.5 744v3M334.5 795v2M334.5 814v2M335.5 743v5M336.5 744v3M336.5 752v2M336.5 757v1M336.5 795v2M337.5 745v1M337.5 751v4M337.5 756v3M337.5 794v4M338.5 751v4M338.5 756v3M338.5 764v1M338.5 794v4M339.5 752v2M339.5 757v1M339.5 763v3M339.5 795v2M340.5 762v5M341.5 763v3M341.5 785v2M342.5 764v1M342.5 784v4M343.5 774v1M343.5 785v3M344.5 773v3M344.5 786v1M345.5 772v4M345.5 781v1M345.5 786v1M345.5 800v1M346.5 771v4M346.5 780v3M346.5 785v3M346.5 799v3M347.5 770v4M347.5 779v10M347.5 798v5M348.5 770v3M348.5 780v3M348.5 785v3M348.5 799v3M348.5 812v2M349.5 771v1M349.5 781v1M349.5 786v1M349.5 800v1M349.5 811v4M350.5 776v1M350.5 781v1M350.5 805v1M350.5 811v3M351.5 775v3M351.5 780v3M351.5 804v3M351.5 812v1M352.5 774v10M352.5 803v5M353.5 775v10M353.5 804v3M354.5 776v10M354.5 805v1M355.5 777v4M355.5 782v4M356.5 778v2M356.5 783v2M357.5 764v1M357.5 769v1M358.5 763v3M358.5 768v3M359.5 762v10M360.5 761v10M361.5 760v10M362.5 760v9M363.5 761v7M364.5 762v5M364.5 781v1M365.5 763v3M365.5 776v2M365.5 780v3M366.5 764v1M366.5 775v9M367.5 775v8M368.5 776v6M369.5 776v5M370.5 775v5M371.5 774v5M372.5 775v3M372.5 788v2M373.5 776v1M373.5 787v4M374.5 787v3M375.5 788v1M379.5 781v1M380.5 780v3M381.5 774v1M381.5 779v4M382.5 773v3M382.5 780v3M383.5 772v5M384.5 771v7M384.5 785v2M385.5 770v9M385.5 784v4M386.5 770v4M386.5 775v3M386.5 784v4M386.5 793v1M387.5 771v2M387.5 776v1M387.5 785v2M387.5 792v3M388.5 791v5M389.5 771v2M389.5 792v3M390.5 770v4M390.5 793v1M391.5 770v4M392.5 771v1M401.5 778v2M401.5 783v2M402.5 777v4M402.5 782v4M403.5 771v2M403.5 777v9M404.5 770v4M404.5 778v7M405.5 740v1M405.5 770v5M405.5 779v5M406.5 739v3M406.5 771v5M406.5 780v3M407.5 738v5M407.5 772v5M407.5 781v1M408.5 739v3M408.5 773v3M409.5 740v1M409.5 774v1M410.5 754v2M410.5 759v1M411.5 753v4M411.5 758v3M412.5 753v4M412.5 758v4M413.5 754v2M413.5 759v2M417.5 786v1M418.5 785v3M419.5 784v5M420.5 785v3M421.5 786v1M424.5 769v1M425.5 768v3M426.5 767v5M427.5 768v3M428.5 769v1M429.5 793v1M430.5 792v3M431.5 791v5M432.5 737v2M432.5 747v2M432.5 792v3M433.5 736v4M433.5 746v4M433.5 793v1M434.5 736v4M434.5 746v4M435.5 737v2M435.5 747v2M437.5 809v2M438.5 808v4M439.5 788v1M439.5 809v3M440.5 787v3M440.5 810v1M441.5 787v4M442.5 788v2M451.5 742v2M452.5 741v4M453.5 740v5M453.5 759v1M454.5 739v5M454.5 759v2M455.5 738v5M455.5 757v5M456.5 739v3M456.5 758v3M457.5 740v1M457.5 759v1M458.5 759v1"/><path stroke="#00c8ff" d="M78.5 740v1M78.5 745v1M79.5 735v2M79.5 740v1M79.5 745v1M80.5 734v4M80.5 739v3M80.5 744v3M81.5 734v4M81.5 739v9M82.5 735v2M82.5 740v7M82.5 814v2M83.5 741v5M83.5 813v4M84.5 742v3M84.5 814v3M85.5 743v1M85.5 815v1M86.5 810v1M87.5 809v3M88.5 745v1M88.5 808v5M89.5 744v3M89.5 809v5M90.5 743v5M90.5 810v5M91.5 744v3M91.5 811v3M92.5 745v1M92.5 812v1M93.5 740v1M94.5 735v2M94.5 739v3M95.5 734v9M96.5 733v4M96.5 739v3M97.5 733v3M97.5 740v1M97.5 818v1M98.5 733v2M98.5 818v1M99.5 733v1M101.5 737v2M102.5 736v4M102.5 818v1M103.5 737v3M103.5 818v1M104.5 738v1M106.5 814v2M107.5 813v4M108.5 745v1M108.5 812v5M109.5 744v3M109.5 811v5M110.5 743v4M110.5 810v6M111.5 742v4M111.5 809v8M112.5 741v4M112.5 808v9M113.5 742v2M113.5 807v9M114.5 806v9M115.5 747v2M115.5 806v4M115.5 811v3M116.5 746v4M116.5 807v2M116.5 812v1M117.5 746v4M118.5 747v2M129.5 810v1M130.5 809v3M131.5 808v5M132.5 809v3M133.5 810v1M134.5 815v1M135.5 814v3M136.5 813v4M137.5 814v2M139.5 738v1M140.5 737v3M141.5 736v4M141.5 812v1M141.5 817v1M142.5 737v2M142.5 811v3M142.5 816v3M143.5 810v9M144.5 742v2M144.5 811v3M144.5 816v3M145.5 741v4M145.5 812v1M145.5 817v1M146.5 741v5M146.5 817v1M147.5 742v5M147.5 816v3M148.5 743v5M148.5 815v4M149.5 744v5M149.5 752v2M149.5 816v3M150.5 745v5M150.5 751v4M150.5 817v2M151.5 746v4M151.5 751v3M151.5 818v1M152.5 747v2M152.5 752v1M154.5 814v2M155.5 813v4M156.5 735v2M156.5 802v2M156.5 812v5M157.5 734v4M157.5 801v4M157.5 811v5M158.5 734v5M158.5 747v1M158.5 801v4M158.5 811v4M159.5 735v5M159.5 746v3M159.5 802v2M159.5 812v2M160.5 736v5M160.5 746v4M161.5 735v5M161.5 747v2M161.5 812v2M162.5 734v5M162.5 811v4M163.5 733v5M163.5 811v3M164.5 733v4M164.5 812v1M165.5 733v3M166.5 733v2M167.5 733v1M168.5 742v2M168.5 809v2M169.5 741v4M169.5 808v4M170.5 741v4M170.5 808v4M171.5 742v2M171.5 809v2M173.5 747v2M174.5 746v4M175.5 745v5M176.5 744v5M177.5 743v5M177.5 810v1M178.5 744v3M178.5 809v3M179.5 745v1M179.5 808v5M180.5 745v1M180.5 809v5M181.5 744v3M181.5 810v5M182.5 744v4M182.5 805v1M182.5 810v5M183.5 745v4M183.5 804v3M183.5 809v5M184.5 745v5M184.5 803v10M185.5 744v5M185.5 802v12M186.5 743v5M186.5 801v14M187.5 742v5M187.5 801v9M187.5 811v3M188.5 741v5M188.5 802v7M188.5 812v1M189.5 741v5M189.5 803v5M190.5 735v2M190.5 742v5M190.5 804v3M191.5 734v4M191.5 743v5M191.5 805v1M192.5 733v4M192.5 744v3M192.5 805v1M192.5 809v2M193.5 733v3M193.5 745v1M193.5 804v3M193.5 808v4M194.5 733v2M194.5 740v1M194.5 798v1M194.5 803v4M194.5 808v5M195.5 733v1M195.5 739v3M195.5 797v3M195.5 802v4M195.5 809v5M196.5 738v5M196.5 796v9M196.5 810v5M197.5 737v5M197.5 797v7M197.5 811v3M198.5 736v5M198.5 798v5M198.5 812v1M199.5 737v3M199.5 799v3M200.5 738v1M200.5 800v1M206.5 800v1M206.5 805v1M206.5 810v1M207.5 799v3M207.5 804v3M207.5 809v3M208.5 798v15M209.5 797v5M209.5 804v3M209.5 809v3M210.5 796v5M210.5 805v1M210.5 810v1M211.5 757v1M211.5 797v3M212.5 756v3M212.5 798v1M213.5 755v5M214.5 756v3M215.5 757v1M218.5 755v1M219.5 754v3M220.5 753v4M221.5 747v2M221.5 754v2M221.5 790v2M221.5 795v2M221.5 800v2M221.5 809v2M222.5 746v4M222.5 789v4M222.5 794v4M222.5 799v4M222.5 808v4M223.5 746v4M223.5 789v4M223.5 794v4M223.5 799v3M223.5 809v3M224.5 747v2M224.5 790v2M224.5 795v2M224.5 800v1M224.5 810v1M225.5 757v1M225.5 800v1M226.5 756v3M226.5 799v3M227.5 755v5M227.5 798v5M228.5 756v3M228.5 799v3M228.5 812v2M229.5 757v1M229.5 800v1M229.5 811v4M230.5 811v4M231.5 812v2M232.5 817v1M233.5 759v2M233.5 807v2M233.5 816v3M234.5 758v4M234.5 806v4M234.5 815v4M235.5 758v4M235.5 800v1M235.5 806v5M235.5 816v3M236.5 759v2M236.5 799v3M236.5 807v5M236.5 817v1M237.5 799v4M237.5 808v4M238.5 800v2M238.5 809v2M240.5 752v2M240.5 761v2M240.5 790v2M240.5 814v2M241.5 751v4M241.5 760v4M241.5 789v4M241.5 813v4M242.5 751v4M242.5 760v5M242.5 789v5M242.5 798v1M242.5 803v1M242.5 813v5M243.5 752v2M243.5 761v5M243.5 790v5M243.5 797v3M243.5 802v3M243.5 814v5M244.5 762v5M244.5 791v15M244.5 815v4M245.5 761v5M245.5 792v3M245.5 797v3M245.5 802v5M245.5 814v5M246.5 760v5M246.5 793v1M246.5 798v1M246.5 803v5M246.5 813v5M247.5 750v1M247.5 761v3M247.5 804v3M247.5 812v5M248.5 749v3M248.5 762v1M248.5 805v1M248.5 811v5M249.5 748v5M249.5 811v4M250.5 749v5M250.5 766v2M250.5 812v2M251.5 750v5M251.5 765v4M252.5 751v3M252.5 766v3M253.5 752v1M253.5 767v1M254.5 757v1M254.5 800v1M255.5 756v3M255.5 799v3M256.5 755v5M256.5 798v5M257.5 749v2M257.5 754v5M257.5 799v5M258.5 748v4M258.5 753v5M258.5 800v5M259.5 749v8M259.5 801v5M260.5 750v6M260.5 802v5M261.5 751v4M261.5 803v4M262.5 752v2M262.5 804v3M263.5 805v1M266.5 803v1M267.5 801v4M268.5 757v1M268.5 801v4M269.5 752v2M269.5 756v3M269.5 802v2M269.5 809v2M270.5 751v9M270.5 808v4M271.5 751v3M271.5 756v3M271.5 764v1M271.5 769v1M271.5 809v3M272.5 752v1M272.5 757v1M272.5 763v3M272.5 768v3M272.5 810v1M273.5 763v9M274.5 764v2M274.5 768v3M274.5 790v2M275.5 769v1M275.5 789v4M276.5 764v2M276.5 790v2M276.5 797v2M277.5 763v4M277.5 791v1M277.5 796v4M278.5 757v1M278.5 762v5M278.5 796v4M279.5 756v3M279.5 761v5M279.5 797v2M280.5 755v10M281.5 756v8M281.5 797v2M281.5 802v2M282.5 757v6M282.5 796v4M282.5 801v4M283.5 758v4M283.5 795v5M283.5 801v4M284.5 759v2M284.5 794v5M284.5 802v2M285.5 794v4M286.5 795v2M288.5 747v2M289.5 746v4M290.5 746v4M290.5 755v1M290.5 798v1M291.5 747v2M291.5 754v3M291.5 797v3M292.5 753v5M292.5 796v5M293.5 754v5M293.5 797v3M294.5 755v5M294.5 798v1M295.5 750v1M295.5 756v3M296.5 749v3M296.5 757v1M297.5 748v4M297.5 805v1M298.5 742v2M298.5 749v2M298.5 804v3M299.5 741v4M299.5 803v5M300.5 740v5M300.5 802v5M301.5 739v5M301.5 801v5M302.5 739v4M302.5 801v4M302.5 815v1M303.5 740v2M303.5 802v2M303.5 813v4M304.5 813v4M305.5 814v2M312.5 790v2M313.5 789v4M314.5 789v4M314.5 803v1M315.5 790v2M315.5 801v4M316.5 757v1M316.5 801v4M317.5 756v3M317.5 790v2M317.5 802v2M318.5 755v5M318.5 789v4M319.5 754v5M319.5 789v4M319.5 802v2M320.5 753v5M320.5 790v2M320.5 801v4M321.5 753v4M321.5 795v1M321.5 801v5M322.5 754v2M322.5 795v2M322.5 802v5M323.5 794v4M323.5 803v5M324.5 794v3M324.5 804v3M325.5 795v1M325.5 805v1M326.5 762v1M327.5 761v3M328.5 760v5M329.5 754v2M329.5 761v3M329.5 812v2M330.5 753v4M330.5 762v1M330.5 811v4M331.5 753v4M331.5 811v3M332.5 754v2M332.5 812v1M333.5 750v1M334.5 735v2M334.5 749v3M335.5 734v4M335.5 748v5M336.5 733v4M336.5 749v3M336.5 805v1M337.5 733v3M337.5 750v1M337.5 804v3M338.5 733v2M338.5 740v1M338.5 804v3M339.5 733v1M339.5 739v3M339.5 805v1M340.5 738v5M340.5 781v1M341.5 739v3M341.5 771v2M341.5 780v3M341.5 790v2M342.5 740v1M342.5 770v4M342.5 779v5M342.5 789v4M343.5 750v1M343.5 764v1M343.5 770v4M343.5 780v3M343.5 788v6M343.5 812v1M344.5 749v3M344.5 763v3M344.5 771v2M344.5 781v1M344.5 787v8M344.5 811v3M345.5 748v4M345.5 763v4M345.5 787v9M345.5 811v4M346.5 749v2M346.5 764v2M346.5 788v2M346.5 792v3M346.5 812v4M347.5 793v1M347.5 813v4M348.5 814v2M350.5 738v1M350.5 771v1M351.5 737v3M351.5 770v3M352.5 736v5M352.5 770v4M353.5 737v3M353.5 759v2M353.5 764v2M353.5 771v2M354.5 738v1M354.5 758v4M354.5 763v4M355.5 758v4M355.5 763v3M356.5 759v2M356.5 764v1M357.5 774v1M358.5 773v3M359.5 772v5M360.5 773v3M360.5 795v2M360.5 804v2M361.5 774v1M361.5 794v4M361.5 804v3M362.5 755v1M362.5 794v4M362.5 804v4M362.5 812v1M363.5 754v3M363.5 795v2M363.5 805v4M363.5 811v3M364.5 753v4M364.5 805v10M365.5 737v2M365.5 754v2M365.5 766v2M365.5 804v5M365.5 811v3M366.5 736v4M366.5 765v4M366.5 803v5M366.5 812v1M367.5 737v3M367.5 765v5M367.5 783v2M367.5 804v3M368.5 738v1M368.5 766v5M368.5 782v4M368.5 805v1M369.5 752v1M369.5 762v1M369.5 767v5M369.5 781v5M370.5 751v3M370.5 761v3M370.5 768v3M370.5 780v5M370.5 814v2M371.5 750v5M371.5 760v5M371.5 769v1M371.5 779v5M371.5 813v4M372.5 751v3M372.5 759v7M372.5 780v5M372.5 812v5M373.5 752v1M373.5 758v9M373.5 781v5M373.5 811v5M374.5 758v4M374.5 763v4M374.5 776v1M374.5 782v4M374.5 790v2M374.5 811v4M375.5 759v2M375.5 764v2M375.5 775v3M375.5 783v2M375.5 789v4M375.5 812v2M376.5 774v5M376.5 789v4M377.5 754v2M377.5 775v3M377.5 790v2M378.5 753v4M378.5 776v1M379.5 753v4M379.5 762v1M379.5 790v2M380.5 754v2M380.5 761v3M380.5 789v4M381.5 760v4M381.5 769v1M381.5 789v5M382.5 761v2M382.5 768v3M382.5 790v5M383.5 767v5M383.5 791v5M384.5 747v2M384.5 752v2M384.5 761v2M384.5 766v5M384.5 792v3M385.5 746v4M385.5 751v4M385.5 760v4M385.5 765v5M385.5 793v1M386.5 740v1M386.5 746v4M386.5 751v4M386.5 760v4M386.5 765v4M387.5 739v3M387.5 747v2M387.5 752v2M387.5 761v2M387.5 766v2M388.5 738v5M389.5 739v3M390.5 740v1M391.5 783v2M391.5 788v1M391.5 798v1M392.5 782v4M392.5 787v3M392.5 797v3M393.5 782v4M393.5 787v4M393.5 796v4M393.5 810v1M394.5 783v2M394.5 788v2M394.5 797v2M394.5 809v3M395.5 808v5M396.5 783v2M396.5 809v3M397.5 782v4M397.5 810v1M398.5 782v4M398.5 814v2M399.5 783v2M399.5 813v4M400.5 812v5M401.5 749v2M401.5 788v2M401.5 811v5M402.5 748v4M402.5 787v4M402.5 810v5M403.5 749v3M403.5 787v3M403.5 811v3M404.5 750v1M404.5 788v1M404.5 812v1M405.5 769v1M406.5 768v3M406.5 778v2M407.5 767v5M407.5 777v4M408.5 747v2M408.5 761v2M408.5 768v3M408.5 778v3M408.5 800v2M409.5 746v4M409.5 760v4M409.5 769v1M409.5 779v1M409.5 799v4M410.5 746v4M410.5 760v4M410.5 799v3M411.5 747v2M411.5 761v2M411.5 800v1M413.5 737v2M414.5 736v4M415.5 737v3M415.5 769v1M416.5 738v1M416.5 768v3M417.5 767v5M417.5 776v1M418.5 768v3M418.5 775v3M419.5 769v1M419.5 774v5M420.5 775v5M420.5 783v2M421.5 776v5M421.5 782v4M422.5 776v5M422.5 782v4M422.5 800v1M423.5 775v5M423.5 783v2M423.5 799v3M424.5 745v1M424.5 774v5M424.5 798v5M425.5 739v3M425.5 744v3M425.5 775v3M425.5 799v3M426.5 738v10M426.5 776v1M426.5 800v1M427.5 738v4M427.5 744v3M427.5 814v2M428.5 736v5M428.5 745v1M428.5 813v4M429.5 736v4M429.5 750v1M429.5 813v4M430.5 737v2M430.5 749v3M430.5 814v2M431.5 748v5M432.5 749v3M432.5 809v2M433.5 750v1M433.5 808v4M434.5 759v1M434.5 774v1M434.5 793v1M434.5 808v4M435.5 758v3M435.5 773v3M435.5 792v3M435.5 809v2M436.5 758v4M436.5 772v5M436.5 791v5M437.5 759v2M437.5 773v2M437.5 792v5M437.5 814v2M438.5 793v5M438.5 813v4M439.5 783v2M439.5 794v4M439.5 813v4M440.5 782v4M440.5 795v2M440.5 814v2M441.5 738v1M441.5 771v1M441.5 781v5M441.5 805v1M442.5 737v3M442.5 771v2M442.5 780v5M442.5 804v3M443.5 736v5M443.5 769v5M443.5 779v5M443.5 803v5M444.5 737v3M444.5 754v2M444.5 768v7M444.5 780v3M444.5 793v1M444.5 804v3M445.5 738v1M445.5 753v4M445.5 768v8M445.5 781v1M445.5 792v3M445.5 805v1M446.5 738v1M446.5 753v5M446.5 762v1M446.5 768v8M446.5 792v3M446.5 810v1M447.5 737v3M447.5 754v5M447.5 761v3M447.5 769v6M447.5 793v1M447.5 809v3M448.5 736v5M448.5 755v10M448.5 770v4M448.5 808v4M449.5 735v5M449.5 756v3M449.5 761v5M449.5 771v2M449.5 809v2M450.5 734v5M450.5 757v1M450.5 762v5M451.5 734v4M451.5 763v3M451.5 805v1M452.5 735v2M452.5 764v1M452.5 804v3M453.5 803v4M454.5 804v3M458.5 740v1M458.5 802v2M458.5 807v1"/><path stroke="#12ffed" d="M78.5 755v5M78.5 808v5M79.5 754v5M79.5 783v2M79.5 809v3M80.5 753v5M80.5 782v4M80.5 810v1M81.5 752v5M81.5 781v5M81.5 810v1M82.5 751v5M82.5 780v5M82.5 809v3M83.5 750v5M83.5 779v5M83.5 808v5M84.5 749v5M84.5 780v3M84.5 802v2M84.5 807v7M85.5 748v5M85.5 781v1M85.5 801v4M85.5 806v9M86.5 747v5M86.5 801v4M86.5 806v4M86.5 811v5M87.5 746v5M87.5 802v2M87.5 807v2M87.5 812v5M88.5 746v4M88.5 813v5M89.5 747v2M89.5 754v2M89.5 807v2M89.5 814v5M90.5 753v4M90.5 806v4M90.5 815v4M91.5 738v1M91.5 753v5M91.5 805v6M91.5 816v3M92.5 737v3M92.5 754v5M92.5 804v8M92.5 817v2M93.5 736v4M93.5 750v1M93.5 755v5M93.5 803v10M93.5 817v2M94.5 737v2M94.5 749v3M94.5 756v3M94.5 804v3M94.5 809v5M94.5 816v3M95.5 748v5M95.5 757v1M95.5 805v1M95.5 810v9M96.5 747v5M96.5 800v2M96.5 811v8M97.5 746v5M97.5 799v4M97.5 812v6M98.5 740v1M98.5 746v4M98.5 788v1M98.5 799v5M98.5 807v1M98.5 813v4M99.5 739v3M99.5 747v2M99.5 787v3M99.5 800v5M99.5 806v3M99.5 814v2M100.5 738v5M100.5 786v5M100.5 801v4M100.5 806v4M101.5 739v5M101.5 752v2M101.5 787v3M101.5 802v2M101.5 807v2M102.5 740v5M102.5 751v4M102.5 788v1M103.5 740v6M103.5 751v3M103.5 759v2M103.5 802v2M104.5 739v8M104.5 752v1M104.5 758v4M104.5 801v4M105.5 739v9M105.5 752v1M105.5 758v4M105.5 801v4M105.5 810v1M106.5 740v2M106.5 744v3M106.5 751v3M106.5 759v2M106.5 802v2M106.5 809v3M107.5 745v1M107.5 750v5M107.5 808v5M108.5 751v3M108.5 802v2M108.5 807v5M109.5 752v1M109.5 801v4M109.5 806v5M110.5 747v1M110.5 752v1M110.5 801v9M111.5 746v3M111.5 751v3M111.5 802v7M112.5 746v9M112.5 803v5M112.5 817v1M113.5 740v2M113.5 747v2M113.5 751v3M113.5 804v3M113.5 816v3M114.5 739v4M114.5 752v1M114.5 805v1M114.5 815v4M115.5 739v3M115.5 810v1M115.5 816v3M116.5 740v1M116.5 809v3M116.5 817v1M117.5 740v1M117.5 750v1M117.5 808v4M118.5 735v2M118.5 739v3M118.5 749v3M118.5 754v2M118.5 809v2M119.5 734v9M119.5 748v9M120.5 734v3M120.5 739v5M120.5 747v10M120.5 805v1M120.5 809v2M121.5 735v1M121.5 740v5M121.5 746v10M121.5 804v3M121.5 808v4M122.5 740v5M122.5 746v4M122.5 751v4M122.5 798v1M122.5 803v9M123.5 739v5M123.5 747v2M123.5 752v2M123.5 797v3M123.5 802v9M124.5 738v5M124.5 796v14M125.5 739v3M125.5 797v14M126.5 740v1M126.5 798v14M127.5 740v1M127.5 798v4M127.5 804v8M128.5 739v3M128.5 797v4M128.5 805v6M129.5 739v4M129.5 796v5M129.5 805v5M130.5 740v2M130.5 747v2M130.5 795v7M130.5 804v5M131.5 746v4M131.5 794v14M132.5 735v2M132.5 740v2M132.5 745v4M132.5 754v2M132.5 793v4M132.5 799v8M132.5 817v1M133.5 734v4M133.5 739v4M133.5 744v4M133.5 753v4M133.5 792v4M133.5 800v6M133.5 816v3M134.5 734v13M134.5 753v4M134.5 786v1M134.5 792v3M134.5 800v5M134.5 810v1M134.5 816v3M135.5 735v11M135.5 754v2M135.5 785v3M135.5 793v1M135.5 799v5M135.5 809v3M135.5 817v1M136.5 736v10M136.5 784v5M136.5 798v5M136.5 808v5M137.5 737v3M137.5 742v5M137.5 754v2M137.5 785v3M137.5 799v5M137.5 807v5M138.5 738v1M138.5 743v5M138.5 753v4M138.5 786v1M138.5 800v5M138.5 806v5M139.5 744v3M139.5 753v4M139.5 801v4M139.5 806v4M140.5 745v1M140.5 754v2M140.5 802v2M140.5 807v2M142.5 754v2M143.5 753v4M144.5 747v2M144.5 754v3M144.5 814v2M145.5 746v4M145.5 755v1M145.5 813v4M146.5 746v5M146.5 755v1M146.5 803v1M146.5 812v5M147.5 747v5M147.5 754v3M147.5 802v3M147.5 811v5M148.5 748v9M148.5 801v4M148.5 810v5M149.5 737v2M149.5 749v3M149.5 754v2M149.5 802v2M149.5 809v5M150.5 736v4M150.5 750v1M150.5 808v5M151.5 737v3M151.5 750v1M151.5 759v2M151.5 807v6M151.5 817v1M152.5 738v1M152.5 749v3M152.5 758v4M152.5 806v8M152.5 816v3M153.5 748v5M153.5 758v4M153.5 806v13M154.5 749v5M154.5 759v2M154.5 807v7M154.5 816v3M155.5 750v5M155.5 808v5M155.5 817v1M156.5 740v2M156.5 745v1M156.5 749v5M156.5 809v3M157.5 739v4M157.5 744v3M157.5 748v5M157.5 810v1M158.5 739v4M158.5 744v3M158.5 748v5M158.5 757v1M159.5 740v2M159.5 745v1M159.5 749v5M159.5 756v3M160.5 750v10M161.5 749v10M161.5 802v2M162.5 748v10M162.5 801v4M163.5 749v3M163.5 753v4M163.5 801v5M164.5 750v1M164.5 754v2M164.5 802v5M165.5 803v5M166.5 802v7M167.5 801v9M168.5 752v2M168.5 800v5M168.5 806v3M169.5 751v4M169.5 799v5M169.5 807v1M170.5 751v4M170.5 799v4M170.5 807v1M171.5 752v2M171.5 800v2M171.5 806v3M172.5 805v5M173.5 752v2M173.5 804v7M174.5 751v4M174.5 803v9M175.5 750v6M175.5 804v8M176.5 749v8M176.5 805v6M177.5 748v10M177.5 805v5M178.5 749v10M178.5 804v5M179.5 750v10M179.5 803v5M180.5 749v10M180.5 802v7M181.5 748v10M181.5 801v9M182.5 748v4M182.5 753v4M182.5 801v4M182.5 806v4M183.5 749v2M183.5 754v2M183.5 802v2M183.5 807v2M185.5 783v2M186.5 782v4M187.5 752v1M187.5 782v4M187.5 795v2M187.5 800v1M188.5 751v3M188.5 783v2M188.5 794v4M188.5 799v3M189.5 750v5M189.5 774v1M189.5 794v9M190.5 749v7M190.5 773v3M190.5 795v7M191.5 748v9M191.5 772v5M191.5 796v5M192.5 737v2M192.5 749v3M192.5 754v3M192.5 773v3M192.5 795v5M193.5 736v4M193.5 750v1M193.5 755v1M193.5 774v1M193.5 794v5M194.5 736v4M194.5 794v4M195.5 737v2M195.5 795v2M197.5 761v2M198.5 760v4M199.5 761v3M199.5 788v1M200.5 762v1M200.5 787v3M201.5 787v4M202.5 771v2M202.5 788v4M203.5 770v4M203.5 789v4M204.5 769v4M204.5 790v3M205.5 768v4M205.5 791v1M206.5 768v4M206.5 781v1M206.5 786v1M207.5 769v4M207.5 780v3M207.5 785v3M208.5 770v4M208.5 779v10M209.5 764v2M209.5 771v2M209.5 780v3M209.5 785v3M210.5 763v4M210.5 781v1M210.5 786v1M211.5 763v5M212.5 764v5M213.5 765v4M214.5 766v2M214.5 778v2M215.5 777v4M216.5 766v2M216.5 778v3M217.5 765v4M217.5 779v1M218.5 765v4M218.5 774v1M218.5 798v1M219.5 766v2M219.5 773v3M219.5 797v3M220.5 772v5M220.5 781v1M220.5 796v5M221.5 752v2M221.5 773v5M221.5 780v3M221.5 797v3M222.5 751v4M222.5 774v10M222.5 798v1M223.5 751v3M223.5 775v8M223.5 788v1M224.5 752v1M224.5 776v6M224.5 787v3M225.5 777v4M225.5 787v4M226.5 778v2M226.5 788v2M235.5 762v1M235.5 795v2M235.5 814v2M236.5 761v3M236.5 794v4M236.5 813v4M237.5 760v4M237.5 769v1M237.5 794v4M237.5 813v4M238.5 761v2M238.5 768v3M238.5 795v2M238.5 814v2M239.5 767v5M240.5 766v5M240.5 785v2M240.5 800v2M241.5 765v5M241.5 784v4M241.5 799v4M242.5 765v4M242.5 784v4M242.5 799v4M243.5 766v2M243.5 785v2M243.5 800v2M247.5 769v1M247.5 788v1M247.5 798v1M248.5 768v3M248.5 787v3M248.5 797v3M249.5 767v5M249.5 786v5M249.5 796v4M250.5 768v3M250.5 785v5M250.5 797v2M251.5 769v1M251.5 784v5M252.5 785v3M252.5 793v1M253.5 786v1M253.5 792v3M254.5 767v1M254.5 792v3M255.5 766v3M255.5 793v1M256.5 765v4M257.5 759v2M257.5 766v2M257.5 788v2M258.5 758v4M258.5 787v4M259.5 757v5M259.5 787v5M260.5 756v5M260.5 788v5M261.5 755v5M261.5 764v1M261.5 769v1M261.5 789v4M262.5 756v3M262.5 763v3M262.5 768v3M262.5 783v2M262.5 790v2M263.5 757v1M263.5 762v10M263.5 782v4M264.5 757v1M264.5 763v3M264.5 768v3M264.5 782v3M264.5 790v2M264.5 804v2M265.5 756v3M265.5 764v1M265.5 769v1M265.5 783v1M265.5 789v4M265.5 804v3M266.5 750v1M266.5 756v3M266.5 769v1M266.5 789v4M266.5 804v3M267.5 749v3M267.5 757v1M267.5 768v3M267.5 790v2M267.5 805v1M268.5 748v5M268.5 767v5M269.5 749v3M269.5 768v3M269.5 790v2M270.5 750v1M270.5 769v1M270.5 789v4M271.5 789v4M272.5 790v2M278.5 800v1M279.5 799v3M280.5 798v5M281.5 764v2M281.5 799v3M282.5 763v4M282.5 800v1M283.5 763v3M284.5 764v1M285.5 764v1M285.5 793v1M286.5 763v3M286.5 792v3M287.5 762v5M287.5 791v5M288.5 763v3M288.5 792v3M289.5 764v1M289.5 793v1M290.5 759v1M290.5 764v1M291.5 758v3M291.5 763v3M292.5 758v9M293.5 759v2M293.5 763v3M293.5 785v2M294.5 764v1M294.5 784v4M295.5 785v3M295.5 793v1M296.5 786v1M296.5 792v3M297.5 791v5M298.5 766v2M298.5 792v3M299.5 765v4M299.5 793v1M300.5 766v4M301.5 767v4M302.5 768v3M302.5 800v1M303.5 769v1M303.5 799v3M304.5 798v5M305.5 754v2M305.5 764v2M305.5 783v2M305.5 788v2M305.5 799v3M306.5 753v4M306.5 763v4M306.5 782v4M306.5 787v4M306.5 800v1M307.5 753v4M307.5 762v4M307.5 782v8M308.5 754v2M308.5 761v4M308.5 783v6M309.5 760v4M309.5 784v5M310.5 761v2M310.5 783v7M311.5 782v9M312.5 757v1M312.5 761v2M312.5 766v2M312.5 782v3M312.5 787v3M313.5 756v3M313.5 760v4M313.5 765v4M313.5 783v1M313.5 788v1M314.5 756v14M314.5 779v1M314.5 783v1M315.5 757v14M315.5 778v3M315.5 782v3M316.5 758v14M316.5 777v9M317.5 759v2M317.5 763v8M317.5 776v11M317.5 795v2M318.5 764v6M318.5 775v13M318.5 794v4M319.5 765v4M319.5 775v3M319.5 780v3M319.5 785v4M319.5 794v4M320.5 766v2M320.5 776v1M320.5 781v1M320.5 786v4M320.5 795v2M321.5 787v4M322.5 771v2M322.5 788v2M323.5 770v4M324.5 770v3M324.5 797v2M325.5 771v1M325.5 796v4M326.5 767v1M326.5 796v4M327.5 766v3M327.5 797v2M328.5 765v4M329.5 766v2M329.5 773v2M329.5 788v2M330.5 772v4M330.5 786v5M331.5 773v3M331.5 787v5M332.5 774v1M332.5 788v5M333.5 789v4M333.5 798v1M334.5 778v2M334.5 790v2M334.5 797v3M335.5 777v4M335.5 796v5M336.5 776v4M336.5 797v3M337.5 775v5M337.5 798v1M338.5 775v4M338.5 788v1M339.5 776v1M339.5 787v3M340.5 786v5M341.5 787v3M342.5 788v1M345.5 805v1M346.5 804v3M347.5 803v5M348.5 802v5M349.5 801v5M350.5 801v4M351.5 802v2M353.5 773v2M354.5 772v4M355.5 771v5M356.5 770v5M357.5 770v4M358.5 771v2M377.5 783v2M378.5 782v4M379.5 782v4M380.5 783v1M381.5 788v1M382.5 787v3M383.5 786v5M384.5 787v3M385.5 788v1M386.5 769v1M387.5 768v3M388.5 767v5M389.5 768v3M390.5 769v1M396.5 754v2M396.5 778v2M397.5 753v4M397.5 777v4M398.5 752v5M398.5 777v4M399.5 751v5M399.5 778v2M400.5 750v5M401.5 751v3M402.5 752v1M408.5 771v2M408.5 776v2M409.5 770v4M409.5 775v4M410.5 770v4M410.5 775v4M411.5 771v2M411.5 776v2M429.5 740v1M429.5 745v1M430.5 739v3M430.5 744v3M431.5 738v10M432.5 739v3M432.5 744v3M433.5 740v1M433.5 745v1M448.5 745v1M449.5 744v3M450.5 743v5M451.5 744v5M452.5 745v5M453.5 746v4M454.5 747v2M456.5 747v2M456.5 752v2M457.5 746v4M457.5 751v4M458.5 746v4M458.5 751v3"/><path stroke="#37ffc8" d="M78.5 760v5M78.5 770v4M78.5 784v4M78.5 798v1M78.5 803v5M79.5 759v5M79.5 769v5M79.5 785v3M79.5 802v5M80.5 758v5M80.5 768v5M80.5 786v1M80.5 801v5M81.5 757v6M81.5 767v5M81.5 801v5M82.5 756v8M82.5 768v3M82.5 802v5M83.5 755v10M83.5 769v1M83.5 803v5M84.5 754v12M84.5 769v1M84.5 804v3M85.5 753v14M85.5 768v3M85.5 805v1M86.5 753v4M86.5 758v9M86.5 768v3M87.5 754v2M87.5 759v7M87.5 769v1M88.5 760v5M88.5 769v1M89.5 759v7M89.5 768v3M90.5 758v14M91.5 758v4M91.5 763v3M91.5 768v3M91.5 786v1M92.5 759v2M92.5 764v1M92.5 769v1M92.5 785v3M93.5 745v1M93.5 784v5M93.5 798v1M94.5 744v3M94.5 754v2M94.5 759v2M94.5 785v5M94.5 797v3M94.5 802v2M94.5 807v2M95.5 743v5M95.5 753v4M95.5 758v4M95.5 786v5M95.5 796v9M95.5 806v4M96.5 742v5M96.5 752v9M96.5 785v5M96.5 795v5M96.5 802v7M97.5 741v5M97.5 751v9M97.5 784v5M97.5 794v5M97.5 803v5M98.5 741v5M98.5 750v5M98.5 756v3M98.5 784v4M98.5 794v5M98.5 804v3M98.5 812v1M99.5 742v5M99.5 749v5M99.5 757v1M99.5 785v2M99.5 795v5M99.5 805v1M99.5 811v3M100.5 743v10M100.5 796v5M100.5 805v1M100.5 810v5M101.5 744v8M101.5 761v2M101.5 795v5M101.5 804v3M101.5 811v3M102.5 745v6M102.5 760v4M102.5 794v5M102.5 803v5M102.5 812v1M103.5 746v4M103.5 761v4M103.5 794v5M103.5 804v5M104.5 747v2M104.5 762v4M104.5 795v5M104.5 805v5M105.5 738v1M105.5 757v1M105.5 762v5M105.5 796v4M105.5 805v5M106.5 737v3M106.5 756v3M106.5 761v7M106.5 797v2M106.5 804v5M107.5 736v5M107.5 755v14M107.5 803v5M108.5 737v3M108.5 756v3M108.5 761v3M108.5 766v3M108.5 804v3M109.5 738v1M109.5 757v1M109.5 762v1M109.5 767v1M109.5 805v1M110.5 757v1M111.5 756v3M112.5 755v5M113.5 754v5M114.5 753v5M115.5 752v6M115.5 805v1M116.5 751v8M116.5 804v3M117.5 751v9M117.5 798v1M117.5 803v5M118.5 752v2M118.5 756v3M118.5 797v3M118.5 804v3M119.5 757v1M119.5 796v5M119.5 805v1M120.5 797v5M121.5 798v5M122.5 755v1M122.5 793v1M122.5 799v4M123.5 754v3M123.5 792v3M123.5 800v2M124.5 753v4M124.5 791v5M125.5 752v4M125.5 785v2M125.5 792v5M126.5 751v4M126.5 784v4M126.5 793v5M127.5 751v3M127.5 785v3M127.5 793v5M127.5 802v2M128.5 752v1M128.5 786v1M128.5 792v5M128.5 801v4M129.5 757v1M129.5 791v5M129.5 801v4M130.5 756v3M130.5 792v3M130.5 802v2M131.5 755v5M131.5 793v1M132.5 749v2M132.5 756v3M132.5 773v2M133.5 748v4M133.5 757v1M133.5 772v4M134.5 747v6M134.5 772v4M134.5 781v1M135.5 746v8M135.5 773v2M135.5 780v3M136.5 746v9M136.5 779v5M137.5 740v2M137.5 747v7M137.5 759v2M137.5 780v3M137.5 797v2M138.5 739v4M138.5 748v5M138.5 758v4M138.5 781v1M138.5 796v4M139.5 739v5M139.5 749v4M139.5 758v4M139.5 797v3M139.5 805v1M140.5 740v5M140.5 750v4M140.5 759v2M140.5 798v1M140.5 804v3M141.5 741v4M141.5 751v4M141.5 803v5M142.5 742v2M142.5 752v2M142.5 802v7M143.5 801v9M144.5 802v9M145.5 803v9M146.5 804v3M146.5 808v4M147.5 805v1M147.5 809v2M148.5 757v1M149.5 756v3M149.5 761v2M149.5 795v2M150.5 755v9M150.5 794v4M151.5 756v3M151.5 761v3M151.5 794v5M151.5 802v2M152.5 757v1M152.5 762v1M152.5 795v5M152.5 801v4M153.5 757v1M153.5 796v4M153.5 801v5M154.5 756v3M154.5 797v2M154.5 802v5M155.5 755v5M155.5 803v5M156.5 754v7M156.5 804v5M157.5 753v9M157.5 805v5M158.5 753v4M158.5 758v4M158.5 776v1M158.5 800v1M158.5 806v4M159.5 754v2M159.5 759v2M159.5 775v3M159.5 799v3M159.5 807v2M160.5 769v1M160.5 774v5M160.5 798v5M161.5 759v2M161.5 764v2M161.5 768v3M161.5 775v5M161.5 799v3M162.5 758v4M162.5 763v9M162.5 776v5M162.5 800v1M163.5 752v1M163.5 757v5M163.5 763v3M163.5 768v5M163.5 777v5M164.5 751v3M164.5 756v5M164.5 764v1M164.5 769v5M164.5 778v5M165.5 740v1M165.5 750v10M165.5 770v4M165.5 779v5M166.5 739v3M166.5 749v5M166.5 756v3M166.5 771v2M166.5 780v3M167.5 738v5M167.5 748v5M167.5 757v1M167.5 781v1M168.5 739v3M168.5 749v3M168.5 805v1M169.5 740v1M169.5 750v1M169.5 804v3M170.5 788v1M170.5 803v4M171.5 787v3M171.5 802v4M172.5 786v5M172.5 801v4M173.5 785v5M173.5 802v2M174.5 784v5M175.5 785v3M175.5 802v2M176.5 786v1M176.5 801v4M177.5 762v1M177.5 786v1M177.5 800v5M178.5 761v3M178.5 785v3M178.5 799v5M179.5 760v5M179.5 784v5M179.5 798v5M180.5 761v3M180.5 785v3M180.5 793v1M180.5 799v3M181.5 762v1M181.5 786v1M181.5 792v3M181.5 800v1M182.5 757v1M182.5 767v1M182.5 792v3M182.5 800v1M183.5 756v3M183.5 766v3M183.5 793v1M183.5 799v3M184.5 755v5M184.5 765v4M184.5 798v5M185.5 749v2M185.5 756v5M185.5 766v2M185.5 773v2M185.5 799v3M186.5 748v4M186.5 757v5M186.5 772v4M186.5 800v1M187.5 747v5M187.5 757v5M187.5 771v5M188.5 746v5M188.5 756v5M188.5 770v5M189.5 746v4M189.5 755v5M189.5 770v4M189.5 788v1M189.5 793v1M190.5 747v2M190.5 756v5M190.5 771v2M190.5 783v2M190.5 787v3M190.5 792v3M191.5 757v5M191.5 782v14M192.5 747v2M192.5 758v5M192.5 782v3M192.5 787v8M193.5 746v4M193.5 759v5M193.5 783v1M193.5 788v6M194.5 746v4M194.5 755v1M194.5 760v4M194.5 789v4M195.5 747v2M195.5 754v3M195.5 761v2M195.5 790v2M196.5 753v4M197.5 754v2M197.5 766v2M197.5 771v2M197.5 785v2M198.5 765v4M198.5 770v4M198.5 784v4M199.5 765v9M199.5 778v2M199.5 783v5M200.5 766v7M200.5 777v4M200.5 782v5M201.5 767v5M201.5 776v5M201.5 782v4M202.5 768v3M202.5 775v5M202.5 783v2M203.5 769v1M203.5 774v5M204.5 775v3M204.5 783v2M204.5 788v2M205.5 776v1M205.5 782v4M205.5 787v4M206.5 782v4M206.5 787v4M207.5 783v2M207.5 788v2M209.5 778v2M209.5 788v2M210.5 777v4M210.5 787v4M211.5 777v4M211.5 786v4M212.5 778v2M212.5 785v4M213.5 769v1M213.5 774v1M213.5 784v4M213.5 793v1M214.5 768v3M214.5 773v3M214.5 785v2M214.5 792v3M215.5 767v10M215.5 791v5M216.5 768v3M216.5 773v5M216.5 785v2M216.5 792v5M217.5 769v1M217.5 774v5M217.5 784v4M217.5 793v5M218.5 775v4M218.5 784v4M218.5 794v4M219.5 776v2M219.5 785v2M219.5 795v2M221.5 766v2M221.5 771v2M222.5 765v4M222.5 770v4M223.5 765v4M223.5 770v5M223.5 783v2M224.5 766v2M224.5 771v5M224.5 782v4M225.5 772v4M225.5 782v4M226.5 773v2M226.5 783v2M226.5 790v2M227.5 789v4M228.5 783v2M228.5 788v5M229.5 782v4M229.5 787v5M230.5 782v4M230.5 787v4M231.5 783v2M231.5 788v2M232.5 793v1M233.5 783v2M233.5 792v3M234.5 782v4M234.5 791v5M235.5 771v2M235.5 782v4M235.5 792v3M236.5 770v4M236.5 783v2M236.5 793v1M237.5 770v4M237.5 788v1M238.5 771v2M238.5 787v3M239.5 786v5M240.5 771v2M240.5 776v2M240.5 780v2M240.5 787v3M241.5 770v4M241.5 775v4M241.5 780v3M241.5 788v1M242.5 770v4M242.5 775v4M242.5 780v3M243.5 771v2M243.5 776v1M243.5 781v1M252.5 769v1M252.5 783v2M252.5 816v2M253.5 768v3M253.5 782v4M253.5 816v3M254.5 768v4M254.5 776v1M254.5 781v6M254.5 816v3M255.5 769v4M255.5 775v3M255.5 780v8M255.5 817v1M256.5 769v20M257.5 768v5M257.5 775v8M257.5 785v3M258.5 767v5M258.5 776v6M258.5 786v1M259.5 768v3M259.5 777v5M259.5 786v1M260.5 769v1M260.5 778v5M260.5 785v3M261.5 779v9M262.5 778v5M262.5 785v2M263.5 777v5M264.5 771v2M264.5 778v4M265.5 770v4M265.5 779v4M266.5 770v5M266.5 779v4M267.5 771v5M267.5 778v4M268.5 772v9M269.5 773v3M269.5 778v2M269.5 785v2M270.5 774v1M270.5 784v4M271.5 774v1M271.5 783v5M272.5 773v3M272.5 782v5M273.5 772v4M273.5 781v6M274.5 773v2M274.5 780v8M275.5 779v10M276.5 780v3M276.5 785v3M276.5 792v2M277.5 781v1M277.5 786v1M277.5 792v3M278.5 792v3M279.5 793v1M281.5 773v2M281.5 788v2M282.5 772v4M282.5 786v5M283.5 771v6M283.5 787v3M284.5 770v8M284.5 788v1M285.5 770v4M285.5 775v4M286.5 771v2M286.5 776v4M287.5 777v4M288.5 778v2M289.5 779v1M290.5 769v1M290.5 783v1M291.5 768v3M291.5 782v3M292.5 767v5M292.5 782v4M293.5 768v5M293.5 783v2M293.5 790v2M294.5 769v5M294.5 789v4M295.5 770v5M295.5 789v4M295.5 798v1M296.5 771v5M296.5 790v2M296.5 797v3M297.5 772v4M297.5 786v1M297.5 796v4M298.5 773v2M298.5 785v3M298.5 797v2M299.5 784v5M300.5 785v5M300.5 793v1M301.5 786v5M301.5 792v3M302.5 762v1M302.5 771v1M302.5 787v4M302.5 792v4M303.5 761v3M303.5 770v3M303.5 788v2M303.5 793v4M304.5 760v5M304.5 770v4M304.5 794v4M305.5 761v3M305.5 771v2M305.5 795v2M306.5 762v1M310.5 778v2M311.5 777v4M312.5 778v4M312.5 785v2M313.5 779v4M313.5 784v4M314.5 780v3M314.5 784v4M315.5 781v1M315.5 785v2M321.5 781v1M321.5 786v1M322.5 780v3M322.5 785v3M323.5 779v10M324.5 778v5M324.5 785v5M324.5 792v2M325.5 777v5M325.5 786v5M325.5 792v3M326.5 776v5M326.5 786v5M326.5 792v3M327.5 775v5M327.5 785v4M327.5 793v1M328.5 774v5M328.5 784v5M329.5 775v3M329.5 783v5M330.5 776v1M330.5 782v4M331.5 776v1M331.5 782v4M332.5 775v3M332.5 783v2M333.5 769v1M333.5 775v4M334.5 768v3M334.5 776v2M335.5 767v5M336.5 768v3M336.5 780v2M336.5 785v2M337.5 769v1M337.5 780v3M337.5 784v4M338.5 774v1M338.5 779v9M339.5 773v3M339.5 777v10M340.5 772v9M340.5 782v4M341.5 773v3M341.5 778v2M341.5 783v2M381.5 783v1M382.5 783v2M383.5 781v5M384.5 782v3M385.5 783v1M396.5 759v2M397.5 758v4M398.5 758v4M399.5 759v2M453.5 750v1M454.5 749v3M455.5 748v5M456.5 749v3M457.5 750v1"/><path stroke="#80ff80" d="M78.5 769v1M78.5 774v1M78.5 779v5M78.5 788v1M78.5 793v5M78.5 799v4M79.5 780v3M79.5 788v1M79.5 793v5M79.5 799v3M80.5 781v1M80.5 787v3M80.5 792v5M80.5 800v1M81.5 776v1M81.5 787v9M82.5 775v3M82.5 788v2M82.5 792v3M83.5 774v5M83.5 793v1M84.5 773v5M84.5 788v2M85.5 772v5M85.5 787v4M86.5 772v5M86.5 781v1M86.5 787v4M86.5 800v1M87.5 773v5M87.5 780v3M87.5 788v2M87.5 799v3M88.5 774v10M88.5 798v5M89.5 775v3M89.5 780v3M89.5 797v7M90.5 776v1M90.5 781v1M90.5 796v9M91.5 766v2M91.5 771v2M91.5 797v3M91.5 801v4M92.5 765v4M92.5 770v4M92.5 798v1M92.5 802v2M93.5 764v11M94.5 763v13M95.5 762v15M96.5 761v5M96.5 768v3M96.5 773v3M96.5 781v1M96.5 790v2M97.5 760v5M97.5 769v1M97.5 774v1M97.5 780v3M97.5 789v4M98.5 760v5M98.5 774v1M98.5 780v4M98.5 789v4M99.5 761v5M99.5 773v3M99.5 781v4M99.5 790v2M100.5 762v5M100.5 772v5M100.5 781v5M101.5 763v3M101.5 773v3M101.5 780v5M102.5 764v1M102.5 774v1M102.5 779v5M103.5 774v1M103.5 780v5M103.5 793v1M104.5 773v3M104.5 781v5M104.5 792v3M105.5 772v4M105.5 782v4M105.5 791v5M106.5 773v2M106.5 783v2M106.5 790v5M107.5 789v5M108.5 759v2M108.5 769v1M108.5 773v2M108.5 790v3M109.5 758v4M109.5 768v3M109.5 772v4M109.5 791v1M110.5 758v4M110.5 768v9M111.5 759v2M111.5 769v9M112.5 770v9M113.5 759v2M113.5 771v2M113.5 775v3M114.5 758v4M114.5 776v1M115.5 758v4M116.5 759v2M117.5 793v1M118.5 759v2M118.5 792v3M119.5 758v4M119.5 791v5M120.5 757v6M120.5 792v3M121.5 756v8M121.5 793v1M122.5 756v3M122.5 760v4M122.5 779v1M122.5 788v1M123.5 757v1M123.5 761v2M123.5 778v3M123.5 787v3M124.5 777v5M124.5 786v5M125.5 761v2M125.5 766v2M125.5 776v7M125.5 787v3M126.5 760v4M126.5 765v4M126.5 775v9M126.5 788v1M127.5 759v10M127.5 775v3M127.5 780v5M127.5 788v1M128.5 758v10M128.5 776v1M128.5 781v5M128.5 787v3M129.5 758v4M129.5 763v4M129.5 776v1M129.5 781v5M129.5 787v4M130.5 759v2M130.5 764v2M130.5 775v3M130.5 780v5M130.5 788v2M131.5 774v10M132.5 775v3M132.5 780v3M133.5 776v1M133.5 781v1M134.5 776v1M134.5 805v1M135.5 775v3M135.5 804v3M136.5 774v5M136.5 793v1M136.5 803v5M137.5 764v2M137.5 775v3M137.5 792v3M137.5 804v3M138.5 763v4M138.5 776v1M138.5 791v5M138.5 805v1M139.5 762v4M139.5 771v2M139.5 781v1M139.5 786v1M139.5 792v3M140.5 761v4M140.5 770v4M140.5 780v3M140.5 785v3M140.5 793v1M141.5 760v4M141.5 770v5M141.5 779v9M141.5 798v1M142.5 761v2M142.5 771v5M142.5 780v7M142.5 797v3M143.5 772v5M143.5 781v5M143.5 796v5M144.5 757v1M144.5 773v5M144.5 782v3M144.5 795v5M145.5 756v3M145.5 774v5M145.5 783v1M145.5 794v5M146.5 756v3M146.5 764v1M146.5 774v5M146.5 788v1M146.5 794v4M147.5 757v1M147.5 763v3M147.5 773v5M147.5 787v3M147.5 795v2M148.5 762v5M148.5 772v5M148.5 786v5M149.5 763v3M149.5 773v5M149.5 787v5M150.5 764v1M150.5 774v5M150.5 788v5M151.5 775v3M151.5 789v5M152.5 776v1M152.5 790v5M153.5 762v1M153.5 791v5M154.5 761v3M154.5 790v7M155.5 760v5M155.5 789v9M156.5 761v3M156.5 773v2M156.5 790v9M157.5 762v1M157.5 772v4M157.5 791v9M158.5 772v4M158.5 781v1M158.5 786v1M158.5 791v4M158.5 796v4M159.5 773v2M159.5 780v3M159.5 785v3M159.5 790v4M159.5 797v2M160.5 779v14M161.5 780v3M161.5 785v7M161.5 797v2M162.5 781v1M162.5 786v5M162.5 796v4M163.5 762v1M163.5 787v5M163.5 795v5M164.5 761v3M164.5 788v5M164.5 794v5M165.5 760v5M165.5 769v1M165.5 789v4M165.5 794v4M166.5 761v5M166.5 768v3M166.5 790v2M166.5 795v2M167.5 762v10M168.5 763v3M168.5 768v3M168.5 776v2M168.5 785v2M169.5 764v1M169.5 769v1M169.5 775v4M169.5 784v4M170.5 774v6M170.5 783v5M170.5 793v1M171.5 773v8M171.5 782v5M171.5 792v3M172.5 772v9M172.5 782v4M172.5 791v5M173.5 761v2M173.5 766v2M173.5 773v7M173.5 783v2M173.5 792v5M173.5 800v2M174.5 760v4M174.5 765v4M174.5 774v5M174.5 793v5M174.5 799v4M175.5 761v3M175.5 765v5M175.5 775v3M175.5 783v2M175.5 788v1M175.5 793v9M176.5 762v1M176.5 766v5M176.5 776v1M176.5 782v4M176.5 787v3M176.5 792v9M177.5 767v5M177.5 776v1M177.5 782v4M177.5 787v13M178.5 766v5M178.5 775v3M178.5 783v2M178.5 788v2M178.5 792v3M178.5 797v2M179.5 765v5M179.5 774v5M179.5 793v1M180.5 766v3M180.5 775v3M180.5 783v2M180.5 788v2M181.5 767v1M181.5 776v1M181.5 782v4M181.5 787v4M182.5 771v1M182.5 781v5M182.5 787v4M182.5 795v1M183.5 770v3M183.5 780v5M183.5 788v2M183.5 794v3M184.5 770v4M184.5 779v5M184.5 793v5M185.5 771v2M185.5 780v3M185.5 792v5M186.5 781v1M186.5 791v5M187.5 776v1M187.5 786v1M187.5 792v3M188.5 775v3M188.5 785v3M188.5 793v1M189.5 764v1M189.5 775v4M189.5 784v4M190.5 763v3M190.5 776v2M190.5 785v2M191.5 762v5M192.5 763v3M193.5 764v1M194.5 788v1M195.5 787v3M196.5 781v1M196.5 786v5M197.5 776v2M197.5 780v3M197.5 787v3M198.5 775v9M198.5 788v1M199.5 775v3M199.5 780v3M200.5 776v1M200.5 781v1M216.5 781v1M217.5 780v3M218.5 779v4M219.5 778v4M220.5 777v4M221.5 778v2M225.5 776v1M226.5 775v3M227.5 774v5M228.5 773v5M229.5 772v5M230.5 771v6M230.5 786v1M231.5 770v8M231.5 785v3M232.5 770v9M232.5 784v5M233.5 771v7M233.5 785v3M234.5 772v5M235.5 773v3M235.5 781v1M236.5 774v1M236.5 780v3M237.5 779v4M238.5 778v5M239.5 777v5M240.5 778v2M241.5 779v1M242.5 774v1M243.5 773v3M244.5 772v5M245.5 773v3M247.5 774v1M247.5 778v2M248.5 773v3M248.5 777v4M249.5 772v9M250.5 773v7M251.5 774v5M252.5 775v5M253.5 776v5M254.5 777v4M255.5 778v2M269.5 776v2M270.5 775v4M271.5 775v5M272.5 776v5M273.5 777v4M274.5 778v2M276.5 783v2M277.5 782v4M278.5 781v5M279.5 780v5M280.5 779v5M281.5 778v7M282.5 777v9M283.5 777v4M283.5 782v4M284.5 778v2M284.5 783v2M288.5 776v2M289.5 775v4M290.5 775v5M291.5 776v5M292.5 777v5M293.5 778v5M294.5 779v5M295.5 778v5M296.5 777v5M297.5 776v6M298.5 775v8M299.5 774v10M300.5 775v3M300.5 780v5M301.5 776v1M301.5 781v5M302.5 782v5M303.5 783v5M304.5 784v5M305.5 785v3M306.5 786v1M307.5 771v2M308.5 770v4M309.5 770v4M310.5 771v2M324.5 773v2M325.5 772v4M326.5 772v4M327.5 773v2M328.5 769v1M329.5 768v3M329.5 778v2M330.5 767v5M330.5 777v4M331.5 768v3M331.5 777v4M331.5 786v1M332.5 769v1M332.5 778v2M332.5 785v3M333.5 774v1M333.5 784v5M334.5 773v3M334.5 785v5M335.5 772v5M335.5 786v5M336.5 771v5M336.5 787v3M337.5 770v5M337.5 788v1M338.5 770v4M339.5 771v2"/><path stroke="#a4ff5b" d="M78.5 775v4M78.5 789v4M79.5 775v3M79.5 789v4M80.5 776v1M80.5 790v2M84.5 797v2M85.5 796v4M86.5 791v1M86.5 795v5M87.5 790v3M87.5 794v5M88.5 789v4M88.5 794v4M89.5 790v2M89.5 795v2M94.5 778v2M95.5 777v4M96.5 766v2M96.5 771v2M96.5 778v3M97.5 765v4M97.5 770v4M97.5 779v1M98.5 765v4M98.5 770v4M98.5 779v1M99.5 766v2M99.5 771v2M99.5 778v3M100.5 777v4M101.5 776v4M102.5 775v4M103.5 775v3M104.5 776v1M105.5 781v1M105.5 786v1M106.5 771v2M106.5 780v3M106.5 785v3M107.5 770v4M107.5 779v10M108.5 764v2M108.5 770v3M108.5 778v5M108.5 785v5M108.5 793v1M108.5 797v2M109.5 763v4M109.5 771v1M109.5 777v5M109.5 786v5M109.5 792v3M109.5 796v4M110.5 763v5M110.5 777v4M110.5 786v14M111.5 764v5M111.5 778v2M111.5 785v14M112.5 765v5M112.5 784v9M112.5 794v4M113.5 764v7M113.5 778v2M113.5 783v5M113.5 790v2M113.5 795v2M114.5 763v9M114.5 777v4M114.5 782v5M115.5 763v3M115.5 768v3M115.5 776v5M115.5 782v4M116.5 764v1M116.5 769v1M116.5 775v5M116.5 783v2M117.5 769v1M117.5 775v4M118.5 768v3M118.5 776v2M118.5 783v2M119.5 767v5M119.5 782v4M120.5 766v7M120.5 776v2M120.5 781v4M121.5 765v9M121.5 775v4M121.5 780v4M122.5 765v14M122.5 780v4M123.5 766v12M123.5 781v4M124.5 767v10M124.5 782v4M125.5 768v8M125.5 783v2M126.5 769v6M127.5 770v5M127.5 778v2M128.5 771v5M128.5 777v4M129.5 772v4M129.5 777v4M130.5 773v2M130.5 778v2M132.5 769v1M133.5 768v3M134.5 768v3M135.5 769v1M139.5 776v1M140.5 775v3M141.5 775v4M141.5 788v1M142.5 759v2M142.5 776v4M142.5 787v3M143.5 758v4M143.5 777v4M143.5 786v5M144.5 758v3M144.5 766v2M144.5 778v4M144.5 787v3M145.5 759v1M145.5 765v4M145.5 779v4M145.5 788v1M146.5 765v5M146.5 780v3M147.5 766v5M147.5 781v1M148.5 767v5M149.5 766v5M149.5 785v2M150.5 765v5M150.5 784v4M151.5 765v4M151.5 783v5M152.5 766v2M152.5 782v5M153.5 776v1M153.5 782v5M154.5 766v2M154.5 775v3M154.5 783v5M155.5 765v4M155.5 774v5M155.5 784v5M156.5 766v3M156.5 775v3M156.5 783v7M157.5 767v1M157.5 776v1M157.5 782v9M158.5 782v4M158.5 787v4M159.5 783v2M159.5 788v2M160.5 793v1M161.5 792v3M162.5 791v5M163.5 792v3M164.5 793v1M165.5 793v1M166.5 792v3M167.5 791v5M168.5 790v5M169.5 789v5M170.5 764v1M170.5 769v1M170.5 789v4M171.5 763v3M171.5 768v3M171.5 790v2M172.5 762v10M173.5 763v3M173.5 768v5M173.5 790v2M174.5 764v1M174.5 769v5M174.5 789v4M175.5 770v4M175.5 789v4M176.5 771v2M176.5 790v2M177.5 781v1M178.5 780v3M179.5 779v5M180.5 778v5M181.5 777v5M182.5 777v4M183.5 778v2M192.5 771v2M192.5 781v1M192.5 785v2M193.5 770v4M193.5 780v3M193.5 784v4M194.5 770v4M194.5 780v3M194.5 784v4M195.5 771v2M195.5 781v1M195.5 785v2M211.5 771v2M212.5 770v4M213.5 770v4M214.5 771v2M225.5 781v1M226.5 780v3M227.5 779v5M228.5 778v5M229.5 777v5M230.5 777v5M231.5 778v5M232.5 779v5M233.5 780v3M234.5 781v1M276.5 778v2M277.5 777v4M278.5 777v4M278.5 786v1M279.5 778v2M279.5 785v3M280.5 784v5M281.5 785v3"/><path stroke="#5bffa4" d="M79.5 764v1M79.5 774v1M79.5 778v2M79.5 798v1M79.5 807v2M80.5 763v3M80.5 773v3M80.5 777v4M80.5 797v3M80.5 806v4M81.5 763v4M81.5 772v4M81.5 777v4M81.5 786v1M81.5 796v5M81.5 806v4M82.5 764v4M82.5 771v4M82.5 778v2M82.5 785v3M82.5 797v5M82.5 807v2M83.5 765v4M83.5 770v4M83.5 784v5M83.5 798v5M84.5 766v3M84.5 770v3M84.5 783v5M84.5 799v3M85.5 767v1M85.5 771v1M85.5 782v5M85.5 800v1M86.5 752v1M86.5 757v1M86.5 767v1M86.5 771v1M86.5 782v5M87.5 751v3M87.5 756v3M87.5 766v3M87.5 770v3M87.5 783v5M88.5 750v10M88.5 765v4M88.5 770v4M88.5 784v5M88.5 793v1M89.5 751v3M89.5 756v3M89.5 766v2M89.5 771v4M89.5 778v2M89.5 783v7M89.5 792v3M90.5 752v1M90.5 757v1M90.5 772v4M90.5 777v4M90.5 782v14M91.5 762v1M91.5 773v13M91.5 787v10M91.5 800v1M92.5 761v3M92.5 774v11M92.5 788v10M92.5 799v3M93.5 760v4M93.5 775v9M93.5 789v9M93.5 799v4M94.5 761v2M94.5 776v2M94.5 780v5M94.5 790v7M94.5 800v2M95.5 781v5M95.5 791v5M96.5 782v3M96.5 792v3M97.5 783v1M97.5 793v1M98.5 759v1M98.5 769v1M98.5 793v1M99.5 758v3M99.5 768v3M99.5 792v3M100.5 758v4M100.5 767v5M100.5 791v5M101.5 759v2M101.5 768v3M101.5 790v5M102.5 769v1M102.5 789v5M103.5 769v1M103.5 789v4M104.5 768v3M104.5 790v2M105.5 767v5M105.5 800v1M106.5 768v3M106.5 795v2M106.5 799v3M107.5 769v1M107.5 794v9M108.5 754v2M108.5 794v3M108.5 799v3M109.5 753v4M109.5 795v1M109.5 800v1M110.5 753v4M110.5 762v1M110.5 800v1M111.5 754v2M111.5 761v3M111.5 799v3M112.5 760v5M112.5 798v5M113.5 761v3M113.5 799v5M114.5 762v1M114.5 800v5M115.5 762v1M115.5 766v2M115.5 771v2M115.5 790v2M115.5 795v2M115.5 800v5M116.5 761v3M116.5 765v4M116.5 770v4M116.5 789v4M116.5 794v4M116.5 799v5M117.5 760v4M117.5 765v4M117.5 770v4M117.5 788v5M117.5 794v4M117.5 799v4M118.5 761v2M118.5 766v2M118.5 771v2M118.5 787v5M118.5 795v2M118.5 800v4M119.5 786v5M119.5 801v4M120.5 785v7M120.5 795v2M120.5 802v3M121.5 784v9M121.5 794v4M121.5 803v1M122.5 784v4M122.5 789v4M122.5 794v4M123.5 785v2M123.5 790v2M123.5 795v2M125.5 790v2M126.5 789v4M127.5 754v2M127.5 769v1M127.5 789v4M128.5 753v4M128.5 768v3M128.5 790v2M129.5 752v5M129.5 762v1M129.5 767v5M129.5 786v1M130.5 751v5M130.5 761v3M130.5 766v7M130.5 785v3M130.5 790v2M131.5 750v5M131.5 760v14M131.5 784v9M132.5 751v3M132.5 759v10M132.5 770v3M132.5 778v2M132.5 783v10M132.5 797v2M133.5 752v1M133.5 758v10M133.5 771v1M133.5 777v4M133.5 782v10M133.5 796v4M134.5 758v10M134.5 777v4M134.5 782v4M134.5 787v4M134.5 795v5M135.5 759v10M135.5 778v2M135.5 783v2M135.5 788v2M135.5 794v5M136.5 760v10M136.5 794v4M137.5 761v3M137.5 766v5M137.5 773v2M137.5 778v2M137.5 783v2M137.5 788v2M137.5 795v2M138.5 762v1M138.5 767v9M138.5 777v4M138.5 782v4M138.5 787v4M139.5 766v5M139.5 773v3M139.5 777v4M139.5 782v4M139.5 787v3M139.5 795v2M139.5 800v1M140.5 765v5M140.5 774v1M140.5 778v2M140.5 783v2M140.5 788v1M140.5 794v4M140.5 799v3M141.5 750v1M141.5 765v4M141.5 794v4M141.5 799v4M142.5 749v3M142.5 766v2M142.5 795v2M142.5 800v2M143.5 748v5M144.5 749v3M144.5 771v2M144.5 785v2M144.5 790v2M144.5 800v2M145.5 750v1M145.5 770v4M145.5 784v4M145.5 789v4M145.5 799v4M146.5 759v1M146.5 770v4M146.5 784v4M146.5 789v5M146.5 798v5M146.5 807v1M147.5 758v3M147.5 771v2M147.5 785v2M147.5 790v5M147.5 797v5M147.5 806v3M148.5 758v4M148.5 791v10M148.5 806v4M149.5 759v2M149.5 771v2M149.5 792v3M149.5 797v5M149.5 807v2M150.5 770v4M150.5 793v1M150.5 798v5M151.5 764v1M151.5 769v5M151.5 788v1M151.5 799v3M152.5 763v3M152.5 768v5M152.5 787v3M152.5 800v1M153.5 763v9M153.5 787v4M153.5 800v1M154.5 764v2M154.5 768v3M154.5 788v2M154.5 799v3M155.5 769v1M155.5 798v5M156.5 799v3M157.5 800v1M158.5 767v1M158.5 771v1M158.5 795v1M159.5 766v3M159.5 770v3M159.5 794v3M160.5 765v4M160.5 770v4M160.5 794v4M161.5 766v2M161.5 771v4M161.5 795v2M162.5 772v4M163.5 773v4M163.5 786v1M163.5 800v1M164.5 774v4M164.5 785v3M164.5 799v3M165.5 774v5M165.5 784v5M165.5 798v5M166.5 754v2M166.5 759v2M166.5 773v7M166.5 783v7M166.5 797v5M167.5 753v4M167.5 758v4M167.5 772v9M167.5 782v9M167.5 796v5M168.5 754v7M168.5 773v3M168.5 778v7M168.5 787v3M168.5 795v5M169.5 755v5M169.5 774v1M169.5 779v5M169.5 788v1M169.5 794v5M170.5 755v5M170.5 780v3M170.5 794v5M171.5 754v7M171.5 781v1M171.5 795v5M172.5 753v4M172.5 758v4M172.5 781v1M172.5 796v5M173.5 754v2M173.5 759v2M173.5 780v3M173.5 797v3M174.5 779v5M174.5 798v1M175.5 764v1M175.5 778v5M176.5 763v3M176.5 777v5M177.5 763v4M177.5 777v4M178.5 764v2M178.5 778v2M180.5 759v2M180.5 764v2M180.5 769v1M180.5 773v2M180.5 797v2M181.5 758v4M181.5 763v4M181.5 768v3M181.5 772v4M181.5 796v4M182.5 752v1M182.5 758v4M182.5 763v4M182.5 768v3M182.5 772v5M182.5 791v1M182.5 796v4M183.5 751v3M183.5 759v2M183.5 764v2M183.5 769v1M183.5 773v5M183.5 790v3M183.5 797v2M184.5 750v5M184.5 774v5M184.5 789v4M185.5 751v3M185.5 764v2M185.5 775v5M185.5 788v4M185.5 797v2M186.5 752v1M186.5 763v4M186.5 776v5M186.5 787v4M186.5 796v4M187.5 762v6M187.5 777v5M187.5 787v5M187.5 797v3M188.5 761v8M188.5 778v5M188.5 788v5M188.5 798v1M189.5 760v4M189.5 765v4M189.5 779v5M189.5 789v4M190.5 761v2M190.5 766v2M190.5 778v5M190.5 790v2M191.5 777v5M192.5 757v1M192.5 766v2M192.5 778v3M193.5 756v3M193.5 765v4M193.5 779v1M194.5 756v3M194.5 764v6M194.5 783v1M195.5 757v1M195.5 763v8M195.5 782v3M196.5 762v10M196.5 782v4M197.5 763v3M197.5 768v3M197.5 783v2M198.5 764v1M198.5 769v1M199.5 774v1M200.5 773v3M201.5 772v4M202.5 773v2M204.5 778v2M205.5 777v4M206.5 776v5M207.5 775v5M208.5 769v1M208.5 774v5M209.5 768v3M209.5 773v5M210.5 767v10M211.5 768v3M211.5 773v4M211.5 781v1M212.5 769v1M212.5 774v4M212.5 780v3M213.5 775v9M213.5 788v1M214.5 776v2M214.5 780v5M214.5 787v3M215.5 781v10M216.5 771v2M216.5 782v3M216.5 787v3M217.5 770v4M217.5 783v1M217.5 788v1M218.5 770v4M219.5 771v2M225.5 786v1M226.5 785v3M227.5 784v5M228.5 785v3M229.5 786v1M232.5 769v1M233.5 768v3M234.5 767v5M235.5 768v3M235.5 776v1M235.5 786v1M235.5 790v2M236.5 769v1M236.5 775v3M236.5 785v3M236.5 789v4M237.5 774v5M237.5 784v4M237.5 789v4M238.5 773v5M238.5 785v2M238.5 790v2M239.5 772v5M240.5 773v3M241.5 774v1M242.5 769v1M242.5 779v1M243.5 768v3M243.5 777v4M244.5 767v5M244.5 777v5M245.5 768v3M245.5 776v7M246.5 769v1M246.5 774v10M247.5 775v3M247.5 780v5M248.5 776v1M248.5 781v5M249.5 781v5M250.5 771v2M250.5 780v5M251.5 770v4M251.5 779v5M252.5 770v5M252.5 780v3M252.5 788v2M253.5 771v5M253.5 781v1M253.5 787v4M254.5 772v4M254.5 787v4M255.5 773v2M255.5 788v2M257.5 773v2M257.5 783v2M258.5 772v4M258.5 782v4M259.5 771v6M259.5 782v4M260.5 770v8M260.5 783v2M261.5 770v4M261.5 775v4M262.5 771v2M262.5 776v2M264.5 785v2M265.5 784v4M266.5 784v4M267.5 785v2M273.5 776v1M274.5 775v3M275.5 774v5M276.5 773v5M277.5 772v5M278.5 771v6M279.5 770v8M280.5 769v10M281.5 768v5M281.5 775v3M282.5 767v5M282.5 776v1M283.5 768v3M283.5 781v1M283.5 790v2M284.5 769v1M284.5 780v3M284.5 789v4M285.5 774v1M285.5 779v5M285.5 789v4M286.5 773v3M286.5 780v5M286.5 790v2M287.5 772v5M287.5 781v5M288.5 773v3M288.5 780v7M289.5 774v1M289.5 780v8M290.5 780v3M290.5 784v4M291.5 781v1M291.5 785v2M293.5 776v2M294.5 774v5M295.5 775v3M295.5 783v2M296.5 776v1M296.5 782v4M297.5 782v4M298.5 771v2M298.5 783v2M299.5 770v4M300.5 770v5M300.5 778v2M301.5 771v5M301.5 777v4M302.5 772v10M303.5 773v10M304.5 774v10M305.5 773v10M306.5 772v10M307.5 773v9M308.5 774v9M309.5 769v1M309.5 774v10M310.5 768v3M310.5 773v5M310.5 780v3M311.5 767v10M311.5 781v1M312.5 768v3M312.5 773v3M313.5 769v1M313.5 774v1M314.5 774v1M315.5 773v3M316.5 772v5M317.5 773v3M318.5 774v1M319.5 769v1M320.5 768v3M321.5 767v5M321.5 776v1M322.5 768v3M322.5 775v3M323.5 769v1M323.5 774v5M324.5 775v3M325.5 776v1M326.5 771v1M326.5 781v1M327.5 770v3M327.5 780v3M328.5 770v4M328.5 779v5M329.5 771v2M329.5 780v3M330.5 781v1M331.5 766v2M331.5 771v2M331.5 781v1M332.5 765v4M332.5 770v4M332.5 780v3M333.5 764v5M333.5 770v4M333.5 779v4M333.5 793v1M334.5 763v5M334.5 771v2M334.5 780v3M334.5 792v3M335.5 762v5M335.5 781v1M335.5 791v5M336.5 763v5M336.5 792v3M337.5 764v5M337.5 793v1M338.5 765v4M339.5 766v2"/><path stroke="#c8ff37" d="M82.5 795v2M83.5 794v4M84.5 793v4M85.5 792v4M86.5 792v3M87.5 793v1M96.5 776v2M97.5 775v4M98.5 775v4M99.5 776v2M101.5 771v2M102.5 770v4M103.5 770v4M103.5 788v1M104.5 771v2M104.5 787v3M105.5 787v4M106.5 788v2M110.5 781v1M111.5 780v3M112.5 779v5M112.5 793v1M113.5 773v2M113.5 780v3M113.5 792v3M114.5 772v4M114.5 781v1M114.5 791v5M115.5 773v3M115.5 792v3M116.5 774v1M116.5 793v1M117.5 764v1M117.5 774v1M118.5 763v3M118.5 773v3M118.5 778v2M119.5 762v5M119.5 772v9M120.5 763v3M120.5 773v3M120.5 778v3M121.5 764v1M121.5 774v1M121.5 779v1M122.5 764v1M123.5 763v3M124.5 762v5M125.5 763v3M126.5 764v1M139.5 790v2M140.5 789v4M141.5 769v1M141.5 789v4M142.5 768v3M142.5 790v2M143.5 767v5M144.5 768v3M145.5 769v1M146.5 779v1M147.5 778v3M148.5 777v5M149.5 778v5M150.5 779v5M151.5 774v1M151.5 778v5M152.5 773v3M152.5 777v5M153.5 772v4M153.5 777v4M154.5 771v4M154.5 778v2M155.5 770v4M156.5 764v2M156.5 769v4M156.5 778v2M157.5 763v4M157.5 768v4M157.5 777v4M158.5 763v4M158.5 768v3M158.5 777v4M159.5 764v2M159.5 769v1M159.5 778v2M168.5 761v2M168.5 766v2M168.5 771v2M169.5 760v4M169.5 765v4M169.5 770v4M170.5 760v4M170.5 765v4M170.5 770v4M171.5 761v2M171.5 766v2M171.5 771v2M175.5 774v1M176.5 773v3M177.5 772v4M178.5 771v4M179.5 770v4M180.5 770v3M181.5 771v1M182.5 786v1M183.5 785v3M184.5 784v5M185.5 785v3M186.5 786v1M192.5 776v2M193.5 775v4M194.5 775v4M195.5 776v2"/><path stroke="#edff12" d="M103.5 778v2M104.5 777v4M105.5 776v5M106.5 775v5M107.5 774v5M108.5 775v3M109.5 776v1M153.5 781v1M154.5 780v3M155.5 779v5M156.5 780v3M157.5 781v1"/><path stroke="#0080ff" d="M139.5 733v1M140.5 733v2M141.5 733v3M142.5 733v2M143.5 733v1M146.5 740v1M147.5 739v3M148.5 738v5M149.5 739v3M150.5 740v1M160.5 817v1M161.5 816v3M162.5 815v4M163.5 816v3M164.5 817v1M170.5 817v1M171.5 816v3M172.5 815v4M173.5 737v2M173.5 816v3M174.5 736v4M174.5 817v1M175.5 737v3M176.5 738v1M182.5 738v1M182.5 815v1M183.5 737v3M183.5 814v3M184.5 736v5M184.5 813v5M185.5 737v3M185.5 814v5M186.5 738v1M186.5 815v4M187.5 810v1M187.5 816v3M188.5 809v3M188.5 817v1M189.5 808v4M190.5 809v2M197.5 795v2M197.5 814v2M198.5 794v4M198.5 813v4M199.5 745v1M199.5 794v5M199.5 813v5M200.5 744v3M200.5 795v5M200.5 814v5M201.5 743v5M201.5 752v1M201.5 796v4M201.5 810v1M201.5 815v4M202.5 744v3M202.5 751v3M202.5 797v2M202.5 809v3M202.5 816v3M203.5 745v1M203.5 750v5M203.5 808v5M203.5 817v1M204.5 751v3M204.5 807v5M205.5 752v1M205.5 806v5M206.5 747v1M206.5 806v4M207.5 746v3M207.5 807v2M208.5 746v4M209.5 747v4M210.5 748v4M211.5 749v3M212.5 750v1M213.5 740v1M213.5 750v1M213.5 817v1M214.5 739v3M214.5 749v3M214.5 807v2M214.5 816v3M215.5 738v5M215.5 748v5M215.5 806v4M215.5 815v4M216.5 739v3M216.5 749v5M216.5 806v3M216.5 816v3M217.5 740v1M217.5 750v5M217.5 807v1M217.5 817v1M218.5 745v1M218.5 751v4M219.5 744v3M219.5 752v2M220.5 733v1M220.5 743v5M221.5 733v2M221.5 744v3M222.5 733v3M222.5 745v1M223.5 733v2M223.5 745v1M224.5 733v1M224.5 744v3M225.5 743v5M226.5 744v3M227.5 745v1M233.5 754v2M234.5 753v4M235.5 747v2M235.5 753v4M236.5 746v4M236.5 754v2M237.5 745v6M238.5 744v8M239.5 743v10M240.5 733v1M240.5 744v3M240.5 749v3M241.5 733v2M241.5 745v1M241.5 750v1M242.5 733v2M243.5 733v1M247.5 807v2M248.5 806v4M249.5 806v4M250.5 807v2M254.5 815v1M255.5 813v4M256.5 813v4M257.5 812v4M258.5 810v5M259.5 810v4M260.5 809v4M261.5 745v1M261.5 808v4M262.5 735v2M262.5 744v3M262.5 809v2M263.5 734v4M263.5 743v5M264.5 733v4M264.5 744v3M265.5 733v3M265.5 745v1M266.5 733v2M267.5 733v1M271.5 740v1M271.5 754v2M271.5 759v2M272.5 739v3M272.5 753v4M272.5 758v4M273.5 739v4M273.5 753v9M273.5 810v1M274.5 740v2M274.5 754v7M274.5 809v3M275.5 755v5M275.5 808v5M276.5 740v2M276.5 756v3M276.5 809v3M277.5 739v4M277.5 757v1M277.5 810v1M278.5 739v4M279.5 740v2M285.5 798v1M286.5 797v3M286.5 807v2M287.5 796v5M287.5 806v4M288.5 797v3M288.5 806v3M289.5 798v1M289.5 807v1M290.5 740v1M290.5 817v1M291.5 739v3M291.5 816v3M292.5 738v5M292.5 815v4M293.5 739v3M293.5 752v2M293.5 816v3M294.5 740v1M294.5 751v4M294.5 817v1M295.5 751v3M296.5 752v1M302.5 738v1M303.5 737v3M304.5 736v5M305.5 737v3M306.5 738v1M307.5 814v2M308.5 813v4M309.5 813v5M310.5 814v5M311.5 815v4M312.5 816v3M313.5 817v1M317.5 747v2M318.5 746v4M319.5 746v4M320.5 747v2M324.5 754v2M325.5 753v4M326.5 753v4M326.5 815v1M327.5 754v2M327.5 814v3M328.5 813v4M329.5 814v2M343.5 740v1M343.5 817v1M344.5 739v3M344.5 816v3M345.5 739v4M345.5 815v4M346.5 740v2M346.5 747v2M346.5 790v2M346.5 816v2M347.5 746v4M347.5 789v4M348.5 746v3M348.5 790v3M349.5 747v1M349.5 791v1M350.5 743v1M350.5 752v1M350.5 814v2M351.5 742v3M351.5 751v3M351.5 813v4M352.5 741v4M352.5 750v5M352.5 813v4M353.5 742v2M353.5 751v3M353.5 814v2M354.5 752v1M355.5 795v2M355.5 814v2M356.5 794v4M356.5 813v4M357.5 750v1M357.5 793v5M357.5 813v4M358.5 749v3M358.5 792v5M358.5 814v2M359.5 748v5M359.5 791v5M360.5 737v2M360.5 749v3M360.5 790v5M361.5 736v4M361.5 750v1M361.5 789v5M362.5 736v4M362.5 779v1M362.5 789v5M363.5 737v2M363.5 778v3M363.5 790v5M364.5 733v1M364.5 777v4M364.5 791v5M365.5 733v2M365.5 742v2M365.5 778v2M365.5 792v3M366.5 733v3M366.5 741v4M366.5 793v1M367.5 733v2M367.5 741v4M367.5 812v1M368.5 733v1M368.5 742v2M368.5 811v3M369.5 811v4M370.5 812v2M372.5 754v2M373.5 753v4M374.5 753v4M375.5 754v2M376.5 817v1M377.5 759v2M377.5 797v2M377.5 812v2M377.5 816v3M378.5 758v4M378.5 796v4M378.5 811v8M379.5 758v4M379.5 797v3M379.5 810v4M379.5 816v3M380.5 759v2M380.5 798v1M380.5 809v4M380.5 817v1M381.5 808v4M382.5 809v2M388.5 733v1M389.5 733v2M389.5 742v2M389.5 761v2M390.5 733v3M390.5 741v4M390.5 760v4M390.5 818v1M391.5 733v2M391.5 741v4M391.5 761v3M391.5 818v1M392.5 733v1M392.5 742v2M392.5 762v1M398.5 795v1M399.5 794v3M400.5 794v4M401.5 795v2M401.5 802v2M402.5 801v4M403.5 801v4M403.5 814v2M404.5 802v2M404.5 813v4M405.5 807v1M405.5 813v5M406.5 807v2M406.5 814v5M407.5 805v5M407.5 815v4M408.5 806v3M408.5 816v3M409.5 807v1M409.5 817v1M410.5 783v1M411.5 782v3M412.5 782v4M413.5 783v4M414.5 784v4M414.5 818v1M415.5 754v2M415.5 785v3M415.5 818v1M416.5 753v4M416.5 786v1M417.5 753v4M417.5 762v1M418.5 754v2M418.5 761v3M418.5 771v2M419.5 760v5M419.5 770v4M420.5 761v3M420.5 770v3M420.5 807v2M421.5 762v1M421.5 771v1M421.5 806v4M422.5 752v1M422.5 767v1M422.5 806v5M423.5 751v3M423.5 766v3M423.5 807v5M424.5 750v5M424.5 765v4M424.5 808v5M425.5 751v3M425.5 766v2M425.5 809v3M426.5 752v1M426.5 810v1M428.5 818v1M429.5 818v1M432.5 771v2M433.5 770v4M434.5 770v4M434.5 778v2M435.5 771v2M435.5 777v4M436.5 777v5M437.5 761v2M437.5 778v5M438.5 760v4M438.5 779v5M439.5 754v2M439.5 761v3M439.5 780v3M439.5 802v2M439.5 812v1M440.5 753v4M440.5 762v1M440.5 781v1M440.5 801v4M440.5 811v3M441.5 753v5M441.5 786v1M441.5 800v5M441.5 810v5M442.5 754v5M442.5 785v3M442.5 799v5M442.5 809v7M443.5 755v5M443.5 784v5M443.5 798v5M443.5 808v9M444.5 756v3M444.5 785v3M444.5 799v3M444.5 809v3M444.5 814v2M445.5 757v1M445.5 786v1M445.5 800v1M445.5 810v1M449.5 788v2M449.5 797v2M450.5 787v4M450.5 796v4M451.5 787v3M451.5 797v3M451.5 814v2M452.5 788v1M452.5 798v1M452.5 813v4M453.5 788v1M453.5 807v1M453.5 813v5M454.5 787v3M454.5 802v2M454.5 807v2M454.5 814v5M455.5 786v5M455.5 801v9M455.5 815v4M456.5 787v3M456.5 802v7M456.5 816v3M457.5 788v1M457.5 803v5M457.5 817v1M458.5 804v3M458.5 812v1"/><path stroke="#0037ff" d="M174.5 818v1M175.5 818v1M199.5 750v1M200.5 749v3M201.5 748v4M202.5 749v2M254.5 733v1M255.5 733v2M256.5 733v3M257.5 733v2M258.5 733v1M259.5 733v1M260.5 733v2M261.5 733v3M262.5 733v2M263.5 733v1M275.5 818v1M276.5 818v1M302.5 733v1M303.5 733v2M303.5 818v1M304.5 733v3M304.5 818v1M305.5 733v2M306.5 733v1M324.5 740v2M325.5 739v4M326.5 739v4M327.5 740v2M340.5 757v1M341.5 756v3M342.5 755v5M343.5 756v3M344.5 757v1M369.5 733v1M369.5 795v1M370.5 733v2M370.5 795v2M371.5 733v3M371.5 793v5M372.5 733v2M372.5 794v3M373.5 733v1M373.5 795v1M379.5 738v1M379.5 747v2M380.5 737v3M380.5 746v4M381.5 736v4M381.5 746v4M382.5 737v2M382.5 747v2M432.5 766v2M433.5 765v4M434.5 765v4M435.5 766v2M447.5 818v1M448.5 818v1M456.5 800v2M457.5 799v4M458.5 798v4"/><path stroke="#005bff" d="M175.5 817v1M176.5 816v3M177.5 815v4M178.5 816v3M179.5 817v1M198.5 818v1M199.5 818v1M238.5 754v2M239.5 753v4M240.5 754v3M241.5 755v1M242.5 735v1M243.5 734v3M244.5 734v4M245.5 735v2M271.5 812v1M272.5 811v3M273.5 811v4M274.5 812v2M276.5 749v2M276.5 817v1M277.5 748v4M277.5 816v3M278.5 748v4M278.5 816v3M279.5 749v2M279.5 817v1M280.5 817v1M281.5 816v3M282.5 815v4M283.5 810v1M283.5 816v3M284.5 809v3M284.5 817v1M285.5 808v4M286.5 809v2M295.5 735v2M296.5 734v4M297.5 734v4M298.5 735v2M307.5 738v1M308.5 737v3M309.5 736v4M310.5 737v2M312.5 747v2M312.5 809v2M313.5 746v4M313.5 808v4M314.5 746v4M314.5 808v4M315.5 747v2M315.5 809v2M317.5 742v2M318.5 741v4M319.5 740v5M320.5 739v5M321.5 739v4M322.5 740v2M345.5 733v1M345.5 757v1M346.5 733v2M346.5 756v3M347.5 733v3M347.5 755v5M348.5 733v2M348.5 756v3M349.5 733v1M349.5 757v1M351.5 818v1M352.5 818v1M355.5 733v1M356.5 733v2M357.5 733v3M358.5 733v4M359.5 733v5M360.5 734v3M361.5 735v1M362.5 740v1M363.5 739v3M364.5 738v5M365.5 739v3M366.5 740v1M377.5 802v2M378.5 801v4M379.5 801v4M380.5 802v2M381.5 750v1M382.5 749v3M383.5 748v5M384.5 749v3M384.5 809v2M385.5 750v1M385.5 808v4M386.5 808v4M387.5 809v2M388.5 805v1M389.5 804v3M390.5 803v5M391.5 804v3M392.5 805v1M393.5 733v1M393.5 738v1M393.5 800v1M394.5 733v2M394.5 737v3M394.5 799v3M395.5 733v8M395.5 798v5M396.5 733v2M396.5 737v3M396.5 799v3M397.5 733v1M397.5 738v1M397.5 800v1M401.5 763v3M402.5 762v5M403.5 763v3M403.5 800v1M404.5 764v1M404.5 799v3M405.5 799v4M406.5 800v2M417.5 800v1M417.5 810v1M418.5 799v3M418.5 809v3M419.5 798v5M419.5 808v5M420.5 759v2M420.5 764v2M420.5 799v3M420.5 809v3M421.5 758v4M421.5 763v4M421.5 800v1M421.5 810v1M422.5 758v4M422.5 763v4M422.5 795v1M423.5 759v2M423.5 764v2M423.5 794v3M424.5 794v4M425.5 795v2M427.5 776v1M428.5 775v3M429.5 775v4M430.5 776v2M434.5 764v1M435.5 763v3M436.5 762v5M437.5 763v3M438.5 764v1M442.5 790v2M443.5 789v4M444.5 790v3M445.5 791v1M448.5 793v1M449.5 792v3M450.5 791v5M451.5 792v3M452.5 793v1M456.5 776v2M456.5 795v2M457.5 775v4M457.5 794v4M457.5 818v1M458.5 775v4M458.5 793v5M458.5 818v1"/><path stroke="#ffed00" d="M194.5 779v1M195.5 778v3M196.5 777v4M197.5 778v2"/></g></g><g clip-path="url(#cpb)"><path d="M78.75 201.8 L78.75 200.6 79.85 200.6 80.95 200.6 82.05 199.9 83.15 199.3 84.25 198.6 85.35 200.0 86.45 200.6 87.55 199.8 88.65 199.2 89.75 198.4 90.85 198.8 91.95 199.8 93.05 200.6 94.15 200.7 95.25 200.9 96.35 200.3 97.45 200.5 98.55 200.3 99.65 200.9 100.75 200.8 101.85 200.3 102.95 201.1 104.05 201.1 105.15 200.8 106.25 200.8 107.35 200.4 108.45 200.3 109.55 200.7 110.65 200.4 111.75 200.5 112.85 200.5 113.95 200.4 115.05 200.7 116.15 200.7 117.25 201.1 118.35 200.8 119.45 200.9 120.55 200.8 121.65 200.8 122.75 200.9 123.85 200.7 124.95 200.6 126.05 201.1 127.15 201.1 128.25 201.0 129.35 200.8 130.45 200.5 131.55 200.4 132.65 200.5 133.75 200.6 134.85 199.0 135.95 198.3 137.05 200.6 138.15 200.8 139.25 200.6 140.35 200.9 141.45 200.6 142.55 201.1 143.65 201.0 144.75 200.3 145.85 200.5 146.95 201.1 148.05 200.7 149.15 201.2 150.25 200.8 151.35 200.7 152.45 200.4 153.55 200.9 154.65 201.0 155.75 200.5 156.85 200.4 157.95 200.6 159.05 201.1 160.15 200.9 161.25 200.3 162.35 200.4 163.45 200.3 164.55 200.6 165.65 199.3 166.75 198.2 167.85 196.0 168.40 199.4 168.95 195.8 169.50 198.7 170.05 193.3 170.60 198.4 171.15 195.0 171.70 199.1 172.25 195.0 172.80 197.8 173.35 198.3 174.45 198.2 175.55 199.0 176.65 198.9 177.75 197.0 178.30 199.5 178.85 193.3 179.40 196.3 179.95 188.0 180.50 196.0 181.05 184.0 181.60 190.0 182.15 190.9 182.70 196.7 183.25 189.2 183.80 194.7 184.35 190.0 184.90 197.8 185.45 184.3 186.00 195.2 186.55 178.0 187.10 192.6 187.65 181.5 188.20 193.2 188.75 187.4 189.30 197.2 189.85 185.0 190.40 196.4 190.95 179.1 191.50 193.1 192.05 158.0 192.60 178.6 193.15 174.3 193.70 188.9 194.25 175.0 194.80 183.3 195.35 165.5 195.90 184.4 196.45 179.1 197.00 187.0 197.55 178.0 198.10 193.4 198.65 178.0 199.20 185.9 199.75 156.8 200.30 173.7 200.85 175.8 201.40 192.5 201.95 176.0 202.50 186.4 203.05 177.0 203.60 192.9 204.15 176.8 204.70 184.6 205.25 176.4 205.80 188.2 206.35 180.1 206.90 194.8 207.45 173.0 208.00 193.5 208.55 168.0 209.10 178.5 209.65 177.1 210.20 187.5 210.75 175.2 211.30 185.0 211.85 161.8 212.40 180.7 212.95 176.6 213.50 193.0 214.05 170.0 214.60 183.2 215.15 145.5 215.70 185.4 216.25 164.6 216.80 182.7 217.35 150.0 217.90 168.7 218.45 137.3 219.00 177.1 219.55 116.5 220.10 145.0 220.65 140.0 221.20 180.2 221.75 150.0 222.30 187.9 222.85 157.5 223.40 181.4 223.95 125.5 224.50 180.1 225.05 160.0 225.60 187.5 226.15 183.0 226.70 193.5 227.25 189.0 227.80 197.3 228.35 192.6 228.90 195.5 229.45 191.5 230.00 194.4 230.55 183.8 231.10 191.6 231.65 188.1 232.20 194.4 232.75 191.5 233.30 198.0 233.85 195.6 234.40 199.6 234.95 193.0 235.50 195.7 236.05 192.9 236.60 195.5 237.15 190.8 237.70 198.4 238.25 190.3 238.80 196.0 239.35 187.0 239.90 192.9 240.45 185.0 241.00 189.8 241.55 176.0 242.10 193.9 242.65 187.0 243.20 194.1 243.75 188.5 244.30 192.8 244.85 187.0 245.40 192.9 245.95 185.4 246.50 191.5 247.05 179.8 247.60 192.4 248.15 175.4 248.70 186.7 249.25 184.6 249.80 190.5 250.35 189.0 250.90 195.7 251.45 190.8 252.00 194.5 252.55 190.8 253.10 195.8 253.65 191.2 254.20 196.9 254.75 189.6 255.30 195.0 255.85 186.0 256.40 196.7 256.95 191.0 257.50 194.0 258.05 191.5 258.60 194.9 259.15 192.4 259.70 197.3 260.25 192.2 260.80 196.5 261.35 193.2 261.90 196.1 262.45 190.8 263.00 198.1 263.55 189.2 264.10 194.1 264.65 194.2 265.20 197.5 265.75 193.1 266.30 198.2 266.85 192.3 267.40 196.1 267.95 192.9 268.50 196.7 269.05 189.2 269.60 193.2 270.15 193.0 270.70 199.0 271.25 193.1 271.80 196.6 272.35 193.9 272.90 198.7 273.45 190.8 274.00 194.3 274.55 186.0 275.10 192.8 275.65 189.5 276.20 193.5 276.75 190.5 277.30 195.2 277.85 187.0 278.40 196.2 278.95 190.6 279.50 194.6 280.05 188.5 280.60 192.9 281.15 188.5 281.70 195.7 282.25 189.5 282.80 196.5 283.35 191.2 283.90 196.4 284.45 185.4 285.00 191.2 285.55 181.5 286.10 189.9 286.65 177.0 287.20 184.7 287.75 182.5 288.30 195.0 288.85 173.0 289.40 188.3 289.95 184.5 290.50 195.3 291.05 183.0 291.60 193.1 292.15 178.7 292.70 190.5 293.25 176.3 293.80 185.5 294.35 163.0 294.90 174.7 295.45 175.4 296.00 193.7 296.55 170.0 297.10 192.8 297.65 159.0 298.20 174.0 298.75 169.8 299.30 183.2 299.85 136.0 300.40 168.1 300.95 154.7 301.50 172.9 302.05 138.0 302.60 184.7 303.15 163.5 303.70 184.0 304.25 148.0 304.80 187.2 305.35 159.2 305.90 186.1 306.45 160.0 307.00 188.2 307.55 173.0 308.10 193.4 308.65 176.3 309.20 189.9 309.75 170.0 310.30 184.5 310.85 160.0 311.40 178.7 311.95 175.4 312.50 183.6 313.05 188.0 313.60 193.7 314.15 195.1 314.70 198.3 315.25 195.5 315.80 199.2 316.35 197.5 316.90 199.4 317.45 195.7 318.00 199.2 318.55 196.6 319.10 199.2 319.65 194.5 320.20 197.3 320.75 195.8 321.30 198.3 321.85 195.3 322.40 198.6 322.95 195.3 323.50 197.3 324.05 197.1 324.60 198.4 325.15 195.0 325.70 197.5 326.25 196.8 326.80 199.1 327.35 195.1 327.90 197.1 328.45 195.5 329.00 198.2 329.55 193.0 330.10 195.8 330.65 193.5 331.20 195.9 331.75 194.4 332.30 197.4 332.85 195.1 333.40 197.6 333.95 192.7 334.50 196.5 335.05 191.8 335.60 195.7 336.15 193.7 336.70 196.2 337.25 189.0 337.80 192.7 338.35 190.1 338.90 194.4 339.45 185.5 340.00 194.9 340.55 185.1 341.10 190.9 341.65 187.3 342.20 197.1 342.75 180.0 343.30 191.6 343.85 179.2 344.40 188.0 344.95 166.8 345.50 184.9 346.05 182.5 346.60 189.6 347.15 184.6 347.70 191.0 348.25 178.0 348.80 193.5 349.35 176.3 349.90 186.1 350.45 154.2 351.00 186.4 351.55 169.4 352.10 185.8 352.65 150.0 353.20 171.6 353.75 159.6 354.30 177.8 354.85 168.0 355.40 178.7 355.95 176.2 356.50 184.2 357.05 172.0 357.60 192.6 358.15 178.5 358.70 190.0 359.25 165.5 359.80 187.5 360.35 155.1 360.90 176.3 361.45 141.8 362.00 172.2 362.55 141.2 363.10 171.0 363.65 133.0 364.20 174.5 364.75 147.6 365.30 167.3 365.85 125.0 366.40 151.2 366.95 113.5 367.50 170.9 368.05 123.7 368.60 148.0 369.15 128.0 369.70 165.5 370.25 144.1 370.80 181.6 371.35 135.0 371.90 168.6 372.45 150.0 373.00 176.7 373.55 190.0 374.10 195.3 374.65 197.0 375.20 200.0 375.75 198.5 376.85 197.1 377.40 199.1 377.95 196.5 378.50 198.3 379.05 193.8 379.60 197.4 380.15 197.1 380.70 198.8 381.25 197.5 381.80 200.0 382.35 198.1 383.45 198.4 384.55 199.3 385.65 199.5 386.75 198.9 387.85 198.4 388.95 197.1 389.50 199.8 390.05 196.1 390.60 198.0 391.15 193.8 391.70 196.3 392.25 197.8 392.80 199.7 393.35 198.5 394.45 198.1 395.55 198.3 396.65 198.4 397.75 199.0 398.85 198.1 399.95 197.7 400.50 200.1 401.05 199.1 402.15 200.6 403.25 200.4 404.35 200.8 405.45 200.5 406.55 200.5 407.65 200.7 408.75 200.3 409.85 200.8 410.95 200.3 412.05 200.6 413.15 200.4 414.25 200.4 415.35 200.7 416.45 200.6 417.55 200.6 418.65 200.6 419.75 200.7 420.85 200.4 421.95 200.4 423.05 200.8 424.15 200.8 425.25 200.7 426.35 201.0 427.45 200.8 428.55 201.0 429.65 200.5 430.75 200.9 431.85 201.0 432.95 201.0 434.05 200.6 435.15 200.6 436.25 201.1 437.35 200.5 438.45 201.1 439.55 201.0 440.65 200.4 441.75 200.5 442.85 200.9 443.95 200.6 445.05 200.4 446.15 201.0 447.25 200.7 448.35 201.0 449.45 200.5 450.55 200.7 451.65 200.9 452.75 200.4 453.85 200.5 454.95 200.9 456.05 201.1 457.15 201.2 458.25 200.8 L458.5 201.8Z" fill="#0000e8" stroke="#0000e8" stroke-width="1.0" stroke-linejoin="miter"/></g><g clip-path="url(#cpc)"><path d="M78.8 288.0L79.7 287.6 80.6 288.2 81.5 288.2 82.4 286.6 83.3 286.2 84.2 287.3 85.1 287.0 86.0 288.6 86.9 288.3 87.8 288.0 88.7 287.9 89.6 288.2 90.5 286.6 91.4 287.5 92.3 286.7 93.2 288.9 94.1 286.4 95.0 288.7 95.9 286.4 96.8 288.3 97.7 287.2 98.6 287.4 99.5 288.7 100.5 286.3 101.4 286.4 102.3 288.9 103.2 287.7 104.1 286.5 105.0 289.2 105.9 289.0 106.8 286.5 107.7 287.5 108.6 286.6 109.5 287.1 110.4 288.1 111.3 286.7 112.2 288.3 113.1 286.4 114.0 286.7 114.9 288.6 115.8 287.4 116.7 287.5 117.6 288.0 118.5 287.6 119.4 287.4 120.3 286.3 121.3 288.4 122.2 289.1 123.1 289.1 124.0 288.2 124.9 287.3 125.8 287.3 126.7 288.3 127.6 288.2 128.5 286.5 129.4 286.9 130.3 287.3 131.2 287.7 132.1 288.6 133.0 287.7 133.9 286.3 134.8 288.7 135.7 287.5 136.6 287.8 137.5 286.9 138.4 287.5 139.3 287.4 140.2 288.5 141.1 286.5 142.1 287.8 143.0 286.7 143.9 288.3 144.8 286.3 145.7 287.0 146.6 287.2 147.5 288.1 148.4 286.4 149.3 287.6 150.2 286.8 151.1 287.0 152.0 288.0 153.0 287.3 154.0 288.4 155.0 287.0 156.2 283.8 157.5 281.2 158.8 285.2 160.0 287.0 161.0 284.7 162.0 286.0 163.0 283.3 164.0 283.0 165.0 279.1 166.0 277.4 167.0 273.8 168.0 282.4 169.0 279.1 170.0 283.0 171.2 281.3 172.5 280.0 174.2 200.0 176.0 280.0 177.5 273.8 179.0 280.0 180.1 276.4 181.2 258.8 183.0 275.0 184.0 237.5 185.0 200.0 186.0 240.5 187.0 281.0 188.0 281.8 189.0 282.0 190.0 283.0 191.0 283.5 192.0 287.5 192.9 285.8 193.8 287.5 194.7 288.6 195.6 288.7 196.5 287.2 197.4 285.7 198.3 286.6 199.2 288.0 200.1 288.1 201.0 287.5 201.9 286.3 202.8 287.2 203.8 287.0 204.7 287.5 205.6 286.4 206.5 288.4 207.4 288.3 208.3 286.1 209.2 286.4 210.1 288.2 211.0 286.4 211.9 288.4 212.8 287.1 213.7 287.6 214.6 287.6 215.5 286.2 216.4 286.4 217.3 286.3 218.2 287.6 219.1 287.6 220.0 285.9 220.9 288.1 221.8 286.7 222.7 286.2 223.6 286.8 224.5 288.4 225.5 287.1 226.4 287.3 227.3 288.2 228.2 288.3 229.1 287.7 230.0 286.7 230.9 287.2 231.8 288.1 232.7 287.8 233.6 287.1 234.5 286.4 235.4 286.5 236.3 287.6 237.2 287.0 238.1 285.4 239.0 287.5 239.9 288.0 240.8 287.7 241.7 288.0 242.6 288.0 243.5 286.9 244.4 287.7 245.3 286.4 246.2 285.6 247.2 286.3 248.1 286.2 249.0 288.1 249.9 287.3 250.8 286.9 251.7 287.1 252.6 285.6 253.5 286.8 254.4 287.3 255.3 286.4 256.2 286.0 257.1 286.4 258.0 287.0 259.0 282.7 260.0 280.0 261.0 283.8 262.0 287.0 262.9 285.6 263.9 285.5 264.8 286.1 265.8 287.3 266.7 287.5 267.6 287.2 268.6 288.0 269.5 286.3 270.5 285.3 271.4 286.7 272.4 286.5 273.3 285.7 274.2 287.2 275.2 286.2 276.1 285.9 277.1 286.2 278.0 287.0 279.0 285.3 280.0 277.0 281.0 280.4 282.0 287.0 282.9 286.2 283.9 285.9 284.8 285.6 285.8 286.3 286.7 285.6 287.7 287.6 288.6 286.3 289.6 286.8 290.5 285.2 291.4 286.0 292.4 286.4 293.3 287.1 294.3 285.2 295.2 285.8 296.2 286.9 297.1 286.8 298.1 284.9 299.0 286.0 300.1 272.4 301.2 258.8 302.5 270.8 303.8 275.0 304.9 282.4 306.0 283.0 307.0 282.5 308.0 281.5 309.0 282.7 310.0 279.5 311.0 285.1 312.0 283.0 313.0 282.2 314.0 278.9 315.0 276.2 316.0 279.1 317.0 281.7 318.0 284.0 319.0 280.9 320.0 277.6 321.0 275.0 322.0 271.2 323.0 273.7 324.0 275.4 325.0 278.8 326.0 278.1 327.0 278.9 328.0 278.4 329.0 278.1 330.0 279.0 331.0 283.3 332.0 280.7 333.0 285.2 334.0 283.0 335.0 284.0 335.9 283.4 336.9 284.8 337.8 284.9 338.8 283.2 339.7 282.6 340.7 284.1 341.6 284.7 342.6 284.0 343.5 284.6 344.4 283.4 345.4 284.1 346.3 283.0 347.3 283.4 348.2 283.3 349.2 283.4 350.1 283.4 351.1 284.6 352.0 284.0 353.0 282.2 354.0 281.8 355.0 282.5 356.0 282.3 357.0 285.3 358.0 285.0 359.0 284.6 360.0 283.0 361.0 285.1 362.0 285.0 363.0 284.0 364.0 280.6 365.0 266.2 366.0 267.6 367.0 268.4 368.0 268.0 369.0 264.9 370.0 262.0 371.0 231.0 372.0 200.0 373.0 227.5 374.0 255.0 375.0 260.0 376.0 259.0 377.0 267.0 378.0 268.0 379.0 278.6 380.0 275.0 381.5 260.0 382.5 270.0 383.8 242.5 385.0 270.0 386.0 275.0 387.0 262.5 388.0 250.0 389.0 220.0 390.0 250.0 391.0 262.5 392.0 275.0 393.0 274.5 394.0 277.0 395.0 276.6 396.0 277.1 397.0 281.8 398.0 282.6 399.0 283.4 400.0 286.9 401.0 286.0 402.0 286.5 403.0 288.2 404.0 287.2 405.0 285.6 406.0 283.4 407.0 283.0 408.0 283.5 409.0 285.2 410.0 288.2 411.0 286.7 412.0 287.0 413.0 287.3 414.0 286.1 415.0 285.6 416.0 283.7 417.0 285.0 418.0 284.3 419.0 282.8 420.0 281.7 421.0 280.5 422.0 280.3 423.0 276.6 424.0 271.6 425.0 254.0 426.0 265.0 427.0 271.5 428.0 262.4 429.0 279.0 430.0 200.0 431.0 280.5 432.5 200.0 433.5 242.8 434.5 285.6 435.5 242.8 436.5 200.0 438.0 267.6 439.0 233.8 440.0 200.0 441.5 249.5 443.0 270.8 444.5 200.0 446.0 200.0 447.0 224.8 448.0 249.5 449.5 256.0 450.5 223.8 452.0 200.0 453.0 223.8 454.0 229.0 455.0 243.0 456.0 270.8 457.0 256.0 457.9 263.6 458.8 239.2" fill="none" stroke="#0000e8" stroke-width="2.7" stroke-linejoin="round" stroke-linecap="round"/></g><g clip-path="url(#cpd)"><path d="M78.8 375.7L79.7 376.3 80.6 376.3 81.5 376.5 82.4 375.6 83.3 375.6 84.2 375.5 85.1 375.6 86.0 376.3 86.9 375.5 87.8 376.0 88.7 375.6 89.6 375.7 90.5 375.9 91.4 376.5 92.3 376.2 93.2 375.2 94.1 374.6 95.0 373.6 95.9 373.7 96.8 372.8 97.7 371.9 98.6 371.1 99.5 371.8 100.4 373.3 101.3 374.0 102.2 373.4 103.1 374.4 104.0 374.0 104.9 374.6 105.8 374.3 106.7 374.2 107.6 374.1 108.5 374.2 109.4 374.0 110.3 373.4 111.2 373.3 112.1 372.2 113.0 373.2 113.9 373.6 114.8 374.1 115.7 374.6 116.6 373.7 117.5 374.5 118.4 374.2 119.3 373.8 120.2 373.8 121.1 373.8 122.0 373.1 122.9 373.0 123.8 372.9 124.7 372.2 125.6 371.5 126.5 372.0 127.4 372.7 128.3 373.7 129.2 374.6 130.1 375.0 131.0 374.7 131.9 375.7 132.8 376.3 133.7 375.6 134.6 376.2 135.5 376.6 136.4 375.4 137.3 375.5 138.2 376.4 139.1 376.5 140.0 376.2 140.9 375.5 141.8 375.9 142.7 376.5 143.6 376.5 144.5 376.4 145.4 375.5 146.3 376.3 147.2 375.5 148.1 375.9 149.0 374.9 149.9 376.0 150.8 375.5 151.7 375.7 152.6 375.0 153.5 375.6 154.4 370.7 155.3 362.2 156.2 365.5 157.1 371.6 158.0 368.9 158.9 367.9 159.8 366.5 160.7 367.6 161.6 362.8 162.5 361.5 163.4 359.8 164.3 363.7 165.2 364.1 166.1 364.8 167.0 363.1 167.9 363.8 168.8 361.8 169.7 359.0 170.6 360.7 171.5 370.3 172.4 367.2 173.3 364.8 174.2 361.2 175.1 359.9 176.0 360.2 176.9 365.3 177.8 367.7 178.7 368.0 179.6 359.6 180.5 357.2 181.4 355.0 182.3 356.1 183.2 352.4 184.1 351.1 185.0 355.7 185.9 357.3 186.8 359.6 187.7 363.3 188.6 365.8 189.5 365.3 190.4 363.4 191.3 366.8 192.2 368.8 193.1 366.8 194.0 368.8 194.9 367.8 195.8 367.5 196.7 368.0 197.6 367.4 198.5 367.6 199.4 365.5 200.3 366.9 201.2 364.9 202.1 368.0 203.0 366.8 203.9 363.4 204.8 367.0 205.7 364.4 206.6 365.1 207.5 365.1 208.4 364.2 209.3 363.8 210.2 364.0 211.1 362.6 212.0 364.4 212.9 361.7 213.8 363.3 214.7 361.1 215.6 360.7 216.5 360.3 217.4 358.6 218.3 358.2 219.2 358.2 220.1 357.8 221.0 358.2 221.9 357.6 222.8 353.9 223.7 354.5 224.6 352.3 225.5 353.2 226.4 350.2 227.3 350.4 228.2 348.5 229.1 349.5 230.0 351.4 230.9 355.4 231.8 360.7 232.7 360.3 233.6 362.4 234.5 363.2 235.4 364.4 236.3 367.2 237.2 366.4 238.1 366.6 239.0 365.1 239.9 364.5 240.8 362.9 241.7 363.8 242.6 362.2 243.5 362.4 244.4 362.3 245.3 362.6 246.2 362.1 247.1 359.1 248.0 358.4 248.9 359.0 249.8 359.1 250.7 357.6 251.6 356.1 252.5 357.3 253.4 354.8 254.3 353.9 255.2 353.5 256.1 353.1 257.0 354.9 257.9 354.5 258.8 357.8 259.7 359.8 260.6 360.4 261.5 359.2 262.4 357.5 263.3 357.5 264.2 357.6 265.1 356.7 266.0 356.0 266.9 358.0 267.8 356.6 268.7 357.8 269.6 360.4 270.5 359.6 271.4 359.9 272.3 362.4 273.2 362.3 274.1 361.8 275.0 362.8 275.9 362.0 276.8 360.7 277.7 360.9 278.6 357.3 279.5 357.5 280.4 356.6 281.3 355.2 282.2 357.0 283.1 356.3 284.0 355.5 284.9 354.8 285.8 356.9 286.7 360.1 287.6 360.9 288.5 360.4 289.4 360.1 290.3 359.6 291.2 357.9 292.1 358.3 293.0 357.4 293.9 360.5 294.8 359.3 295.7 359.6 296.6 361.5 297.5 361.1 298.4 363.3 299.2 362.6 300.1 362.9 301.0 362.7 301.9 359.7 302.8 360.2 303.7 358.4 304.6 356.3 305.5 356.4 306.4 352.3 307.3 353.6 308.2 350.4 309.1 351.3 310.0 348.0 310.9 344.3 311.8 342.3 312.7 343.7 313.6 342.4 314.5 343.8 315.4 344.2 316.3 342.4 317.2 342.5 318.1 340.7 319.0 344.2 319.9 347.4 320.8 342.7 321.7 338.6 322.6 334.4 323.5 334.2 324.4 332.2 325.3 333.4 326.2 334.0 327.1 333.2 328.0 336.7 328.9 336.1 329.8 335.1 330.7 335.3 331.6 335.4 332.5 336.0 333.4 336.3 334.3 336.6 335.2 336.4 336.1 337.2 337.0 339.9 337.9 340.7 338.8 340.4 339.7 343.1 340.6 344.4 341.5 345.6 342.4 347.8 343.3 349.8 344.2 350.5 345.1 353.2 346.0 351.4 346.9 350.6 347.8 349.2 348.7 349.9 349.6 348.1 350.5 348.8 351.4 346.7 352.3 347.2 353.2 347.8 354.1 347.2 355.0 346.3 355.9 343.3 356.8 342.1 357.7 339.7 358.6 338.0 359.5 335.1 360.4 335.6 361.3 336.8 362.2 339.3 363.1 341.6 364.0 340.4 364.9 337.0 365.8 336.2 366.7 334.9 367.6 334.2 368.5 331.7 369.4 330.0 370.3 323.3 371.2 319.7 372.1 311.5 373.0 306.7 373.9 305.0 374.8 299.9 375.7 298.3 376.6 298.3 377.5 298.7 378.4 300.9 379.3 302.0 380.2 302.8 381.1 301.5 382.0 303.3 382.9 300.2 383.8 293.0 384.7 290.6 385.6 300.1 386.5 304.5 387.4 307.0 388.3 308.5 389.2 310.3 390.1 310.9 391.0 303.0 391.9 297.2 392.8 297.7 393.7 301.8 394.6 306.3 395.5 310.8 396.4 311.7 397.3 316.6 398.2 318.2 399.1 319.9 400.0 320.7 400.9 318.0 401.8 316.3 402.7 313.8 403.6 312.8 404.5 307.0 405.4 304.0 406.3 297.7 407.2 296.4 408.1 291.3 409.0 290.6 409.9 287.8 410.8 283.4 411.7 283.6 412.6 280.0 413.5 279.0 414.4 276.9 415.3 276.8 416.2 274.2 417.1 275.0 418.0 273.2 418.9 271.3 419.8 271.0 420.7 269.0 421.6 269.4 422.5 269.5 423.4 268.2 424.3 271.4 425.2 268.5 426.1 268.6 427.0 271.1 427.9 271.1 428.8 269.8 429.7 269.7 430.6 268.7 431.5 268.2 432.4 270.1 433.3 269.1 434.2 268.7 435.1 271.5 436.0 268.3 436.9 269.5 437.8 270.9 438.7 270.9 439.6 268.6 440.5 270.9 441.4 270.2 442.3 270.5 443.2 271.6 444.1 271.1 445.0 270.4 445.9 271.0 446.8 270.0 447.7 270.2 448.6 271.1 449.5 270.4 450.4 269.6 451.3 268.3 452.2 271.0 453.1 269.4 454.0 269.7 454.9 269.2 455.8 270.2 456.7 269.6 457.6 271.2" fill="none" stroke="#0000e8" stroke-width="2.9" stroke-linejoin="round" stroke-linecap="round"/></g><g clip-path="url(#cpe)"><path d="M78.8 407.6L79.8 407.6 80.8 407.6 81.8 407.6 82.8 407.4 83.8 407.2 84.8 407.3 85.8 407.2 86.8 407.0 87.8 407.0 88.8 406.9 89.8 406.9 90.8 406.7 91.8 406.5 92.8 406.6 93.8 406.5 94.8 406.3 95.8 406.4 96.8 406.3 97.8 406.1 98.8 406.1 99.8 406.1 100.8 405.9 101.8 405.9 102.8 405.8 103.8 405.8 104.8 405.7 105.8 405.6 106.8 405.8 107.8 405.8 108.8 405.9 109.8 405.8 110.8 405.7 111.8 405.8 112.8 405.8 113.8 405.6 114.8 405.6 115.8 405.6 116.8 405.4 117.8 405.3 118.8 405.5 119.8 405.4 120.8 405.3 121.8 405.3 122.8 405.2 123.8 405.3 124.8 405.3 125.8 405.1 126.8 405.2 127.8 405.1 128.8 405.0 129.8 404.9 130.8 405.0 131.8 404.9 132.8 404.9 133.8 404.8 134.8 404.8 135.8 404.9 136.8 404.9 137.8 404.9 138.8 404.8 139.8 404.8 140.8 404.8 141.8 404.6 142.8 404.6 143.8 404.6 144.8 404.7 145.8 404.8 146.8 404.6 147.8 404.4 148.8 404.5 149.8 404.5 150.8 404.3 151.8 404.3 152.8 404.4 153.8 404.3 154.8 404.1 155.8 404.1 156.8 404.1 157.8 403.9 158.8 403.8 159.8 403.6 160.8 403.7 161.8 403.6 162.8 403.5 163.8 403.4 164.8 403.2 165.8 403.1 166.8 403.3 167.8 403.2 168.8 403.1 169.8 403.1 170.8 402.9 171.8 402.6 172.8 402.3 173.8 402.0 174.8 401.8 175.8 401.6 176.8 401.6 177.8 401.4 178.8 401.1 179.8 401.0 180.8 400.9 181.8 400.6 182.8 400.5 183.8 400.3 184.8 400.1 185.8 399.9 186.8 399.8 187.8 399.6 188.8 399.4 189.8 399.2 190.8 398.9 191.8 398.7 192.8 398.6 193.8 398.3 194.8 398.2 195.8 398.0 196.8 398.1 197.8 398.0 198.8 397.8 199.8 397.9 200.8 397.8 201.8 397.7 202.8 397.5 203.8 397.4 204.8 397.3 205.8 397.5 206.8 397.5 207.8 397.5 208.8 397.7 209.8 397.8 210.8 397.8 211.8 398.0 212.8 398.0 213.8 398.0 214.8 398.1 215.8 398.0 216.8 398.0 217.8 397.9 218.8 398.1 219.8 398.0 220.8 398.1 221.8 398.0 222.8 398.0 223.8 398.1 224.8 398.0 225.8 398.2 226.8 398.4 227.8 398.5 228.8 398.5 229.8 398.6 230.8 398.7 231.8 398.9 232.8 399.2 233.8 399.5 234.8 399.4 235.8 399.6 236.8 399.8 237.8 399.9 238.8 399.8 239.8 400.0 240.8 400.1 241.8 400.3 242.8 400.5 243.8 400.6 244.8 400.7 245.8 400.5 246.8 400.6 247.8 400.5 248.8 400.4 249.8 400.4 250.8 400.5 251.8 400.3 252.8 400.4 253.8 400.5 254.8 400.5 255.8 400.5 256.8 400.4 257.8 400.6 258.8 400.5 259.8 400.5 260.8 400.6 261.8 400.4 262.8 400.6 263.8 400.5 264.8 400.6 265.8 400.7 266.8 400.7 267.8 400.8 268.8 400.6 269.8 400.6 270.8 400.4 271.8 400.4 272.8 400.1 273.8 399.9 274.8 400.0 275.8 399.9 276.8 399.8 277.8 399.8 278.8 399.5 279.8 399.5 280.8 399.2 281.8 399.2 282.8 398.9 283.8 398.7 284.8 398.7 285.8 398.6 286.8 398.4 287.8 398.4 288.8 398.3 289.8 398.1 290.8 398.0 291.8 397.8 292.8 398.0 293.8 398.0 294.8 398.0 295.8 398.0 296.8 397.9 297.8 397.8 298.8 397.8 299.8 397.8 300.8 398.0 301.8 397.9 302.8 397.8 303.8 398.0 304.8 398.0 305.8 397.9 306.8 398.0 307.8 398.0 308.8 398.1 309.8 398.1 310.8 397.9 311.8 397.6 312.8 397.6 313.8 397.4 314.8 397.3 315.8 397.0 316.8 396.8 317.8 396.7 318.8 396.4 319.8 396.3 320.8 396.2 321.8 396.3 322.8 396.2 323.8 396.2 324.8 396.3 325.8 396.2 326.8 396.1 327.8 396.2 328.8 396.1 329.8 396.2 330.8 396.0 331.8 395.9 332.8 395.6 333.8 395.2 334.8 395.0 335.8 394.8 336.8 394.6 337.8 394.3 338.8 394.0 339.8 393.9 340.8 393.5 341.8 393.4 342.8 393.0 343.8 392.8 344.8 392.4 345.8 392.2 346.8 392.2 347.8 392.2 348.8 392.0 349.8 391.8 350.8 391.7 351.8 391.6 352.8 391.4 353.8 391.3 354.8 391.3 355.8 391.1 356.8 390.9 357.8 390.9 358.8 390.9 359.8 390.6 360.8 390.6 361.8 390.8 362.8 391.1 363.8 391.2 364.8 391.4 365.8 391.8 366.8 391.9 367.8 392.2 368.8 392.3 369.8 392.5 370.8 392.8 371.8 392.9 372.8 393.3 373.8 393.5 374.8 393.8 375.8 394.0 376.8 394.0 377.8 394.3 378.8 394.5 379.8 394.6 380.8 394.8 381.8 394.9 382.8 395.1 383.8 395.3 384.8 395.5 385.8 395.7 386.8 395.9 387.8 396.4 388.8 396.7 389.8 397.1 390.8 397.2 391.8 397.6 392.8 397.7 393.8 398.1 394.8 398.3 395.8 398.7 396.8 398.8 397.8 399.1 398.8 399.3 399.8 399.5 400.8 399.7 401.8 400.0 402.8 400.4 403.8 400.6 404.8 400.9 405.8 401.0 406.8 401.2 407.8 401.4 408.8 401.8 409.8 402.1 410.8 402.3 411.8 402.3 412.8 402.5 413.8 402.6 414.8 402.7 415.8 403.0 416.8 403.2 417.8 403.3 418.8 403.6 419.8 404.0 420.8 404.3 421.8 404.6 422.8 404.6 423.8 404.7 424.8 405.1 425.8 405.2 426.8 405.4 427.8 405.8 428.8 406.1 429.8 406.4 430.8 406.7 431.8 407.0 432.8 407.1 433.8 407.5 434.8 407.7 435.8 408.0 436.8 408.1 437.8 408.3 438.8 408.6 439.8 408.8 440.8 409.3 441.8 409.5 442.8 409.8 443.8 410.2 444.8 410.5 445.8 410.8 446.8 410.9 447.8 410.9 448.8 410.9 449.8 411.2 450.8 411.7 451.8 412.3 452.8 412.1 453.8 411.4 454.8 410.6 455.8 410.2 456.8 409.5 457.8 409.0" fill="none" stroke="#0000e8" stroke-width="2.8" stroke-linejoin="round" stroke-linecap="round"/><path d="M78.8 456.0L79.8 455.6 80.8 455.9 81.8 455.8 82.8 455.8 83.8 456.0 84.8 455.9 85.8 455.7 86.8 455.5 87.8 455.8 88.8 455.7 89.8 455.8 90.8 455.8 91.8 456.0 92.8 456.1 93.8 456.1 94.8 455.9 95.8 456.0 96.8 455.8 97.8 455.5 98.8 455.6 99.8 455.4 100.8 455.7 101.8 455.6 102.8 455.6 103.8 455.5 104.8 455.5 105.8 455.6 106.8 455.8 107.8 455.6 108.8 455.6 109.8 455.6 110.8 455.9 111.8 455.9 112.8 455.8 113.8 456.1 114.8 456.0 115.8 455.9 116.8 455.9 117.8 455.8 118.8 456.0 119.8 455.9 120.8 456.0 121.8 456.0 122.8 456.2 123.8 456.3 124.8 456.2 125.8 456.4 126.8 456.6 127.8 456.7 128.8 456.6 129.8 456.4 130.8 456.3 131.8 456.5 132.8 456.4 133.8 456.5 134.8 456.4 135.8 456.4 136.8 456.2 137.8 456.4 138.8 456.3 139.8 456.4 140.8 456.6 141.8 456.8 142.8 457.0 143.8 457.0 144.8 456.8 145.8 457.0 146.8 456.8 147.8 456.8 148.8 457.1 149.8 457.3 150.8 457.2 151.8 457.4 152.8 457.2 153.8 457.0 154.8 457.0 155.8 457.4 156.8 457.2 157.8 457.2 158.8 457.3 159.8 457.3 160.8 457.6 161.8 457.4 162.8 457.4 163.8 457.8 164.8 457.6 165.8 457.6 166.8 457.7 167.8 458.1 168.8 457.4 169.8 456.7 170.8 456.1 171.8 455.3 172.8 456.3 173.8 457.2 174.8 458.6 175.8 458.0 176.8 457.3 177.8 456.0 178.8 456.7 179.8 458.1 180.8 459.6 181.8 458.6 182.8 457.3 183.8 455.6 184.8 455.6 185.8 456.0 186.8 456.8 187.8 457.5 188.8 457.2 189.8 456.4 190.8 455.7 191.8 455.3 192.8 455.0 193.8 454.8 194.8 454.3 195.8 454.0 196.8 453.6 197.8 453.2 198.8 452.7 199.8 452.4 200.8 452.2 201.8 452.1 202.8 452.1 203.8 451.9 204.8 452.2 205.8 452.2 206.8 452.1 207.8 452.4 208.8 452.5 209.8 452.4 210.8 452.6 211.8 452.8 212.8 452.6 213.8 452.5 214.8 452.2 215.8 452.2 216.8 452.5 217.8 452.4 218.8 452.6 219.8 452.2 220.8 452.0 221.8 452.0 222.8 451.9 223.8 452.2 224.8 452.6 225.8 452.6 226.8 452.6 227.8 452.5 228.8 452.4 229.8 452.3 230.8 452.3 231.8 452.0 232.8 452.2 233.8 452.1 234.8 452.0 235.8 452.1 236.8 451.8 237.8 451.9 238.8 451.8 239.8 451.7 240.8 451.4 241.8 451.0 242.8 450.7 243.8 450.4 244.8 449.9 245.8 449.6 246.8 448.9 247.8 448.7 248.8 448.4 249.8 447.9 250.8 447.4 251.8 447.4 252.8 447.1 253.8 446.9 254.8 447.0 255.8 446.5 256.8 446.5 257.8 446.2 258.8 446.3 259.8 446.0 260.8 445.6 261.8 445.6 262.8 445.5 263.8 445.5 264.8 445.2 265.8 445.0 266.8 444.8 267.8 444.7 268.8 444.4 269.8 444.4 270.8 444.5 271.8 444.4 272.8 444.1 273.8 443.9 274.8 443.6 275.8 443.5 276.8 443.5 277.8 443.1 278.8 443.1 279.8 443.2 280.8 442.9 281.8 442.6 282.8 442.6 283.8 442.2 284.8 442.0 285.8 441.9 286.8 441.8 287.8 441.5 288.8 441.2 289.8 441.1 290.8 441.1 291.8 440.5 292.8 440.3 293.8 439.9 294.8 439.4 295.8 439.0 296.8 438.8 297.8 438.2 298.8 437.9 299.8 437.5 300.8 437.1 301.8 437.0 302.8 436.7 303.8 436.5 304.8 436.2 305.8 436.0 306.8 435.8 307.8 435.6 308.8 435.3 309.8 434.7 310.8 434.5 311.8 434.1 312.8 433.9 313.8 434.4 314.8 435.2 315.8 435.9 316.8 437.0 317.8 437.9 318.8 439.0 319.8 439.7 320.8 440.0 321.8 439.7 322.8 439.6 323.8 439.5 324.8 439.5 325.8 439.5 326.8 439.4 327.8 439.7 328.8 439.4 329.8 439.4 330.8 439.1 331.8 438.8 332.8 438.6 333.8 438.7 334.8 438.3 335.8 438.2 336.8 438.1 337.8 438.1 338.8 438.1 339.8 437.6 340.8 437.7 341.8 437.3 342.8 437.1 343.8 436.9 344.8 437.0 345.8 437.3 346.8 437.8 347.8 438.1 348.8 438.5 349.8 438.9 350.8 439.6 351.8 440.0 352.8 440.5 353.8 440.9 354.8 441.1 355.8 441.5 356.8 441.9 357.8 442.6 358.8 443.0 359.8 443.5 360.8 443.3 361.8 442.7 362.8 442.3 363.8 441.9 364.8 441.7 365.8 441.3 366.8 440.6 367.8 439.8 368.8 439.0 369.8 438.3 370.8 437.7 371.8 437.4 372.8 437.0 373.8 437.1 374.8 437.3 375.8 437.5 376.8 437.5 377.8 437.6 378.8 437.9 379.8 438.0 380.8 438.5 381.8 438.9 382.8 439.0 383.8 439.5 384.8 439.6 385.8 440.2 386.8 440.4 387.8 440.7 388.8 441.2 389.8 441.8 390.8 442.4 391.8 442.7 392.8 443.4 393.8 443.8 394.8 444.5 395.8 445.1 396.8 445.7 397.8 445.8 398.8 446.1 399.8 446.5 400.8 447.0 401.8 447.3 402.8 447.7 403.8 448.0 404.8 448.9 405.8 449.3 406.8 449.6 407.8 450.0 408.8 450.4 409.8 450.8 410.8 451.1 411.8 451.2 412.8 451.2 413.8 450.7 414.8 450.7 415.8 450.7 416.8 450.5 417.8 450.5 418.8 450.0 419.8 450.0 420.8 450.0 421.8 449.8 422.8 449.5 423.8 449.7 424.8 449.6 425.8 449.3 426.8 449.3 427.8 448.9 428.8 448.9 429.8 448.9 430.8 448.9 431.8 448.8 432.8 449.0 433.8 448.9 434.8 448.7 435.8 448.7 436.8 448.6 437.8 448.9 438.8 448.6 439.8 448.8 440.8 448.7 441.8 448.3 442.8 448.4 443.8 448.5 444.8 448.1 445.8 447.4 446.8 446.3 447.8 445.3 448.8 444.3 449.8 443.7 450.8 442.8 451.8 441.9 452.8 441.1 453.8 441.6 454.8 442.9 455.8 443.7 456.8 444.4 457.8 445.2" fill="none" stroke="#e80000" stroke-width="2.8" stroke-linejoin="round" stroke-linecap="round"/><path d="M78.8 455.1L79.8 454.8 80.8 455.0 81.8 455.2 82.8 455.0 83.8 454.9 84.8 455.0 85.8 454.9 86.8 454.8 87.8 455.0 88.8 455.1 89.8 454.8 90.8 454.9 91.8 454.6 92.8 454.8 93.8 454.6 94.8 454.9 95.8 454.5 96.8 454.4 97.8 454.4 98.8 454.4 99.8 454.6 100.8 454.4 101.8 454.2 102.8 454.2 103.8 454.1 104.8 454.5 105.8 454.5 106.8 454.4 107.8 454.3 108.8 454.3 109.8 454.3 110.8 454.3 111.8 454.5 112.8 454.3 113.8 454.5 114.8 454.7 115.8 454.7 116.8 454.4 117.8 454.5 118.8 454.6 119.8 454.4 120.8 454.6 121.8 454.4 122.8 454.2 123.8 454.1 124.8 454.4 125.8 454.2 126.8 454.3 127.8 454.4 128.8 454.5 129.8 454.7 130.8 454.7 131.8 454.4 132.8 454.4 133.8 454.2 134.8 454.5 135.8 454.4 136.8 454.5 137.8 454.5 138.8 454.5 139.8 454.5 140.8 454.4 141.8 454.5 142.8 454.5 143.8 454.7 144.8 454.8 145.8 454.5 146.8 454.6 147.8 454.5 148.8 454.7 149.8 454.7 150.8 454.5 151.8 454.5 152.8 454.5 153.8 454.5 154.8 454.4 155.8 454.5 156.8 454.5 157.8 454.7 158.8 454.5 159.8 454.5 160.8 454.3 161.8 454.6 162.8 454.4 163.8 454.7 164.8 454.8 165.8 454.8 166.8 454.8 167.8 454.9 168.8 454.7 169.8 454.7 170.8 455.2 171.8 455.7 172.8 456.3 173.8 456.8 174.8 457.6 175.8 458.2 176.8 458.5 177.8 458.1 178.8 457.1 179.8 456.0 180.8 456.4 181.8 457.4 182.8 458.3 183.8 458.9 184.8 458.6 185.8 457.6 186.8 456.5 187.8 455.8 188.8 455.8 189.8 455.9 190.8 455.9 191.8 456.0 192.8 455.7 193.8 455.4 194.8 455.1 195.8 455.3 196.8 455.2 197.8 455.0 198.8 454.9 199.8 454.7 200.8 454.6 201.8 454.5 202.8 454.5 203.8 454.5 204.8 454.5 205.8 454.4 206.8 454.5 207.8 454.7 208.8 454.5 209.8 454.4 210.8 454.6 211.8 454.9 212.8 454.9 213.8 455.0 214.8 455.0 215.8 454.9 216.8 454.9 217.8 454.8 218.8 455.0 219.8 454.8 220.8 455.0 221.8 454.8 222.8 454.7 223.8 454.8 224.8 455.0 225.8 455.2 226.8 455.2 227.8 455.1 228.8 455.2 229.8 455.0 230.8 454.7 231.8 454.9 232.8 454.7 233.8 454.8 234.8 455.0 235.8 455.2 236.8 454.9 237.8 455.2 238.8 455.0 239.8 455.0 240.8 455.3 241.8 455.4 242.8 455.5 243.8 455.8 244.8 455.7 245.8 456.0 246.8 456.3 247.8 456.5 248.8 456.3 249.8 456.4 250.8 456.4 251.8 456.6 252.8 456.9 253.8 457.0 254.8 457.3 255.8 457.7 256.8 458.0 257.8 458.0 258.8 458.0 259.8 458.1 260.8 458.6 261.8 458.7 262.8 459.0 263.8 459.1 264.8 459.4 265.8 459.4 266.8 459.6 267.8 459.8 268.8 460.1 269.8 460.1 270.8 460.4 271.8 460.8 272.8 460.8 273.8 460.7 274.8 460.9 275.8 461.1 276.8 461.5 277.8 461.4 278.8 461.4 279.8 461.8 280.8 461.8 281.8 461.7 282.8 461.8 283.8 461.7 284.8 462.0 285.8 461.7 286.8 461.7 287.8 461.4 288.8 461.3 289.8 461.6 290.8 461.7 291.8 461.7 292.8 461.5 293.8 461.5 294.8 461.2 295.8 460.9 296.8 460.7 297.8 460.5 298.8 460.4 299.8 460.3 300.8 460.1 301.8 459.9 302.8 460.0 303.8 460.0 304.8 459.6 305.8 459.5 306.8 459.1 307.8 459.1 308.8 459.0 309.8 458.7 310.8 458.7 311.8 458.6 312.8 458.6 313.8 458.2 314.8 457.8 315.8 457.8 316.8 457.7 317.8 457.4 318.8 457.2 319.8 456.9 320.8 456.8 321.8 457.0 322.8 456.8 323.8 456.6 324.8 456.8 325.8 456.9 326.8 456.7 327.8 456.6 328.8 456.4 329.8 456.4 330.8 456.4 331.8 456.3 332.8 456.0 333.8 455.7 334.8 455.7 335.8 455.5 336.8 455.5 337.8 454.9 338.8 454.9 339.8 454.8 340.8 454.5 341.8 454.2 342.8 454.1 343.8 454.3 344.8 454.3 345.8 454.1 346.8 454.2 347.8 453.8 348.8 453.9 349.8 453.8 350.8 454.2 351.8 454.2 352.8 454.3 353.8 454.4 354.8 454.7 355.8 454.9 356.8 455.0 357.8 455.2 358.8 455.3 359.8 455.7 360.8 456.1 361.8 456.2 362.8 456.0 363.8 455.9 364.8 455.7 365.8 455.4 366.8 455.1 367.8 454.9 368.8 454.5 369.8 454.2 370.8 454.0 371.8 453.5 372.8 453.2 373.8 453.0 374.8 452.7 375.8 452.3 376.8 451.7 377.8 451.1 378.8 450.7 379.8 450.3 380.8 449.7 381.8 449.1 382.8 448.4 383.8 448.0 384.8 447.7 385.8 447.8 386.8 448.0 387.8 447.9 388.8 448.1 389.8 448.3 390.8 448.2 391.8 448.3 392.8 448.4 393.8 448.4 394.8 448.6 395.8 448.7 396.8 449.3 397.8 449.7 398.8 449.7 399.8 449.8 400.8 450.0 401.8 450.5 402.8 450.6 403.8 451.1 404.8 451.5 405.8 451.6 406.8 451.9 407.8 451.9 408.8 451.9 409.8 452.4 410.8 452.6 411.8 452.7 412.8 453.1 413.8 453.5 414.8 453.7 415.8 454.0 416.8 454.3 417.8 454.3 418.8 454.6 419.8 454.7 420.8 454.9 421.8 455.1 422.8 455.3 423.8 455.9 424.8 455.9 425.8 456.3 426.8 456.4 427.8 456.5 428.8 457.1 429.8 457.4 430.8 457.8 431.8 457.9 432.8 458.0 433.8 458.2 434.8 458.0 435.8 458.0 436.8 458.3 437.8 458.7 438.8 458.6 439.8 458.7 440.8 458.4 441.8 457.9 442.8 457.4 443.8 456.6 444.8 455.9 445.8 455.3 446.8 454.4 447.8 453.5 448.8 452.7 449.8 451.8 450.8 451.3 451.8 451.4 452.8 451.4 453.8 451.4 454.8 451.9 455.8 452.0 456.8 452.4 457.8 452.2" fill="none" stroke="#20d820" stroke-width="2.8" stroke-linejoin="round" stroke-linecap="round"/></g><g clip-path="url(#cpf)"><path d="M78.8 520.4L79.7 516.6 80.6 521.4 81.5 519.5 82.4 523.8 83.3 517.0 84.2 519.7 85.1 517.1 86.0 520.4 86.9 523.5 87.8 522.0 88.7 522.1 89.6 522.5 90.5 518.8 91.4 521.0 92.3 529.2 93.2 539.1 94.1 537.9 95.0 536.1 95.9 531.8 96.8 534.8 97.7 532.2 98.6 531.2 99.5 533.2 100.4 533.9 101.3 532.2 102.2 532.5 103.1 529.1 104.0 528.0 104.9 527.6 105.8 524.5 106.7 521.8 107.6 522.6 108.5 522.0 109.4 518.3 110.3 520.1 111.2 516.3 112.1 518.0 113.0 519.2 113.9 524.4 114.8 524.4 115.7 523.9 116.6 520.2 117.5 519.8 118.4 520.3 119.3 514.4 120.2 512.2 121.1 506.7 122.0 503.9 122.9 512.4 123.8 518.3 124.7 526.0 125.6 529.1 126.5 525.9 127.4 528.4 128.3 523.3 129.2 519.3 130.1 516.5 131.0 519.8 131.9 517.7 132.8 521.3 133.7 518.9 134.6 520.4 135.5 519.7 136.4 525.3 137.3 525.4 138.2 523.3 139.1 521.0 140.0 522.5 140.9 520.5 141.8 521.4 142.7 520.4 143.6 518.0 144.5 514.2 145.4 511.6 146.3 514.7 147.2 513.6 148.1 508.4 149.0 513.8 149.9 517.3 150.8 522.6 151.7 520.4 152.6 518.7 153.5 518.3 154.4 512.4 155.3 507.1 156.2 503.7 157.1 500.0 158.0 536.5 158.9 533.0 159.8 528.8 160.7 525.8 161.6 525.3 162.5 524.6 163.4 520.6 164.3 517.3 165.2 515.6 166.1 512.9 167.0 509.2 167.9 504.5 168.8 503.9 169.7 500.4 170.6 509.9 171.5 526.7 172.4 529.4 173.3 524.9 174.2 515.4 175.1 508.3 176.0 510.8 176.9 510.8 177.8 513.2 178.7 520.0 179.6 519.9 180.5 523.1 181.4 518.7 182.3 513.7 183.2 510.0 184.1 504.9 185.0 498.9 185.9 516.9 186.8 536.8 187.7 542.2 188.6 544.3 189.5 542.1 190.4 537.5 191.3 540.2 192.2 537.4 193.1 533.1 194.0 533.0 194.9 526.1 195.8 519.2 196.7 512.9 197.6 507.5 198.5 510.6 199.4 526.0 200.3 536.5 201.2 523.1 202.1 517.3 203.0 505.4 203.9 504.0 204.8 495.5 205.7 492.9 206.6 489.7 207.5 485.4 208.4 484.7 209.3 489.0 210.2 494.6 211.1 497.2 212.0 502.6 212.9 510.5 213.8 508.5 214.7 503.1 215.6 505.5 216.5 507.8 217.4 508.8 218.3 513.9 219.2 515.4 220.1 514.2 221.0 518.1 221.9 519.8 222.8 517.2 223.7 514.4 224.6 512.3 225.5 510.2 226.4 511.8 227.3 520.1 228.2 518.1 229.1 517.5 230.0 511.3 230.9 512.3 231.8 509.7 232.7 513.4 233.6 511.0 234.5 512.7 235.4 512.5 236.3 511.4 237.2 509.6 238.1 510.8 239.0 508.8 239.9 509.9 240.8 514.9 241.7 512.1 242.6 515.9 243.5 518.2 244.4 522.8 245.3 522.1 246.2 524.3 247.1 525.1 248.0 526.1 248.9 524.0 249.8 521.7 250.7 520.1 251.6 517.0 252.5 516.3 253.4 519.7 254.3 520.8 255.2 517.9 256.1 522.3 257.0 516.9 257.9 517.9 258.8 520.2 259.7 515.6 260.6 517.3 261.5 518.1 262.4 515.4 263.3 514.2 264.2 511.5 265.1 513.2 266.0 512.8 266.9 514.3 267.8 512.0 268.7 511.2 269.6 505.2 270.5 506.4 271.4 511.0 272.3 511.1 273.2 516.3 274.1 514.8 275.0 516.1 275.9 519.3 276.8 517.9 277.7 518.3 278.6 517.4 279.5 518.1 280.4 522.0 281.3 522.4 282.2 524.5 283.1 523.9 284.0 523.1 284.9 520.5 285.8 521.8 286.7 518.1 287.6 515.1 288.5 517.1 289.4 515.7 290.3 509.9 291.2 511.6 292.1 508.4 293.0 503.9 293.9 507.9 294.8 512.3 295.7 510.9 296.6 513.9 297.5 510.6 298.4 509.0 299.2 512.0 300.1 511.6 301.0 511.2 301.9 513.3 302.8 512.7 303.7 514.2 304.6 514.6 305.5 514.2 306.4 512.2 307.3 509.6 308.2 510.0 309.1 510.8 310.0 514.8 310.9 517.1 311.8 518.6 312.7 517.9 313.6 519.8 314.5 524.9 315.4 524.2 316.3 530.0 317.2 534.3 318.1 540.0 319.0 537.1 319.9 536.1 320.8 531.6 321.7 531.7 322.6 526.6 323.5 527.8 324.4 526.0 325.3 522.7 326.2 523.0 327.1 523.5 328.0 525.2 328.9 524.1 329.8 524.8 330.7 528.1 331.6 529.1 332.5 525.4 333.4 527.6 334.3 528.6 335.2 530.4 336.1 528.8 337.0 529.0 337.9 530.6 338.8 531.0 339.7 531.0 340.6 530.3 341.5 530.8 342.4 526.4 343.3 529.7 344.2 526.4 345.1 526.6 346.0 525.6 346.9 525.2 347.8 524.4 348.7 523.3 349.6 520.7 350.5 520.9 351.4 523.1 352.3 525.3 353.2 523.1 354.1 521.8 355.0 527.0 355.9 529.4 356.8 531.4 357.7 532.6 358.6 531.1 359.5 527.8 360.4 530.9 361.3 526.9 362.2 523.3 363.1 522.6 364.0 516.2 364.9 514.6 365.8 516.6 366.7 518.8 367.6 517.6 368.5 517.0 369.4 517.5 370.3 519.7 371.2 515.6 372.1 516.6 373.0 519.6 373.9 524.0 374.8 526.0 375.7 527.4 376.6 525.0 377.5 527.6 378.4 527.2 379.3 529.7 380.2 531.2 381.1 530.6 382.0 531.9 382.9 532.4 383.8 532.3 384.7 532.5 385.6 531.8 386.5 533.2 387.4 533.8 388.3 533.3 389.2 532.8 390.1 532.4 391.0 532.4 391.9 532.5 392.8 531.9 393.7 535.1 394.6 533.6 395.5 537.0 396.4 537.5 397.3 536.2 398.2 538.9 399.1 538.0 400.0 537.9 400.9 535.0 401.8 535.2 402.7 535.1 403.6 538.4 404.5 536.4 405.4 537.5 406.3 538.5 407.2 536.1 408.1 535.8 409.0 534.6 409.9 532.6 410.8 534.0 411.7 532.6 412.6 532.3 413.5 531.7 414.4 530.8 415.3 528.9 416.2 531.7 417.1 532.0 418.0 529.2 418.9 530.3 419.8 529.8 420.7 529.4 421.6 530.6 422.5 529.7 423.4 528.3 424.3 529.2 425.2 529.8 426.1 528.1 427.0 530.3 427.9 530.8 428.8 531.7 429.7 532.7 430.6 532.1 431.5 529.9 432.4 528.5 433.3 529.1 434.2 528.1 435.1 530.3 436.0 528.7 436.9 529.6 437.8 530.4 438.7 529.6 439.6 531.7 440.5 530.4 441.4 529.8 442.3 527.9 443.2 527.8 444.1 529.0 445.0 527.8 445.9 528.0 446.8 528.7 447.7 527.7 448.6 527.9 449.5 525.9 450.4 524.6 451.3 525.1 452.2 527.1 453.1 524.5 454.0 523.9 454.9 523.5 455.8 526.6 456.7 523.5 457.6 522.7" fill="none" stroke="#0000e8" stroke-width="2.5" stroke-linejoin="round" stroke-linecap="round"/><path d="M78.8 519.7L79.7 520.0 80.6 522.8 81.5 523.8 82.4 523.5 83.3 523.3 84.2 520.7 85.1 521.8 86.0 522.9 86.9 524.7 87.8 524.7 88.7 526.4 89.6 525.6 90.5 523.5 91.4 522.2 92.3 522.1 93.2 522.9 94.1 522.7 95.0 523.2 95.9 524.5 96.8 523.5 97.7 522.2 98.6 522.9 99.5 522.0 100.4 520.0 101.3 521.5 102.2 521.4 103.1 521.8 104.0 522.3 104.9 523.7 105.8 522.8 106.7 521.4 107.6 520.4 108.5 520.1 109.4 520.1 110.3 520.3 111.2 520.9 112.1 521.5 113.0 522.4 113.9 522.6 114.8 524.9 115.7 523.1 116.6 523.1 117.5 523.4 118.4 523.5 119.3 522.1 120.2 522.3 121.1 521.0 122.0 520.0 122.9 522.0 123.8 519.5 124.7 520.8 125.6 519.2 126.5 520.2 127.4 521.2 128.3 522.6 129.2 522.8 130.1 522.0 131.0 520.7 131.9 521.8 132.8 521.2 133.7 521.0 134.6 518.4 135.5 519.0 136.4 517.9 137.3 517.7 138.2 516.8 139.1 516.1 140.0 515.9 140.9 513.6 141.8 515.3 142.7 515.5 143.6 518.0 144.5 517.6 145.4 519.4 146.3 521.2 147.2 522.2 148.1 521.6 149.0 522.6 149.9 520.8 150.8 520.9 151.7 521.1 152.6 522.4 153.5 521.8 154.4 521.0 155.3 522.1 156.2 521.5 157.1 521.0 158.0 523.2 158.9 523.1 159.8 524.1 160.7 523.4 161.6 522.4 162.5 523.0 163.4 520.8 164.3 520.1 165.2 520.5 166.1 522.5 167.0 520.8 167.9 522.8 168.8 522.6 169.7 522.0 170.6 521.9 171.5 522.4 172.4 520.9 173.3 521.3 174.2 518.6 175.1 519.2 176.0 520.2 176.9 519.1 177.8 519.6 178.7 520.7 179.6 520.0 180.5 521.4 181.4 522.3 182.3 521.0 183.2 520.8 184.1 522.7 185.0 520.9 185.9 522.7 186.8 521.5 187.7 522.2 188.6 521.0 189.5 522.2 190.4 521.5 191.3 521.7 192.2 520.8 193.1 522.4 194.0 521.9 194.9 523.4 195.8 522.3 196.7 521.7 197.6 521.1 198.5 521.0 199.4 520.4 200.3 520.5 201.2 521.2 202.1 522.1 203.0 522.0 203.9 521.1 204.8 522.5 205.7 521.2 206.6 521.5 207.5 521.9 208.4 522.1 209.3 521.9 210.2 522.4 211.1 521.1 212.0 520.9 212.9 521.0 213.8 521.1 214.7 520.5 215.6 521.1 216.5 519.7 217.4 520.3 218.3 520.2 219.2 520.4 220.1 519.1 221.0 520.5 221.9 520.1 222.8 521.3 223.7 519.5 224.6 520.2 225.5 521.2 226.4 521.7 227.3 521.5 228.2 521.8 229.1 520.8 230.0 520.3 230.9 520.3 231.8 521.2 232.7 521.1 233.6 520.5 234.5 519.8 235.4 521.4 236.3 520.0 237.2 519.7 238.1 521.0 239.0 520.8 239.9 520.4 240.8 520.8 241.7 520.5 242.6 520.5 243.5 520.1 244.4 519.7 245.3 521.6 246.2 519.7 247.1 521.4 248.0 520.4 248.9 521.5 249.8 521.9 250.7 521.6 251.6 519.5 252.5 521.4 253.4 519.7 254.3 519.6 255.2 521.1 256.1 520.6 257.0 518.8 257.9 520.3 258.8 518.7 259.7 519.4 260.6 519.4 261.5 517.1 262.4 516.8 263.3 516.2 264.2 515.7 265.1 517.0 266.0 515.3 266.9 516.3 267.8 517.9 268.7 516.3 269.6 517.7 270.5 518.9 271.4 519.3 272.3 519.2 273.2 517.6 274.1 517.7 275.0 519.6 275.9 519.1 276.8 519.3 277.7 520.0 278.6 520.4 279.5 519.4 280.4 521.1 281.3 519.4 282.2 520.7 283.1 518.7 284.0 518.5 284.9 519.8 285.8 520.0 286.7 519.7 287.6 518.2 288.5 520.2 289.4 520.1 290.3 520.0 291.2 519.6 292.1 518.0 293.0 519.2 293.9 518.6 294.8 518.8 295.7 519.5 296.6 520.5 297.5 520.1 298.4 521.0 299.2 519.6 300.1 519.0 301.0 520.8 301.9 521.1 302.8 520.3 303.7 519.7 304.6 520.8 305.5 520.0 306.4 520.4 307.3 521.0 308.2 521.4 309.1 521.5 310.0 520.1 310.9 521.3 311.8 522.1 312.7 522.2 313.6 522.2 314.5 523.2 315.4 524.4 316.3 525.9 317.2 527.8 318.1 526.7 319.0 527.3 319.9 526.1 320.8 525.5 321.7 525.6 322.6 525.2 323.5 525.3 324.4 523.1 325.3 524.0 326.2 523.4 327.1 522.3 328.0 523.3 328.9 521.7 329.8 520.9 330.7 521.9 331.6 522.4 332.5 522.6 333.4 521.0 334.3 521.1 335.2 522.7 336.1 523.3 337.0 522.3 337.9 523.0 338.8 521.7 339.7 521.6 340.6 522.4 341.5 523.5 342.4 521.5 343.3 522.4 344.2 522.7 345.1 521.1 346.0 522.9 346.9 521.4 347.8 522.9 348.7 522.3 349.6 520.9 350.5 521.1 351.4 521.2 352.3 520.0 353.2 521.3 354.1 520.2 355.0 519.1 355.9 518.6 356.8 519.0 357.7 517.6 358.6 517.1 359.5 515.6 360.4 515.4 361.3 515.1 362.2 515.4 363.1 514.5 364.0 514.1 364.9 516.1 365.8 516.3 366.7 514.2 367.6 516.5 368.5 515.2 369.4 516.0 370.3 516.4 371.2 516.2 372.1 517.8 373.0 518.9 373.9 520.1 374.8 521.0 375.7 520.8 376.6 521.4 377.5 520.6 378.4 522.2 379.3 522.1 380.2 521.2 381.1 521.8 382.0 521.8 382.9 521.7 383.8 521.0 384.7 521.5 385.6 521.6 386.5 522.5 387.4 522.1 388.3 521.8 389.2 520.7 390.1 521.1 391.0 520.7 391.9 521.4 392.8 522.0 393.7 522.1 394.6 522.5 395.5 522.2 396.4 522.3 397.3 521.6 398.2 521.2 399.1 521.6 400.0 522.1 400.9 521.9 401.8 521.9 402.7 520.7 403.6 523.0 404.5 521.5 405.4 521.3 406.3 522.5 407.2 521.4 408.1 522.3 409.0 520.6 409.9 521.6 410.8 520.4 411.7 521.4 412.6 522.1 413.5 520.8 414.4 521.6 415.3 521.8 416.2 521.0 417.1 520.4 418.0 521.6 418.9 521.9 419.8 522.1 420.7 522.2 421.6 521.9 422.5 520.7 423.4 521.6 424.3 521.7 425.2 520.9 426.1 521.9 427.0 520.1 427.9 521.6 428.8 521.5 429.7 520.4 430.6 520.1 431.5 521.4 432.4 520.0 433.3 520.5 434.2 522.0 435.1 521.6 436.0 520.7 436.9 520.9 437.8 520.5 438.7 521.6 439.6 521.1 440.5 521.3 441.4 520.4 442.3 522.0 443.2 520.4 444.1 521.5 445.0 522.2 445.9 521.9 446.8 519.9 447.7 521.1 448.6 521.5 449.5 520.9 450.4 520.4 451.3 520.3 452.2 520.7 453.1 521.4 454.0 521.1 454.9 521.8 455.8 520.5 456.7 521.4 457.6 522.1" fill="none" stroke="#e80000" stroke-width="2.5" stroke-linejoin="round" stroke-linecap="round"/><path d="M78.8 518.7L79.7 517.6 80.6 516.4 81.5 514.7 82.4 514.9 83.3 517.7 84.2 518.2 85.1 519.4 86.0 518.8 86.9 515.2 87.8 514.1 88.7 513.9 89.6 515.2 90.5 515.6 91.4 517.8 92.3 517.3 93.2 517.5 94.1 515.7 95.0 516.6 95.9 514.3 96.8 516.2 97.7 515.5 98.6 516.8 99.5 517.8 100.4 517.0 101.3 517.6 102.2 517.4 103.1 516.6 104.0 516.9 104.9 516.1 105.8 515.3 106.7 517.2 107.6 518.1 108.5 516.6 109.4 517.0 110.3 518.1 111.2 517.8 112.1 517.1 113.0 516.1 113.9 516.4 114.8 515.8 115.7 516.5 116.6 517.9 117.5 517.3 118.4 519.1 119.3 519.5 120.2 518.3 121.1 518.6 122.0 517.4 122.9 517.1 123.8 517.6 124.7 516.1 125.6 517.4 126.5 516.9 127.4 517.1 128.3 516.7 129.2 516.7 130.1 514.2 131.0 514.7 131.9 509.6 132.8 510.2 133.7 508.1 134.6 505.1 135.5 504.1 136.4 501.5 137.3 503.9 138.2 502.2 139.1 502.8 140.0 501.6 140.9 503.8 141.8 504.4 142.7 504.3 143.6 505.1 144.5 508.6 145.4 513.8 146.3 514.7 147.2 514.7 148.1 518.7 149.0 517.7 149.9 516.1 150.8 519.4 151.7 518.5 152.6 518.8 153.5 519.7 154.4 519.7 155.3 518.1 156.2 519.3 157.1 517.8 158.0 517.2 158.9 517.2 159.8 517.3 160.7 518.2 161.6 517.6 162.5 519.0 163.4 518.1 164.3 517.5 165.2 518.5 166.1 517.7 167.0 517.6 167.9 519.7 168.8 518.0 169.7 518.1 170.6 518.4 171.5 518.0 172.4 518.6 173.3 519.0 174.2 518.3 175.1 518.6 176.0 517.4 176.9 517.6 177.8 517.7 178.7 518.4 179.6 518.6 180.5 519.1 181.4 518.1 182.3 517.5 183.2 518.0 184.1 518.1 185.0 519.4 185.9 519.0 186.8 518.6 187.7 518.7 188.6 519.4 189.5 519.4 190.4 519.9 191.3 518.9 192.2 519.3 193.1 519.7 194.0 519.5 194.9 517.8 195.8 519.5 196.7 518.4 197.6 519.1 198.5 519.0 199.4 518.8 200.3 518.7 201.2 518.6 202.1 519.2 203.0 518.3 203.9 517.6 204.8 518.3 205.7 518.4 206.6 519.0 207.5 518.5 208.4 518.1 209.3 518.9 210.2 518.3 211.1 517.8 212.0 519.5 212.9 518.8 213.8 518.7 214.7 519.2 215.6 518.7 216.5 518.5 217.4 517.7 218.3 519.0 219.2 518.2 220.1 519.0 221.0 519.7 221.9 519.2 222.8 519.3 223.7 517.9 224.6 519.1 225.5 519.7 226.4 518.9 227.3 519.2 228.2 518.4 229.1 519.3 230.0 518.3 230.9 518.9 231.8 519.5 232.7 519.0 233.6 519.2 234.5 518.2 235.4 519.1 236.3 519.3 237.2 519.4 238.1 518.3 239.0 519.1 239.9 519.0 240.8 519.1 241.7 518.3 242.6 519.7 243.5 519.1 244.4 518.5 245.3 519.9 246.2 519.1 247.1 518.4 248.0 518.6 248.9 518.5 249.8 518.2 250.7 518.0 251.6 517.8 252.5 517.7 253.4 519.1 254.3 518.3 255.2 518.3 256.1 518.4 257.0 519.6 257.9 519.5 258.8 518.0 259.7 518.9 260.6 519.5 261.5 519.3 262.4 518.5 263.3 519.2 264.2 517.9 265.1 519.1 266.0 518.0 266.9 519.1 267.8 518.2 268.7 519.5 269.6 517.8 270.5 518.2 271.4 518.0 272.3 518.6 273.2 517.7 274.1 517.9 275.0 518.1 275.9 517.7 276.8 519.2 277.7 519.5 278.6 519.8 279.5 518.6 280.4 518.4 281.3 518.9 282.2 518.4 283.1 517.6 284.0 518.5 284.9 519.3 285.8 518.1 286.7 518.2 287.6 518.3 288.5 519.3 289.4 518.3 290.3 518.2 291.2 518.0 292.1 517.8 293.0 519.4 293.9 519.6 294.8 519.2 295.7 518.7 296.6 518.1 297.5 518.8 298.4 518.6 299.2 518.0 300.1 518.9 301.0 519.4 301.9 518.9 302.8 518.2 303.7 519.6 304.6 519.5 305.5 518.9 306.4 518.2 307.3 518.1 308.2 519.6 309.1 518.2 310.0 517.8 310.9 518.3 311.8 519.5 312.7 519.5 313.6 519.7 314.5 519.7 315.4 519.4 316.3 519.1 317.2 519.6 318.1 519.1 319.0 520.0 319.9 518.6 320.8 518.0 321.7 519.6 322.6 519.1 323.5 520.0 324.4 519.0 325.3 519.3 326.2 518.4 327.1 519.0 328.0 518.5 328.9 518.2 329.8 518.4 330.7 519.7 331.6 520.1 332.5 518.3 333.4 520.0 334.3 519.4 335.2 519.3 336.1 518.4 337.0 520.5 337.9 519.8 338.8 518.7 339.7 519.5 340.6 519.1 341.5 519.1 342.4 518.5 343.3 520.4 344.2 519.3 345.1 518.5 346.0 518.7 346.9 519.0 347.8 520.4 348.7 519.5 349.6 519.0 350.5 520.0 351.4 518.1 352.3 519.6 353.2 518.2 354.1 519.3 355.0 519.5 355.9 519.6 356.8 519.4 357.7 518.9 358.6 520.1 359.5 519.7 360.4 518.0 361.3 518.0 362.2 518.2 363.1 518.9 364.0 518.3 364.9 518.7 365.8 518.2 366.7 518.7 367.6 518.6 368.5 518.5 369.4 520.1 370.3 519.7 371.2 520.1 372.1 519.1 373.0 518.6 373.9 518.6 374.8 519.7 375.7 518.8 376.6 518.6 377.5 519.2 378.4 519.2 379.3 519.0 380.2 519.3 381.1 520.1 382.0 519.9 382.9 519.0 383.8 519.3 384.7 520.5 385.6 520.5 386.5 519.2 387.4 518.9 388.3 518.8 389.2 519.3 390.1 520.4 391.0 518.6 391.9 519.6 392.8 520.0 393.7 518.5 394.6 519.9 395.5 518.6 396.4 519.0 397.3 519.4 398.2 519.1 399.1 519.0 400.0 518.7 400.9 519.3 401.8 520.3 402.7 520.3 403.6 519.2 404.5 518.6 405.4 519.8 406.3 519.5 407.2 520.1 408.1 519.5 409.0 519.1 409.9 518.6 410.8 519.3 411.7 518.6 412.6 518.8 413.5 519.0 414.4 519.4 415.3 519.3 416.2 519.3 417.1 518.5 418.0 518.7 418.9 518.6 419.8 518.9 420.7 519.2 421.6 519.4 422.5 520.0 423.4 518.4 424.3 518.9 425.2 520.6 426.1 519.7 427.0 518.9 427.9 520.4 428.8 520.1 429.7 519.7 430.6 520.6 431.5 519.2 432.4 519.5 433.3 518.9 434.2 520.1 435.1 518.7 436.0 519.6 436.9 520.0 437.8 520.4 438.7 519.5 439.6 519.0 440.5 518.7 441.4 519.1 442.3 518.4 443.2 520.3 444.1 518.5 445.0 520.1 445.9 519.0 446.8 518.3 447.7 520.1 448.6 520.2 449.5 518.3 450.4 520.1 451.3 518.4 452.2 519.2 453.1 518.9 454.0 518.3 454.9 518.4 455.8 519.8 456.7 519.2 457.6 519.0" fill="none" stroke="#20d820" stroke-width="2.5" stroke-linejoin="round" stroke-linecap="round"/></g><g clip-path="url(#cpg)"><path d="M78.8 597.5L80.0 601.0 82.0 606.8 84.0 601.8 87.0 609.0 89.0 604.0 91.0 598.5 93.0 606.8 95.0 611.8 97.0 619.0 99.0 629.2 101.0 633.0 103.0 628.0 105.0 624.2 108.0 626.8 110.0 625.5 112.0 623.0 113.0 628.0 116.0 623.8 118.0 628.0 120.0 620.5 122.0 616.8 124.0 613.0 126.0 619.2 128.0 626.8 130.0 628.0 133.0 623.0 135.0 588.0 137.0 590.5 138.0 597.5 140.0 588.0 142.0 596.8 144.0 610.5 146.0 578.0 148.0 590.5 150.0 613.0 152.0 571.8 154.0 590.5 156.0 618.0 158.0 604.2 160.0 610.5 162.0 635.5 164.0 638.0 167.0 624.2 170.0 633.0 174.0 638.0 177.0 635.5 180.0 636.8 183.0 638.0 186.0 636.5 190.0 638.0 200.0 638.0 210.0 637.5 220.0 638.0 230.0 637.5 240.0 638.0 250.0 637.0 260.0 637.5 270.0 637.0 280.0 637.5 290.0 637.0 300.0 637.5 310.0 637.0 320.0 637.5 330.0 637.5 340.0 637.0 350.0 637.5 360.0 637.0 370.0 637.5 380.0 637.4 390.0 637.6 400.0 637.2 410.0 637.7 420.0 637.4 430.0 637.8 440.0 637.9 450.0 638.3 455.0 637.5 458.5 636.0" fill="none" stroke="#0000e8" stroke-width="2.8" stroke-linejoin="round" stroke-linecap="round"/><path d="M78.8 603.0L80.0 606.0 82.0 610.0 84.0 606.0 87.0 612.0 89.0 608.0 91.0 603.0 93.0 610.0 95.0 614.0 97.0 621.0 99.0 630.5 101.0 634.0 103.0 629.5 105.0 626.0 108.0 628.0 110.0 627.0 112.0 625.0 113.0 629.0 116.0 625.5 118.0 629.5 120.0 622.5 122.0 619.0 124.0 616.0 126.0 621.0 128.0 628.0 130.0 629.5 133.0 625.0 135.0 596.8 137.0 598.0 138.0 603.0 140.0 596.0 142.0 602.0 144.0 613.0 146.0 592.0 148.0 598.0 150.0 616.0 152.0 589.0 154.0 598.0 156.0 620.0 158.0 608.0 160.0 613.0 162.0 636.0 164.0 638.0 167.0 627.0 170.0 634.0 174.0 638.0 177.0 636.0 180.0 637.0 183.0 638.0 186.0 636.0 190.0 637.0 200.0 636.5 210.0 635.5 220.0 636.0 225.0 635.0 230.0 636.5 240.0 635.5 250.0 636.0 260.0 635.0 265.0 634.5 270.0 635.5 280.0 635.0 290.0 636.0 300.0 635.0 308.0 634.5 314.0 632.0 318.0 630.0 322.0 629.5 326.0 629.2 330.0 630.5 335.0 632.0 340.0 633.0 345.0 633.5 350.0 632.5 355.0 633.0 360.0 632.5 363.0 634.5 366.0 637.5 370.0 637.5 380.0 637.4 390.0 637.6 400.0 637.2 410.0 637.7 420.0 637.4 430.0 637.8 440.0 637.9 450.0 638.3 455.0 637.5 458.5 635.5" fill="none" stroke="#e80000" stroke-width="2.8" stroke-linejoin="round" stroke-linecap="round"/></g><rect x="78.75" y="25.2" width="379.75" height="88.35" fill="none" stroke="#555" stroke-width="1"/><path d="M99.5 113.55v-3.2M99.5 25.2v3.2M171.5 113.55v-3.2M171.5 25.2v3.2M243.5 113.55v-3.2M243.5 25.2v3.2M315.5 113.55v-3.2M315.5 25.2v3.2M387.5 113.55v-3.2M387.5 25.2v3.2M78.75 36.8h3.5M458.5 36.8h-3.5M78.75 64.4h3.5M458.5 64.4h-3.5M78.75 91.8h3.5M458.5 91.8h-3.5M78.75 28.52h2M458.5 28.52h-2M78.75 56.12h2M458.5 56.12h-2M78.75 51.28h2M458.5 51.28h-2M78.75 47.84h2M458.5 47.84h-2M78.75 45.18h2M458.5 45.18h-2M78.75 43.00h2M458.5 43.00h-2M78.75 41.16h2M458.5 41.16h-2M78.75 39.57h2M458.5 39.57h-2M78.75 38.16h2M458.5 38.16h-2M78.75 83.52h2M458.5 83.52h-2M78.75 78.68h2M458.5 78.68h-2M78.75 75.24h2M458.5 75.24h-2M78.75 72.58h2M458.5 72.58h-2M78.75 70.40h2M458.5 70.40h-2M78.75 68.56h2M458.5 68.56h-2M78.75 66.97h2M458.5 66.97h-2M78.75 65.56h2M458.5 65.56h-2M78.75 110.92h2M458.5 110.92h-2M78.75 106.08h2M458.5 106.08h-2M78.75 102.64h2M458.5 102.64h-2M78.75 99.98h2M458.5 99.98h-2M78.75 97.80h2M458.5 97.80h-2M78.75 95.96h2M458.5 95.96h-2M78.75 94.37h2M458.5 94.37h-2M78.75 92.96h2M458.5 92.96h-2" stroke="#444" stroke-width="0.9" fill="none"/><rect x="78.75" y="113.55" width="379.75" height="88.35" fill="none" stroke="#555" stroke-width="1"/><path d="M99.5 201.89999999999998v-3.2M99.5 113.55v3.2M171.5 201.89999999999998v-3.2M171.5 113.55v3.2M243.5 201.89999999999998v-3.2M243.5 113.55v3.2M315.5 201.89999999999998v-3.2M315.5 113.55v3.2M387.5 201.89999999999998v-3.2M387.5 113.55v3.2M78.75 201.90h3.5M458.5 201.90h-3.5M78.75 165.09h3.5M458.5 165.09h-3.5M78.75 128.28h3.5M458.5 128.28h-3.5" stroke="#444" stroke-width="0.9" fill="none"/><rect x="78.75" y="201.89999999999998" width="379.75" height="88.35" fill="none" stroke="#555" stroke-width="1"/><path d="M99.5 290.25v-3.2M99.5 201.89999999999998v3.2M171.5 290.25v-3.2M171.5 201.89999999999998v3.2M243.5 290.25v-3.2M243.5 201.89999999999998v3.2M315.5 290.25v-3.2M315.5 201.89999999999998v3.2M387.5 290.25v-3.2M387.5 201.89999999999998v3.2M78.75 290.25h3.5M458.5 290.25h-3.5M78.75 253.44h3.5M458.5 253.44h-3.5M78.75 216.62h3.5M458.5 216.62h-3.5" stroke="#444" stroke-width="0.9" fill="none"/><rect x="78.75" y="290.24999999999994" width="379.75" height="88.35" fill="none" stroke="#555" stroke-width="1"/><path d="M99.5 378.5999999999999v-3.2M99.5 290.24999999999994v3.2M171.5 378.5999999999999v-3.2M171.5 290.24999999999994v3.2M243.5 378.5999999999999v-3.2M243.5 290.24999999999994v3.2M315.5 378.5999999999999v-3.2M315.5 290.24999999999994v3.2M387.5 378.5999999999999v-3.2M387.5 290.24999999999994v3.2M78.75 378.60h3.5M458.5 378.60h-3.5M78.75 353.36h3.5M458.5 353.36h-3.5M78.75 328.12h3.5M458.5 328.12h-3.5M78.75 302.87h3.5M458.5 302.87h-3.5" stroke="#444" stroke-width="0.9" fill="none"/><rect x="78.75" y="378.59999999999997" width="379.75" height="88.35" fill="none" stroke="#555" stroke-width="1"/><path d="M99.5 466.94999999999993v-3.2M99.5 378.59999999999997v3.2M171.5 466.94999999999993v-3.2M171.5 378.59999999999997v3.2M243.5 466.94999999999993v-3.2M243.5 378.59999999999997v3.2M315.5 466.94999999999993v-3.2M315.5 378.59999999999997v3.2M387.5 466.94999999999993v-3.2M387.5 378.59999999999997v3.2M78.75 458.10h3.5M458.5 458.10h-3.5M78.75 440.43h3.5M458.5 440.43h-3.5M78.75 422.76h3.5M458.5 422.76h-3.5M78.75 405.09h3.5M458.5 405.09h-3.5M78.75 387.42h3.5M458.5 387.42h-3.5" stroke="#444" stroke-width="0.9" fill="none"/><rect x="78.75" y="466.95" width="379.75" height="88.35" fill="none" stroke="#555" stroke-width="1"/><path d="M99.5 555.3v-3.2M99.5 466.95v3.2M171.5 555.3v-3.2M171.5 466.95v3.2M243.5 555.3v-3.2M243.5 466.95v3.2M315.5 555.3v-3.2M315.5 466.95v3.2M387.5 555.3v-3.2M387.5 466.95v3.2M78.75 543.38h3.5M458.5 543.38h-3.5M78.75 519.50h3.5M458.5 519.50h-3.5M78.75 495.62h3.5M458.5 495.62h-3.5M78.75 471.74h3.5M458.5 471.74h-3.5" stroke="#444" stroke-width="0.9" fill="none"/><rect x="78.75" y="555.3" width="379.75" height="88.35" fill="none" stroke="#555" stroke-width="1"/><path d="M99.5 643.65v-3.2M99.5 555.3v3.2M171.5 643.65v-3.2M171.5 555.3v3.2M243.5 643.65v-3.2M243.5 555.3v3.2M315.5 643.65v-3.2M315.5 555.3v3.2M387.5 643.65v-3.2M387.5 555.3v3.2M78.75 643.65h3.5M458.5 643.65h-3.5M78.75 604.39h3.5M458.5 604.39h-3.5M78.75 565.13h3.5M458.5 565.13h-3.5" stroke="#444" stroke-width="0.9" fill="none"/><rect x="78.75" y="643.65" width="379.75" height="88.35" fill="none" stroke="#555" stroke-width="1"/><path d="M99.5 732.0v-3.2M99.5 643.65v3.2M171.5 732.0v-3.2M171.5 643.65v3.2M243.5 732.0v-3.2M243.5 643.65v3.2M315.5 732.0v-3.2M315.5 643.65v3.2M387.5 732.0v-3.2M387.5 643.65v3.2M78.75 732.00h3.5M458.5 732.00h-3.5M78.75 707.46h3.5M458.5 707.46h-3.5M78.75 682.92h3.5M458.5 682.92h-3.5M78.75 658.38h3.5M458.5 658.38h-3.5" stroke="#444" stroke-width="0.9" fill="none"/><rect x="78.75" y="732.0" width="379.75" height="88.35" fill="none" stroke="#555" stroke-width="1"/><path d="M99.5 820.35v-3.2M99.5 732.0v3.2M171.5 820.35v-3.2M171.5 732.0v3.2M243.5 820.35v-3.2M243.5 732.0v3.2M315.5 820.35v-3.2M315.5 732.0v3.2M387.5 820.35v-3.2M387.5 732.0v3.2M78.75 820.30h3.5M458.5 820.30h-3.5M78.75 796.22h3.5M458.5 796.22h-3.5M78.75 772.15h3.5M458.5 772.15h-3.5M78.75 748.07h3.5M458.5 748.07h-3.5" stroke="#444" stroke-width="0.9" fill="none"/><line x1="370.4" y1="113.55" x2="370.4" y2="25.20" stroke="#e01010" stroke-width="3.6" stroke-dasharray="14.3 14.1"/><line x1="370.4" y1="201.90" x2="370.4" y2="113.55" stroke="#e01010" stroke-width="3.6" stroke-dasharray="14.3 14.1"/><line x1="370.4" y1="290.25" x2="370.4" y2="201.90" stroke="#e01010" stroke-width="3.6" stroke-dasharray="14.3 14.1"/><line x1="370.4" y1="378.60" x2="370.4" y2="290.25" stroke="#e01010" stroke-width="3.6" stroke-dasharray="14.3 14.1"/><line x1="370.4" y1="466.95" x2="370.4" y2="378.60" stroke="#e01010" stroke-width="3.6" stroke-dasharray="14.3 14.1"/><line x1="370.4" y1="555.30" x2="370.4" y2="466.95" stroke="#e01010" stroke-width="3.6" stroke-dasharray="14.3 14.1"/><line x1="370.4" y1="643.65" x2="370.4" y2="555.30" stroke="#e01010" stroke-width="3.6" stroke-dasharray="14.3 14.1"/><line x1="370.4" y1="732.00" x2="370.4" y2="643.65" stroke="#e01010" stroke-width="3.6" stroke-dasharray="14.3 14.1"/><line x1="370.4" y1="820.35" x2="370.4" y2="732.00" stroke="#e01010" stroke-width="3.6" stroke-dasharray="14.3 14.1"/><rect x="390.4" y="384.1" width="59.20" height="59.90" fill="#fff" stroke="#666" stroke-width="0.9"/><line x1="393.7" y1="395.1" x2="428.7" y2="395.1" stroke="#0000e8" stroke-width="2.2"/><line x1="393.7" y1="414.1" x2="428.7" y2="414.1" stroke="#e80000" stroke-width="2.2"/><line x1="393.7" y1="432.9" x2="428.7" y2="432.9" stroke="#20d820" stroke-width="2.2"/><rect x="385.5" y="472.1" width="64.10" height="60.00" fill="#fff" stroke="#666" stroke-width="0.9"/><line x1="388.7" y1="483.6" x2="423.6" y2="483.6" stroke="#0000e8" stroke-width="2.2"/><line x1="388.7" y1="502.1" x2="423.6" y2="502.1" stroke="#e80000" stroke-width="2.2"/><line x1="388.7" y1="521.3" x2="423.6" y2="521.3" stroke="#20d820" stroke-width="2.2"/><rect x="385.5" y="560.5" width="64.20" height="41.00" fill="#fff" stroke="#666" stroke-width="0.9"/><line x1="388.7" y1="571.9" x2="424.4" y2="571.9" stroke="#0000e8" stroke-width="3"/><line x1="388.7" y1="589.9" x2="424.4" y2="589.9" stroke="#e80000" stroke-width="1.4"/><defs><linearGradient id="cba" x1="0" y1="0" x2="0" y2="1"><stop offset="0.0000" stop-color="#800000"/><stop offset="0.0625" stop-color="#bf0000"/><stop offset="0.1250" stop-color="#ff0000"/><stop offset="0.1875" stop-color="#ff4000"/><stop offset="0.2500" stop-color="#ff8000"/><stop offset="0.3125" stop-color="#ffbf00"/><stop offset="0.3750" stop-color="#ffff00"/><stop offset="0.4375" stop-color="#bfff40"/><stop offset="0.5000" stop-color="#80ff80"/><stop offset="0.5625" stop-color="#40ffbf"/><stop offset="0.6250" stop-color="#00ffff"/><stop offset="0.6875" stop-color="#00bfff"/><stop offset="0.7500" stop-color="#0080ff"/><stop offset="0.8125" stop-color="#0040ff"/><stop offset="0.8750" stop-color="#0000ff"/><stop offset="0.9375" stop-color="#0000bf"/><stop offset="1.0000" stop-color="#000080"/></linearGradient></defs><rect x="468" y="25.3" width="19.1" height="88.30" fill="url(#cba)" stroke="#333" stroke-width="0.8"/><defs><linearGradient id="cbh" x1="0" y1="0" x2="0" y2="1"><stop offset="0.0000" stop-color="#800000"/><stop offset="0.0625" stop-color="#bf0000"/><stop offset="0.1250" stop-color="#ff0000"/><stop offset="0.1875" stop-color="#ff4000"/><stop offset="0.2500" stop-color="#ff8000"/><stop offset="0.3125" stop-color="#ffbf00"/><stop offset="0.3750" stop-color="#ffff00"/><stop offset="0.4375" stop-color="#bfff40"/><stop offset="0.5000" stop-color="#80ff80"/><stop offset="0.5625" stop-color="#40ffbf"/><stop offset="0.6250" stop-color="#00ffff"/><stop offset="0.6875" stop-color="#00bfff"/><stop offset="0.7500" stop-color="#0080ff"/><stop offset="0.8125" stop-color="#0040ff"/><stop offset="0.8750" stop-color="#0000ff"/><stop offset="0.9375" stop-color="#0000bf"/><stop offset="1.0000" stop-color="#000080"/></linearGradient></defs><rect x="468" y="644.1" width="19.1" height="88.30" fill="url(#cbh)" stroke="#333" stroke-width="0.8"/><path d="M468 33.2h2.5M487.1 33.2h-2.5M468 62.7h2.5M487.1 62.7h-2.5M468 91.9h2.5M487.1 91.9h-2.5M468 657h2.5M487.1 657h-2.5M468 682.4h2.5M487.1 682.4h-2.5M468 707.5h2.5M487.1 707.5h-2.5M468 732.4h2.5M487.1 732.4h-2.5" stroke="#333" stroke-width="0.8"/><g style='font-family:"Liberation Sans",sans-serif' font-size="13" fill="#333" stroke="#333" stroke-width="0.3"><text x="67.5" y="41.40" text-anchor="end">10</text><text x="67.8" y="35.60" font-size="10">3</text><text x="67.5" y="69.00" text-anchor="end">10</text><text x="67.8" y="63.20" font-size="10">2</text><text x="67.5" y="96.40" text-anchor="end">10</text><text x="67.8" y="90.60" font-size="10">1</text><text x="0" y="28.10" font-weight="bold" font-size="14" fill="#000">(a)</text><text transform="translate(44.5,69.90) rotate(-90) scale(1.060,1)" text-anchor="middle" font-size="13.3">f (Hz)</text><text x="73.3" y="206.50" text-anchor="end">0</text><text x="73.3" y="169.69" text-anchor="end">5</text><text x="73.3" y="132.88" text-anchor="end">10</text><text x="0" y="116.45" font-weight="bold" font-size="14" fill="#000">(b)</text><text transform="translate(45.9,157.55) rotate(-90) scale(1.000,1)" text-anchor="middle" font-size="13.3">P<tspan dy="6.8" font-size="10">WS</tspan><tspan dy="-6.8"> (nJ/cm</tspan><tspan dy="-6.3" font-size="10">3</tspan><tspan dy="6.3">)</tspan></text><text x="73.3" y="294.85" text-anchor="end">0</text><text x="73.3" y="258.04" text-anchor="end">5</text><text x="73.3" y="221.22" text-anchor="end">10</text><text x="0" y="204.80" font-weight="bold" font-size="14" fill="#000">(c)</text><text transform="translate(45.9,245.00) rotate(-90) scale(1.060,1)" text-anchor="middle" font-size="13.3">P<tspan dy="6.8" font-size="10">LHD</tspan><tspan dy="-6.8"> (nJ/cm</tspan><tspan dy="-6.3" font-size="10">3</tspan><tspan dy="6.3">)</tspan></text><text x="73.3" y="383.20" text-anchor="end">0</text><text x="73.3" y="357.96" text-anchor="end">2</text><text x="73.3" y="332.72" text-anchor="end">4</text><text x="73.3" y="307.47" text-anchor="end">6</text><text x="0" y="293.15" font-weight="bold" font-size="14" fill="#000">(d)</text><text transform="translate(53.7,333.95) rotate(-90) scale(1.150,1)" text-anchor="middle" font-size="13.3">n<tspan dy="6.8" font-size="10">e</tspan><tspan dy="-6.8"> (/cm</tspan><tspan dy="-6.9" font-size="10">3</tspan><tspan dy="6.9">)</tspan></text><text x="73.3" y="462.70" text-anchor="end">0</text><text x="73.3" y="445.03" text-anchor="end">20</text><text x="73.3" y="427.36" text-anchor="end">40</text><text x="73.3" y="409.69" text-anchor="end">60</text><text x="73.3" y="392.02" text-anchor="end">80</text><text x="0" y="381.50" font-weight="bold" font-size="14" fill="#000">(e)</text><text transform="translate(50.8,422.40) rotate(-90) scale(1.000,1)" text-anchor="middle" font-size="13.3">B (nT)</text><text x="73.3" y="547.98" text-anchor="end">−1000</text><text x="73.3" y="524.10" text-anchor="end">0</text><text x="73.3" y="500.22" text-anchor="end">1000</text><text x="73.3" y="476.34" text-anchor="end">2000</text><text x="0" y="469.85" font-weight="bold" font-size="14" fill="#000">(f)</text><text transform="translate(25.5,511.60) rotate(-90) scale(1.110,1)" text-anchor="middle" font-size="13.3">V<tspan dy="5.8" font-size="10">e</tspan><tspan dy="-5.8"> (km/s)</tspan></text><text x="73.3" y="648.25" text-anchor="end">0</text><text x="73.3" y="608.99" text-anchor="end">200</text><text x="73.3" y="569.73" text-anchor="end">400</text><text x="0" y="558.20" font-weight="bold" font-size="14" fill="#000">(g)</text><text transform="translate(38.7,600.00) rotate(-90) scale(1.020,1)" text-anchor="middle" font-size="13.3">T<tspan dy="6.8" font-size="10">e</tspan><tspan dy="-6.8"> (eV)</tspan></text><text x="73.3" y="736.60" text-anchor="end">0</text><text x="73.3" y="712.06" text-anchor="end">50</text><text x="73.3" y="687.52" text-anchor="end">100</text><text x="73.3" y="662.98" text-anchor="end">150</text><text x="0" y="646.55" font-weight="bold" font-size="14" fill="#000">(h)</text><text transform="translate(44.2,688.25) rotate(-90) scale(1.020,1)" text-anchor="middle" font-size="13.3"><tspan font-style="italic" font-size="12">ϕ</tspan> (degree)</text><text x="73.3" y="824.90" text-anchor="end">0</text><text x="73.3" y="800.82" text-anchor="end">50</text><text x="73.3" y="776.75" text-anchor="end">100</text><text x="73.3" y="752.67" text-anchor="end">150</text><text x="0" y="734.90" font-weight="bold" font-size="14" fill="#000">(i)</text><text transform="translate(44.2,776.50) rotate(-90) scale(1.020,1)" text-anchor="middle" font-size="13.3"><tspan font-style="italic" font-size="12">ϕ</tspan> (degree)</text><text x="99.8" y="836.8" text-anchor="middle">07:40:30</text><text x="171.8" y="836.8" text-anchor="middle">07:40:40</text><text x="243.8" y="836.8" text-anchor="middle">07:40:50</text><text x="315.8" y="836.8" text-anchor="middle">07:41:00</text><text x="387.8" y="836.8" text-anchor="middle">07:41:10</text><text x="191.6" y="852.6" font-size="14.5">Time (UT) on 9/19/2015</text><text x="432.4" y="396.8" font-size="10.5">B<tspan dy="4.2" font-size="8">L</tspan></text><text x="432.4" y="415.8" font-size="10.5">B<tspan dy="4.2" font-size="8">M</tspan></text><text x="432.4" y="434.6" font-size="10.5">B<tspan dy="4.2" font-size="8">N</tspan></text><text x="426.6" y="485.5" font-size="10.5">V<tspan dy="4.2" font-size="8">eL</tspan></text><text x="426.6" y="504.0" font-size="10.5">V<tspan dy="4.2" font-size="8">eM</tspan></text><text x="426.6" y="523.2" font-size="10.5">V<tspan dy="4.2" font-size="8">eN</tspan></text><text x="427.0" y="573.5" font-size="10.5">T<tspan dy="4.2" font-size="8">e⊥</tspan></text><text x="427.0" y="591.5" font-size="10.5">T<tspan dy="4.2" font-size="8">e||</tspan></text><text x="492.3" y="37.3" font-size="11.5">1</text><text x="492.3" y="66.8" font-size="11.5">−1</text><text x="492.3" y="96.0" font-size="11.5">−3</text><text x="492.3" y="661.1" font-size="11.5">7</text><text x="492.3" y="686.5" font-size="11.5">6</text><text x="492.3" y="711.6" font-size="11.5">5</text><text x="492.3" y="736.5" font-size="11.5">4</text><text x="471.3" y="636.5" font-size="11">PAD</text><text font-size="13"><tspan x="439.4" y="12.7">log</tspan><tspan x="457.6" y="18.3" font-size="9.8">10</tspan><tspan x="472.8" y="12.7">(B</tspan><tspan x="484.2" y="6.8" font-size="9.8">2</tspan><tspan x="490.2" y="12.7">/2</tspan><tspan x="502.2" y="12.7" font-style="italic">μ</tspan><tspan x="510.4" y="18.5" font-size="9.8">0</tspan><tspan x="517.3" y="12.7">)</tspan></text></g>
</svg>
</body></html>
